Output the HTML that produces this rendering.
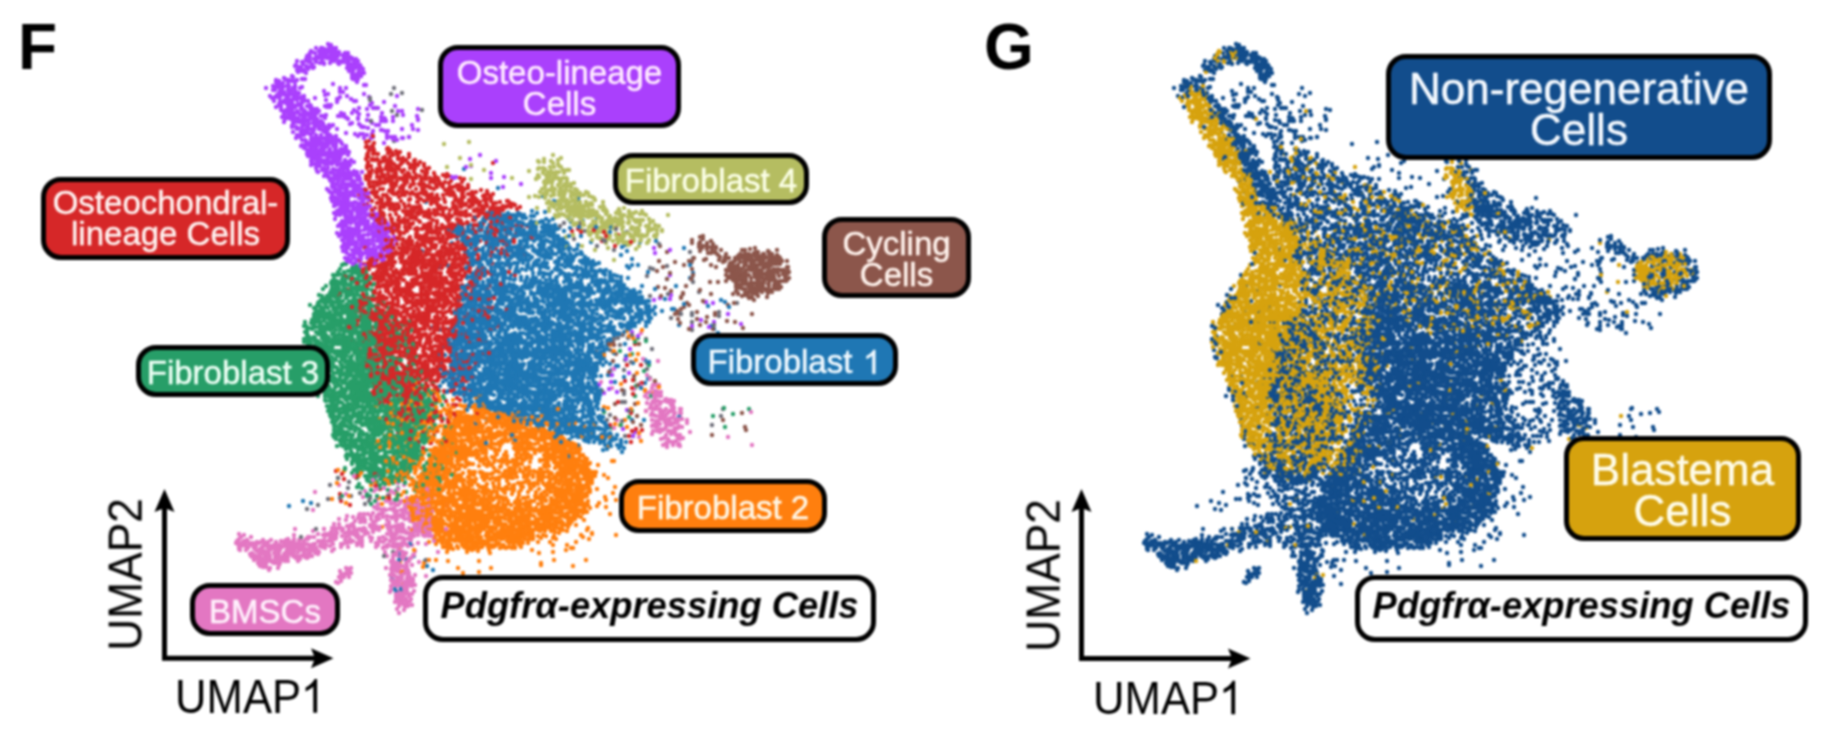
<!DOCTYPE html>
<html><head><meta charset="utf-8">
<style>
html,body{margin:0;padding:0;background:#fff;}
body{width:1822px;height:756px;position:relative;overflow:hidden;font-family:"Liberation Sans",sans-serif;}
#wrap{position:absolute;left:0;top:0;width:1822px;height:756px;filter:blur(1px);}
.lb,.pl,.um{will-change:transform;}
.sc{position:absolute;left:0;top:0;}
.ax{position:absolute;left:0;top:0;}
.lb{position:absolute;box-sizing:border-box;border:5px solid #000;border-radius:20px;display:flex;align-items:center;justify-content:center;text-align:center;color:#fff;font-size:33px;line-height:31px;white-space:nowrap;padding-top:3px;-webkit-text-stroke:0.5px currentColor;}
.big{font-size:44px;line-height:41px;}
.pd{background:#fff;color:#000;font-weight:bold;font-style:italic;font-size:36.3px;padding-top:0;padding-bottom:6px;-webkit-text-stroke:0;}
.pl{position:absolute;font-weight:bold;font-size:64px;line-height:64px;color:#000;}
.one{width:0.5562em;height:0.75em;vertical-align:baseline;fill:currentColor;display:inline-block;overflow:visible}
.lb .one path{stroke:currentColor;stroke-width:32;}
.um{position:absolute;font-size:43px;line-height:43px;color:#000;white-space:nowrap;}
</style></head><body><div id="wrap">
<svg class="sc" width="1822" height="756" viewBox="0 0 1822 756" fill="none" stroke-linecap="round" stroke-width="4.4">

<path stroke="#ff7f0e" d="M635 341h0m-25 4h0m26 15h0m-246 18h0m8 8h0m-8 1h0m10 0h0m28 2h0m217 2h0m-262 7h0m37 0h0m9 0h0m-23 2h0m7 0h0m1 2h0m69 3h0m-9 2h0m13 1h0m-81 1h0m133 0h0m-136 2h0m73 1h0m27 0h0m-25 1h0m13 1h0m12 0h0m2 0h0m6 0h0m-119 1h0m7 0h0m107 0h0m-50 1h0m3 0h0m20 0h0m25 0h0m11 0h0m-86 1h0m41 0h0m11 0h0m-14 1h0m5 0h0m24 0h0m5 0h0m2 0h0m-31 1h0m45 0h0m-98 1h0m35 0h0m0 1h0m62 0h0m1 0h0m-54 1h0m29 0h0m4 0h0m23 0h0m18 0h0m-40 1h0m97 0h0m-201 1h0m66 0h0m11 0h0m25 0h0m20 0h0m-130 1h0m64 0h0m17 0h0m4 0h0m6 0h0m72 0h0m-123 1h0m53 0h0m4 0h0m0 0h0m24 0h0m-37 1h0m28 0h0m58 0h0m-85 1h0m-81 1h0m121 0h0m4 0h0m13 0h0m6 0h0m8 0h0m46 1h0m-185 1h0m74 0h0m11 0h0m1 0h0m28 0h0m-102 1h0m84 0h0m8 0h0m-2 1h0m2 0h0m23 0h0m21 0h0m-102 1h0m10 0h0m4 0h0m5 0h0m46 0h0m40 0h0m-134 1h0m71 0h0m9 0h0m55 0h0m-106 1h0m12 0h0m53 0h0m8 0h0m7 0h0m7 0h0m21 0h0m-65 1h0m40 0h0m69 0h0m-192 1h0m79 0h0m7 0h0m12 0h0m43 0h0m-133 1h0m27 0h0m27 0h0m57 0h0m9 0h0m22 0h0m-92 1h0m89 0h0m5 0h0m3 0h0m-163 1h0m38 0h0m15 0h0m107 0h0m-104 1h0m15 0h0m7 0h0m3 0h0m43 0h0m-150 1h0m13 0h0m7 0h0m36 0h0m12 0h0m9 0h0m49 0h0m-55 1h0m4 0h0m29 0h0m1 0h0m56 0h0m36 0h0m-120 1h0m5 0h0m120 0h0m-131 1h0m123 0h0m-115 1h0m18 0h0m73 0h0m19 0h0m-119 1h0m70 0h0m26 0h0m-97 1h0m8 0h0m18 0h0m15 0h0m46 0h0m4 0h0m5 0h0m18 0h0m-40 1h0m2 0h0m15 0h0m9 0h0m-144 2h0m16 0h0m31 0h0m0 0h0m0 0h0m7 0h0m18 0h0m47 0h0m0 0h0m30 0h0m-144 1h0m4 0h0m32 0h0m10 0h0m0 0h0m36 0h0m-64 1h0m29 0h0m19 0h0m58 0h0m25 0h0m-107 1h0m21 0h0m6 0h0m48 0h0m29 0h0m21 0h0m-149 1h0m34 0h0m75 0h0m-114 1h0m18 0h0m2 0h0m89 0h0m43 0h0m4 0h0m-180 1h0m37 0h0m47 0h0m41 0h0m13 0h0m29 0h0m9 0h0m-128 1h0m7 0h0m36 0h0m22 0h0m62 0h0m-128 1h0m44 0h0m40 0h0m16 0h0m39 0h0m-150 1h0m13 0h0m3 0h0m54 0h0m3 1h0m15 0h0m13 0h0m54 0h0m-165 2h0m127 0h0m30 0h0m-158 1h0m99 0h0m48 0h0m7 0h0m26 0h0m-167 1h0m22 0h0m34 0h0m-47 1h0m130 0h0m12 0h0m-57 1h0m35 0h0m0 1h0m-127 1h0m3 0h0m8 0h0m129 0h0m16 0h0m-245 1h0m81 0h0m7 0h0m65 0h0m-16 1h0m56 0h0m28 0h0m19 0h0m-151 1h0m83 0h0m0 0h0m35 0h0m12 0h0m3 0h0m-192 1h0m34 0h0m40 0h0m2 0h0m59 0h0m6 0h0m69 0h0m-178 1h0m36 0h0m13 0h0m4 0h0m51 0h0m14 0h0m34 0h0m8 0h0m10 0h0m-174 1h0m42 0h0m-21 1h0m3 0h0m98 0h0m37 0h0m3 0h0m25 0h0m-90 1h0m8 0h0m4 0h0m30 0h0m67 0h0m-167 1h0m138 0h0m-151 1h0m31 0h0m25 0h0m12 0h0m44 0h0m-120 1h0m130 0h0m12 0h0m-112 1h0m18 0h0m3 0h0m79 0h0m-16 1h0m-145 1h0m29 0h0m22 0h0m7 0h0m8 0h0m120 0h0m12 0h0m-42 1h0m-120 1h0m152 0h0m-112 1h0m17 0h0m12 0h0m-71 1h0m15 0h0m16 0h0m14 0h0m86 0h0m-94 1h0m44 0h0m3 0h0m4 0h0m20 0h0m47 0h0m19 0h0m-183 1h0m29 0h0m30 0h0m41 0h0m43 0h0m2 0h0m7 0h0m-128 1h0m75 0h0m55 0h0m-119 1h0m116 0h0m4 0h0m21 0h0m-164 1h0m22 0h0m88 0h0m0 0h0m-97 1h0m20 0h0m-58 1h0m51 0h0m16 0h0m97 0h0m6 0h0m-82 1h0m46 0h0m25 0h0m26 0h0m-165 1h0m31 0h0m14 0h0m31 0h0m-31 1h0m7 0h0m16 0h0m29 0h0m6 0h0m12 0h0m42 0h0m-127 1h0m8 0h0m-12 1h0m128 0h0m-170 1h0m6 0h0m2 0h0m16 0h0m16 0h0m63 0h0m23 0h0m3 0h0m37 0h0m-128 1h0m37 0h0m19 0h0m16 0h0m12 0h0m28 0h0m5 0h0m-148 1h0m5 0h0m12 0h0m13 0h0m48 0h0m86 0h0m-110 1h0m6 0h0m0 0h0m11 0h0m4 0h0m43 0h0m-77 1h0m33 0h0m1 0h0m18 0h0m63 0h0m-149 1h0m41 0h0m13 0h0m13 0h0m34 0h0m-98 1h0m37 0h0m112 0h0m-85 1h0m-60 1h0m33 0h0m76 0h0m8 0h0m-24 1h0m21 0h0m32 0h0m11 0h0m-144 1h0m51 0h0m84 0h0m-157 1h0m7 0h0m31 0h0m99 0h0m-96 1h0m15 0h0m16 0h0m9 0h0m58 0h0m-126 1h0m15 0h0m60 0h0m34 0h0m1 0h0m-85 1h0m11 0h0m39 0h0m23 0h0m38 0h0m-105 1h0m8 0h0m52 0h0m57 0h0m-157 1h0m20 0h0m80 0h0m44 0h0m3 0h0m5 0h0m8 0h0m-26 1h0m-114 1h0m7 0h0m75 0h0m13 0h0m2 0h0m4 0h0m13 0h0m20 0h0m-149 1h0m83 0h0m36 0h0m-120 1h0m2 0h0m8 0h0m45 0h0m81 0h0m-93 1h0m14 0h0m7 0h0m48 0h0m1 0h0m20 0h0m2 0h0m11 0h0m-102 1h0m15 0h0m53 0h0m-95 1h0m21 0h0m7 0h0m45 0h0m34 0h0m3 0h0m17 0h0m-146 2h0m3 0h0m32 0h0m84 0h0m1 0h0m6 0h0m6 0h0m-173 1h0m35 0h0m23 0h0m73 0h0m34 0h0m-86 1h0m3 0h0m7 0h0m20 0h0m4 0h0m24 0h0m5 0h0m1 0h0m33 0h0m-74 1h0m56 0h0m-128 1h0m26 0h0m3 0h0m36 0h0m28 0h0m35 0h0m1 0h0m19 0h0m1 0h0m2 0h0m-138 1h0m21 0h0m21 0h0m37 0h0m26 0h0m0 0h0m23 0h0m-66 1h0m4 0h0m-63 1h0m11 0h0m6 0h0m0 0h0m59 0h0m8 0h0m-42 2h0m7 0h0m32 0h0m-39 1h0m2 0h0m29 0h0m-57 1h0m28 0h0m19 0h0m17 0h0m-66 1h0m-8 1h0m6 0h0m89 0h0m4 0h0m23 0h0m-117 1h0m40 1h0m32 0h0m-63 1h0m26 0h0m40 1h0m-52 1h0m16 0h0m7 0h0m4 1h0m-25 1h0m18 1h0m27 0h0m-110 2h0m133 1h0m-54 1h0m61 2h0m47 7h0m-186 2h0"/>
<path stroke="#d62728" d="M369 141h0m1 7h0m3 3h0m1 1h0m16 5h0m19 0h0m-37 2h0m1 0h0m33 1h0m-3 2h0m17 0h0m-52 2h0m33 0h0m23 0h0m-14 1h0m-39 1h0m28 0h0m12 0h0m-1 2h0m19 0h0m-30 1h0m-27 1h0m42 2h0m13 0h0m-50 1h0m31 0h0m1 2h0m16 0h0m-44 2h0m12 1h0m45 0h0m-72 1h0m68 0h0m0 1h0m-65 1h0m28 0h0m-13 2h0m55 1h0m-48 1h0m13 0h0m55 0h0m9 0h0m-40 1h0m1 1h0m29 0h0m3 1h0m-2 2h0m-70 1h0m4 0h0m31 0h0m23 0h0m-43 1h0m49 0h0m-94 2h0m51 0h0m8 0h0m6 0h0m28 0h0m2 0h0m-87 1h0m35 0h0m27 0h0m14 0h0m-67 2h0m2 0h0m21 0h0m-11 2h0m33 0h0m-20 2h0m90 0h0m-74 1h0m41 0h0m-77 1h0m72 0h0m-60 1h0m4 0h0m7 0h0m62 0h0m-6 1h0m11 0h0m-81 1h0m-6 1h0m32 0h0m2 0h0m36 1h0m37 0h0m26 1h0m0 0h0m-80 1h0m6 0h0m37 0h0m20 0h0m-23 1h0m-96 1h0m113 0h0m2 0h0m-113 1h0m26 0h0m8 0h0m10 0h0m56 0h0m-114 2h0m37 0h0m24 0h0m40 0h0m-43 1h0m-11 1h0m60 0h0m24 1h0m-108 4h0m28 0h0m48 1h0m-73 1h0m15 0h0m2 0h0m16 0h0m27 1h0m-59 1h0m46 0h0m38 0h0m38 0h0m-129 1h0m40 0h0m20 0h0m167 0h0m-199 1h0m8 0h0m3 0h0m-13 1h0m-24 2h0m7 0h0m37 0h0m-35 1h0m-14 1h0m7 0h0m43 0h0m-9 1h0m80 0h0m-83 2h0m19 0h0m8 0h0m51 0h0m-54 1h0m-64 1h0m59 0h0m53 0h0m-93 1h0m16 0h0m-13 3h0m0 1h0m45 1h0m-69 2h0m26 0h0m-19 1h0m14 0h0m1 0h0m103 0h0m-114 1h0m1 0h0m115 0h0m-100 1h0m5 0h0m64 0h0m24 0h0m-53 2h0m63 0h0m-61 1h0m-51 1h0m7 0h0m14 0h0m-33 1h0m13 0h0m74 0h0m-8 1h0m24 0h0m-47 1h0m-51 1h0m75 0h0m-59 1h0m3 0h0m2 0h0m-12 1h0m38 0h0m14 0h0m-65 1h0m-15 2h0m14 0h0m-5 1h0m2 0h0m38 0h0m23 0h0m-42 1h0m7 0h0m36 0h0m5 0h0m17 0h0m-98 1h0m9 0h0m129 0h0m-85 1h0m35 0h0m-92 1h0m17 0h0m20 0h0m21 0h0m10 0h0m-25 1h0m3 0h0m8 0h0m19 0h0m11 0h0m5 0h0m-24 1h0m31 0h0m-59 1h0m3 0h0m9 1h0m-39 1h0m16 0h0m41 0h0m18 0h0m35 0h0m-57 1h0m28 0h0m-59 1h0m10 0h0m7 0h0m13 0h0m-1 1h0m57 0h0m30 0h0m-84 1h0m-51 1h0m40 0h0m16 0h0m67 0h0m-67 1h0m-45 1h0m65 0h0m-73 1h0m21 0h0m8 0h0m16 0h0m30 0h0m-46 1h0m-42 2h0m26 0h0m55 0h0m2 0h0m-79 1h0m46 0h0m21 0h0m-58 1h0m24 0h0m26 0h0m-49 1h0m27 1h0m29 1h0m-53 1h0m77 0h0m22 0h0m-81 1h0m51 0h0m-19 2h0m8 0h0m34 0h0m-78 1h0m32 0h0m10 0h0m22 0h0m-43 1h0m15 0h0m-17 1h0m31 0h0m-78 1h0m53 0h0m-34 1h0m55 0h0m-83 1h0m64 0h0m17 0h0m33 0h0m-20 1h0m-87 1h0m46 0h0m11 0h0m19 0h0m1 0h0m9 0h0m2 0h0m-77 1h0m27 0h0m2 0h0m76 0h0m-52 1h0m-79 1h0m56 0h0m27 0h0m-61 1h0m5 0h0m3 1h0m70 0h0m-92 1h0m52 0h0m36 0h0m-60 1h0m80 0h0m-45 1h0m16 0h0m-52 1h0m-8 2h0m24 0h0m-23 1h0m19 0h0m4 0h0m47 0h0m8 0h0m-39 1h0m21 0h0m-64 1h0m39 0h0m-40 1h0m-8 1h0m30 0h0m13 0h0m-37 1h0m11 0h0m36 0h0m11 0h0m21 0h0m-93 1h0m13 0h0m3 0h0m14 0h0m-32 1h0m24 1h0m40 1h0m32 0h0m-51 1h0m8 0h0m13 1h0m62 0h0m-103 1h0m13 0h0m2 0h0m-14 1h0m4 0h0m1 0h0m17 0h0m-58 2h0m27 0h0m37 0h0m20 1h0m8 0h0m1 1h0m-26 1h0m31 0h0m-68 1h0m63 1h0m1 2h0m34 0h0m-108 1h0m3 0h0m11 0h0m67 0h0m1 0h0m20 0h0m-94 1h0m42 0h0m6 0h0m12 0h0m-35 1h0m67 0h0m-97 1h0m-1 1h0m13 0h0m49 0h0m-32 1h0m27 0h0m16 0h0m8 1h0m-76 1h0m70 0h0m-39 1h0m2 0h0m1 0h0m-52 1h0m25 0h0m8 1h0m62 0h0m-70 1h0m50 0h0m-46 1h0m10 0h0m8 0h0m-12 1h0m30 0h0m6 0h0m-64 1h0m20 0h0m42 0h0m13 0h0m6 0h0m-48 2h0m-38 1h0m30 0h0m70 0h0m-56 2h0m-32 1h0m70 0h0m-60 1h0m29 0h0m17 0h0m8 0h0m-25 1h0m-33 1h0m56 0h0m-67 2h0m42 0h0m31 0h0m0 1h0m-46 1h0m-20 2h0m52 1h0m30 0h0m169 0h0m14 0h0m-267 1h0m22 0h0m31 0h0m-38 1h0m22 1h0m17 0h0m-37 1h0m2 0h0m13 0h0m14 0h0m16 0h0m3 0h0m-56 1h0m40 0h0m6 0h0m25 0h0m-53 3h0m18 0h0m3 0h0m1 0h0m-50 1h0m69 0h0m-50 1h0m11 1h0m4 0h0m-34 1h0m58 1h0m-43 1h0m-5 1h0m12 0h0m2 0h0m33 0h0m-20 1h0m23 0h0m1 0h0m0 0h0m-18 2h0m-42 2h0m15 3h0m12 0h0m9 0h0m4 0h0m3 2h0m11 0h0m6 0h0m-9 2h0m-53 1h0m51 0h0m7 0h0m30 1h0m-58 3h0m76 0h0m-18 3h0m-14 1h0m-29 1h0m-34 2h0m30 2h0m-6 1h0m29 1h0m-56 1h0m38 0h0m-9 4h0m43 0h0m-5 1h0m-26 2h0m16 1h0m19 0h0m-29 4h0m-37 1h0m35 12h0m6 9h0m-89 31h0m38 15h0m9 6h0m-48 6h0m9 4h0"/>
<path stroke="#e377c2" d="M601 382h0m40 1h0m14 0h0m-2 2h0m-41 3h0m45 5h0m-5 1h0m6 0h0m3 2h0m-3 5h0m7 0h0m-11 1h0m17 9h0m-11 1h0m-7 3h0m9 0h0m12 0h0m-14 3h0m11 0h0m16 2h0m-11 1h0m-20 2h0m4 1h0m11 1h0m-8 5h0m11 0h0m-21 1h0m16 0h0m10 4h0m1 1h0m0 3h0m-11 2h0m7 0h0m3 3h0m-12 1h0m0 2h0m-293 44h0m-59 1h0m73 3h0m-25 2h0m14 2h0m18 2h0m15 3h0m2 1h0m3 1h0m-31 3h0m-71 1h0m69 0h0m36 0h0m4 1h0m-11 2h0m-30 1h0m-3 1h0m17 0h0m-24 1h0m16 0h0m11 0h0m-22 1h0m28 1h0m-7 1h0m12 0h0m3 0h0m-66 1h0m41 0h0m-32 1h0m5 1h0m29 0h0m-55 2h0m46 3h0m-45 1h0m-11 1h0m35 0h0m-17 2h0m20 0h0m11 0h0m18 0h0m26 0h0m-69 1h0m18 0h0m7 0h0m36 1h0m-84 1h0m62 0h0m7 0h0m-60 1h0m8 1h0m-32 1h0m4 0h0m17 0h0m5 1h0m36 0h0m27 0h0m-93 1h0m24 0h0m3 0h0m52 1h0m26 0h0m-167 1h0m50 0h0m10 0h0m14 0h0m12 0h0m32 0h0m9 0h0m-133 1h0m7 0h0m138 0h0m-124 1h0m25 0h0m92 0h0m26 0h0m-105 1h0m61 0h0m20 0h0m-135 1h0m0 0h0m1 0h0m7 0h0m137 0h0m-147 1h0m27 0h0m3 0h0m13 0h0m2 0h0m106 0h0m7 0h0m-137 2h0m37 0h0m-60 1h0m67 0h0m-19 1h0m27 0h0m-57 1h0m6 0h0m1 0h0m25 0h0m29 0h0m97 0h0m-128 1h0m29 1h0m80 0h0m10 0h0m-142 1h0m3 0h0m12 0h0m0 0h0m5 0h0m26 0h0m8 0h0m-49 1h0m35 0h0m-7 1h0m15 0h0m-32 2h0m-26 1h0m14 0h0m8 0h0m-22 1h0m28 0h0m3 1h0m106 1h0m28 0h0m-139 1h0m0 0h0m-18 1h0m89 4h0m54 2h0m-3 1h0m5 1h0m-2 1h0m10 2h0m-74 1h0m-2 1h0m5 0h0m66 0h0m-12 1h0m2 0h0m-59 2h0m53 2h0m10 0h0m-5 10h0m3 0h0m-3 2h0m2 0h0m8 0h0m0 2h0m-11 1h0m8 4h0m2 5h0m-3 1h0"/>
<path stroke="#279e68" d="M342 265h0m18 0h0m-7 2h0m0 2h0m-4 2h0m-5 1h0m16 3h0m5 0h0m-22 1h0m6 0h0m21 1h0m1 1h0m-15 3h0m-14 1h0m9 0h0m6 0h0m11 0h0m-25 1h0m-17 3h0m10 1h0m28 1h0m-30 2h0m12 0h0m26 0h0m-27 1h0m-15 2h0m3 1h0m7 0h0m1 0h0m-14 2h0m2 0h0m19 0h0m-2 1h0m-17 2h0m43 0h0m-16 1h0m-28 1h0m-9 1h0m14 0h0m36 0h0m-43 1h0m6 0h0m8 2h0m-20 1h0m14 1h0m24 0h0m-44 1h0m19 0h0m8 0h0m7 0h0m3 0h0m1 1h0m16 0h0m-33 1h0m-16 1h0m3 0h0m-7 2h0m38 0h0m14 0h0m6 0h0m-59 1h0m55 0h0m-45 1h0m16 0h0m8 0h0m28 0h0m-42 1h0m0 2h0m-19 1h0m9 0h0m0 0h0m-12 1h0m31 0h0m4 0h0m0 0h0m-8 1h0m-27 1h0m4 0h0m30 0h0m-8 1h0m19 0h0m26 0h0m1 0h0m9 0h0m4 0h0m-56 1h0m21 0h0m5 0h0m-47 2h0m7 0h0m20 0h0m0 0h0m6 0h0m12 0h0m-52 1h0m3 0h0m42 0h0m9 0h0m10 0h0m-34 1h0m40 0h0m-17 1h0m-43 1h0m13 0h0m56 0h0m-85 1h0m39 0h0m26 0h0m-67 1h0m16 0h0m43 0h0m6 0h0m39 0h0m-102 3h0m51 0h0m-34 1h0m-2 1h0m54 0h0m14 0h0m-22 1h0m12 0h0m2 0h0m-68 1h0m13 0h0m15 0h0m22 0h0m4 0h0m19 1h0m-45 1h0m4 0h0m-42 1h0m42 0h0m16 1h0m33 0h0m-63 1h0m19 0h0m8 0h0m-26 1h0m23 2h0m-44 2h0m38 0h0m3 0h0m41 0h0m-79 1h0m44 0h0m14 0h0m14 0h0m-59 1h0m16 0h0m2 0h0m274 0h0m-281 1h0m10 0h0m9 0h0m14 0h0m-12 1h0m12 0h0m2 1h0m-28 1h0m35 0h0m-24 1h0m-50 1h0m14 0h0m60 0h0m-59 1h0m20 0h0m29 0h0m-14 1h0m10 0h0m0 0h0m5 0h0m2 0h0m-38 1h0m15 0h0m34 0h0m25 0h0m-62 2h0m22 1h0m29 0h0m-48 1h0m-22 1h0m33 0h0m8 0h0m8 0h0m-19 1h0m24 0h0m-47 1h0m37 0h0m11 0h0m19 0h0m-80 1h0m26 0h0m8 0h0m40 0h0m-43 1h0m12 0h0m-48 1h0m24 0h0m15 0h0m18 0h0m9 0h0m-63 1h0m42 0h0m-12 1h0m76 0h0m-91 1h0m6 0h0m4 0h0m0 0h0m13 0h0m14 0h0m26 0h0m-52 1h0m19 0h0m16 0h0m-57 1h0m16 0h0m10 0h0m11 0h0m-35 1h0m4 0h0m43 0h0m3 0h0m-50 1h0m64 0h0m36 0h0m-103 1h0m62 0h0m-65 1h0m47 0h0m39 0h0m4 0h0m-78 1h0m7 0h0m36 0h0m-43 1h0m37 0h0m-34 1h0m0 0h0m25 0h0m6 0h0m-24 1h0m16 0h0m38 0h0m-42 1h0m78 0h0m-38 1h0m4 0h0m1 0h0m-43 1h0m16 0h0m-37 1h0m5 0h0m9 0h0m3 0h0m7 0h0m6 0h0m9 0h0m-49 1h0m0 0h0m1 0h0m88 0h0m-86 1h0m13 0h0m67 0h0m-75 1h0m73 0h0m-74 1h0m6 1h0m96 0h0m-103 1h0m24 0h0m18 0h0m57 1h0m-78 1h0m59 0h0m6 0h0m1 0h0m-36 1h0m17 0h0m10 0h0m4 0h0m-75 1h0m12 0h0m18 0h0m7 0h0m3 0h0m2 0h0m8 0h0m-31 1h0m8 0h0m13 0h0m21 0h0m20 0h0m-89 1h0m7 0h0m18 0h0m11 0h0m3 0h0m29 0h0m-64 1h0m32 0h0m1 0h0m40 0h0m2 0h0m-84 1h0m27 0h0m12 0h0m57 0h0m-59 1h0m33 0h0m7 0h0m4 0h0m0 0h0m20 0h0m10 0h0m-44 1h0m40 0h0m-99 1h0m24 0h0m9 0h0m13 0h0m8 0h0m23 0h0m-63 1h0m5 0h0m4 0h0m11 0h0m-41 1h0m20 0h0m25 0h0m19 0h0m2 0h0m14 0h0m2 0h0m4 0h0m11 0h0m11 0h0m-99 1h0m30 0h0m19 0h0m4 0h0m-18 1h0m21 0h0m-58 1h0m18 0h0m45 0h0m3 0h0m8 0h0m-57 1h0m1 0h0m13 0h0m40 0h0m-19 1h0m36 0h0m210 0h0m-289 1h0m16 0h0m16 0h0m-6 1h0m2 0h0m-15 1h0m11 0h0m25 0h0m-33 1h0m8 0h0m21 0h0m16 0h0m-19 1h0m21 0h0m1 0h0m18 0h0m1 0h0m0 0h0m-68 1h0m17 0h0m3 0h0m26 0h0m225 0h0m-229 1h0m-67 1h0m37 0h0m46 0h0m18 0h0m-49 1h0m-40 1h0m22 0h0m38 0h0m7 0h0m14 0h0m-75 1h0m53 0h0m-53 1h0m35 0h0m7 0h0m6 0h0m-35 1h0m1 0h0m43 0h0m-73 1h0m32 0h0m3 0h0m23 0h0m2 1h0m-55 1h0m68 0h0m9 0h0m-48 1h0m61 0h0m182 0h0m-271 1h0m57 0h0m3 0h0m-60 1h0m14 0h0m24 0h0m45 0h0m7 0h0m-90 1h0m57 0h0m26 0h0m-62 1h0m13 0h0m41 0h0m29 0h0m-57 2h0m24 0h0m-75 1h0m8 0h0m8 0h0m48 0h0m33 0h0m-65 1h0m54 0h0m-28 1h0m35 0h0m-71 1h0m15 0h0m-33 1h0m20 0h0m6 1h0m35 0h0m-42 1h0m20 0h0m1 0h0m36 0h0m4 0h0m4 1h0m-37 1h0m23 0h0m13 0h0m-44 1h0m20 0h0m-59 1h0m26 0h0m22 0h0m7 0h0m-40 1h0m-5 1h0m48 0h0m3 0h0m6 0h0m10 0h0m-70 1h0m0 0h0m10 0h0m25 0h0m9 0h0m18 0h0m0 1h0m-48 1h0m1 0h0m9 0h0m39 0h0m-38 1h0m37 0h0m3 0h0m2 0h0m2 0h0m-28 1h0m2 0h0m4 0h0m3 0h0m3 0h0m9 0h0m-4 1h0m-47 2h0m15 0h0m3 0h0m39 0h0m-56 1h0m10 0h0m5 0h0m38 0h0m-66 1h0m24 0h0m-14 1h0m27 0h0m29 0h0m-53 2h0m5 1h0m-13 1h0m29 0h0m32 0h0m-12 1h0m-25 1h0m15 0h0m-33 1h0m30 0h0m-4 1h0m25 1h0m-64 1h0m23 0h0m16 0h0m7 0h0m4 0h0m35 0h0m-85 1h0m34 0h0m-19 1h0m39 0h0m-37 1h0m25 0h0m23 0h0m-29 1h0m-29 1h0m6 0h0m47 0h0m-21 2h0m-30 1h0m21 0h0m17 0h0m4 0h0m-3 1h0m-10 2h0m4 0h0m2 2h0m-13 1h0m-5 8h0m-4 4h0"/>
<path stroke="#aa40fc" d="M321 48h0m3 1h0m0 1h0m1 0h0m7 0h0m-5 2h0m-2 1h0m21 0h0m-20 2h0m17 0h0m-16 1h0m4 0h0m2 0h0m-12 1h0m26 0h0m-19 1h0m7 0h0m1 1h0m8 0h0m-37 2h0m3 0h0m12 0h0m9 0h0m8 0h0m-36 1h0m17 1h0m-17 1h0m-7 1h0m52 1h0m-49 1h0m0 2h0m-2 1h0m56 5h0m5 4h0m0 0h0m-69 1h0m8 0h0m-20 5h0m18 1h0m-18 1h0m21 7h0m-13 1h0m40 0h0m-28 1h0m-17 1h0m7 0h0m0 1h0m13 0h0m4 1h0m-17 1h0m-3 1h0m20 0h0m-18 2h0m5 2h0m2 0h0m4 0h0m-5 1h0m19 0h0m-21 1h0m3 0h0m37 0h0m-28 1h0m-1 1h0m13 0h0m-33 1h0m121 1h0m-87 1h0m-5 1h0m-26 1h0m6 0h0m10 0h0m68 1h0m-47 1h0m2 0h0m-29 1h0m19 0h0m-25 1h0m70 0h0m-10 1h0m37 0h0m-92 1h0m28 1h0m-3 2h0m-1 2h0m16 0h0m79 0h0m-120 1h0m25 0h0m8 1h0m-28 2h0m12 0h0m2 0h0m8 0h0m83 0h0m-101 2h0m2 0h0m43 2h0m26 1h0m-69 1h0m92 2h0m-77 1h0m10 0h0m75 0h0m-87 1h0m20 0h0m-4 1h0m-26 1h0m6 0h0m17 0h0m4 0h0m-22 2h0m-5 1h0m36 0h0m-41 2h0m15 2h0m6 0h0m24 0h0m-16 2h0m-16 2h0m4 0h0m20 0h0m-6 1h0m-25 1h0m18 1h0m16 0h0m139 0h0m-143 2h0m-4 2h0m-7 1h0m-15 1h0m25 0h0m-17 2h0m27 0h0m-3 4h0m-10 2h0m7 0h0m4 0h0m-18 3h0m16 3h0m5 0h0m2 0h0m-21 1h0m16 0h0m7 0h0m6 1h0m-23 1h0m-4 2h0m31 3h0m-8 1h0m-21 1h0m10 3h0m23 1h0m-1 1h0m-25 3h0m6 0h0m20 3h0m-27 3h0m25 2h0m-15 2h0m5 1h0m6 1h0m-25 1h0m12 0h0m7 1h0m-8 1h0m0 0h0m-1 1h0m16 0h0m3 0h0m-11 5h0m17 0h0m-10 1h0m-4 3h0m25 1h0m-35 2h0m23 0h0m-17 2h0m8 0h0m-16 2h0m32 1h0m-6 1h0m-21 1h0m17 0h0m-7 1h0m35 0h0m-42 3h0m-6 1h0m7 0h0m7 0h0m-18 1h0m31 0h0m-18 1h0m-5 1h0m14 0h0m23 0h0m-28 1h0m2 0h0m17 0h0m6 0h0m-38 1h0m40 1h0m0 0h0m-43 1h0m37 1h0m-25 1h0m14 0h0m20 0h0m-35 1h0m-6 1h0m6 0h0m16 0h0m-21 4h0m9 0h0m8 0h0m27 0h0m262 0h0m-273 2h0m-38 1h0m18 1h0m21 0h0m-35 1h0m12 1h0m-9 1h0m4 2h0m-4 5h0m5 1h0m5 4h0m311 28h0m-17 5h0m60 22h0m-85 51h0m6 59h0"/>
<path stroke="#1f77b4" d="M532 211h0m-12 4h0m4 0h0m-37 2h0m-3 1h0m8 0h0m16 1h0m6 2h0m-53 2h0m0 0h0m62 0h0m14 0h0m-78 1h0m40 0h0m-31 1h0m4 0h0m23 0h0m0 0h0m52 0h0m1 0h0m7 0h0m-82 1h0m5 0h0m18 0h0m18 0h0m-60 1h0m51 0h0m26 0h0m24 0h0m-73 1h0m48 0h0m19 0h0m-57 2h0m1 0h0m61 0h0m-92 1h0m18 0h0m20 0h0m46 0h0m18 0h0m-74 1h0m1 0h0m25 0h0m26 0h0m-34 1h0m8 1h0m34 0h0m-60 1h0m47 0h0m-60 1h0m63 0h0m10 0h0m8 0h0m-91 1h0m86 0h0m-96 1h0m47 0h0m9 0h0m1 0h0m-25 1h0m-24 1h0m2 1h0m19 0h0m20 0h0m28 0h0m-24 1h0m81 0h0m-118 1h0m87 0h0m7 0h0m-58 1h0m116 1h0m-107 1h0m14 0h0m-39 1h0m17 0h0m5 0h0m25 1h0m10 0h0m9 0h0m11 0h0m-60 1h0m-32 1h0m4 0h0m27 0h0m36 0h0m24 0h0m-147 1h0m54 0h0m-4 2h0m19 0h0m-20 1h0m12 0h0m0 1h0m38 0h0m23 0h0m-34 1h0m39 0h0m-51 2h0m20 0h0m-19 1h0m73 0h0m60 0h0m-158 1h0m47 0h0m44 0h0m-78 1h0m49 0h0m23 0h0m-85 1h0m112 0h0m7 0h0m-46 1h0m-74 1h0m69 0h0m27 0h0m-69 1h0m6 0h0m30 0h0m91 1h0m-128 1h0m78 0h0m-93 1h0m89 0h0m-89 1h0m32 0h0m16 0h0m-53 1h0m98 0h0m9 0h0m-106 1h0m38 0h0m43 0h0m31 0h0m-108 1h0m164 0h0m-64 1h0m-106 1h0m33 1h0m-44 1h0m10 0h0m7 0h0m-13 1h0m33 0h0m17 0h0m-54 1h0m11 0h0m25 1h0m7 0h0m25 0h0m-9 1h0m75 0h0m-48 1h0m15 0h0m53 0h0m-138 1h0m9 0h0m100 0h0m-97 1h0m6 0h0m38 0h0m67 0h0m-110 1h0m-8 1h0m23 0h0m35 0h0m23 0h0m50 0h0m-116 1h0m6 0h0m4 0h0m46 0h0m-84 1h0m29 0h0m34 0h0m9 0h0m-63 1h0m14 0h0m18 0h0m10 0h0m81 0h0m1 0h0m-122 1h0m9 0h0m19 0h0m1 0h0m24 0h0m8 0h0m6 0h0m32 0h0m42 0h0m-133 1h0m44 0h0m-52 1h0m1 0h0m2 0h0m100 0h0m43 0h0m-126 1h0m6 0h0m-13 1h0m13 0h0m22 1h0m12 0h0m5 0h0m29 0h0m-116 1h0m115 0h0m-109 1h0m77 0h0m42 0h0m32 0h0m10 0h0m5 0h0m-128 1h0m49 0h0m55 0h0m-103 1h0m54 0h0m21 0h0m42 0h0m5 0h0m-160 1h0m146 0h0m9 0h0m-128 1h0m58 0h0m40 0h0m0 0h0m44 0h0m81 0h0m-251 1h0m41 0h0m24 0h0m90 0h0m4 0h0m6 0h0m14 0h0m-164 1h0m39 0h0m201 0h0m-243 1h0m44 0h0m56 0h0m41 0h0m11 0h0m8 0h0m-84 1h0m22 0h0m9 0h0m16 0h0m-130 1h0m63 0h0m47 0h0m21 0h0m20 0h0m-137 1h0m27 0h0m32 0h0m3 0h0m4 0h0m19 0h0m-105 1h0m13 0h0m15 0h0m16 0h0m9 0h0m44 0h0m-92 1h0m16 0h0m64 0h0m92 0h0m-175 1h0m44 1h0m124 0h0m-130 1h0m46 0h0m1 0h0m7 0h0m1 0h0m29 0h0m-83 1h0m28 0h0m11 0h0m-71 1h0m67 0h0m14 0h0m15 0h0m19 0h0m53 0h0m9 1h0m-171 1h0m22 0h0m48 0h0m65 0h0m0 0h0m-146 1h0m107 0h0m60 0h0m1 0h0m7 0h0m-183 1h0m26 0h0m2 0h0m4 0h0m22 0h0m3 0h0m3 0h0m21 0h0m13 0h0m3 0h0m29 0h0m25 0h0m-156 1h0m17 0h0m7 0h0m65 0h0m21 0h0m62 0h0m-156 1h0m1 0h0m31 0h0m9 0h0m31 0h0m101 0h0m-191 1h0m34 0h0m72 0h0m9 0h0m-24 1h0m-85 1h0m1 0h0m30 0h0m27 0h0m3 0h0m24 0h0m83 0h0m14 0h0m-161 1h0m2 0h0m10 0h0m1 0h0m28 0h0m3 0h0m30 0h0m25 0h0m49 0h0m-177 1h0m34 0h0m50 0h0m27 0h0m11 0h0m1 0h0m-155 1h0m63 0h0m11 0h0m27 0h0m14 0h0m5 0h0m4 0h0m4 0h0m9 0h0m67 0h0m51 0h0m-186 1h0m17 0h0m14 0h0m2 0h0m4 0h0m5 0h0m33 0h0m53 0h0m11 0h0m14 0h0m-177 1h0m18 0h0m14 0h0m49 0h0m7 0h0m11 0h0m4 0h0m19 0h0m-120 1h0m29 0h0m25 0h0m2 0h0m58 0h0m16 0h0m-119 1h0m66 0h0m166 0h0m-219 1h0m47 0h0m56 0h0m-127 1h0m17 0h0m45 0h0m13 0h0m11 0h0m18 0h0m30 0h0m-142 1h0m18 0h0m25 0h0m47 0h0m29 0h0m-126 1h0m74 0h0m23 0h0m165 0h0m-213 1h0m8 0h0m52 0h0m15 0h0m2 0h0m-133 1h0m61 0h0m9 0h0m33 0h0m12 0h0m1 0h0m-99 1h0m91 0h0m-81 1h0m23 0h0m11 0h0m18 0h0m12 0h0m24 0h0m20 0h0m-110 1h0m8 0h0m1 0h0m37 0h0m22 0h0m19 0h0m22 0h0m5 0h0m-112 1h0m137 0h0m-151 1h0m41 0h0m5 0h0m25 0h0m13 0h0m65 0h0m-125 1h0m10 0h0m7 0h0m17 0h0m37 0h0m18 0h0m32 0h0m-138 1h0m54 0h0m22 0h0m1 0h0m15 0h0m-101 1h0m47 0h0m1 0h0m6 0h0m4 0h0m4 0h0m61 0h0m-51 1h0m7 0h0m4 0h0m25 0h0m12 0h0m-74 1h0m-54 1h0m15 0h0m0 0h0m64 0h0m52 0h0m-107 1h0m42 0h0m38 0h0m-18 1h0m1 0h0m50 0h0m-134 1h0m3 0h0m75 0h0m3 0h0m17 0h0m7 0h0m-66 1h0m6 0h0m7 0h0m74 0h0m-130 1h0m27 0h0m13 0h0m53 0h0m25 0h0m-119 1h0m83 0h0m32 0h0m27 0h0m4 0h0m5 0h0m-137 1h0m9 0h0m4 0h0m38 0h0m23 0h0m6 0h0m16 0h0m29 0h0m-149 1h0m20 0h0m9 0h0m-24 1h0m72 0h0m26 0h0m12 0h0m1 0h0m-102 1h0m41 0h0m48 0h0m42 0h0m11 0h0m-116 1h0m7 0h0m4 0h0m50 0h0m22 0h0m10 0h0m26 0h0m-136 1h0m16 0h0m65 0h0m3 0h0m57 0h0m-127 1h0m37 0h0m2 0h0m25 0h0m-87 1h0m33 0h0m7 0h0m10 0h0m48 0h0m38 0h0m-99 1h0m67 0h0m7 0h0m13 0h0m-97 1h0m14 0h0m21 0h0m-48 1h0m29 0h0m18 0h0m24 0h0m33 0h0m2 0h0m3 0h0m9 0h0m-134 1h0m23 0h0m28 0h0m6 0h0m51 0h0m6 0h0m1 0h0m18 0h0m-95 1h0m4 0h0m16 0h0m19 0h0m32 0h0m34 0h0m-59 1h0m33 0h0m9 0h0m38 0h0m-157 1h0m11 0h0m5 0h0m81 0h0m29 0h0m2 0h0m10 0h0m-139 1h0m31 0h0m44 0h0m27 0h0m-103 1h0m27 0h0m6 0h0m17 0h0m1 0h0m2 0h0m7 0h0m70 0h0m-111 1h0m11 0h0m32 0h0m3 0h0m36 0h0m34 0h0m-125 1h0m111 0h0m1 0h0m3 0h0m-116 1h0m50 0h0m59 0h0m16 0h0m-119 1h0m53 0h0m40 0h0m14 0h0m-140 1h0m12 0h0m2 0h0m48 0h0m13 0h0m36 0h0m1 0h0m20 0h0m-104 1h0m28 0h0m8 0h0m90 0h0m-128 1h0m4 0h0m21 0h0m0 0h0m34 0h0m59 0h0m-65 1h0m18 0h0m-38 1h0m27 0h0m17 0h0m41 0h0m-131 1h0m35 0h0m11 0h0m14 1h0m24 0h0m22 0h0m-105 1h0m4 0h0m37 0h0m55 0h0m24 0h0m-52 1h0m11 0h0m-27 1h0m53 0h0m3 0h0m12 0h0m72 0h0m-193 1h0m42 0h0m16 0h0m69 0h0m4 0h0m-103 1h0m34 0h0m24 0h0m17 0h0m2 0h0m31 0h0m8 0h0m-141 1h0m14 0h0m23 0h0m0 0h0m31 0h0m35 0h0m-104 1h0m6 0h0m3 0h0m18 0h0m36 0h0m20 0h0m31 0h0m-114 1h0m37 0h0m21 0h0m13 0h0m48 0h0m8 0h0m-112 1h0m8 0h0m37 0h0m2 0h0m9 0h0m-34 1h0m14 0h0m41 0h0m46 0h0m-138 1h0m48 0h0m9 0h0m52 0h0m-78 1h0m49 0h0m20 0h0m-83 1h0m38 0h0m16 0h0m13 0h0m12 0h0m2 0h0m-98 1h0m74 0h0m18 0h0m33 0h0m16 0h0m-72 1h0m43 0h0m13 0h0m17 0h0m-132 1h0m20 1h0m51 0h0m0 0h0m17 0h0m-8 1h0m6 0h0m48 0h0m-90 1h0m34 0h0m8 0h0m-85 1h0m89 0h0m25 0h0m18 0h0m-116 1h0m27 0h0m25 0h0m32 0h0m6 0h0m24 0h0m-101 1h0m0 0h0m2 0h0m71 0h0m11 0h0m-56 1h0m56 0h0m-93 1h0m38 0h0m22 0h0m13 0h0m-38 1h0m21 0h0m-34 1h0m13 0h0m34 0h0m37 0h0m-109 1h0m17 1h0m1 0h0m0 0h0m21 0h0m2 0h0m5 0h0m6 0h0m1 0h0m1 0h0m11 0h0m12 0h0m-32 1h0m30 0h0m27 0h0m5 0h0m-34 2h0m22 1h0m-62 1h0m9 0h0m37 0h0m12 0h0m16 0h0m-16 1h0m21 0h0m-122 3h0m114 0h0m-55 1h0m36 0h0m5 0h0m1 0h0m-21 1h0m19 0h0m1 0h0m21 0h0m-15 1h0m-12 3h0m7 0h0m18 0h0m-48 2h0m19 0h0m1 0h0m3 0h0m15 1h0m14 0h0m-27 1h0m17 0h0m-8 1h0m22 0h0m-59 1h0m33 2h0m1 0h0m-12 2h0m18 0h0m30 0h0m0 2h0m-19 1h0m-19 1h0m8 0h0m15 0h0m9 0h0m1 2h0m5 5h0m7 1h0m2 3h0m5 0h0m-335 58h0m125 50h0m-8 3h0"/>
<path stroke="#8c564b" d="M699 244h0m8 1h0m5 3h0m-5 1h0m-7 2h0m14 1h0m44 0h0m-42 1h0m38 0h0m10 1h0m-11 1h0m4 1h0m-32 1h0m24 0h0m17 0h0m7 0h0m-47 1h0m20 0h0m14 0h0m3 0h0m-24 1h0m18 0h0m19 1h0m3 0h0m-25 1h0m28 0h0m-36 1h0m-55 1h0m40 1h0m49 0h0m-42 1h0m6 1h0m8 1h0m17 3h0m14 0h0m-44 2h0m48 0h0m2 0h0m-46 1h0m-3 2h0m6 0h0m22 0h0m-37 1h0m28 0h0m-13 1h0m20 1h0m23 0h0m-47 1h0m22 0h0m-27 2h0m6 1h0m3 0h0m18 0h0m-28 1h0m1 0h0m16 0h0m3 0h0m19 0h0m-12 2h0m-25 1h0m12 0h0m1 3h0m9 0h0m6 0h0m13 0h0m-13 1h0m-8 1h0m-20 2h0m-5 1h0m34 3h0m-92 17h0m32 3h0m-10 2h0m30 2h0m-14 8h0m-97 25h0m-7 21h0m46 6h0m-40 23h0m20 0h0"/>
<path stroke="#b5bd61" d="M469 142h0m84 13h0m-14 7h0m14 1h0m-106 4h0m91 2h0m7 0h0m11 3h0m-5 1h0m3 0h0m1 1h0m0 1h0m-18 3h0m11 0h0m18 0h0m-13 1h0m6 0h0m1 0h0m-15 2h0m16 0h0m-14 1h0m24 5h0m-19 1h0m-6 3h0m40 1h0m-41 1h0m32 0h0m-23 2h0m5 0h0m-24 1h0m27 4h0m5 0h0m7 0h0m4 1h0m-3 1h0m-26 1h0m2 1h0m18 2h0m6 0h0m28 0h0m-49 1h0m-17 1h0m36 0h0m5 0h0m26 0h0m20 0h0m-41 1h0m36 0h0m-52 2h0m30 1h0m-7 1h0m44 0h0m-64 1h0m11 0h0m25 0h0m-15 1h0m4 0h0m-17 1h0m5 0h0m2 0h0m3 1h0m21 0h0m-29 1h0m69 1h0m-77 1h0m30 0h0m33 0h0m6 0h0m-12 1h0m-13 1h0m23 0h0m-34 1h0m13 2h0m-9 1h0m-20 1h0m12 0h0m35 1h0m-55 1h0m67 1h0m14 0h0m-69 1h0m42 1h0m-29 1h0m10 1h0m14 0h0m8 1h0m-17 1h0m12 0h0m21 0h0m-88 1h0m41 1h0m10 1h0m-4 2h0m10 1h0m4 0h0m21 0h0m-1 1h0"/>
<path stroke="#6f6f7a" d="M397 115h0m12 22h0m-15 4h0m203 105h0m140 57h0m-141 49h0m127 57h0m-98 27h0m-265 57h0m28 3h0m14 78h0m-1 21h0"/>
<path stroke="#b5bd61" d="M460 158h0m98 2h0m-14 2h0m-5 6h0m24 2h0m-20 2h0m13 2h0m-2 4h0m9 0h0m-14 4h0m2 0h0m9 0h0m-2 3h0m10 1h0m-7 2h0m-21 4h0m13 0h0m0 0h0m6 0h0m13 0h0m-18 1h0m34 0h0m-17 2h0m13 0h0m-4 1h0m48 2h0m-55 2h0m-15 1h0m17 1h0m28 0h0m-42 2h0m19 0h0m12 0h0m-3 1h0m-1 1h0m-27 3h0m45 1h0m-37 1h0m12 0h0m-3 1h0m42 0h0m16 0h0m-7 1h0m-54 2h0m8 1h0m9 0h0m30 0h0m-33 1h0m43 0h0m-11 2h0m19 1h0m-58 1h0m71 0h0m-13 4h0m-32 1h0m38 0h0m-38 1h0m15 0h0m9 0h0m-32 1h0m38 0h0m-42 1h0m54 0h0m-11 1h0m-92 2h0m42 0h0m8 0h0m41 0h0m-41 2h0m34 2h0m8 0h0m6 0h0m-48 1h0m12 0h0m10 2h0m15 1h0m-12 1h0m8 1h0m0 2h0"/>
<path stroke="#ff7f0e" d="M613 352h0m-196 23h0m-27 8h0m23 4h0m239 6h0m-261 1h0m4 1h0m20 2h0m38 3h0m-76 3h0m28 1h0m70 1h0m-60 1h0m-11 2h0m88 0h0m-9 1h0m2 0h0m4 0h0m-43 1h0m100 0h0m-67 1h0m-28 1h0m6 0h0m-4 1h0m36 0h0m-94 1h0m102 0h0m-103 1h0m34 0h0m55 0h0m14 0h0m-29 1h0m40 0h0m-96 1h0m81 0h0m54 0h0m-69 1h0m32 0h0m-130 1h0m93 0h0m0 0h0m27 0h0m1 0h0m-42 1h0m4 0h0m15 0h0m-89 1h0m60 0h0m20 0h0m81 0h0m-156 1h0m70 0h0m51 0h0m-35 1h0m6 0h0m16 0h0m26 0h0m-57 1h0m58 0h0m-107 1h0m4 0h0m114 0h0m80 0h0m-201 1h0m14 0h0m20 0h0m58 0h0m27 0h0m-78 1h0m65 0h0m17 0h0m85 0h0m-229 1h0m66 0h0m14 0h0m11 0h0m28 0h0m49 0h0m-167 1h0m36 0h0m19 0h0m7 0h0m3 0h0m11 0h0m15 0h0m26 0h0m-62 1h0m24 0h0m12 0h0m44 0h0m2 0h0m-131 1h0m58 0h0m2 0h0m10 0h0m3 0h0m28 0h0m-51 1h0m36 0h0m50 0h0m-124 1h0m30 0h0m22 0h0m44 0h0m15 0h0m15 0h0m4 0h0m8 0h0m84 0h0m-177 1h0m3 0h0m59 0h0m-65 1h0m16 0h0m26 0h0m-16 2h0m35 0h0m31 0h0m33 0h0m-79 1h0m-54 1h0m5 0h0m108 0h0m-117 1h0m35 0h0m-40 1h0m-42 1h0m164 0h0m2 0h0m-114 1h0m21 0h0m9 0h0m9 0h0m11 0h0m23 0h0m30 0h0m17 0h0m-125 1h0m52 0h0m29 0h0m42 0h0m-122 1h0m26 0h0m-61 1h0m145 0h0m21 0h0m-3 1h0m32 0h0m-172 1h0m28 0h0m3 0h0m56 0h0m29 0h0m26 0h0m-115 1h0m84 0h0m-109 1h0m24 0h0m1 0h0m36 0h0m-94 1h0m14 0h0m47 0h0m12 0h0m62 0h0m26 0h0m-108 1h0m9 0h0m96 0h0m12 0h0m-115 1h0m15 0h0m71 0h0m27 0h0m-97 1h0m89 0h0m1 0h0m-98 1h0m94 0h0m21 0h0m-181 1h0m9 0h0m170 0h0m-203 1h0m180 0h0m6 0h0m2 0h0m6 0h0m-114 1h0m2 0h0m57 0h0m10 0h0m-138 1h0m8 0h0m55 0h0m73 0h0m-75 1h0m63 0h0m56 0h0m-140 2h0m0 0h0m9 0h0m51 0h0m25 0h0m40 0h0m23 0h0m-166 1h0m41 0h0m94 0h0m21 0h0m17 0h0m-190 1h0m56 0h0m23 0h0m49 0h0m67 0h0m-129 1h0m2 0h0m107 0h0m-163 1h0m49 0h0m103 0h0m12 0h0m-140 1h0m16 0h0m19 0h0m35 0h0m-66 1h0m77 0h0m50 0h0m9 0h0m0 1h0m14 0h0m3 0h0m-162 1h0m6 0h0m10 0h0m-6 1h0m34 0h0m37 0h0m24 0h0m-84 1h0m53 0h0m16 0h0m8 0h0m65 0h0m2 0h0m-190 1h0m47 0h0m46 0h0m65 0h0m2 0h0m16 0h0m14 0h0m-183 1h0m45 0h0m39 0h0m20 0h0m30 0h0m34 0h0m-172 1h0m82 0h0m41 0h0m34 0h0m-201 1h0m144 0h0m25 0h0m66 0h0m-172 1h0m46 0h0m65 0h0m5 0h0m17 0h0m-146 1h0m60 0h0m24 0h0m-8 1h0m65 0h0m22 0h0m-146 1h0m35 0h0m95 0h0m1 0h0m35 0h0m-161 1h0m7 0h0m19 0h0m4 0h0m98 0h0m-132 1h0m26 0h0m-21 1h0m19 0h0m4 0h0m64 0h0m47 0h0m14 0h0m8 0h0m-165 1h0m7 0h0m7 0h0m95 0h0m6 0h0m-119 1h0m131 0h0m23 0h0m-139 1h0m15 0h0m45 0h0m87 0h0m-124 1h0m66 0h0m44 0h0m-55 1h0m39 0h0m0 0h0m-137 1h0m142 0h0m22 0h0m4 0h0m-152 1h0m0 0h0m39 0h0m52 0h0m-100 1h0m57 0h0m11 0h0m5 0h0m-30 1h0m72 0h0m22 0h0m10 0h0m13 0h0m-150 1h0m0 0h0m127 0h0m29 0h0m-157 1h0m2 0h0m26 0h0m27 0h0m12 0h0m15 0h0m7 1h0m36 0h0m19 0h0m-151 1h0m18 0h0m38 0h0m-51 1h0m37 0h0m26 0h0m10 0h0m43 0h0m-165 1h0m6 0h0m12 0h0m49 0h0m49 0h0m-79 1h0m48 0h0m77 0h0m-118 1h0m18 0h0m14 0h0m8 0h0m7 0h0m5 0h0m5 0h0m23 0h0m38 0h0m13 0h0m-108 1h0m6 0h0m4 0h0m8 0h0m67 0h0m32 0h0m-130 1h0m135 0h0m-78 1h0m-67 1h0m34 0h0m19 0h0m27 0h0m49 0h0m-134 1h0m27 0h0m11 0h0m69 0h0m25 0h0m28 0h0m4 0h0m6 0h0m-169 1h0m17 0h0m20 0h0m0 0h0m72 0h0m0 0h0m37 0h0m0 0h0m32 0h0m-191 1h0m18 0h0m19 0h0m5 0h0m23 0h0m2 0h0m14 0h0m55 0h0m2 0h0m3 0h0m37 0h0m-10 1h0m-125 1h0m1 0h0m76 0h0m44 0h0m0 0h0m3 0h0m-162 1h0m27 0h0m45 0h0m26 0h0m16 0h0m20 0h0m-101 1h0m1 0h0m4 0h0m2 0h0m109 0h0m-123 1h0m3 0h0m21 0h0m60 0h0m34 0h0m15 0h0m14 0h0m3 0h0m-110 1h0m74 0h0m-138 1h0m2 0h0m23 0h0m92 0h0m12 0h0m5 0h0m-121 1h0m58 0h0m23 0h0m20 0h0m-101 1h0m21 0h0m38 0h0m58 0h0m9 0h0m15 0h0m-136 1h0m2 0h0m2 0h0m1 0h0m12 0h0m69 0h0m-19 1h0m45 0h0m-46 1h0m2 0h0m-63 1h0m30 0h0m5 0h0m27 0h0m21 0h0m-89 1h0m39 0h0m103 0h0m-109 2h0m35 0h0m15 0h0m2 0h0m15 0h0m19 0h0m11 0h0m3 0h0m-112 1h0m67 0h0m-84 1h0m16 0h0m3 0h0m34 0h0m-21 1h0m71 0h0m13 0h0m4 0h0m0 0h0m-98 1h0m72 0h0m13 0h0m-117 1h0m51 0h0m4 0h0m109 0h0m-171 1h0m39 0h0m104 0h0m-140 1h0m13 0h0m11 0h0m10 0h0m1 0h0m20 0h0m35 0h0m77 0h0m-158 1h0m21 0h0m13 0h0m70 0h0m18 0h0m-91 1h0m6 0h0m62 0h0m27 0h0m-56 1h0m-52 1h0m0 0h0m47 0h0m11 0h0m8 0h0m-27 1h0m95 0h0m-109 1h0m44 0h0m3 0h0m-53 1h0m10 0h0m33 0h0m74 0h0m-103 1h0m44 0h0m-89 1h0m9 0h0m11 0h0m75 0h0m2 0h0m57 0h0m-109 1h0m-7 1h0m34 0h0m-37 1h0m39 1h0m-34 1h0m8 0h0m5 0h0m-21 1h0m28 0h0m8 0h0m50 0h0m-40 1h0m-70 1h0m24 0h0m21 0h0m-30 1h0m42 0h0m6 0h0m6 0h0m59 0h0m2 0h0m-120 1h0m17 0h0m-3 3h0m-31 8h0m105 5h0m-62 7h0m-82 10h0"/>
<path stroke="#1f77b4" d="M543 196h0m35 3h0m-60 14h0m-19 2h0m12 0h0m13 0h0m-35 1h0m44 0h0m1 0h0m-86 2h0m41 0h0m6 0h0m11 0h0m40 1h0m-61 1h0m23 1h0m-24 1h0m87 0h0m-91 1h0m15 0h0m3 0h0m10 0h0m4 1h0m-23 1h0m-31 1h0m10 1h0m39 0h0m29 0h0m75 0h0m-150 1h0m7 0h0m19 0h0m-19 1h0m28 0h0m1 0h0m6 0h0m-24 1h0m2 0h0m51 0h0m-77 1h0m20 0h0m71 0h0m-77 1h0m24 0h0m26 0h0m4 0h0m18 0h0m13 0h0m-20 1h0m15 0h0m-29 1h0m-34 1h0m29 0h0m9 0h0m30 0h0m-92 1h0m1 0h0m15 0h0m27 2h0m23 0h0m9 0h0m4 0h0m-77 1h0m37 2h0m0 0h0m5 1h0m-54 1h0m25 0h0m67 0h0m-75 1h0m3 0h0m55 0h0m15 0h0m16 0h0m2 0h0m-74 1h0m80 0h0m12 0h0m-69 2h0m19 0h0m-39 1h0m51 0h0m144 0h0m-209 2h0m63 1h0m21 0h0m68 0h0m-162 1h0m9 0h0m66 0h0m9 2h0m7 0h0m-57 1h0m65 0h0m-42 1h0m25 0h0m-52 1h0m37 0h0m42 0h0m-93 1h0m30 0h0m20 0h0m14 0h0m14 0h0m-85 2h0m52 0h0m13 0h0m-61 1h0m79 0h0m-87 1h0m9 0h0m111 0h0m-56 1h0m2 0h0m60 1h0m-68 1h0m34 0h0m32 0h0m-146 1h0m21 0h0m88 0h0m-66 1h0m55 0h0m-6 1h0m8 0h0m9 0h0m-26 1h0m-40 1h0m91 0h0m3 0h0m-102 2h0m21 0h0m82 0h0m-47 1h0m24 0h0m40 0h0m-101 1h0m37 0h0m37 0h0m9 0h0m20 0h0m5 0h0m-134 1h0m89 0h0m8 0h0m-76 1h0m68 0h0m-97 1h0m65 0h0m24 0h0m21 0h0m5 0h0m45 1h0m62 0h0m-198 1h0m-4 1h0m43 0h0m1 0h0m24 0h0m41 0h0m16 0h0m-125 1h0m93 1h0m36 0h0m-143 1h0m106 0h0m20 0h0m-91 1h0m108 0h0m-92 1h0m27 0h0m4 0h0m18 0h0m-93 1h0m1 0h0m1 0h0m67 0h0m26 1h0m1 0h0m-95 1h0m57 0h0m41 0h0m11 0h0m9 0h0m23 0h0m-140 1h0m13 0h0m3 0h0m54 0h0m10 0h0m45 0h0m-101 1h0m35 0h0m18 0h0m-38 1h0m41 0h0m20 0h0m17 0h0m-87 1h0m5 0h0m30 0h0m8 0h0m0 0h0m15 0h0m16 0h0m29 0h0m-84 1h0m6 0h0m1 0h0m15 0h0m33 0h0m29 0h0m0 0h0m-74 1h0m81 0h0m10 0h0m-151 1h0m34 0h0m50 0h0m-98 1h0m112 0h0m-90 1h0m19 0h0m38 0h0m70 0h0m14 0h0m9 0h0m-140 1h0m22 0h0m41 0h0m11 0h0m28 0h0m0 0h0m16 0h0m11 0h0m-156 1h0m28 0h0m36 0h0m30 0h0m17 0h0m-121 1h0m55 0h0m-44 1h0m25 0h0m67 0h0m67 0h0m5 0h0m-83 1h0m10 0h0m15 0h0m35 0h0m-60 1h0m86 0h0m-108 1h0m76 0h0m29 0h0m-159 1h0m3 0h0m49 0h0m52 0h0m4 0h0m2 0h0m4 0h0m7 0h0m-90 1h0m17 0h0m104 0h0m-68 1h0m43 0h0m20 0h0m4 0h0m-124 1h0m32 0h0m15 0h0m-64 1h0m0 0h0m123 0h0m26 0h0m-65 1h0m3 0h0m65 0h0m-186 1h0m46 0h0m7 0h0m13 0h0m5 0h0m24 0h0m10 0h0m18 0h0m37 0h0m7 0h0m-140 1h0m3 0h0m43 0h0m31 0h0m83 0h0m0 0h0m4 0h0m3 0h0m1 0h0m-121 1h0m3 0h0m22 0h0m8 0h0m-99 1h0m40 0h0m94 0h0m23 0h0m2 0h0m-61 1h0m47 0h0m84 0h0m-234 1h0m84 0h0m12 0h0m83 0h0m-166 2h0m4 0h0m17 0h0m17 0h0m2 0h0m31 0h0m46 0h0m44 0h0m19 0h0m-165 2h0m4 0h0m26 0h0m11 0h0m76 0h0m28 0h0m-163 1h0m15 0h0m14 0h0m47 0h0m51 0h0m-140 1h0m20 0h0m14 0h0m16 0h0m28 0h0m19 0h0m97 0h0m-165 1h0m63 0h0m6 0h0m21 0h0m7 0h0m-44 1h0m1 0h0m-21 1h0m5 0h0m27 0h0m8 0h0m23 0h0m-93 1h0m50 0h0m5 0h0m40 0h0m129 0h0m-165 1h0m12 0h0m2 0h0m8 0h0m46 0h0m-94 1h0m8 0h0m6 0h0m9 0h0m-89 1h0m73 0h0m32 0h0m36 0h0m-42 1h0m34 0h0m20 0h0m-137 1h0m20 0h0m10 0h0m59 1h0m43 0h0m-151 1h0m7 0h0m2 0h0m10 1h0m56 0h0m67 0h0m-131 1h0m49 0h0m-33 1h0m3 0h0m18 0h0m10 0h0m10 0h0m-61 1h0m1 0h0m7 0h0m2 0h0m4 0h0m41 0h0m39 0h0m3 0h0m10 0h0m-129 1h0m22 0h0m49 0h0m37 0h0m22 0h0m48 0h0m-144 1h0m25 0h0m52 0h0m51 0h0m-78 1h0m31 0h0m46 0h0m-54 1h0m35 0h0m2 0h0m1 0h0m-49 1h0m3 0h0m44 0h0m28 0h0m-130 1h0m46 0h0m4 0h0m-42 1h0m140 0h0m-164 1h0m78 0h0m68 0h0m-163 1h0m112 0h0m44 0h0m-102 1h0m15 0h0m41 0h0m14 0h0m35 0h0m-139 1h0m10 0h0m29 0h0m45 0h0m30 0h0m-106 1h0m89 0h0m3 0h0m1 0h0m25 0h0m-50 1h0m3 0h0m8 0h0m8 0h0m3 0h0m20 0h0m-101 1h0m20 0h0m15 0h0m6 0h0m4 0h0m-33 1h0m98 0h0m10 0h0m-129 1h0m17 0h0m5 0h0m13 0h0m6 0h0m91 0h0m10 0h0m-154 1h0m22 0h0m5 0h0m4 0h0m55 0h0m49 0h0m-144 1h0m5 0h0m42 0h0m82 0h0m5 0h0m-74 1h0m15 0h0m46 0h0m7 0h0m-61 1h0m0 0h0m9 0h0m11 0h0m15 0h0m33 0h0m10 0h0m-134 2h0m16 0h0m13 0h0m52 0h0m48 0h0m-120 1h0m11 0h0m58 0h0m12 0h0m6 0h0m1 0h0m-48 1h0m23 0h0m-51 1h0m18 0h0m45 0h0m45 0h0m15 0h0m-154 1h0m17 0h0m43 0h0m54 0h0m1 0h0m17 0h0m49 0h0m-171 1h0m29 0h0m33 0h0m58 0h0m-113 1h0m22 0h0m10 0h0m13 0h0m61 0h0m13 0h0m-134 1h0m25 0h0m33 0h0m17 0h0m20 0h0m30 0h0m39 0h0m-143 1h0m54 0h0m-33 1h0m12 0h0m47 0h0m22 0h0m7 0h0m-118 1h0m20 0h0m-35 1h0m37 0h0m18 0h0m7 0h0m55 0h0m6 0h0m7 0h0m5 0h0m-99 1h0m4 0h0m37 0h0m52 0h0m12 0h0m-145 1h0m16 0h0m32 0h0m4 0h0m6 0h0m5 0h0m23 0h0m18 0h0m19 0h0m19 0h0m-126 1h0m16 0h0m44 0h0m34 0h0m-30 1h0m1 0h0m4 0h0m-25 1h0m51 0h0m9 0h0m-116 1h0m0 0h0m22 0h0m10 0h0m8 0h0m30 0h0m51 0h0m24 0h0m-118 1h0m51 0h0m6 0h0m0 0h0m-86 1h0m9 0h0m16 0h0m9 0h0m49 0h0m13 0h0m43 0h0m-108 1h0m15 0h0m17 0h0m4 0h0m7 0h0m36 0h0m-86 1h0m17 0h0m65 0h0m-43 1h0m16 0h0m-32 1h0m2 0h0m15 0h0m8 1h0m7 0h0m20 0h0m2 0h0m4 0h0m-78 1h0m33 0h0m35 0h0m5 0h0m29 0h0m-129 1h0m6 0h0m14 0h0m37 0h0m18 0h0m52 1h0m4 0h0m2 0h0m-92 1h0m8 0h0m83 0h0m0 0h0m-90 1h0m74 0h0m-68 1h0m3 0h0m18 0h0m8 0h0m43 0h0m3 0h0m12 0h0m-83 1h0m44 0h0m29 0h0m16 0h0m0 0h0m-118 1h0m29 0h0m8 0h0m33 0h0m31 0h0m11 0h0m-55 1h0m9 0h0m21 0h0m19 0h0m-76 1h0m0 0h0m47 0h0m33 0h0m-107 1h0m35 0h0m35 0h0m2 0h0m39 0h0m1 0h0m-113 1h0m7 0h0m18 0h0m55 0h0m2 0h0m-40 1h0m33 1h0m4 0h0m-16 1h0m7 0h0m44 0h0m-90 1h0m87 0h0m14 0h0m-88 1h0m19 0h0m41 0h0m12 0h0m12 0h0m-99 1h0m72 0h0m22 0h0m-112 1h0m10 0h0m9 0h0m29 0h0m9 0h0m-45 1h0m20 0h0m15 0h0m23 0h0m-50 1h0m10 0h0m28 0h0m28 0h0m-71 1h0m71 0h0m27 0h0m-47 1h0m29 0h0m-86 1h0m3 0h0m10 0h0m25 0h0m-18 1h0m35 0h0m23 0h0m2 0h0m-76 1h0m45 0h0m13 0h0m17 0h0m3 0h0m4 0h0m-75 1h0m13 0h0m13 0h0m12 0h0m1 0h0m6 0h0m-25 1h0m51 0h0m-61 1h0m13 0h0m12 0h0m17 0h0m12 0h0m1 0h0m28 0h0m-89 1h0m43 0h0m3 1h0m-29 1h0m25 0h0m6 0h0m21 0h0m-32 1h0m19 0h0m6 0h0m1 0h0m2 0h0m20 0h0m-4 1h0m8 1h0m-29 1h0m4 0h0m-36 1h0m8 0h0m17 0h0m46 0h0m-76 1h0m7 0h0m34 0h0m14 0h0m-25 1h0m32 0h0m-44 1h0m9 1h0m18 0h0m35 0h0m-66 1h0m23 0h0m-1 1h0m7 0h0m3 0h0m-31 2h0m40 0h0m12 0h0m16 0h0m-25 1h0m3 2h0m7 0h0m12 0h0m-35 1h0m1 1h0m17 0h0m13 2h0m-23 1h0m31 0h0m3 2h0m1 0h0m3 1h0m5 1h0m-27 2h0m0 0h0m10 0h0m22 0h0m-199 124h0m-35 12h0m3 11h0"/>
<path stroke="#d62728" d="M366 147h0m22 1h0m-20 5h0m20 0h0m10 0h0m-21 1h0m16 1h0m-25 2h0m15 1h0m20 0h0m-2 1h0m-29 1h0m43 0h0m-47 2h0m33 1h0m12 2h0m-44 1h0m21 0h0m6 0h0m-10 1h0m-19 1h0m10 1h0m49 0h0m-57 3h0m2 1h0m17 1h0m21 0h0m38 0h0m-4 1h0m-61 1h0m25 0h0m19 0h0m-56 1h0m9 0h0m16 0h0m9 0h0m-19 1h0m15 0h0m7 0h0m-18 3h0m24 0h0m26 0h0m-53 1h0m36 1h0m-53 1h0m22 0h0m3 0h0m11 0h0m-12 1h0m44 1h0m-27 1h0m39 1h0m11 0h0m-80 1h0m36 0h0m60 3h0m-112 1h0m39 0h0m45 0h0m15 0h0m10 0h0m-11 1h0m31 0h0m-40 1h0m-66 2h0m45 1h0m12 1h0m63 2h0m-125 2h0m91 0h0m5 0h0m32 0h0m-124 1h0m80 0h0m-5 1h0m1 0h0m11 0h0m-64 1h0m46 0h0m27 0h0m-88 1h0m62 0h0m5 0h0m9 0h0m-103 1h0m79 0h0m36 0h0m13 0h0m2 0h0m-82 1h0m6 0h0m34 0h0m22 0h0m19 0h0m-116 1h0m31 0h0m39 0h0m40 0h0m-16 1h0m16 0h0m-85 1h0m21 0h0m39 0h0m-45 1h0m60 0h0m10 0h0m-52 1h0m5 0h0m23 0h0m54 0h0m-130 1h0m-17 2h0m128 0h0m-118 1h0m33 1h0m-12 1h0m45 0h0m11 0h0m-52 1h0m53 0h0m6 1h0m-62 1h0m55 0h0m-62 2h0m12 0h0m20 0h0m19 0h0m-51 1h0m11 1h0m-25 1h0m7 0h0m19 0h0m-31 1h0m28 2h0m-24 1h0m47 0h0m57 0h0m19 0h0m75 0h0m-132 1h0m68 0h0m-97 3h0m14 2h0m31 0h0m-66 1h0m100 0h0m-96 1h0m0 0h0m38 0h0m-9 1h0m48 0h0m-55 1h0m15 0h0m-51 1h0m65 1h0m-19 1h0m33 0h0m-81 1h0m46 0h0m-1 1h0m10 0h0m4 1h0m-44 2h0m64 0h0m-13 1h0m-27 1h0m12 0h0m-43 1h0m18 0h0m-1 1h0m25 0h0m1 0h0m-48 1h0m55 0h0m10 0h0m-95 1h0m26 0h0m1 0h0m16 0h0m36 0h0m-16 1h0m21 0h0m16 0h0m-60 1h0m32 1h0m26 0h0m2 0h0m18 0h0m-60 1h0m35 0h0m-82 1h0m11 0h0m37 0h0m-47 1h0m23 0h0m15 0h0m9 0h0m15 0h0m-5 1h0m8 0h0m26 0h0m29 0h0m-128 1h0m20 0h0m34 0h0m37 0h0m-69 1h0m52 0h0m2 0h0m-48 1h0m19 0h0m-29 2h0m-13 1h0m80 0h0m-17 1h0m2 0h0m-51 1h0m27 0h0m5 0h0m71 0h0m-38 1h0m-54 1h0m14 0h0m18 0h0m61 0h0m-114 1h0m3 0h0m24 0h0m10 0h0m2 0h0m11 0h0m1 1h0m74 0h0m-45 1h0m-75 1h0m63 0h0m-40 1h0m23 0h0m17 0h0m39 0h0m-100 1h0m94 0h0m-76 1h0m26 0h0m-43 1h0m6 0h0m60 0h0m-56 1h0m25 0h0m1 0h0m54 0h0m-29 1h0m-56 1h0m21 0h0m26 0h0m-35 1h0m14 0h0m9 0h0m8 0h0m48 0h0m-98 1h0m10 0h0m19 0h0m5 0h0m8 0h0m14 0h0m24 0h0m-48 1h0m40 1h0m-57 1h0m6 0h0m21 0h0m23 0h0m-39 1h0m1 0h0m4 0h0m37 1h0m5 0h0m28 0h0m-70 1h0m11 0h0m41 1h0m-50 1h0m13 0h0m36 0h0m-45 1h0m-6 1h0m33 0h0m16 0h0m-20 1h0m-52 1h0m8 0h0m64 0h0m-79 1h0m75 0h0m-73 1h0m16 0h0m23 1h0m48 0h0m-90 1h0m36 0h0m9 0h0m-1 1h0m4 0h0m12 0h0m17 0h0m-71 1h0m36 0h0m34 0h0m-91 1h0m19 0h0m-8 1h0m63 0h0m4 0h0m3 0h0m-59 1h0m1 0h0m94 0h0m-54 2h0m-32 1h0m-33 1h0m9 0h0m12 0h0m11 0h0m20 0h0m35 0h0m-94 1h0m25 0h0m58 0h0m-59 1h0m34 0h0m13 0h0m62 0h0m-108 2h0m33 1h0m7 0h0m-15 1h0m8 0h0m-36 1h0m41 0h0m28 0h0m-82 1h0m12 0h0m65 0h0m-38 1h0m50 0h0m-71 1h0m5 0h0m45 0h0m13 0h0m9 0h0m-43 1h0m42 0h0m-18 1h0m11 0h0m-66 1h0m3 0h0m60 0h0m59 0h0m-74 1h0m-58 1h0m4 1h0m107 0h0m-30 1h0m-57 1h0m1 0h0m2 1h0m10 0h0m8 0h0m26 0h0m-62 1h0m26 0h0m51 0h0m-60 1h0m18 0h0m35 0h0m6 0h0m-79 1h0m44 1h0m11 0h0m-29 1h0m19 0h0m-48 1h0m49 0h0m-32 1h0m-16 1h0m1 0h0m62 0h0m-67 1h0m38 0h0m19 0h0m8 0h0m-54 1h0m23 0h0m10 2h0m-58 1h0m92 0h0m-69 1h0m256 0h0m-254 1h0m3 0h0m16 0h0m25 0h0m24 0h0m-48 1h0m3 0h0m-13 1h0m9 0h0m23 0h0m-42 1h0m29 0h0m36 0h0m-80 1h0m46 0h0m-53 1h0m10 0h0m5 0h0m3 0h0m15 0h0m-15 1h0m10 1h0m24 0h0m4 0h0m17 0h0m-48 1h0m24 1h0m-33 2h0m5 0h0m40 0h0m4 0h0m-24 1h0m28 0h0m-50 1h0m16 0h0m55 0h0m-29 1h0m26 1h0m2 0h0m-55 1h0m39 0h0m12 0h0m-46 1h0m13 0h0m1 0h0m1 0h0m20 0h0m-47 1h0m14 0h0m41 0h0m1 0h0m9 2h0m-25 1h0m-53 1h0m15 1h0m18 0h0m2 0h0m-26 1h0m28 0h0m9 0h0m24 0h0m-61 1h0m30 0h0m5 0h0m-31 1h0m40 0h0m-38 2h0m15 1h0m30 0h0m-49 1h0m4 0h0m44 0h0m-59 2h0m16 0h0m13 0h0m5 0h0m7 0h0m25 0h0m-65 1h0m29 1h0m-16 1h0m9 1h0m2 0h0m39 0h0m-64 1h0m5 0h0m48 1h0m216 0h0m-244 1h0m-7 2h0m-17 1h0m9 0h0m21 0h0m2 0h0m7 0h0m1 1h0m56 1h0m-83 1h0m28 0h0m13 0h0m26 0h0m-23 1h0m-28 1h0m42 0h0m-25 1h0m9 0h0m4 1h0m-15 3h0m-36 1h0m19 0h0m33 0h0m23 0h0m-73 3h0m234 1h0m-222 1h0m32 1h0m-36 1h0m23 1h0m231 5h0m-198 1h0m-37 3h0m19 2h0m-34 2h0m30 1h0m22 2h0m-43 3h0m205 0h0m-175 5h0m197 1h0m-187 4h0m186 7h0m-291 52h0"/>
<path stroke="#279e68" d="M346 264h0m8 3h0m4 2h0m-5 2h0m10 0h0m-7 1h0m0 1h0m2 1h0m-13 1h0m15 1h0m-12 2h0m5 0h0m5 1h0m0 0h0m-1 1h0m0 0h0m6 0h0m-20 1h0m17 0h0m-19 1h0m-7 1h0m24 2h0m-26 3h0m4 0h0m2 0h0m30 1h0m-30 1h0m5 0h0m-2 2h0m32 0h0m-27 2h0m12 1h0m5 0h0m-41 1h0m17 1h0m-16 1h0m23 0h0m18 1h0m-39 1h0m46 0h0m-28 1h0m14 0h0m6 0h0m5 0h0m-45 1h0m1 0h0m4 0h0m34 1h0m-29 1h0m8 1h0m6 0h0m5 0h0m-31 2h0m6 0h0m11 0h0m15 0h0m-25 1h0m14 0h0m47 0h0m-53 1h0m1 0h0m5 0h0m21 0h0m-47 1h0m6 0h0m-6 1h0m19 1h0m13 0h0m20 0h0m2 0h0m18 0h0m-50 1h0m-2 1h0m20 0h0m17 0h0m8 0h0m-43 1h0m3 2h0m7 1h0m-34 1h0m15 0h0m3 0h0m10 0h0m12 0h0m40 0h0m-75 1h0m-3 1h0m8 0h0m73 0h0m-76 1h0m46 0h0m-31 1h0m9 0h0m9 0h0m-17 1h0m12 0h0m-35 1h0m35 0h0m19 0h0m-36 2h0m16 0h0m2 0h0m1 0h0m15 0h0m4 0h0m-15 1h0m-11 1h0m35 0h0m-57 1h0m26 0h0m1 2h0m3 0h0m26 0h0m-44 1h0m10 0h0m-25 1h0m73 0h0m-33 1h0m-1 1h0m38 0h0m-89 1h0m36 0h0m-28 1h0m7 0h0m7 0h0m23 0h0m10 0h0m-23 1h0m4 0h0m62 0h0m-90 1h0m24 0h0m1 0h0m4 0h0m7 0h0m-44 2h0m9 0h0m15 0h0m17 0h0m10 0h0m-16 2h0m2 0h0m59 0h0m4 0h0m-98 1h0m7 0h0m2 0h0m39 0h0m-26 1h0m0 0h0m33 0h0m-21 1h0m25 0h0m26 0h0m-76 1h0m32 0h0m6 1h0m-27 2h0m7 0h0m3 0h0m26 0h0m21 0h0m-63 1h0m24 1h0m21 0h0m2 0h0m-50 1h0m6 0h0m61 0h0m245 0h0m-314 1h0m22 0h0m12 1h0m9 0h0m-29 1h0m52 0h0m-53 1h0m26 0h0m1 0h0m7 0h0m1 0h0m43 0h0m1 0h0m-35 1h0m7 0h0m-58 1h0m42 0h0m7 0h0m27 0h0m1 0h0m-26 1h0m3 0h0m-31 1h0m41 0h0m-57 1h0m23 0h0m29 0h0m-50 1h0m16 0h0m8 0h0m12 0h0m-48 1h0m34 0h0m2 0h0m-26 1h0m12 1h0m-6 1h0m-18 1h0m1 0h0m7 1h0m20 0h0m15 0h0m13 0h0m-37 1h0m31 0h0m16 0h0m23 0h0m4 0h0m9 0h0m223 0h0m-320 2h0m55 0h0m14 0h0m-50 1h0m36 0h0m-37 1h0m18 1h0m16 0h0m18 0h0m-72 1h0m38 0h0m52 1h0m-88 1h0m60 0h0m-65 1h0m4 0h0m10 0h0m5 0h0m28 0h0m9 0h0m-24 1h0m18 0h0m2 0h0m17 0h0m-62 1h0m16 0h0m33 0h0m1 0h0m11 0h0m6 0h0m2 0h0m12 0h0m10 0h0m-67 1h0m7 0h0m24 1h0m-58 1h0m37 0h0m19 0h0m13 0h0m21 0h0m8 0h0m-95 1h0m62 0h0m248 0h0m-289 1h0m12 0h0m9 0h0m1 0h0m22 0h0m33 1h0m211 0h0m-292 1h0m40 0h0m-9 1h0m18 0h0m19 0h0m8 0h0m-68 1h0m25 0h0m7 0h0m46 0h0m10 0h0m-71 1h0m38 0h0m3 0h0m10 0h0m-59 1h0m2 0h0m20 0h0m11 0h0m30 0h0m-80 1h0m54 0h0m12 0h0m-58 1h0m9 0h0m26 0h0m18 0h0m0 0h0m1 0h0m20 0h0m-60 1h0m29 0h0m27 0h0m22 0h0m208 0h0m-322 1h0m39 0h0m49 0h0m6 1h0m-85 1h0m13 0h0m3 0h0m11 0h0m33 0h0m-36 1h0m2 0h0m41 0h0m-3 1h0m1 0h0m12 0h0m2 0h0m1 0h0m-23 1h0m-57 1h0m4 0h0m14 0h0m22 0h0m50 0h0m-92 2h0m1 0h0m32 0h0m7 0h0m43 0h0m-90 1h0m33 0h0m12 0h0m33 0h0m12 0h0m-89 1h0m6 0h0m74 0h0m13 0h0m-94 1h0m13 0h0m1 0h0m6 0h0m31 0h0m8 0h0m2 0h0m22 1h0m11 0h0m326 0h0m-399 1h0m64 0h0m3 0h0m-89 1h0m17 1h0m18 0h0m6 0h0m53 0h0m16 0h0m-96 1h0m46 0h0m1 0h0m4 0h0m18 0h0m16 0h0m-23 1h0m-42 1h0m25 0h0m-31 1h0m-4 1h0m45 0h0m37 0h0m-89 1h0m54 0h0m21 0h0m-50 1h0m-12 1h0m3 0h0m39 0h0m-23 1h0m3 0h0m11 0h0m19 0h0m3 0h0m9 0h0m-64 1h0m-7 1h0m10 0h0m45 0h0m12 0h0m-78 1h0m66 0h0m11 0h0m-43 1h0m5 0h0m8 0h0m234 0h0m-285 1h0m56 1h0m5 0h0m9 0h0m10 0h0m-5 1h0m-72 1h0m12 0h0m31 0h0m16 0h0m25 0h0m-47 1h0m4 0h0m-45 1h0m76 0h0m-12 1h0m-59 1h0m35 0h0m14 0h0m18 0h0m-61 1h0m26 0h0m3 0h0m53 0h0m-90 1h0m6 0h0m4 0h0m53 0h0m23 0h0m-57 2h0m7 0h0m13 0h0m20 0h0m7 0h0m14 0h0m-61 1h0m34 0h0m4 0h0m-69 1h0m78 0h0m-74 1h0m3 0h0m12 0h0m9 0h0m41 0h0m3 0h0m2 0h0m-69 1h0m15 0h0m33 0h0m14 0h0m13 0h0m5 0h0m-80 1h0m57 0h0m-6 1h0m25 0h0m-61 1h0m56 0h0m-43 1h0m42 0h0m30 0h0m-56 1h0m29 0h0m-51 1h0m46 0h0m-11 2h0m-40 1h0m51 0h0m17 0h0m-7 1h0m5 0h0m15 1h0m-87 1h0m42 0h0m0 0h0m5 0h0m-42 1h0m43 0h0m15 0h0m7 0h0m-73 1h0m65 0h0m2 0h0m31 0h0m-45 1h0m16 0h0m0 0h0m26 0h0m-51 1h0m11 0h0m7 0h0m4 0h0m-22 1h0m17 0h0m1 0h0m2 0h0m-26 1h0m17 0h0m8 0h0m-41 1h0m6 0h0m18 0h0m-39 1h0m39 0h0m-21 1h0m65 1h0m-49 1h0m21 0h0m4 0h0m26 0h0m-31 2h0m3 0h0m-47 2h0m11 0h0m47 0h0m12 0h0m-79 1h0m10 0h0m16 1h0m-24 1h0m46 0h0m-15 1h0m-13 1h0m4 0h0m48 0h0m-31 1h0m3 0h0m-22 2h0m57 0h0m-47 1h0m45 1h0m-22 1h0m-37 1h0m65 1h0m-63 1h0m28 0h0m11 1h0m-31 1h0m31 2h0m-37 2h0m19 0h0m-2 3h0m0 0h0m27 2h0"/>
<path stroke="#aa40fc" d="M331 48h0m2 0h0m-11 1h0m5 1h0m6 2h0m-23 1h0m5 0h0m7 0h0m-2 1h0m-11 1h0m14 0h0m-15 1h0m30 0h0m-6 1h0m-13 1h0m8 0h0m4 0h0m14 0h0m-2 4h0m-48 4h0m17 0h0m2 1h0m44 0h0m-11 1h0m-39 1h0m-6 1h0m51 0h0m5 5h0m1 0h0m2 1h0m-77 2h0m3 2h0m69 0h0m-78 3h0m5 0h0m81 2h0m-84 1h0m15 0h0m7 1h0m-36 1h0m9 0h0m14 2h0m51 0h0m-59 1h0m7 3h0m3 0h0m73 0h0m-70 2h0m-19 1h0m3 0h0m91 0h0m-74 1h0m43 1h0m-12 1h0m-52 1h0m6 0h0m76 0h0m-69 1h0m97 0h0m-12 1h0m-93 1h0m2 0h0m9 0h0m-2 2h0m19 0h0m-31 1h0m16 0h0m25 2h0m101 0h0m-115 1h0m-20 1h0m36 0h0m-25 2h0m10 0h0m78 0h0m-75 1h0m37 0h0m-32 1h0m0 0h0m-8 2h0m77 0h0m-83 1h0m19 1h0m-22 1h0m14 0h0m-8 1h0m6 0h0m10 0h0m-18 1h0m-6 1h0m30 0h0m27 1h0m-43 2h0m1 1h0m54 0h0m-48 1h0m10 3h0m49 0h0m-48 1h0m3 2h0m35 0h0m-47 1h0m51 0h0m-70 1h0m39 0h0m37 1h0m-59 1h0m73 0h0m-82 2h0m36 2h0m43 1h0m-63 1h0m-11 2h0m7 0h0m29 0h0m-41 1h0m25 2h0m11 0h0m3 0h0m-37 1h0m5 1h0m17 0h0m18 0h0m-38 1h0m14 0h0m6 1h0m9 0h0m6 0h0m-12 1h0m-17 1h0m20 0h0m-24 2h0m2 0h0m27 1h0m-26 1h0m6 0h0m8 0h0m0 1h0m9 0h0m-14 1h0m-11 1h0m5 0h0m31 0h0m-5 1h0m4 0h0m-20 1h0m16 0h0m-32 1h0m8 1h0m29 1h0m1 5h0m8 0h0m-13 1h0m1 0h0m-5 1h0m-4 1h0m-8 2h0m176 0h0m-174 1h0m17 1h0m-16 2h0m21 1h0m0 1h0m5 2h0m2 1h0m-19 4h0m-6 2h0m5 1h0m-1 1h0m7 1h0m7 0h0m2 0h0m8 0h0m-7 1h0m7 0h0m-30 1h0m2 0h0m2 1h0m23 0h0m8 0h0m-5 1h0m2 0h0m-2 1h0m7 0h0m-27 1h0m-7 1h0m2 0h0m18 0h0m-20 1h0m7 0h0m19 0h0m-19 5h0m12 0h0m-15 2h0m7 0h0m17 1h0m-20 1h0m-9 1h0m40 1h0m-8 1h0m-19 1h0m4 1h0m9 1h0m13 0h0m-21 1h0m-5 1h0m0 2h0m18 0h0m-14 1h0m-5 3h0m19 0h0m2 1h0m-19 1h0m5 1h0m14 0h0m-13 2h0m6 0h0m-17 4h0m3 0h0m22 0h0m6 0h0m-16 2h0m-9 1h0m30 0h0m-11 2h0m12 0h0m16 0h0m-13 1h0m-33 1h0m1 0h0m14 1h0m22 0h0m-33 1h0m8 0h0m3 0h0m-20 1h0m-2 1h0m12 0h0m23 1h0m-32 2h0m26 0h0m-12 1h0m7 0h0m9 0h0m-16 1h0m15 1h0m6 0h0m-5 1h0m-23 1h0m16 0h0m3 0h0m5 0h0m-20 7h0m19 1h0m-10 3h0m304 10h0m0 24h0m43 4h0m-12 17h0m-9 6h0m-80 49h0m15 35h0"/>
<path stroke="#8c564b" d="M711 241h0m-11 2h0m7 4h0m9 1h0m52 3h0m-50 4h0m31 1h0m21 0h0m-9 1h0m3 0h0m-35 1h0m20 2h0m-57 1h0m43 0h0m25 0h0m-20 1h0m31 0h0m-41 1h0m37 0h0m0 0h0m-8 2h0m-25 1h0m17 0h0m3 0h0m13 0h0m-18 1h0m19 0h0m19 0h0m-55 1h0m17 0h0m-18 1h0m20 0h0m6 0h0m-31 1h0m25 0h0m9 0h0m21 0h0m-7 1h0m-12 1h0m15 0h0m6 0h0m3 0h0m-31 1h0m18 1h0m-17 1h0m18 1h0m-17 1h0m5 1h0m-27 1h0m10 0h0m-12 1h0m54 0h0m-61 1h0m38 0h0m5 0h0m-27 1h0m9 0h0m-6 2h0m-6 1h0m9 0h0m13 0h0m-25 2h0m22 0h0m16 1h0m-17 1h0m0 0h0m11 1h0m-32 1h0m12 1h0m-37 2h0m46 0h0m-8 4h0m-21 7h0m-28 20h0m-78 10h0m-8 10h0m-17 18h0m7 49h0m141 15h0m1 3h0"/>
<path stroke="#e377c2" d="M652 388h0m19 12h0m3 1h0m-6 1h0m4 3h0m1 0h0m-16 1h0m-7 2h0m24 0h0m-13 3h0m7 2h0m-2 2h0m-2 3h0m-3 1h0m3 0h0m1 3h0m12 0h0m-20 4h0m9 1h0m-2 2h0m7 4h0m1 0h0m-1 1h0m-32 3h0m89 0h0m-62 6h0m-291 43h0m32 12h0m2 1h0m-13 1h0m12 3h0m12 1h0m-22 1h0m7 0h0m25 0h0m-36 3h0m-14 1h0m11 0h0m13 0h0m14 0h0m5 1h0m0 2h0m7 0h0m-57 1h0m35 0h0m23 0h0m-3 1h0m-69 1h0m55 0h0m-27 1h0m22 0h0m3 0h0m-59 1h0m49 0h0m8 0h0m13 0h0m3 0h0m-34 1h0m0 0h0m-21 1h0m-6 3h0m-12 2h0m36 0h0m-15 1h0m13 0h0m16 0h0m12 0h0m14 0h0m-82 1h0m1 0h0m69 0h0m-25 1h0m-20 1h0m16 0h0m21 0h0m-67 1h0m34 0h0m13 1h0m15 0h0m-50 1h0m2 0h0m-25 1h0m75 0h0m17 0h0m-88 1h0m10 0h0m63 0h0m-72 1h0m-92 1h0m79 0h0m95 0h0m5 0h0m-32 1h0m-140 1h0m57 0h0m54 0h0m21 0h0m-49 1h0m45 0h0m22 0h0m8 0h0m-170 1h0m69 0h0m-37 1h0m14 1h0m36 0h0m41 0h0m-118 1h0m13 0h0m35 0h0m57 0h0m-107 1h0m73 1h0m-65 1h0m24 0h0m17 0h0m21 0h0m8 0h0m37 0h0m31 0h0m-133 1h0m40 0h0m6 0h0m21 0h0m3 0h0m73 0h0m-109 1h0m21 0h0m-56 1h0m129 0h0m-49 1h0m-78 1h0m23 1h0m32 0h0m90 0h0m-134 1h0m51 0h0m120 0h0m-164 1h0m30 0h0m-54 1h0m19 0h0m128 0h0m8 0h0m-151 1h0m32 0h0m10 1h0m5 0h0m8 0h0m-49 1h0m15 0h0m128 1h0m-141 1h0m-2 1h0m16 2h0m130 1h0m-144 1h0m4 0h0m129 0h0m1 1h0m-136 1h0m2 0h0m4 1h0m12 1h0m116 0h0m-3 1h0m6 2h0m-56 3h0m1 0h0m52 1h0m-53 1h0m2 1h0m67 0h0m3 2h0m-14 1h0m-63 2h0m0 0h0m73 0h0m-5 8h0m2 0h0m-7 5h0m-2 2h0m14 2h0m-16 3h0m7 0h0m6 0h0m-9 1h0m4 1h0m4 0h0m1 1h0m4 0h0m-15 4h0"/>
<path stroke="#6f6f7a" d="M394 88h0m8 5h0m-26 15h0m229 118h0m-20 5h0m114 61h0m20 20h0m-88 50h0m19 16h0m-43 42h0m-214 132h0"/>
<path stroke="#d62728" d="M374 150h0m4 4h0m19 0h0m1 1h0m-13 2h0m0 1h0m-8 1h0m7 2h0m4 0h0m3 0h0m17 2h0m85 0h0m-77 1h0m-5 1h0m-14 2h0m18 1h0m-29 1h0m2 1h0m16 0h0m30 3h0m-39 1h0m21 1h0m-46 1h0m22 0h0m57 0h0m-60 1h0m23 1h0m2 0h0m2 0h0m48 1h0m-57 1h0m14 0h0m-42 2h0m4 0h0m24 0h0m27 0h0m6 1h0m-19 2h0m15 0h0m-63 1h0m69 0h0m-5 1h0m-63 1h0m91 1h0m-100 1h0m12 2h0m30 0h0m5 0h0m-37 1h0m48 0h0m-26 1h0m6 0h0m44 0h0m41 0h0m-102 1h0m51 0h0m15 0h0m21 0h0m-86 1h0m103 0h0m-26 1h0m-25 2h0m-58 1h0m28 0h0m68 1h0m-46 1h0m45 0h0m-99 1h0m10 0h0m-20 1h0m15 0h0m49 0h0m62 0h0m20 0h0m-50 1h0m16 0h0m36 0h0m-22 1h0m-111 1h0m31 0h0m56 0h0m37 0h0m5 0h0m-136 1h0m24 0h0m101 0h0m-43 1h0m26 0h0m-89 1h0m35 0h0m-16 2h0m-2 1h0m19 0h0m66 0h0m-58 1h0m-62 1h0m3 0h0m5 0h0m23 0h0m53 0h0m26 0h0m-106 1h0m30 0h0m1 0h0m41 0h0m22 1h0m-41 3h0m65 1h0m-67 3h0m0 0h0m49 0h0m3 0h0m-90 1h0m49 0h0m-12 1h0m97 0h0m-82 1h0m-60 1h0m6 0h0m31 1h0m25 0h0m34 0h0m-54 1h0m-34 1h0m24 0h0m0 1h0m35 1h0m24 0h0m-3 1h0m-35 1h0m180 0h0m-130 2h0m-61 1h0m20 1h0m55 0h0m-77 1h0m-16 1h0m0 0h0m31 0h0m162 0h0m-139 1h0m-46 1h0m29 0h0m20 0h0m-42 1h0m-12 1h0m20 0h0m74 0h0m-81 1h0m32 0h0m35 1h0m-48 1h0m1 0h0m20 0h0m-58 1h0m45 0h0m2 0h0m5 0h0m1 0h0m-12 1h0m-40 1h0m5 0h0m3 0h0m24 0h0m52 1h0m-89 1h0m55 0h0m0 0h0m-66 1h0m47 0h0m15 0h0m-63 1h0m29 0h0m17 0h0m13 0h0m-8 2h0m-30 1h0m1 1h0m19 0h0m17 0h0m-72 1h0m56 0h0m28 0h0m-49 1h0m8 1h0m10 0h0m7 1h0m-22 1h0m-39 2h0m11 0h0m5 0h0m30 0h0m15 0h0m-58 2h0m0 0h0m30 0h0m69 0h0m-16 1h0m-78 1h0m18 0h0m47 0h0m-19 1h0m5 0h0m33 0h0m-82 1h0m30 0h0m6 0h0m-11 1h0m-7 1h0m11 0h0m10 0h0m7 0h0m27 0h0m-76 1h0m10 0h0m67 0h0m-85 1h0m16 0h0m3 0h0m-49 1h0m37 0h0m18 0h0m33 0h0m29 0h0m-86 1h0m50 0h0m1 0h0m19 0h0m-53 3h0m23 0h0m21 0h0m-3 1h0m4 0h0m14 0h0m-4 1h0m4 0h0m-60 1h0m5 0h0m0 1h0m-17 1h0m16 0h0m-16 1h0m5 0h0m2 0h0m34 0h0m2 1h0m8 0h0m-22 1h0m78 0h0m-90 1h0m1 0h0m59 0h0m8 0h0m-56 1h0m-35 1h0m28 0h0m2 0h0m-30 1h0m54 1h0m6 0h0m-43 1h0m18 0h0m28 0h0m20 0h0m-76 1h0m17 0h0m24 0h0m18 0h0m17 0h0m1 0h0m-54 1h0m-30 1h0m6 0h0m41 0h0m7 0h0m29 0h0m-83 1h0m33 0h0m47 0h0m-31 1h0m3 0h0m-20 1h0m16 0h0m-15 1h0m2 0h0m8 0h0m17 1h0m17 0h0m-81 1h0m17 0h0m32 0h0m39 0h0m-87 1h0m24 0h0m33 0h0m-6 1h0m-44 1h0m14 0h0m10 0h0m58 0h0m-69 1h0m66 0h0m-50 1h0m-2 1h0m23 0h0m2 0h0m-47 1h0m67 0h0m-89 1h0m76 0h0m-69 1h0m9 0h0m30 0h0m-28 1h0m13 0h0m7 0h0m19 0h0m50 0h0m-54 1h0m5 1h0m18 0h0m20 0h0m-80 1h0m16 0h0m17 0h0m71 0h0m-76 1h0m22 1h0m-33 1h0m1 0h0m-6 1h0m61 0h0m-48 1h0m32 0h0m13 0h0m-67 1h0m17 0h0m1 0h0m45 0h0m-41 2h0m3 0h0m8 0h0m1 0h0m-24 1h0m8 0h0m-11 1h0m43 1h0m-29 1h0m38 0h0m-88 1h0m14 0h0m84 0h0m29 0h0m-85 1h0m63 0h0m11 0h0m-101 1h0m12 0h0m41 0h0m30 1h0m-60 1h0m5 0h0m8 0h0m22 0h0m-40 1h0m40 0h0m36 0h0m-62 1h0m30 1h0m32 0h0m-85 1h0m67 0h0m4 0h0m-26 1h0m18 0h0m-52 1h0m22 0h0m36 0h0m-79 1h0m72 0h0m-62 1h0m21 0h0m23 0h0m30 0h0m-78 1h0m25 0h0m18 0h0m15 0h0m-37 1h0m54 0h0m3 0h0m-51 2h0m70 2h0m-78 1h0m-15 1h0m49 0h0m15 0h0m-74 1h0m34 0h0m24 0h0m14 0h0m3 0h0m-45 1h0m-9 1h0m1 0h0m37 0h0m-42 1h0m54 0h0m47 0h0m-91 1h0m8 0h0m42 0h0m-54 1h0m25 0h0m4 0h0m-36 2h0m61 0h0m-60 1h0m32 0h0m-43 1h0m54 1h0m-14 1h0m-34 1h0m41 0h0m7 0h0m14 2h0m-17 1h0m17 0h0m-53 1h0m59 1h0m26 0h0m-80 1h0m28 0h0m-29 1h0m0 1h0m43 0h0m12 0h0m-62 1h0m21 0h0m7 1h0m24 0h0m3 0h0m0 1h0m1 0h0m-33 1h0m4 0h0m10 0h0m13 0h0m26 0h0m-89 1h0m4 0h0m27 0h0m27 0h0m10 0h0m36 0h0m-84 1h0m11 0h0m0 0h0m24 0h0m14 0h0m4 0h0m-45 1h0m-15 1h0m9 0h0m8 0h0m-12 1h0m6 3h0m38 0h0m-19 2h0m13 0h0m-11 1h0m-18 2h0m-16 3h0m22 0h0m5 0h0m-6 2h0m13 0h0m-26 2h0m20 2h0m-12 5h0m11 0h0m-5 2h0m13 0h0m16 1h0m21 0h0m0 1h0m15 0h0m-77 3h0m3 2h0m-1 1h0m238 1h0m-215 1h0m1 0h0m-11 4h0m42 1h0m-45 6h0m23 5h0m-28 2h0m6 1h0m30 0h0m-28 1h0m223 2h0m-293 35h0m21 5h0m-13 3h0"/>
<path stroke="#1f77b4" d="M426 202h0m61 11h0m5 0h0m45 0h0m-23 2h0m-21 1h0m22 0h0m-19 1h0m26 0h0m1 1h0m74 0h0m-101 1h0m57 0h0m-70 1h0m28 0h0m-12 1h0m32 0h0m11 0h0m7 0h0m-49 1h0m6 0h0m25 0h0m1 0h0m3 0h0m8 0h0m-51 1h0m27 0h0m11 0h0m6 0h0m-56 1h0m22 2h0m-40 1h0m18 0h0m55 0h0m7 0h0m-93 2h0m108 0h0m-70 2h0m20 0h0m46 0h0m-89 1h0m34 0h0m31 0h0m16 0h0m-81 3h0m12 0h0m26 0h0m19 0h0m-40 1h0m36 0h0m39 0h0m25 0h0m-95 1h0m17 0h0m3 0h0m22 0h0m-38 1h0m46 1h0m-60 1h0m44 1h0m24 0h0m112 0h0m-115 1h0m9 0h0m-52 1h0m7 0h0m56 0h0m2 0h0m-96 1h0m24 0h0m30 0h0m42 0h0m-87 1h0m44 0h0m19 0h0m-46 1h0m59 0h0m-81 2h0m50 0h0m38 0h0m-47 2h0m-6 1h0m31 0h0m15 0h0m-32 2h0m-71 1h0m26 0h0m63 0h0m39 0h0m4 0h0m-112 1h0m49 0h0m27 0h0m-48 1h0m1 0h0m2 1h0m26 0h0m-40 1h0m86 0h0m-3 1h0m17 0h0m-78 1h0m30 0h0m35 0h0m10 0h0m-113 1h0m37 0h0m73 0h0m-13 1h0m-103 1h0m5 0h0m29 0h0m18 0h0m2 0h0m64 0h0m17 0h0m-14 1h0m-112 1h0m38 0h0m81 0h0m-64 2h0m37 0h0m-80 2h0m107 0h0m-32 1h0m40 0h0m-124 1h0m123 0h0m4 0h0m-51 1h0m23 1h0m29 0h0m89 0h0m-218 1h0m6 0h0m24 0h0m41 0h0m2 0h0m12 0h0m5 0h0m24 0h0m16 1h0m-133 1h0m119 0h0m1 0h0m-65 1h0m16 0h0m-37 1h0m30 0h0m56 0h0m-82 1h0m157 0h0m-153 1h0m32 0h0m-71 1h0m65 0h0m17 1h0m20 0h0m26 0h0m-134 2h0m80 0h0m48 0h0m3 0h0m-101 1h0m34 0h0m44 0h0m5 0h0m13 0h0m24 0h0m-153 1h0m5 0h0m25 0h0m6 0h0m22 0h0m23 0h0m52 0h0m9 0h0m1 0h0m6 0h0m9 0h0m52 0h0m-191 1h0m28 0h0m16 1h0m22 0h0m16 0h0m47 0h0m-108 1h0m34 0h0m41 0h0m24 0h0m0 1h0m-39 1h0m57 0h0m-143 1h0m28 0h0m45 0h0m6 0h0m59 0h0m3 0h0m-148 1h0m17 0h0m85 0h0m16 0h0m-120 1h0m3 0h0m25 0h0m32 0h0m45 0h0m39 0h0m7 0h0m12 0h0m-157 1h0m5 0h0m3 0h0m73 0h0m45 0h0m1 0h0m-84 1h0m22 0h0m23 0h0m13 0h0m33 0h0m11 0h0m5 0h0m-133 1h0m29 0h0m-54 1h0m1 0h0m1 0h0m63 0h0m1 0h0m31 0h0m50 0h0m23 0h0m-172 1h0m47 0h0m48 0h0m20 0h0m-106 1h0m11 0h0m18 0h0m1 0h0m20 0h0m39 0h0m44 0h0m17 0h0m3 0h0m-161 1h0m13 0h0m9 0h0m52 0h0m17 0h0m54 0h0m8 0h0m3 0h0m-148 1h0m22 0h0m26 0h0m5 0h0m25 0h0m30 0h0m-74 1h0m7 0h0m17 0h0m21 0h0m17 0h0m16 0h0m-121 1h0m36 0h0m16 0h0m66 0h0m4 0h0m20 0h0m-144 1h0m91 0h0m-77 1h0m51 0h0m50 0h0m23 0h0m-129 1h0m0 0h0m17 0h0m6 0h0m68 0h0m18 0h0m6 0h0m48 0h0m92 0h0m-221 1h0m7 0h0m14 0h0m19 0h0m62 0h0m17 0h0m-139 1h0m10 0h0m114 0h0m37 0h0m23 0h0m-206 1h0m124 0h0m-13 1h0m6 0h0m49 0h0m17 0h0m-190 1h0m29 0h0m45 0h0m9 0h0m36 0h0m-108 1h0m114 0h0m8 0h0m-133 1h0m27 0h0m12 0h0m64 0h0m-82 1h0m22 0h0m48 0h0m24 0h0m0 0h0m67 0h0m-133 1h0m-43 1h0m9 0h0m15 0h0m14 0h0m40 0h0m1 0h0m71 0h0m24 0h0m-117 1h0m55 0h0m0 0h0m39 0h0m-154 1h0m69 0h0m1 0h0m1 0h0m14 0h0m11 0h0m6 0h0m23 0h0m4 0h0m2 0h0m-112 1h0m25 0h0m41 0h0m56 0h0m46 0h0m-150 1h0m15 0h0m18 0h0m35 0h0m-94 1h0m25 0h0m48 0h0m65 0h0m-138 1h0m54 0h0m18 0h0m83 0h0m2 0h0m-160 1h0m35 0h0m45 0h0m42 0h0m28 0h0m0 0h0m1 0h0m-148 1h0m31 0h0m19 0h0m-32 1h0m28 0h0m-39 1h0m33 0h0m16 0h0m7 0h0m24 0h0m-65 1h0m7 0h0m42 0h0m38 0h0m8 0h0m4 0h0m33 0h0m-94 1h0m28 0h0m-100 1h0m1 0h0m121 0h0m-47 1h0m16 0h0m38 0h0m19 0h0m-143 1h0m33 0h0m33 0h0m58 0h0m25 0h0m-147 1h0m15 0h0m32 0h0m39 0h0m16 0h0m43 0h0m-86 1h0m10 0h0m38 0h0m42 0h0m-154 1h0m53 0h0m32 0h0m16 0h0m16 0h0m1 0h0m-117 1h0m1 0h0m99 0h0m29 0h0m-131 1h0m129 0h0m-135 1h0m6 0h0m44 0h0m12 0h0m3 0h0m16 0h0m44 0h0m7 0h0m3 0h0m2 0h0m-121 1h0m97 0h0m1 0h0m40 0h0m-153 1h0m26 0h0m22 0h0m6 0h0m39 0h0m16 0h0m12 0h0m30 0h0m-105 1h0m51 0h0m9 0h0m48 0h0m2 0h0m-146 1h0m2 0h0m19 0h0m18 0h0m5 0h0m43 0h0m6 0h0m-106 1h0m18 0h0m25 0h0m0 0h0m27 0h0m1 0h0m53 0h0m-126 1h0m40 0h0m62 0h0m6 0h0m-70 1h0m13 0h0m23 0h0m45 0h0m-99 1h0m28 0h0m-31 1h0m20 0h0m59 0h0m4 0h0m41 0h0m-125 1h0m28 0h0m62 0h0m39 0h0m-146 1h0m45 0h0m58 0h0m2 0h0m3 0h0m-94 1h0m31 0h0m29 0h0m11 0h0m20 0h0m23 0h0m-92 1h0m7 0h0m4 0h0m12 0h0m25 0h0m57 0h0m-89 1h0m24 0h0m15 0h0m-86 1h0m45 0h0m18 0h0m5 0h0m5 0h0m24 0h0m9 0h0m-94 1h0m3 0h0m9 0h0m84 0h0m19 0h0m-121 1h0m2 0h0m3 0h0m19 0h0m0 0h0m19 0h0m61 0h0m-85 1h0m4 0h0m2 0h0m6 0h0m1 0h0m32 0h0m-7 1h0m5 0h0m30 0h0m2 0h0m13 0h0m-114 1h0m7 0h0m33 0h0m45 0h0m40 0h0m20 0h0m-93 1h0m35 0h0m2 0h0m11 0h0m9 0h0m6 0h0m-1 1h0m-93 1h0m80 0h0m30 0h0m-130 1h0m18 0h0m14 0h0m86 0h0m12 0h0m-94 1h0m5 0h0m14 0h0m3 1h0m47 0h0m27 0h0m-124 1h0m43 0h0m14 0h0m34 0h0m24 0h0m-119 1h0m4 0h0m28 0h0m4 0h0m93 0h0m1 0h0m-58 2h0m49 0h0m12 0h0m-126 1h0m17 0h0m5 0h0m11 0h0m2 0h0m3 0h0m35 0h0m-80 1h0m78 0h0m7 1h0m-2 1h0m-76 1h0m41 0h0m36 0h0m16 0h0m29 0h0m-72 1h0m13 0h0m4 0h0m22 0h0m6 0h0m12 0h0m-101 1h0m18 0h0m15 0h0m1 0h0m17 0h0m3 0h0m6 0h0m1 0h0m20 0h0m26 0h0m4 0h0m-124 1h0m28 0h0m21 0h0m-41 1h0m71 0h0m27 0h0m10 0h0m7 0h0m10 0h0m-104 1h0m92 0h0m-125 1h0m22 0h0m73 0h0m12 0h0m10 0h0m75 0h0m-152 1h0m6 0h0m36 0h0m8 0h0m-85 1h0m20 0h0m15 0h0m25 0h0m16 0h0m36 0h0m5 0h0m-125 1h0m37 0h0m28 0h0m-19 1h0m7 0h0m8 0h0m74 0h0m-136 1h0m36 0h0m-17 1h0m10 0h0m0 0h0m36 0h0m25 0h0m26 0h0m-128 1h0m86 0h0m8 0h0m18 0h0m-100 1h0m42 0h0m11 0h0m54 0h0m32 0h0m-116 1h0m0 0h0m21 0h0m-11 1h0m1 0h0m-21 1h0m21 0h0m3 0h0m19 0h0m15 0h0m34 0h0m44 0h0m-153 1h0m11 0h0m39 0h0m73 0h0m-109 1h0m27 0h0m42 0h0m30 0h0m31 0h0m-118 1h0m17 0h0m32 0h0m10 0h0m28 0h0m-70 1h0m44 0h0m38 0h0m-64 1h0m7 0h0m24 0h0m47 0h0m-27 1h0m-78 1h0m17 0h0m29 0h0m39 0h0m-53 1h0m16 0h0m-50 1h0m75 0h0m-13 1h0m10 0h0m21 0h0m13 0h0m2 0h0m-106 1h0m50 0h0m13 0h0m-61 1h0m32 0h0m-29 1h0m13 0h0m59 0h0m32 0h0m-52 1h0m6 0h0m5 0h0m17 0h0m-60 1h0m5 0h0m47 0h0m-39 1h0m6 0h0m-30 1h0m5 0h0m9 0h0m2 1h0m13 0h0m5 0h0m7 0h0m16 0h0m3 0h0m-54 1h0m7 0h0m49 0h0m3 0h0m10 0h0m27 0h0m-51 1h0m-15 1h0m49 0h0m-28 1h0m2 0h0m9 0h0m29 0h0m-77 1h0m42 1h0m-3 1h0m3 0h0m-45 1h0m5 0h0m7 0h0m8 0h0m3 0h0m16 0h0m34 0h0m-67 1h0m11 0h0m68 0h0m5 0h0m-88 1h0m45 0h0m-30 1h0m17 0h0m21 0h0m9 0h0m-45 1h0m4 0h0m17 0h0m27 0h0m52 0h0m-105 2h0m67 0h0m-41 2h0m7 0h0m5 0h0m41 1h0m-63 1h0m8 0h0m22 0h0m34 0h0m-42 1h0m41 0h0m-67 1h0m19 0h0m14 0h0m16 0h0m6 0h0m-36 1h0m7 0h0m9 0h0m12 0h0m4 0h0m9 0h0m3 0h0m-27 1h0m-20 1h0m9 1h0m8 0h0m5 0h0m3 0h0m-115 1h0m95 0h0m22 0h0m20 1h0m8 0h0m-7 1h0m5 1h0m1 0h0m1 2h0m-41 2h0m40 3h0m-31 2h0m27 0h0m6 1h0m-186 115h0m-26 34h0"/>
<path stroke="#b5bd61" d="M554 167h0m-11 1h0m0 4h0m0 1h0m21 0h0m-16 3h0m-36 2h0m35 5h0m5 0h0m11 3h0m12 3h0m-9 1h0m-19 3h0m33 0h0m-37 1h0m31 0h0m-28 1h0m28 0h0m2 0h0m-12 1h0m25 0h0m-50 1h0m53 0h0m-30 1h0m-1 1h0m3 2h0m-15 1h0m19 1h0m-10 1h0m33 0h0m-10 2h0m3 0h0m-25 1h0m8 0h0m17 0h0m-35 1h0m22 0h0m18 2h0m1 0h0m3 0h0m10 0h0m-54 1h0m39 0h0m1 0h0m-5 1h0m23 0h0m-45 2h0m82 0h0m-20 1h0m6 0h0m-33 1h0m2 0h0m29 1h0m-18 3h0m3 0h0m24 0h0m-41 2h0m25 0h0m15 0h0m-60 2h0m5 0h0m3 1h0m10 0h0m53 1h0m-54 1h0m21 1h0m1 1h0m38 0h0m-58 1h0m0 2h0m8 0h0m32 0h0m-44 1h0m-1 2h0m52 0h0m-35 1h0m35 0h0m-11 1h0m-30 1h0m7 1h0m1 0h0m17 3h0m-20 1h0m33 3h0"/>
<path stroke="#ff7f0e" d="M637 373h0m-255 15h0m7 7h0m49 0h0m-30 1h0m0 2h0m68 0h0m-41 2h0m-6 1h0m-2 1h0m61 0h0m-74 1h0m67 1h0m-89 1h0m68 0h0m10 0h0m-94 1h0m108 0h0m-63 1h0m4 0h0m47 0h0m132 0h0m-183 1h0m187 0h0m-215 1h0m51 0h0m187 0h0m-201 1h0m-19 1h0m75 1h0m2 0h0m30 0h0m-38 1h0m-19 1h0m29 0h0m-39 1h0m39 0h0m14 0h0m-44 1h0m6 0h0m14 0h0m18 0h0m16 0h0m-116 1h0m9 0h0m62 0h0m-29 1h0m10 0h0m7 0h0m13 0h0m6 0h0m1 0h0m20 0h0m-29 1h0m2 0h0m7 0h0m38 0h0m-51 1h0m26 0h0m47 0h0m-48 1h0m-19 1h0m29 0h0m6 0h0m11 0h0m-56 1h0m11 0h0m21 0h0m21 0h0m3 0h0m5 0h0m1 0h0m-96 1h0m26 0h0m1 0h0m40 0h0m-112 1h0m149 0h0m23 0h0m-135 1h0m57 0h0m8 0h0m33 0h0m-61 2h0m55 0h0m-48 1h0m8 0h0m74 0h0m-98 1h0m22 0h0m39 0h0m-77 1h0m20 0h0m26 1h0m2 0h0m7 0h0m14 0h0m15 0h0m19 0h0m-64 1h0m3 0h0m53 0h0m8 0h0m0 0h0m-113 1h0m33 0h0m6 0h0m11 0h0m33 0h0m3 0h0m18 0h0m8 0h0m-104 1h0m36 0h0m25 0h0m5 0h0m27 0h0m24 0h0m-75 1h0m13 0h0m38 0h0m-37 1h0m6 0h0m27 0h0m14 0h0m12 0h0m1 0h0m18 0h0m-108 1h0m24 0h0m68 0h0m-150 1h0m121 0h0m21 0h0m-76 1h0m29 0h0m52 0h0m9 0h0m-123 1h0m19 0h0m12 0h0m48 0h0m-120 1h0m73 0h0m63 0h0m4 0h0m32 0h0m-151 1h0m106 0h0m15 0h0m22 0h0m-106 1h0m25 0h0m77 0h0m26 0h0m-133 1h0m7 0h0m23 0h0m57 0h0m29 0h0m-116 1h0m6 0h0m14 0h0m20 0h0m3 0h0m68 0h0m13 0h0m-166 1h0m56 1h0m96 0h0m-107 1h0m9 0h0m5 0h0m2 0h0m21 0h0m14 0h0m20 0h0m30 0h0m-115 1h0m26 0h0m43 0h0m27 0h0m10 0h0m12 0h0m12 0h0m-100 1h0m108 0h0m3 0h0m-166 1h0m60 0h0m113 0h0m1 0h0m-139 1h0m1 0h0m2 0h0m4 0h0m116 0h0m13 0h0m-116 1h0m67 0h0m-94 1h0m22 0h0m24 0h0m65 0h0m-136 1h0m24 0h0m19 0h0m35 1h0m45 0h0m36 0h0m-177 1h0m5 0h0m154 0h0m-140 1h0m78 0h0m68 0h0m18 0h0m-131 1h0m65 0h0m9 0h0m59 0h0m-130 1h0m127 0h0m40 0h0m2 0h0m-205 1h0m19 0h0m82 0h0m46 0h0m-158 1h0m29 0h0m17 0h0m44 0h0m75 0h0m27 0h0m-151 1h0m2 0h0m17 0h0m12 0h0m37 0h0m68 0h0m1 0h0m2 0h0m7 0h0m-156 1h0m10 0h0m127 0h0m-113 1h0m7 0h0m19 0h0m97 0h0m-172 1h0m180 0h0m-142 1h0m120 0h0m14 0h0m-149 1h0m4 0h0m4 0h0m105 0h0m-202 1h0m102 0h0m69 0h0m77 0h0m-185 1h0m1 0h0m5 0h0m32 1h0m30 0h0m6 0h0m105 0h0m1 0h0m15 0h0m-235 1h0m77 0h0m6 0h0m1 0h0m36 0h0m2 0h0m-61 1h0m106 0h0m-104 1h0m3 0h0m7 0h0m36 0h0m33 0h0m61 0h0m40 0h0m-26 1h0m15 0h0m-185 1h0m20 0h0m59 0h0m25 0h0m32 0h0m4 0h0m6 0h0m21 0h0m-91 1h0m13 0h0m2 0h0m14 0h0m-23 1h0m61 0h0m19 0h0m13 0h0m8 0h0m-179 1h0m60 0h0m98 0h0m9 0h0m-50 1h0m60 0h0m2 0h0m-216 1h0m75 0h0m6 0h0m17 0h0m93 0h0m-137 1h0m2 0h0m87 0h0m-105 1h0m11 0h0m32 0h0m-85 1h0m58 0h0m7 0h0m36 0h0m42 0h0m33 0h0m25 0h0m-149 1h0m3 0h0m87 0h0m67 0h0m3 0h0m-168 1h0m6 0h0m19 0h0m5 0h0m4 0h0m33 0h0m72 0h0m17 0h0m9 0h0m-111 1h0m16 0h0m13 0h0m16 0h0m42 0h0m32 0h0m-165 1h0m20 0h0m115 0h0m10 0h0m8 0h0m-142 1h0m155 0h0m0 0h0m-33 1h0m-102 1h0m7 0h0m21 0h0m5 0h0m89 0h0m-147 1h0m76 0h0m-108 1h0m67 0h0m92 0h0m6 0h0m11 0h0m12 0h0m-121 1h0m12 0h0m82 0h0m18 0h0m1 0h0m-3 1h0m-162 1h0m124 0h0m24 0h0m0 0h0m2 0h0m14 0h0m8 0h0m21 0h0m-189 1h0m73 0h0m14 0h0m3 0h0m33 0h0m-123 1h0m5 0h0m8 0h0m53 0h0m91 0h0m-156 1h0m129 0h0m-92 1h0m19 0h0m1 0h0m46 0h0m58 0h0m-178 1h0m50 0h0m123 0h0m7 0h0m-156 1h0m9 0h0m7 0h0m36 0h0m14 0h0m18 0h0m13 1h0m-68 1h0m10 0h0m8 0h0m32 0h0m8 0h0m9 0h0m33 0h0m-108 1h0m3 0h0m48 0h0m55 0h0m22 0h0m1 0h0m1 0h0m-166 1h0m34 0h0m28 0h0m18 0h0m54 0h0m15 0h0m-94 1h0m36 0h0m15 0h0m16 0h0m20 0h0m14 0h0m11 0h0m14 0h0m-163 1h0m60 0h0m17 0h0m57 0h0m9 0h0m-148 1h0m6 0h0m41 0h0m57 0h0m0 0h0m-59 1h0m6 0h0m6 0h0m20 0h0m1 0h0m37 0h0m-122 1h0m98 0h0m16 0h0m26 0h0m-88 1h0m2 0h0m-28 1h0m10 0h0m18 0h0m-55 1h0m13 0h0m53 0h0m7 0h0m-34 1h0m58 0h0m51 0h0m6 0h0m-147 1h0m38 0h0m40 0h0m2 0h0m17 0h0m-68 1h0m6 0h0m44 0h0m4 0h0m7 0h0m39 0h0m7 0h0m14 0h0m-116 1h0m27 0h0m23 0h0m35 0h0m-114 1h0m33 0h0m13 0h0m38 0h0m44 0h0m-73 1h0m14 0h0m2 0h0m18 0h0m4 0h0m9 0h0m-96 1h0m9 0h0m45 0h0m8 0h0m34 0h0m1 0h0m7 0h0m8 0h0m1 0h0m-127 1h0m24 0h0m12 0h0m103 0h0m0 0h0m-120 1h0m48 0h0m36 0h0m10 0h0m7 0h0m-86 1h0m70 0h0m34 0h0m11 0h0m9 0h0m-137 1h0m42 0h0m4 0h0m-43 1h0m33 0h0m2 0h0m13 0h0m13 0h0m-73 1h0m5 0h0m18 0h0m10 0h0m51 0h0m5 0h0m8 0h0m8 1h0m-108 1h0m74 0h0m3 0h0m17 0h0m11 0h0m1 0h0m20 0h0m-95 1h0m109 0h0m-126 1h0m12 0h0m9 0h0m39 0h0m21 0h0m3 0h0m-28 1h0m24 0h0m71 0h0m-124 1h0m59 0h0m65 0h0m-114 1h0m47 0h0m2 0h0m-83 1h0m76 0h0m26 0h0m-40 1h0m-33 1h0m24 0h0m4 1h0m7 0h0m-49 1h0m19 0h0m0 0h0m11 0h0m1 0h0m3 0h0m24 0h0m3 0h0m-82 1h0m17 0h0m10 0h0m14 1h0m35 0h0m-72 1h0m4 0h0m21 0h0m52 1h0m-54 1h0m18 0h0m-26 1h0m7 0h0m-13 1h0m13 0h0m27 0h0m0 0h0m30 0h0m-53 1h0m21 2h0m64 2h0m-105 9h0m125 5h0m-150 1h0m35 1h0m33 0h0m-94 3h0m5 14h0"/>
<path stroke="#e377c2" d="M633 337h0m17 42h0m3 6h0m6 0h0m-18 1h0m-7 3h0m21 2h0m-5 1h0m-3 1h0m10 2h0m11 5h0m3 4h0m-20 1h0m5 1h0m-2 3h0m2 0h0m7 3h0m17 1h0m-20 3h0m2 3h0m13 0h0m12 4h0m-21 1h0m-13 1h0m26 1h0m-23 1h0m26 0h0m-4 1h0m-3 1h0m1 6h0m-272 50h0m-20 3h0m49 9h0m-43 5h0m1 2h0m24 0h0m4 1h0m-45 2h0m49 1h0m-37 2h0m11 1h0m8 0h0m12 3h0m-70 2h0m51 0h0m-36 2h0m69 0h0m-26 1h0m22 0h0m-14 3h0m16 0h0m0 1h0m-78 2h0m19 0h0m16 0h0m-16 1h0m25 0h0m-6 1h0m-25 1h0m34 0h0m17 0h0m-91 1h0m9 0h0m10 0h0m6 0h0m16 0h0m25 0h0m6 1h0m4 0h0m-87 1h0m109 1h0m-69 2h0m-59 1h0m35 0h0m27 1h0m69 0h0m-184 1h0m105 0h0m-14 1h0m60 0h0m10 0h0m1 0h0m8 0h0m-117 1h0m115 0h0m-162 1h0m77 0h0m21 0h0m-64 1h0m49 0h0m2 0h0m14 0h0m7 0h0m7 0h0m-9 1h0m-95 1h0m2 0h0m160 0h0m-104 1h0m19 0h0m8 0h0m-29 1h0m14 0h0m86 0h0m0 0h0m-102 1h0m10 0h0m76 0h0m-157 1h0m33 0h0m7 0h0m115 0h0m-96 1h0m-27 1h0m42 0h0m-73 1h0m6 0h0m11 1h0m2 0h0m5 0h0m5 1h0m29 0h0m11 0h0m76 0h0m-69 1h0m84 0h0m-140 1h0m27 0h0m107 0h0m-91 1h0m94 0h0m-139 1h0m2 0h0m139 0h0m-146 1h0m35 0h0m7 0h0m-29 1h0m135 0h0m10 0h0m-152 2h0m8 1h0m-8 2h0m15 0h0m0 0h0m3 0h0m-18 1h0m153 1h0m-10 1h0m3 1h0m-6 1h0m-59 3h0m57 0h0m2 1h0m-52 2h0m61 0h0m-18 1h0m3 0h0m8 1h0m-4 2h0m10 0h0m3 1h0m-69 2h0m51 0h0m15 1h0m4 2h0m-7 1h0m8 1h0m-21 4h0m16 0h0m7 1h0m0 0h0m-10 7h0m-1 1h0"/>
<path stroke="#aa40fc" d="M328 44h0m1 4h0m-3 2h0m-15 1h0m8 0h0m9 0h0m-1 1h0m9 0h0m9 1h0m-9 1h0m-2 1h0m-18 2h0m1 0h0m9 0h0m10 1h0m16 0h0m-38 1h0m42 0h0m-9 1h0m-13 1h0m8 0h0m5 2h0m-35 1h0m38 0h0m2 2h0m8 2h0m3 1h0m-59 1h0m45 1h0m4 2h0m0 0h0m9 0h0m-10 5h0m-50 1h0m54 0h0m-65 2h0m-15 1h0m81 0h0m-79 3h0m5 2h0m12 1h0m5 0h0m-12 2h0m1 0h0m-8 2h0m14 0h0m48 0h0m-53 2h0m38 0h0m-39 1h0m6 2h0m1 1h0m55 1h0m-66 1h0m52 2h0m-48 1h0m39 2h0m3 0h0m-38 1h0m32 0h0m-44 1h0m46 0h0m-17 1h0m63 0h0m5 0h0m-67 1h0m56 0h0m-81 1h0m1 0h0m16 0h0m-12 2h0m50 1h0m11 0h0m-37 2h0m-21 1h0m47 0h0m76 0h0m-123 1h0m9 0h0m22 1h0m59 0h0m-86 1h0m15 0h0m45 0h0m60 0h0m-118 1h0m118 0h0m-113 1h0m11 0h0m-32 1h0m31 0h0m57 1h0m-63 1h0m5 0h0m8 1h0m39 1h0m-69 1h0m10 0h0m5 0h0m18 0h0m39 0h0m-27 2h0m-31 1h0m76 0h0m-79 1h0m2 1h0m8 0h0m12 0h0m-17 1h0m-4 2h0m83 0h0m-58 1h0m80 1h0m-38 1h0m-52 2h0m1 0h0m17 1h0m-17 1h0m7 0h0m-18 1h0m20 0h0m-21 2h0m3 0h0m22 0h0m1 1h0m-22 1h0m14 0h0m10 0h0m-26 3h0m13 0h0m23 0h0m-30 1h0m19 0h0m0 0h0m6 0h0m-11 1h0m-21 1h0m9 2h0m19 2h0m-23 2h0m40 3h0m-28 1h0m2 1h0m16 0h0m6 0h0m-9 1h0m6 2h0m-24 3h0m25 0h0m-11 1h0m-6 1h0m12 0h0m9 1h0m139 0h0m-151 1h0m-2 1h0m21 1h0m97 1h0m-110 1h0m108 0h0m-108 1h0m2 0h0m3 0h0m5 7h0m-1 1h0m3 1h0m-21 2h0m16 1h0m-23 1h0m35 0h0m-26 1h0m3 0h0m19 0h0m1 2h0m3 1h0m-21 1h0m-11 1h0m12 2h0m7 3h0m5 0h0m-12 1h0m1 1h0m0 1h0m7 0h0m-11 2h0m3 0h0m10 0h0m-15 1h0m2 1h0m14 0h0m-8 1h0m17 1h0m6 3h0m0 1h0m0 1h0m1 0h0m-9 1h0m1 0h0m-8 1h0m6 1h0m-11 1h0m9 0h0m-16 2h0m6 0h0m10 0h0m24 0h0m3 0h0m-20 1h0m14 0h0m-24 1h0m13 2h0m13 0h0m-11 1h0m9 0h0m-33 2h0m-4 1h0m11 0h0m24 0h0m-6 1h0m-36 1h0m21 0h0m-8 1h0m-7 1h0m35 1h0m-30 1h0m11 1h0m3 1h0m-12 1h0m14 0h0m-9 2h0m12 1h0m-10 1h0m12 0h0m1 0h0m-2 2h0m-10 2h0m-12 1h0m23 0h0m-12 1h0m0 1h0m31 0h0m-23 2h0m2 0h0m-8 1h0m-8 1h0m17 0h0m-14 1h0m21 0h0m5 1h0m-35 1h0m27 0h0m-17 6h0m386 60h0m-137 69h0m19 36h0"/>
<path stroke="#279e68" d="M344 264h0m8 4h0m4 0h0m11 0h0m-27 1h0m20 2h0m2 1h0m-26 3h0m15 1h0m7 2h0m-16 1h0m13 0h0m-10 1h0m13 0h0m7 2h0m-20 2h0m19 0h0m-32 1h0m11 0h0m23 0h0m6 0h0m-21 3h0m-5 1h0m9 0h0m-22 2h0m7 1h0m13 2h0m-26 3h0m10 0h0m-7 1h0m38 0h0m2 0h0m-15 1h0m-28 2h0m13 0h0m9 0h0m6 1h0m10 0h0m2 0h0m-28 1h0m44 0h0m-16 2h0m-42 2h0m21 0h0m5 0h0m19 0h0m-9 1h0m-38 1h0m19 0h0m6 0h0m5 0h0m3 0h0m20 1h0m-25 1h0m-21 1h0m-4 2h0m36 0h0m-44 1h0m8 1h0m-8 1h0m35 0h0m15 0h0m-10 1h0m2 0h0m7 0h0m-37 1h0m5 1h0m16 0h0m11 0h0m2 0h0m0 0h0m11 1h0m-30 1h0m-18 1h0m65 1h0m-58 2h0m13 0h0m1 0h0m15 0h0m-33 1h0m32 0h0m-55 1h0m27 0h0m29 0h0m13 0h0m11 0h0m2 0h0m6 0h0m-83 1h0m57 1h0m21 0h0m21 0h0m-64 1h0m-31 1h0m43 0h0m-37 1h0m1 0h0m27 0h0m14 0h0m-45 1h0m42 0h0m-3 1h0m-36 1h0m30 0h0m9 0h0m-52 1h0m16 0h0m66 0h0m-39 1h0m6 0h0m7 0h0m273 0h0m-329 1h0m14 0h0m53 0h0m-51 1h0m23 0h0m57 0h0m-95 1h0m55 0h0m23 0h0m-58 1h0m-19 1h0m30 0h0m6 0h0m-39 1h0m0 0h0m61 0h0m-49 1h0m-1 1h0m40 0h0m7 0h0m-61 1h0m27 0h0m11 0h0m2 0h0m4 0h0m6 0h0m2 0h0m12 0h0m-47 1h0m5 0h0m5 0h0m-10 1h0m50 1h0m-47 1h0m17 0h0m7 0h0m13 0h0m-33 1h0m31 0h0m-41 1h0m10 0h0m6 0h0m-19 2h0m8 0h0m3 0h0m15 0h0m37 0h0m-62 1h0m4 0h0m57 0h0m27 0h0m11 0h0m-87 1h0m46 0h0m17 0h0m16 0h0m-77 1h0m31 0h0m7 0h0m-54 1h0m68 0h0m-55 1h0m7 0h0m23 0h0m36 0h0m-80 1h0m32 0h0m16 0h0m19 0h0m35 0h0m-105 1h0m34 0h0m23 0h0m21 0h0m-68 1h0m69 0h0m-80 2h0m9 0h0m74 0h0m-75 1h0m55 0h0m-42 1h0m2 0h0m18 0h0m-9 1h0m31 1h0m3 0h0m-26 1h0m2 0h0m-20 1h0m45 0h0m-39 1h0m19 0h0m19 0h0m17 0h0m22 0h0m-75 1h0m66 0h0m-84 2h0m26 0h0m20 0h0m2 0h0m14 0h0m-44 1h0m6 0h0m-13 1h0m13 0h0m19 0h0m4 0h0m11 0h0m12 0h0m1 0h0m-58 1h0m58 1h0m33 0h0m-90 1h0m0 1h0m21 0h0m25 0h0m27 0h0m-51 1h0m2 0h0m13 0h0m46 1h0m-81 1h0m17 0h0m25 0h0m18 0h0m35 0h0m-70 2h0m61 0h0m-89 1h0m39 0h0m-45 1h0m20 0h0m29 0h0m8 0h0m-28 1h0m37 0h0m-4 1h0m-50 1h0m16 0h0m3 0h0m7 0h0m20 0h0m28 0h0m-71 1h0m65 0h0m-38 2h0m23 0h0m-65 1h0m1 0h0m42 0h0m1 0h0m13 0h0m38 0h0m-91 1h0m3 0h0m13 0h0m1 0h0m10 0h0m17 0h0m5 0h0m23 0h0m-68 1h0m50 0h0m14 0h0m5 0h0m-70 1h0m9 0h0m3 0h0m55 0h0m10 0h0m31 0h0m-110 2h0m27 0h0m6 0h0m0 0h0m46 0h0m-83 1h0m26 0h0m74 0h0m-75 2h0m15 0h0m5 0h0m-25 1h0m6 0h0m48 0h0m-60 1h0m98 0h0m-55 1h0m-28 1h0m68 0h0m-57 1h0m45 0h0m1 0h0m-24 1h0m28 0h0m-50 1h0m11 0h0m10 0h0m1 0h0m-60 1h0m13 0h0m32 0h0m6 0h0m9 0h0m10 0h0m3 0h0m19 1h0m180 0h0m-209 1h0m16 0h0m14 0h0m1 0h0m-73 1h0m2 0h0m4 0h0m14 0h0m47 0h0m6 0h0m-96 1h0m4 1h0m39 0h0m15 0h0m2 0h0m24 0h0m23 0h0m-106 1h0m6 0h0m2 0h0m22 0h0m15 0h0m8 0h0m6 0h0m1 0h0m27 0h0m-66 1h0m14 0h0m0 0h0m4 0h0m32 0h0m20 0h0m-16 1h0m11 0h0m-28 1h0m14 0h0m24 0h0m-91 1h0m42 0h0m6 0h0m-51 1h0m9 0h0m7 0h0m27 0h0m9 0h0m39 0h0m1 0h0m-54 1h0m26 0h0m16 0h0m3 0h0m2 0h0m-25 1h0m-48 1h0m17 0h0m1 0h0m5 0h0m29 0h0m38 0h0m-101 1h0m34 0h0m31 0h0m9 0h0m-52 1h0m369 0h0m-338 1h0m27 0h0m1 0h0m10 0h0m-53 1h0m18 0h0m-6 1h0m13 0h0m-60 1h0m38 0h0m14 0h0m12 0h0m5 0h0m-59 1h0m26 0h0m38 0h0m-68 1h0m20 0h0m46 0h0m-75 1h0m45 1h0m14 1h0m2 0h0m2 0h0m236 0h0m-224 1h0m-58 1h0m34 0h0m19 0h0m1 0h0m-58 2h0m74 0h0m-71 1h0m23 0h0m3 0h0m35 0h0m-58 1h0m32 0h0m12 0h0m56 0h0m-45 1h0m-63 2h0m3 0h0m6 0h0m63 0h0m-66 1h0m4 1h0m13 0h0m5 0h0m4 0h0m40 1h0m-71 1h0m24 0h0m43 0h0m-1 1h0m-33 1h0m16 0h0m17 0h0m-42 1h0m40 0h0m12 0h0m-56 1h0m34 0h0m5 0h0m5 0h0m-47 1h0m47 0h0m-57 1h0m17 0h0m7 0h0m26 0h0m-49 1h0m23 0h0m34 0h0m-64 1h0m36 0h0m1 0h0m0 0h0m3 0h0m32 0h0m-22 1h0m18 0h0m1 0h0m-69 1h0m17 0h0m24 0h0m28 0h0m-54 1h0m24 1h0m11 0h0m-38 1h0m4 0h0m17 0h0m0 0h0m-16 1h0m3 0h0m36 0h0m-40 2h0m8 0h0m16 0h0m8 1h0m-32 1h0m-6 1h0m27 0h0m23 0h0m-26 2h0m10 0h0m-21 1h0m14 0h0m8 0h0m-11 2h0m16 0h0m26 0h0m-24 1h0m8 0h0m-37 1h0m21 0h0m-24 1h0m40 1h0m-23 1h0m8 0h0m7 0h0m3 0h0m25 0h0m-60 1h0m28 0h0m-21 1h0m13 0h0m-4 2h0m10 1h0m-35 4h0m59 0h0m-55 1h0m36 1h0m18 2h0m-19 8h0"/>
<path stroke="#8c564b" d="M692 243h0m21 1h0m29 6h0m3 0h0m-78 2h0m89 0h0m-45 1h0m58 0h0m-20 1h0m28 1h0m-39 1h0m-18 1h0m36 0h0m-21 1h0m37 0h0m-21 1h0m0 0h0m26 0h0m-25 1h0m21 0h0m-114 1h0m111 0h0m-37 1h0m27 1h0m-76 2h0m73 0h0m14 0h0m-42 1h0m39 0h0m-29 2h0m15 0h0m22 2h0m0 0h0m8 0h0m-14 1h0m13 0h0m5 0h0m-56 2h0m52 0h0m-23 1h0m9 0h0m-37 1h0m16 0h0m-18 1h0m-3 1h0m13 0h0m3 0h0m11 0h0m4 0h0m1 0h0m14 0h0m-46 1h0m3 0h0m11 0h0m-75 1h0m79 1h0m29 0h0m-40 1h0m48 0h0m-37 1h0m-9 1h0m16 0h0m-6 1h0m-11 2h0m39 0h0m-23 1h0m23 0h0m6 0h0m-25 1h0m12 3h0m-6 1h0m-79 2h0m-2 3h0m68 0h0m3 0h0m-71 1h0m73 2h0m-70 7h0m13 5h0m-19 7h0"/>
<path stroke="#6f6f7a" d="M627 232h0m63 20h0m2 26h0m-42 18h0m30 17h0m34 12h0m-22 5h0m-82 20h0m37 13h0m0 6h0m-23 1h0m-22 21h0m8 24h0m-280 70h0m18 3h0m53 112h0"/>
<path stroke="#ff7f0e" d="M614 351h0m-10 4h0m-161 27h0m-11 9h0m54 1h0m-49 1h0m-38 4h0m40 1h0m-58 4h0m15 1h0m13 2h0m71 0h0m-88 2h0m79 0h0m8 1h0m-29 1h0m27 0h0m-74 1h0m62 0h0m17 0h0m-7 1h0m10 0h0m1 0h0m-47 1h0m14 1h0m44 0h0m4 0h0m-22 1h0m16 0h0m-3 3h0m1 0h0m3 0h0m-10 1h0m4 0h0m9 0h0m21 0h0m-95 1h0m43 0h0m-5 1h0m49 0h0m7 0h0m106 0h0m-171 1h0m0 0h0m12 0h0m2 0h0m40 0h0m-88 1h0m8 0h0m33 0h0m8 0h0m25 0h0m25 0h0m-46 1h0m7 0h0m-58 1h0m79 0h0m18 0h0m3 0h0m-10 1h0m-97 1h0m25 0h0m4 0h0m21 0h0m-47 1h0m76 0h0m8 0h0m13 0h0m-124 1h0m83 0h0m8 0h0m6 0h0m36 0h0m13 0h0m-46 1h0m29 0h0m-76 1h0m92 0h0m-98 1h0m45 0h0m45 0h0m10 0h0m8 0h0m-124 1h0m46 0h0m3 0h0m7 0h0m2 0h0m3 0h0m48 0h0m10 0h0m-79 1h0m44 0h0m14 0h0m8 0h0m65 0h0m-101 1h0m1 0h0m3 0h0m29 0h0m11 0h0m-86 1h0m45 0h0m31 0h0m-141 1h0m34 0h0m138 0h0m2 0h0m-155 1h0m46 0h0m2 0h0m16 0h0m53 0h0m9 0h0m-138 1h0m127 0h0m15 0h0m-62 1h0m11 0h0m28 0h0m28 0h0m-106 1h0m69 0h0m-114 1h0m74 0h0m7 0h0m-30 1h0m5 0h0m27 0h0m86 0h0m-150 1h0m39 0h0m15 0h0m10 0h0m20 0h0m1 0h0m46 0h0m15 0h0m4 0h0m-62 1h0m1 0h0m22 0h0m5 0h0m-58 1h0m15 0h0m83 0h0m-151 1h0m79 0h0m31 0h0m24 0h0m6 0h0m9 0h0m-110 1h0m20 0h0m12 1h0m45 0h0m1 0h0m18 0h0m-111 1h0m5 0h0m87 0h0m23 0h0m-111 1h0m4 0h0m8 0h0m4 0h0m20 0h0m79 0h0m-73 1h0m82 0h0m-47 1h0m36 0h0m24 0h0m-117 1h0m75 0h0m21 0h0m15 0h0m-3 1h0m-166 1h0m56 0h0m4 0h0m8 0h0m26 0h0m51 0h0m-102 1h0m13 0h0m106 0h0m-170 1h0m46 0h0m113 0h0m15 0h0m-122 1h0m19 0h0m20 0h0m100 0h0m-144 1h0m40 0h0m64 0h0m10 0h0m20 0h0m-182 1h0m49 0h0m24 0h0m41 0h0m15 0h0m21 0h0m-112 1h0m51 0h0m58 0h0m31 0h0m-184 1h0m63 0h0m98 0h0m21 0h0m-137 1h0m37 0h0m90 0h0m12 0h0m-172 1h0m36 0h0m84 0h0m-83 1h0m78 0h0m46 0h0m20 0h0m-156 1h0m77 0h0m15 0h0m63 0h0m-125 1h0m-49 1h0m30 0h0m74 0h0m54 0h0m-116 1h0m12 0h0m61 0h0m-145 1h0m41 0h0m33 0h0m47 1h0m-72 1h0m56 0h0m25 0h0m7 0h0m31 0h0m-89 1h0m95 0h0m-116 1h0m0 0h0m17 0h0m112 0h0m13 0h0m14 0h0m-115 1h0m113 0h0m2 0h0m-157 1h0m52 0h0m43 0h0m36 0h0m26 0h0m6 0h0m-134 1h0m21 0h0m42 0h0m-66 1h0m-36 1h0m117 0h0m22 0h0m24 0h0m-191 1h0m8 0h0m29 0h0m16 0h0m17 0h0m63 0h0m60 0h0m-199 1h0m26 0h0m12 0h0m7 0h0m74 0h0m-110 1h0m30 0h0m9 0h0m39 0h0m91 0h0m-144 1h0m0 0h0m100 0h0m50 0h0m-139 1h0m12 0h0m24 0h0m18 0h0m12 0h0m10 0h0m20 0h0m5 0h0m25 0h0m14 0h0m-139 1h0m29 0h0m15 0h0m21 0h0m51 0h0m3 0h0m15 0h0m1 0h0m-62 2h0m82 0h0m-145 1h0m6 0h0m126 0h0m13 0h0m-125 1h0m19 0h0m29 0h0m27 0h0m45 0h0m-135 1h0m115 0h0m-133 1h0m0 0h0m10 0h0m19 0h0m107 0h0m15 0h0m-164 1h0m8 0h0m43 0h0m23 0h0m0 0h0m53 0h0m10 0h0m6 0h0m19 0h0m-154 1h0m30 0h0m15 0h0m21 0h0m121 0h0m-178 1h0m19 0h0m132 0h0m-39 1h0m16 0h0m15 0h0m-128 1h0m11 0h0m6 0h0m117 0h0m3 0h0m-170 1h0m21 0h0m119 0h0m-132 1h0m24 0h0m5 0h0m10 0h0m87 0h0m16 0h0m-103 1h0m5 0h0m4 0h0m16 0h0m51 0h0m1 0h0m2 0h0m19 0h0m17 0h0m-169 1h0m8 0h0m99 0h0m-84 1h0m21 0h0m2 0h0m113 0h0m-154 1h0m141 0h0m9 0h0m17 0h0m-236 1h0m100 0h0m73 0h0m6 0h0m5 0h0m57 0h0m-160 1h0m4 0h0m8 0h0m42 0h0m7 0h0m10 0h0m29 0h0m43 0h0m14 0h0m-110 1h0m10 0h0m14 0h0m58 0h0m22 0h0m-85 1h0m58 0h0m4 0h0m-95 1h0m33 0h0m4 0h0m53 0h0m17 0h0m2 0h0m5 0h0m11 0h0m-152 1h0m72 0h0m61 0h0m2 0h0m-72 1h0m20 0h0m6 0h0m-80 1h0m33 0h0m40 0h0m70 0h0m-143 1h0m3 0h0m71 0h0m8 0h0m10 0h0m43 0h0m-152 1h0m2 0h0m47 0h0m17 0h0m3 0h0m1 0h0m-57 1h0m120 0h0m-94 1h0m2 0h0m5 0h0m0 0h0m39 0h0m29 0h0m2 0h0m10 0h0m59 0h0m-187 1h0m21 0h0m6 0h0m13 0h0m3 0h0m65 0h0m34 0h0m-31 1h0m12 0h0m-119 1h0m38 0h0m16 0h0m16 0h0m4 0h0m16 0h0m-53 1h0m17 0h0m10 0h0m57 0h0m-116 1h0m30 0h0m7 0h0m19 0h0m23 0h0m38 0h0m2 0h0m-120 1h0m1 0h0m27 0h0m91 0h0m7 0h0m-114 1h0m31 0h0m11 0h0m38 0h0m-57 1h0m46 0h0m56 0h0m-145 1h0m61 0h0m31 0h0m11 0h0m4 0h0m-73 1h0m8 0h0m34 0h0m31 0h0m4 0h0m28 0h0m-120 1h0m57 0h0m7 0h0m-75 1h0m4 0h0m-7 1h0m10 0h0m48 0h0m7 0h0m16 0h0m41 0h0m-129 1h0m6 0h0m9 0h0m45 0h0m42 0h0m4 0h0m16 0h0m-74 1h0m26 0h0m17 0h0m33 0h0m-64 1h0m64 0h0m-76 1h0m7 0h0m14 0h0m2 0h0m25 0h0m14 0h0m9 0h0m14 0h0m-102 2h0m6 0h0m62 0h0m-4 1h0m14 0h0m-91 1h0m9 0h0m19 0h0m4 0h0m27 0h0m7 0h0m8 0h0m15 0h0m-77 1h0m51 0h0m-61 1h0m8 0h0m1 0h0m11 0h0m10 0h0m22 0h0m0 0h0m5 0h0m5 0h0m8 0h0m10 0h0m3 0h0m6 0h0m3 0h0m-92 1h0m2 0h0m14 0h0m7 0h0m34 0h0m55 0h0m-94 1h0m13 0h0m-24 1h0m20 0h0m-7 1h0m16 0h0m38 0h0m4 0h0m-41 1h0m9 0h0m51 0h0m12 0h0m-108 1h0m46 0h0m11 0h0m29 0h0m-92 1h0m46 0h0m-20 1h0m41 0h0m-33 2h0m6 0h0m2 0h0m15 0h0m10 0h0m1 0h0m-38 1h0m7 0h0m6 0h0m87 2h0m-76 3h0m-66 10h0m39 10h0m111 5h0m-141 6h0"/>
<path stroke="#8c564b" d="M703 236h0m-11 4h0m15 3h0m-47 3h0m52 4h0m3 2h0m44 4h0m20 1h0m-36 1h0m-39 2h0m20 0h0m57 0h0m-92 1h0m36 0h0m36 0h0m14 0h0m-31 1h0m34 1h0m-32 1h0m8 0h0m-3 2h0m-35 1h0m47 0h0m1 1h0m-22 1h0m4 1h0m6 0h0m21 0h0m-12 1h0m15 0h0m-41 1h0m32 0h0m7 0h0m4 1h0m10 0h0m-34 1h0m11 0h0m14 2h0m-41 1h0m13 1h0m20 0h0m-5 1h0m-7 2h0m10 2h0m-33 1h0m8 0h0m4 0h0m12 0h0m8 0h0m6 1h0m-88 1h0m65 0h0m1 0h0m17 0h0m-111 1h0m92 0h0m-13 1h0m26 0h0m11 0h0m-29 1h0m-45 1h0m56 0h0m12 0h0m0 0h0m-1 1h0m-22 4h0m-40 7h0m-18 1h0m2 2h0m-8 4h0m-4 2h0m2 3h0m64 14h0m-130 14h0m0 19h0m25 24h0m104 28h0m-105 3h0m75 19h0"/>
<path stroke="#279e68" d="M356 266h0m-1 3h0m-17 3h0m2 2h0m-2 1h0m26 2h0m5 2h0m-32 2h0m14 0h0m-20 2h0m6 0h0m1 0h0m8 0h0m23 1h0m-21 1h0m10 1h0m4 4h0m-28 4h0m16 1h0m-20 1h0m31 0h0m12 0h0m-19 1h0m11 0h0m-38 1h0m11 0h0m-17 2h0m17 0h0m-13 3h0m27 0h0m6 0h0m8 1h0m2 0h0m-58 1h0m41 0h0m-34 1h0m27 0h0m15 0h0m11 1h0m-13 1h0m1 0h0m-37 1h0m34 0h0m2 0h0m4 0h0m-25 1h0m13 0h0m-4 1h0m19 0h0m-36 2h0m15 0h0m4 0h0m6 0h0m-35 1h0m17 0h0m2 0h0m11 0h0m0 0h0m4 0h0m32 0h0m-69 1h0m17 0h0m29 0h0m17 0h0m-64 1h0m13 0h0m34 0h0m-41 1h0m36 0h0m31 0h0m-39 1h0m2 0h0m17 0h0m-13 1h0m5 0h0m13 0h0m-60 1h0m26 0h0m11 0h0m-16 2h0m30 0h0m-52 1h0m54 0h0m5 0h0m35 1h0m-64 1h0m11 0h0m-29 1h0m23 0h0m9 0h0m5 0h0m19 0h0m-15 1h0m2 0h0m10 0h0m-63 1h0m49 0h0m2 0h0m-44 1h0m24 0h0m57 0h0m-78 1h0m20 0h0m4 0h0m4 1h0m-44 2h0m13 0h0m34 0h0m43 0h0m-26 1h0m-33 1h0m4 0h0m23 0h0m-57 1h0m18 0h0m18 0h0m17 0h0m-33 1h0m39 0h0m35 0h0m-32 1h0m-66 1h0m10 0h0m30 0h0m22 0h0m8 0h0m32 0h0m-78 1h0m5 0h0m30 0h0m12 0h0m-34 1h0m32 0h0m-48 1h0m9 0h0m2 0h0m27 0h0m5 1h0m19 0h0m-48 1h0m36 0h0m4 0h0m18 0h0m-70 1h0m44 0h0m26 0h0m-66 2h0m16 0h0m5 0h0m11 0h0m35 0h0m-81 1h0m0 0h0m14 0h0m84 0h0m-109 2h0m22 0h0m35 0h0m11 0h0m-41 1h0m-20 1h0m11 0h0m9 0h0m21 0h0m-44 1h0m29 0h0m3 0h0m21 0h0m-17 1h0m19 0h0m-36 1h0m8 0h0m29 0h0m43 0h0m-65 1h0m2 0h0m41 0h0m-46 1h0m27 0h0m-59 1h0m13 0h0m62 0h0m-17 1h0m14 0h0m2 0h0m-49 1h0m8 0h0m-22 1h0m32 0h0m18 0h0m-54 1h0m14 0h0m10 0h0m-11 1h0m29 0h0m-10 1h0m29 0h0m-27 1h0m28 0h0m15 0h0m9 1h0m-73 1h0m16 0h0m39 0h0m21 0h0m-58 2h0m0 0h0m13 1h0m3 0h0m6 0h0m17 0h0m4 0h0m25 0h0m-94 1h0m40 0h0m15 0h0m-28 1h0m51 0h0m-77 2h0m1 0h0m41 0h0m23 0h0m6 0h0m0 1h0m-44 1h0m4 0h0m37 0h0m7 0h0m8 0h0m2 0h0m-86 1h0m19 0h0m26 0h0m-41 1h0m37 0h0m19 0h0m-35 1h0m-2 1h0m19 0h0m34 0h0m237 0h0m-252 1h0m-37 1h0m5 0h0m46 0h0m-71 1h0m9 0h0m27 0h0m3 0h0m12 0h0m19 0h0m-29 1h0m10 0h0m-54 1h0m29 0h0m43 0h0m17 0h0m-34 1h0m17 0h0m-18 1h0m8 0h0m-63 1h0m33 0h0m25 0h0m9 0h0m3 0h0m3 0h0m-28 1h0m9 0h0m2 0h0m13 0h0m2 0h0m1 0h0m-72 1h0m33 0h0m5 0h0m6 0h0m-33 1h0m14 0h0m17 0h0m20 0h0m11 0h0m-67 1h0m39 0h0m35 0h0m5 0h0m-70 1h0m5 0h0m23 1h0m15 0h0m13 0h0m18 0h0m2 0h0m12 0h0m-93 1h0m36 0h0m3 0h0m27 0h0m6 0h0m22 0h0m-95 1h0m33 0h0m14 0h0m-41 1h0m15 0h0m36 0h0m24 0h0m8 0h0m3 0h0m-77 1h0m66 0h0m10 0h0m-87 1h0m4 1h0m8 0h0m24 0h0m4 0h0m19 0h0m-34 1h0m38 0h0m4 0h0m21 0h0m-21 1h0m-22 1h0m11 0h0m2 0h0m10 0h0m-54 1h0m30 0h0m19 0h0m-1 1h0m21 0h0m-84 2h0m25 0h0m14 0h0m40 0h0m-67 1h0m56 0h0m19 0h0m4 0h0m5 0h0m295 0h0m-378 1h0m27 0h0m0 0h0m7 0h0m11 0h0m19 0h0m7 0h0m-54 1h0m34 0h0m1 0h0m35 0h0m-94 1h0m44 0h0m3 0h0m2 0h0m3 0h0m9 0h0m5 0h0m-46 1h0m11 0h0m15 0h0m26 0h0m-33 1h0m31 1h0m324 0h0m-20 2h0m-374 1h0m12 0h0m35 0h0m-43 1h0m50 0h0m34 0h0m-81 1h0m59 0h0m21 0h0m4 0h0m-56 1h0m21 0h0m8 0h0m-53 1h0m18 0h0m-12 1h0m24 0h0m38 0h0m14 0h0m-15 1h0m-1 1h0m8 0h0m-90 1h0m64 0h0m-53 1h0m2 0h0m6 0h0m25 0h0m5 0h0m-7 1h0m70 0h0m-69 2h0m27 0h0m31 0h0m-93 1h0m66 0h0m17 0h0m1 0h0m-71 1h0m23 0h0m-33 1h0m15 0h0m20 0h0m-20 1h0m-1 1h0m42 0h0m1 0h0m1 0h0m11 0h0m-78 1h0m6 0h0m17 0h0m4 0h0m40 0h0m10 1h0m-67 1h0m38 0h0m10 0h0m5 0h0m-29 1h0m44 0h0m33 0h0m-88 1h0m44 0h0m6 0h0m-58 1h0m30 0h0m5 0h0m13 0h0m-39 1h0m39 0h0m27 0h0m-56 1h0m10 0h0m4 0h0m17 1h0m14 0h0m-53 1h0m5 0h0m4 0h0m21 0h0m16 0h0m-37 1h0m30 0h0m11 0h0m7 0h0m-76 1h0m17 0h0m11 0h0m43 0h0m-39 1h0m10 0h0m16 0h0m-41 1h0m-14 1h0m65 0h0m5 0h0m2 0h0m-37 1h0m-10 1h0m33 0h0m7 1h0m0 0h0m45 0h0m-84 1h0m31 0h0m19 1h0m-61 1h0m-15 1h0m11 0h0m19 1h0m9 0h0m32 0h0m-60 1h0m21 0h0m-5 1h0m16 0h0m-3 1h0m-20 1h0m15 0h0m8 0h0m18 0h0m-30 1h0m25 0h0m-45 1h0m33 0h0m-38 1h0m18 0h0m15 0h0m5 0h0m20 0h0m-34 1h0m19 0h0m-30 1h0m31 0h0m-25 2h0m-5 1h0m26 0h0m11 0h0m-46 1h0m40 0h0m28 0h0m-43 1h0m7 0h0m-32 1h0m19 0h0m26 1h0m4 0h0m29 0h0m-51 3h0m-4 1h0m-23 1h0m15 0h0m8 1h0m-13 1h0m1 1h0m3 1h0m13 1h0m-4 2h0m43 0h0m-66 2h0m31 3h0m10 5h0m-31 1h0m28 4h0m-20 1h0"/>
<path stroke="#1f77b4" d="M498 188h0m56 13h0m-9 11h0m-25 2h0m-11 2h0m-22 1h0m24 0h0m15 1h0m43 1h0m-69 1h0m15 0h0m-15 1h0m4 0h0m7 1h0m9 0h0m-19 1h0m0 1h0m17 0h0m-42 1h0m47 0h0m4 0h0m20 0h0m-3 2h0m-90 1h0m19 0h0m86 0h0m-106 1h0m9 0h0m45 0h0m1 0h0m36 0h0m-87 1h0m11 0h0m43 0h0m42 0h0m-17 1h0m11 0h0m4 0h0m-86 1h0m41 0h0m43 0h0m2 0h0m2 0h0m-35 1h0m8 0h0m4 0h0m94 0h0m-124 1h0m29 0h0m-29 1h0m35 0h0m18 0h0m-96 1h0m18 0h0m7 0h0m-17 1h0m38 0h0m-9 1h0m-22 1h0m12 0h0m13 0h0m63 0h0m-96 1h0m28 0h0m66 0h0m5 0h0m-53 1h0m3 0h0m30 0h0m97 1h0m-148 1h0m-27 1h0m29 0h0m9 0h0m41 1h0m0 0h0m-19 1h0m-42 2h0m27 1h0m-42 2h0m66 0h0m-17 1h0m30 0h0m12 0h0m22 0h0m-66 1h0m-11 1h0m11 0h0m50 0h0m-93 1h0m15 0h0m7 0h0m13 0h0m37 0h0m77 0h0m-148 1h0m41 0h0m28 0h0m-70 1h0m72 0h0m5 1h0m13 0h0m-42 2h0m52 1h0m-63 1h0m28 0h0m-49 2h0m8 0h0m32 0h0m30 0h0m-76 1h0m150 0h0m-193 2h0m78 0h0m23 0h0m-74 1h0m37 0h0m88 0h0m38 0h0m-107 1h0m33 0h0m36 0h0m-96 2h0m10 0h0m39 2h0m39 0h0m-90 1h0m6 0h0m76 0h0m-80 1h0m0 0h0m119 0h0m-116 1h0m5 1h0m66 0h0m-97 1h0m78 1h0m61 0h0m1 0h0m-31 1h0m-45 1h0m81 0h0m-139 1h0m53 0h0m8 0h0m-43 1h0m39 0h0m15 0h0m46 0h0m11 0h0m-31 1h0m-47 1h0m60 0h0m-111 1h0m3 0h0m3 0h0m5 0h0m7 0h0m30 0h0m14 0h0m19 0h0m15 0h0m-74 1h0m17 0h0m5 0h0m-54 1h0m0 0h0m25 0h0m12 0h0m38 0h0m13 0h0m21 0h0m7 0h0m3 0h0m36 0h0m-42 1h0m10 0h0m36 0h0m-120 1h0m13 0h0m43 0h0m18 0h0m-59 1h0m17 0h0m5 0h0m11 0h0m37 0h0m-126 1h0m37 0h0m8 0h0m20 0h0m74 0h0m-102 1h0m34 0h0m42 0h0m15 0h0m-114 1h0m6 0h0m3 0h0m25 0h0m-19 1h0m28 0h0m28 0h0m67 0h0m-134 1h0m3 0h0m6 0h0m28 0h0m23 0h0m0 0h0m-63 1h0m66 0h0m4 0h0m36 0h0m17 1h0m-99 1h0m107 0h0m53 0h0m-190 1h0m32 0h0m14 0h0m22 0h0m27 0h0m30 0h0m26 0h0m-156 1h0m127 0h0m9 0h0m21 0h0m5 0h0m11 0h0m-161 1h0m9 0h0m53 0h0m25 0h0m4 0h0m28 0h0m16 0h0m8 0h0m-127 1h0m15 0h0m36 0h0m14 0h0m3 0h0m56 0h0m8 0h0m15 0h0m-163 1h0m123 0h0m10 0h0m23 0h0m46 0h0m-188 1h0m22 0h0m3 0h0m39 0h0m35 0h0m-124 1h0m78 0h0m38 0h0m50 0h0m12 0h0m59 0h0m-243 1h0m31 0h0m38 0h0m14 0h0m99 0h0m-167 1h0m2 0h0m2 0h0m43 0h0m38 0h0m1 0h0m3 0h0m1 0h0m33 0h0m27 0h0m-100 1h0m67 0h0m-137 1h0m16 0h0m4 0h0m13 0h0m18 0h0m13 0h0m21 0h0m22 0h0m43 0h0m19 0h0m-132 1h0m32 0h0m54 0h0m2 0h0m-122 1h0m42 0h0m66 0h0m-69 1h0m37 0h0m1 0h0m16 0h0m10 1h0m4 0h0m66 0h0m-156 1h0m28 0h0m37 0h0m36 0h0m-106 1h0m0 0h0m18 0h0m20 0h0m52 0h0m20 0h0m3 0h0m13 0h0m11 0h0m29 0h0m-173 1h0m2 0h0m23 0h0m71 0h0m6 0h0m65 0h0m-111 1h0m55 0h0m21 0h0m20 0h0m20 0h0m-142 1h0m1 0h0m68 0h0m57 0h0m16 0h0m-130 1h0m58 0h0m-114 1h0m63 0h0m20 0h0m-78 1h0m23 0h0m38 0h0m5 0h0m-54 1h0m50 0h0m10 0h0m10 0h0m-60 1h0m2 0h0m3 0h0m29 0h0m29 0h0m47 0h0m-122 1h0m12 0h0m15 0h0m30 0h0m20 0h0m12 0h0m18 0h0m-123 1h0m27 0h0m19 0h0m13 0h0m28 0h0m10 0h0m9 0h0m45 0h0m4 0h0m2 0h0m-177 1h0m42 0h0m11 0h0m22 0h0m34 0h0m18 0h0m71 0h0m-167 1h0m97 0h0m5 0h0m4 0h0m-123 1h0m28 0h0m4 0h0m10 0h0m75 0h0m18 0h0m-103 1h0m3 0h0m22 0h0m84 0h0m-33 1h0m29 0h0m18 0h0m-119 1h0m62 0h0m-25 1h0m57 0h0m2 0h0m-112 1h0m9 0h0m39 0h0m22 0h0m-72 1h0m20 0h0m62 0h0m13 0h0m3 0h0m0 0h0m11 0h0m16 0h0m3 0h0m21 0h0m-154 2h0m16 0h0m10 0h0m14 0h0m53 0h0m23 0h0m8 0h0m20 0h0m-151 1h0m52 0h0m10 0h0m86 0h0m-64 1h0m9 0h0m-81 1h0m15 0h0m36 0h0m65 0h0m30 0h0m-153 1h0m59 0h0m15 0h0m36 0h0m-77 1h0m19 0h0m32 0h0m3 0h0m-87 1h0m38 0h0m49 0h0m-62 1h0m28 0h0m4 0h0m48 0h0m-115 1h0m19 0h0m35 0h0m-29 1h0m16 0h0m10 0h0m-34 1h0m4 0h0m5 0h0m87 0h0m3 0h0m2 0h0m-97 1h0m5 0h0m50 0h0m40 0h0m-7 1h0m50 0h0m-69 1h0m7 0h0m5 0h0m-72 1h0m46 0h0m14 0h0m10 0h0m-55 1h0m34 0h0m12 0h0m49 0h0m6 0h0m-18 1h0m-65 1h0m17 0h0m7 0h0m35 0h0m-112 1h0m72 0h0m-76 1h0m48 0h0m40 0h0m3 0h0m29 0h0m26 0h0m-102 1h0m4 0h0m3 0h0m14 0h0m67 0h0m-122 1h0m14 0h0m14 0h0m44 0h0m34 0h0m-112 1h0m18 0h0m46 0h0m-39 1h0m16 0h0m84 0h0m-131 1h0m80 0h0m8 0h0m-30 1h0m7 0h0m-20 1h0m9 0h0m43 0h0m30 0h0m-85 1h0m28 0h0m10 0h0m78 0h0m-151 1h0m75 0h0m-59 1h0m48 0h0m40 0h0m3 0h0m-104 1h0m1 0h0m57 0h0m74 0h0m-53 1h0m22 0h0m26 0h0m4 0h0m-152 1h0m18 0h0m11 0h0m46 0h0m-52 1h0m2 0h0m28 0h0m48 0h0m26 1h0m28 0h0m-112 1h0m22 0h0m43 0h0m7 0h0m36 0h0m-105 1h0m58 0h0m16 0h0m-112 1h0m42 0h0m1 0h0m10 0h0m24 0h0m34 0h0m3 0h0m-111 1h0m8 0h0m24 0h0m100 0h0m-110 1h0m24 0h0m23 0h0m30 0h0m25 0h0m-133 1h0m71 0h0m18 0h0m6 0h0m43 0h0m43 0h0m-173 1h0m20 0h0m23 0h0m95 0h0m-74 1h0m12 0h0m13 0h0m15 0h0m-109 1h0m12 0h0m120 0h0m-94 1h0m27 0h0m15 0h0m12 0h0m24 0h0m20 0h0m-129 1h0m25 0h0m57 0h0m-62 1h0m17 0h0m14 0h0m1 0h0m57 0h0m-33 1h0m39 0h0m-27 1h0m-83 1h0m54 0h0m26 0h0m1 0h0m8 0h0m14 0h0m2 0h0m12 0h0m3 0h0m-92 1h0m35 0h0m6 0h0m11 0h0m44 0h0m3 0h0m3 0h0m-64 1h0m2 0h0m44 0h0m-96 1h0m14 0h0m5 0h0m20 0h0m30 0h0m52 0h0m-117 1h0m28 0h0m14 0h0m22 0h0m-24 1h0m20 0h0m4 0h0m35 0h0m-56 1h0m50 0h0m21 0h0m-137 1h0m45 0h0m44 0h0m53 0h0m-137 1h0m13 0h0m30 0h0m11 0h0m18 0h0m1 0h0m12 0h0m43 0h0m-123 1h0m4 0h0m11 0h0m95 0h0m-38 1h0m-35 1h0m6 0h0m60 0h0m14 0h0m-112 1h0m78 0h0m32 0h0m-37 1h0m34 0h0m-42 1h0m38 0h0m7 0h0m-103 1h0m2 0h0m19 0h0m12 0h0m-38 1h0m18 0h0m61 0h0m-6 2h0m21 0h0m6 0h0m-55 1h0m25 0h0m-73 1h0m10 0h0m30 0h0m31 0h0m48 0h0m8 0h0m-49 1h0m24 0h0m12 0h0m-89 1h0m34 0h0m15 0h0m1 0h0m-44 1h0m28 0h0m65 0h0m-126 1h0m63 0h0m27 0h0m12 0h0m-74 1h0m39 0h0m7 0h0m12 0h0m5 0h0m5 0h0m-18 2h0m48 1h0m-71 1h0m17 1h0m26 0h0m35 0h0m-67 1h0m43 0h0m7 0h0m-96 2h0m57 0h0m3 0h0m26 0h0m26 0h0m-78 1h0m3 0h0m26 0h0m20 0h0m7 0h0m-38 1h0m5 0h0m30 0h0m3 0h0m24 0h0m-79 1h0m-46 1h0m59 0h0m18 0h0m30 0h0m12 0h0m10 0h0m-78 1h0m10 0h0m7 0h0m46 1h0m-30 2h0m15 0h0m-15 3h0m32 0h0m-22 1h0m11 0h0m3 0h0m2 0h0m1 0h0m-18 1h0m7 0h0m11 0h0m-28 1h0m8 0h0m-10 2h0m60 0h0m-16 1h0m-23 1h0m20 2h0m3 0h0m9 3h0m11 0h0m-21 1h0m3 7h0m19 2h0m-212 92h0m23 26h0"/>
<path stroke="#aa40fc" d="M316 48h0m6 0h0m2 1h0m-12 3h0m12 0h0m4 0h0m8 0h0m3 0h0m-14 1h0m-2 1h0m-1 1h0m-15 1h0m12 0h0m18 0h0m9 1h0m-39 1h0m0 0h0m-1 1h0m43 1h0m-52 1h0m34 0h0m23 0h0m4 0h0m-49 1h0m7 0h0m26 0h0m6 0h0m-24 1h0m33 0h0m-4 1h0m-41 1h0m48 0h0m-60 3h0m51 0h0m4 0h0m-52 3h0m1 0h0m55 0h0m-53 2h0m-18 9h0m7 0h0m38 2h0m-45 2h0m-10 1h0m1 0h0m4 0h0m57 1h0m-60 3h0m44 0h0m16 1h0m-41 1h0m-9 1h0m5 1h0m2 4h0m-6 1h0m0 0h0m63 1h0m-56 3h0m2 0h0m-20 2h0m16 0h0m5 0h0m73 2h0m-85 2h0m65 0h0m-64 1h0m7 0h0m8 0h0m-18 1h0m11 0h0m-4 2h0m-8 3h0m17 1h0m2 0h0m42 0h0m-56 1h0m5 0h0m11 1h0m60 0h0m4 1h0m13 0h0m2 0h0m7 0h0m-99 2h0m28 0h0m37 1h0m-44 1h0m14 0h0m50 0h0m-63 1h0m4 1h0m-23 1h0m71 0h0m-46 2h0m96 0h0m-30 1h0m-95 1h0m17 2h0m17 0h0m-16 1h0m47 1h0m-26 1h0m62 0h0m-83 2h0m8 0h0m2 0h0m4 0h0m14 1h0m-11 1h0m4 1h0m-9 1h0m-5 1h0m18 0h0m-21 1h0m10 1h0m47 1h0m-68 1h0m7 0h0m10 1h0m3 0h0m-3 1h0m17 1h0m0 1h0m11 0h0m-23 1h0m-5 2h0m5 0h0m5 0h0m8 1h0m-22 1h0m-5 1h0m28 1h0m5 1h0m151 1h0m-161 1h0m13 0h0m-24 1h0m3 0h0m20 0h0m-31 1h0m9 0h0m15 0h0m-23 1h0m20 0h0m6 0h0m2 1h0m126 0h0m-137 4h0m-8 1h0m28 0h0m-27 1h0m14 1h0m4 3h0m4 0h0m-13 1h0m9 1h0m-6 1h0m-9 1h0m28 0h0m-20 2h0m-5 1h0m17 1h0m171 0h0m-188 2h0m13 0h0m5 0h0m-19 1h0m171 0h0m-169 1h0m1 0h0m6 0h0m4 1h0m9 0h0m-8 2h0m10 0h0m2 1h0m-19 1h0m1 0h0m2 1h0m0 3h0m5 0h0m-16 1h0m13 0h0m-12 3h0m11 1h0m-8 2h0m1 1h0m24 0h0m-15 1h0m25 0h0m-28 1h0m1 2h0m10 0h0m6 1h0m14 0h0m-27 2h0m11 0h0m1 0h0m-15 1h0m7 0h0m11 0h0m-21 2h0m10 2h0m8 0h0m-9 1h0m16 0h0m-30 1h0m20 0h0m26 0h0m-34 2h0m14 0h0m20 0h0m-18 1h0m5 1h0m-12 1h0m12 1h0m9 0h0m-39 1h0m40 0h0m-19 1h0m7 1h0m17 1h0m-19 1h0m7 0h0m8 1h0m14 1h0m-40 2h0m28 0h0m-20 2h0m-15 2h0m39 0h0m0 1h0m-23 1h0m7 0h0m-21 1h0m25 0h0m-17 1h0m7 1h0m18 0h0m1 0h0m-32 2h0m43 0h0m-3 1h0m-6 1h0m-3 1h0m-7 1h0m-5 1h0m301 0h0m-284 1h0m-40 1h0m12 1h0m297 0h0m-293 2h0m21 0h0m-12 1h0m10 0h0m-33 2h0m19 0h0m7 0h0m7 0h0m-30 2h0m31 0h0m-35 1h0m313 37h0m49 29h0m-100 62h0m24 47h0"/>
<path stroke="#d62728" d="M374 143h0m-2 3h0m15 3h0m3 1h0m2 3h0m-19 1h0m-6 1h0m0 2h0m23 5h0m2 1h0m-2 3h0m-10 1h0m12 1h0m-4 1h0m4 2h0m-21 2h0m25 0h0m-14 1h0m1 1h0m13 0h0m9 0h0m-39 1h0m11 1h0m69 0h0m-56 1h0m70 0h0m-74 1h0m15 0h0m21 0h0m-36 2h0m45 0h0m-58 1h0m19 0h0m38 0h0m32 0h0m-13 1h0m-53 1h0m18 0h0m-18 1h0m15 0h0m-17 2h0m49 0h0m10 0h0m9 0h0m-62 1h0m3 0h0m19 1h0m23 1h0m17 1h0m-36 1h0m37 0h0m9 0h0m-99 1h0m22 1h0m-29 1h0m10 1h0m61 0h0m25 1h0m10 0h0m-103 1h0m60 0h0m6 0h0m56 0h0m-54 1h0m24 0h0m-81 1h0m75 0h0m14 1h0m-51 1h0m57 0h0m25 0h0m-63 1h0m-55 1h0m79 0h0m25 0h0m-94 1h0m17 0h0m56 0h0m22 0h0m25 0h0m-74 1h0m2 0h0m70 0h0m-105 1h0m48 0h0m67 0h0m-77 1h0m-46 1h0m23 0h0m20 0h0m26 2h0m-55 1h0m50 0h0m-81 1h0m39 1h0m18 0h0m20 0h0m-15 1h0m20 0h0m17 0h0m7 0h0m2 0h0m-22 1h0m-67 1h0m29 0h0m22 0h0m-39 1h0m19 0h0m44 0h0m-83 1h0m13 0h0m53 0h0m29 0h0m-79 1h0m68 0h0m-56 1h0m29 0h0m-63 2h0m-5 1h0m72 1h0m25 0h0m40 0h0m62 0h0m-129 1h0m-1 1h0m-8 2h0m137 0h0m-105 1h0m-41 1h0m-54 1h0m15 0h0m82 0h0m-43 1h0m30 0h0m-62 2h0m56 1h0m2 0h0m-42 1h0m7 0h0m28 0h0m-12 1h0m67 0h0m-97 1h0m92 1h0m-112 1h0m33 0h0m8 0h0m75 0h0m-36 1h0m-57 1h0m75 0h0m-85 1h0m19 1h0m15 0h0m32 0h0m-52 1h0m20 0h0m8 0h0m-60 1h0m3 0h0m12 1h0m14 1h0m63 0h0m20 0h0m24 0h0m-106 1h0m27 1h0m10 0h0m-34 1h0m28 0h0m-53 1h0m45 0h0m18 0h0m-55 1h0m48 0h0m0 0h0m11 0h0m64 0h0m-144 1h0m33 0h0m13 0h0m1 0h0m38 0h0m-75 1h0m55 1h0m-35 1h0m9 0h0m16 0h0m25 0h0m-87 1h0m50 0h0m27 0h0m-89 1h0m10 0h0m41 0h0m24 0h0m-33 1h0m-1 1h0m19 0h0m20 0h0m1 0h0m22 2h0m-75 1h0m-15 1h0m54 0h0m11 0h0m-23 1h0m36 0h0m-46 1h0m-41 1h0m18 0h0m5 1h0m17 0h0m-26 1h0m35 1h0m65 0h0m31 0h0m-70 1h0m11 0h0m5 0h0m10 0h0m-77 1h0m-21 1h0m63 0h0m-10 1h0m10 1h0m10 0h0m-74 1h0m79 0h0m-49 1h0m18 0h0m19 0h0m0 1h0m8 0h0m-16 1h0m-31 1h0m36 0h0m1 0h0m4 0h0m35 0h0m-92 1h0m21 0h0m8 0h0m18 0h0m-38 1h0m47 0h0m67 0h0m-91 1h0m29 0h0m4 0h0m9 0h0m-45 1h0m-8 2h0m54 0h0m6 0h0m9 0h0m5 0h0m-70 1h0m20 0h0m25 0h0m-100 1h0m38 1h0m40 0h0m22 0h0m7 0h0m-66 2h0m50 0h0m11 0h0m-27 1h0m6 0h0m-12 1h0m20 0h0m5 0h0m24 0h0m-87 1h0m4 0h0m94 0h0m-113 1h0m77 0h0m-64 1h0m2 0h0m92 0h0m-34 1h0m52 0h0m-115 1h0m48 0h0m9 0h0m9 0h0m8 0h0m-19 1h0m4 0h0m-17 1h0m52 0h0m-42 1h0m-9 1h0m-25 1h0m22 0h0m13 0h0m-54 1h0m25 0h0m6 0h0m78 0h0m-25 1h0m-97 1h0m76 0h0m52 0h0m-80 1h0m10 0h0m56 0h0m-115 2h0m31 0h0m66 0h0m-10 1h0m-75 1h0m11 0h0m70 0h0m-52 1h0m29 0h0m56 0h0m-117 1h0m57 0h0m-56 1h0m26 0h0m30 0h0m-65 1h0m23 0h0m44 0h0m11 0h0m27 0h0m-70 1h0m42 0h0m52 0h0m-78 1h0m-34 1h0m61 0h0m18 0h0m-79 1h0m3 0h0m3 0h0m3 1h0m19 1h0m16 0h0m18 0h0m9 0h0m-91 1h0m57 0h0m38 1h0m-53 1h0m-20 1h0m59 0h0m-30 2h0m14 0h0m24 0h0m45 0h0m-72 1h0m16 0h0m-1 1h0m-63 1h0m6 0h0m57 1h0m27 0h0m-76 1h0m41 0h0m30 0h0m-72 1h0m0 0h0m17 0h0m25 0h0m-41 1h0m18 1h0m5 0h0m-30 1h0m0 0h0m43 0h0m9 0h0m25 0h0m-57 1h0m10 0h0m27 0h0m2 0h0m-74 1h0m11 0h0m9 0h0m45 0h0m8 0h0m-71 1h0m30 0h0m8 0h0m-50 1h0m32 0h0m-2 1h0m5 0h0m29 0h0m52 0h0m13 0h0m-116 2h0m21 0h0m33 0h0m-36 1h0m17 0h0m11 0h0m-17 1h0m-18 1h0m14 0h0m26 0h0m-32 1h0m20 0h0m10 1h0m-46 1h0m18 0h0m8 0h0m11 0h0m-12 1h0m3 0h0m45 0h0m8 0h0m-36 1h0m18 1h0m25 0h0m-82 1h0m98 0h0m-95 1h0m26 0h0m22 0h0m5 0h0m-22 1h0m-13 1h0m-28 1h0m4 0h0m10 0h0m16 0h0m0 0h0m41 0h0m-62 1h0m14 0h0m22 1h0m-49 1h0m119 0h0m-64 1h0m41 0h0m-50 1h0m-24 1h0m16 0h0m-14 1h0m-17 1h0m3 0h0m36 0h0m-1 1h0m16 0h0m19 0h0m-49 1h0m38 0h0m-8 1h0m-8 2h0m27 0h0m3 0h0m-61 1h0m3 0h0m36 0h0m-13 1h0m5 0h0m-32 1h0m60 0h0m-44 1h0m0 0h0m28 0h0m14 0h0m1 0h0m-18 1h0m-6 1h0m52 0h0m-76 1h0m3 0h0m5 0h0m6 1h0m7 0h0m5 0h0m46 0h0m-56 1h0m5 0h0m49 0h0m-57 1h0m53 0h0m-67 2h0m15 0h0m46 0h0m-56 2h0m25 1h0m26 0h0m-55 2h0m22 0h0m46 0h0m-20 2h0m7 0h0m-78 1h0m92 1h0m-89 2h0m15 0h0m6 0h0m11 2h0m-24 1h0m20 0h0m11 4h0m-1 1h0m1 2h0m8 6h0m-35 1h0m48 0h0m-14 1h0m12 0h0m-39 2h0m-9 4h0m36 2h0m11 0h0m209 9h0m-219 3h0m23 8h0m-28 1h0m-6 5h0m11 1h0m-67 29h0"/>
<path stroke="#e377c2" d="M641 333h0m6 42h0m11 17h0m-4 3h0m5 1h0m-4 2h0m-2 3h0m8 1h0m7 0h0m-2 7h0m15 0h0m-1 4h0m-26 2h0m26 0h0m-12 4h0m14 0h0m-24 2h0m19 1h0m-3 1h0m-7 1h0m5 0h0m-2 1h0m1 0h0m-14 6h0m18 2h0m8 5h0m-15 1h0m6 3h0m-11 3h0m10 0h0m79 0h0m-379 35h0m25 3h0m-59 2h0m59 4h0m-33 2h0m65 1h0m-84 2h0m31 3h0m40 3h0m-17 3h0m-4 2h0m32 0h0m20 0h0m-47 5h0m-7 1h0m38 1h0m-49 1h0m20 0h0m-3 2h0m4 0h0m-26 1h0m51 0h0m-38 1h0m-33 1h0m54 0h0m-73 1h0m22 0h0m53 0h0m-49 1h0m45 1h0m-49 1h0m12 0h0m49 0h0m4 0h0m-37 1h0m32 1h0m-23 1h0m2 1h0m29 0h0m-80 1h0m5 0h0m-15 1h0m76 0h0m-120 1h0m47 0h0m22 0h0m-8 1h0m23 0h0m-13 1h0m-14 1h0m50 0h0m22 0h0m-56 1h0m59 0h0m-188 1h0m89 0h0m21 0h0m47 0h0m14 0h0m-52 1h0m-22 1h0m77 0h0m16 0h0m-34 2h0m6 0h0m-113 1h0m47 0h0m70 0h0m-106 1h0m1 0h0m29 1h0m51 0h0m54 0h0m-158 1h0m23 0h0m-63 1h0m16 0h0m4 0h0m32 0h0m69 0h0m-119 1h0m0 0h0m48 0h0m14 0h0m3 0h0m4 0h0m55 0h0m33 0h0m-154 1h0m27 0h0m36 0h0m9 0h0m65 0h0m10 0h0m-92 1h0m2 0h0m32 0h0m32 0h0m32 0h0m14 0h0m-126 1h0m59 0h0m7 0h0m36 0h0m-108 1h0m13 1h0m13 0h0m-14 2h0m44 0h0m-46 1h0m8 0h0m109 0h0m-117 1h0m7 0h0m-8 1h0m7 0h0m14 1h0m3 0h0m-58 1h0m2 0h0m4 0h0m36 0h0m1 0h0m93 0h0m-134 1h0m52 0h0m-19 1h0m-27 1h0m134 0h0m16 0h0m-129 1h0m-16 1h0m24 0h0m121 0h0m-136 1h0m121 0h0m0 1h0m-133 1h0m138 0h0m-129 4h0m126 0h0m-49 1h0m3 0h0m45 1h0m2 0h0m9 0h0m-14 1h0m5 0h0m-5 1h0m-46 1h0m59 0h0m4 0h0m-1 3h0m-59 1h0m51 3h0m-5 1h0m5 0h0m13 0h0m-16 3h0m9 0h0m-13 1h0m7 0h0m-9 1h0m15 0h0m2 0h0m-9 5h0m-9 1h0m8 0h0m1 0h0m2 1h0m11 1h0m-6 5h0m-1 6h0m-6 8h0"/>
<path stroke="#b5bd61" d="M538 161h0m13 0h0m7 3h0m-87 1h0m13 5h0m67 4h0m-5 1h0m-7 2h0m-3 2h0m16 1h0m-2 1h0m-6 1h0m27 2h0m-26 3h0m7 0h0m8 1h0m6 1h0m-17 1h0m2 0h0m0 0h0m9 1h0m4 1h0m9 1h0m-12 1h0m-32 3h0m66 3h0m-46 1h0m37 1h0m-18 1h0m-15 3h0m11 1h0m40 0h0m-31 5h0m2 0h0m21 0h0m-8 1h0m3 0h0m-32 1h0m34 0h0m26 0h0m-49 1h0m11 0h0m65 0h0m-79 2h0m42 0h0m-11 1h0m24 0h0m-5 1h0m-16 3h0m39 0h0m10 1h0m-59 2h0m12 0h0m28 3h0m-9 1h0m32 0h0m-49 1h0m46 0h0m-41 1h0m52 0h0m-66 1h0m31 1h0m-38 1h0m27 1h0m39 0h0m-11 1h0m-21 2h0m-31 2h0m26 3h0m6 0h0m-42 3h0m54 3h0m-41 1h0"/>
<path stroke="#6f6f7a" d="M391 94h0m31 16h0m-30 1h0m-21 10h0m234 120h0m9 9h0m79 8h0m-26 8h0m-14 3h0m-6 7h0m46 6h0m-1 31h0m-11 1h0m-63 24h0m-4 1h0m6 6h0m5 15h0m-1 31h0m1 11h0m4 9h0m92 5h0m-9 9h0m-361 71h0m18 5h0m-4 3h0m61 56h0"/>
<path stroke="#1f77b4" d="M464 169h0m36 44h0m8 0h0m-4 2h0m12 1h0m1 0h0m-42 2h0m25 1h0m16 0h0m-31 2h0m98 0h0m-83 1h0m2 0h0m17 0h0m15 2h0m-53 1h0m52 0h0m1 0h0m-78 1h0m26 1h0m19 0h0m78 0h0m-61 1h0m29 0h0m-91 1h0m2 0h0m46 0h0m15 0h0m1 0h0m11 0h0m15 0h0m-77 1h0m33 0h0m14 0h0m36 0h0m-99 1h0m43 0h0m5 0h0m9 0h0m-50 1h0m12 0h0m13 0h0m46 0h0m3 0h0m76 0h0m-153 1h0m15 0h0m57 0h0m-18 1h0m16 1h0m12 1h0m5 0h0m8 0h0m-62 1h0m16 1h0m18 1h0m7 0h0m-69 1h0m11 0h0m1 0h0m17 0h0m-26 1h0m10 0h0m38 0h0m11 0h0m3 0h0m15 0h0m12 2h0m12 0h0m-93 1h0m3 0h0m13 0h0m55 0h0m-50 1h0m74 0h0m-93 1h0m66 0h0m13 0h0m9 0h0m2 0h0m-46 2h0m-26 1h0m51 0h0m20 0h0m-85 1h0m43 0h0m29 0h0m10 0h0m-73 1h0m16 0h0m19 0h0m36 0h0m-38 1h0m-46 1h0m30 0h0m57 0h0m-17 1h0m8 0h0m9 1h0m9 0h0m-85 1h0m32 0h0m67 1h0m-113 2h0m11 0h0m8 0h0m97 0h0m-65 1h0m47 0h0m23 1h0m-113 1h0m85 0h0m-88 1h0m25 0h0m12 0h0m3 0h0m6 0h0m47 0h0m-102 1h0m120 0h0m5 0h0m-47 1h0m-66 1h0m47 0h0m42 0h0m-90 1h0m107 0h0m-76 1h0m38 0h0m27 0h0m6 0h0m-24 2h0m49 0h0m-115 1h0m97 1h0m-116 1h0m61 0h0m10 0h0m-50 1h0m12 0h0m44 0h0m20 0h0m27 0h0m-14 1h0m13 0h0m-1 1h0m16 0h0m7 0h0m-144 1h0m32 0h0m82 0h0m34 0h0m-111 1h0m17 0h0m29 0h0m54 0h0m-107 1h0m12 0h0m51 0h0m-69 1h0m70 0h0m34 0h0m4 0h0m-108 1h0m116 0h0m-49 1h0m7 0h0m35 0h0m-72 1h0m9 0h0m-48 1h0m52 0h0m-57 1h0m62 0h0m-25 1h0m-46 1h0m30 0h0m57 0h0m-105 1h0m11 1h0m32 0h0m15 0h0m21 0h0m18 0h0m59 0h0m36 0h0m-155 1h0m57 1h0m41 0h0m10 0h0m22 0h0m-70 1h0m80 0h0m-165 1h0m26 0h0m87 0h0m2 0h0m17 0h0m7 0h0m-144 1h0m16 0h0m37 0h0m18 0h0m86 0h0m-144 1h0m79 0h0m1 0h0m13 0h0m13 0h0m13 0h0m18 0h0m-131 1h0m63 0h0m1 0h0m6 0h0m-84 1h0m25 0h0m142 0h0m-178 1h0m15 0h0m38 0h0m11 0h0m25 0h0m-69 1h0m52 0h0m64 0h0m42 0h0m-165 1h0m8 0h0m26 0h0m9 0h0m7 0h0m8 0h0m88 0h0m-166 1h0m64 0h0m17 0h0m46 0h0m13 0h0m30 0h0m1 0h0m19 0h0m-36 1h0m-91 1h0m32 0h0m39 0h0m7 0h0m-116 1h0m19 0h0m76 0h0m4 0h0m-34 1h0m63 0h0m-146 1h0m44 0h0m101 0h0m-146 1h0m11 0h0m7 0h0m121 0h0m2 0h0m1 0h0m50 0h0m-180 1h0m32 0h0m46 1h0m8 0h0m61 0h0m-161 1h0m26 0h0m14 0h0m19 0h0m44 0h0m30 0h0m59 0h0m-221 1h0m53 0h0m23 0h0m37 0h0m12 0h0m17 0h0m11 0h0m24 0h0m53 0h0m-188 1h0m16 0h0m22 0h0m102 0h0m5 0h0m-156 1h0m51 0h0m49 0h0m12 0h0m54 0h0m10 0h0m-174 1h0m108 0h0m1 0h0m-14 1h0m5 0h0m9 0h0m42 1h0m15 1h0m-127 1h0m14 0h0m8 0h0m10 0h0m6 0h0m18 0h0m6 0h0m0 0h0m20 0h0m8 0h0m9 0h0m4 0h0m17 0h0m-155 1h0m2 0h0m23 0h0m39 0h0m45 0h0m20 0h0m-120 1h0m13 0h0m25 0h0m3 0h0m113 0h0m-161 1h0m107 0h0m6 0h0m55 0h0m-161 1h0m53 0h0m-72 1h0m31 0h0m11 0h0m13 0h0m2 0h0m0 0h0m12 0h0m61 0h0m46 0h0m-120 1h0m40 0h0m30 0h0m25 0h0m-87 1h0m16 0h0m5 0h0m7 0h0m50 0h0m-143 1h0m23 0h0m84 0h0m56 0h0m14 0h0m-176 1h0m3 0h0m30 0h0m99 0h0m-105 1h0m46 0h0m39 0h0m40 0h0m-139 1h0m1 0h0m-34 1h0m24 0h0m5 0h0m93 0h0m29 0h0m2 0h0m19 0h0m-22 1h0m11 0h0m7 0h0m7 0h0m-150 1h0m75 0h0m13 0h0m10 0h0m6 0h0m3 0h0m27 0h0m-139 1h0m12 0h0m58 0h0m5 0h0m4 0h0m44 0h0m7 0h0m11 0h0m-94 1h0m51 0h0m62 0h0m-128 1h0m6 0h0m31 0h0m8 0h0m27 0h0m11 0h0m4 0h0m20 0h0m-125 1h0m37 0h0m6 0h0m4 0h0m18 0h0m1 0h0m2 0h0m57 0h0m-44 1h0m42 0h0m-103 1h0m21 0h0m18 0h0m20 0h0m35 0h0m1 0h0m-134 1h0m85 0h0m6 0h0m43 0h0m-110 1h0m6 0h0m38 0h0m44 0h0m12 0h0m-112 1h0m32 0h0m34 0h0m29 0h0m10 0h0m16 0h0m-133 1h0m11 0h0m58 0h0m18 0h0m10 0h0m19 0h0m0 0h0m10 0h0m-80 1h0m11 0h0m13 0h0m5 0h0m42 0h0m-65 1h0m72 0h0m2 0h0m20 0h0m-144 1h0m10 0h0m3 0h0m36 0h0m4 0h0m9 0h0m44 0h0m-34 1h0m10 0h0m14 0h0m16 0h0m-41 1h0m19 0h0m7 0h0m36 0h0m3 0h0m-52 1h0m-26 1h0m5 0h0m7 0h0m20 0h0m32 0h0m-66 1h0m13 0h0m3 0h0m21 0h0m-22 1h0m7 0h0m4 0h0m5 0h0m36 0h0m-57 1h0m7 0h0m-75 1h0m87 0h0m16 0h0m11 0h0m3 0h0m-112 1h0m8 0h0m24 0h0m29 0h0m10 0h0m6 0h0m60 0h0m-143 1h0m60 0h0m10 0h0m3 0h0m16 0h0m-25 1h0m15 0h0m1 0h0m56 0h0m12 0h0m25 0h0m-103 1h0m27 0h0m37 0h0m-117 1h0m7 0h0m28 0h0m32 0h0m41 0h0m21 0h0m-120 1h0m27 0h0m29 0h0m41 0h0m25 0h0m1 0h0m-21 1h0m9 0h0m-123 1h0m10 0h0m103 0h0m-116 1h0m16 0h0m3 0h0m13 0h0m1 0h0m44 0h0m26 0h0m6 0h0m-133 1h0m54 0h0m12 0h0m23 0h0m1 0h0m52 0h0m14 0h0m-134 1h0m73 0h0m8 0h0m8 0h0m43 0h0m-117 1h0m38 0h0m4 0h0m21 0h0m30 0h0m7 0h0m12 0h0m-57 1h0m7 0h0m15 0h0m1 0h0m7 0h0m18 0h0m1 0h0m-120 1h0m48 0h0m6 0h0m46 0h0m-108 1h0m7 0h0m26 0h0m4 0h0m44 0h0m18 0h0m43 0h0m-88 1h0m14 0h0m9 0h0m2 0h0m-80 1h0m6 0h0m27 0h0m32 0h0m11 0h0m8 0h0m-65 1h0m105 0h0m-122 1h0m6 0h0m12 0h0m51 0h0m17 0h0m-75 1h0m4 0h0m20 0h0m29 0h0m15 0h0m-90 1h0m38 0h0m29 0h0m1 0h0m25 0h0m40 0h0m15 0h0m-128 1h0m2 0h0m107 0h0m22 0h0m14 0h0m-157 1h0m36 0h0m3 0h0m18 0h0m15 0h0m1 0h0m2 0h0m6 0h0m69 0h0m-121 1h0m30 0h0m37 1h0m-58 1h0m2 0h0m52 0h0m-61 1h0m73 0h0m-44 1h0m10 0h0m43 0h0m15 0h0m-136 1h0m9 0h0m120 0h0m7 0h0m36 0h0m-166 1h0m108 0h0m7 0h0m3 0h0m22 0h0m5 0h0m2 0h0m-1 1h0m-105 1h0m6 0h0m50 0h0m-75 1h0m2 0h0m22 0h0m0 0h0m30 0h0m6 0h0m-23 1h0m13 0h0m-57 1h0m3 0h0m4 0h0m2 0h0m11 0h0m103 0h0m8 0h0m-91 1h0m23 0h0m-21 1h0m6 0h0m40 0h0m12 0h0m1 0h0m6 0h0m6 0h0m6 0h0m14 0h0m-131 1h0m11 0h0m25 0h0m8 0h0m0 0h0m11 0h0m1 0h0m8 0h0m20 0h0m31 0h0m-134 1h0m19 0h0m44 0h0m-36 1h0m13 0h0m32 0h0m-52 1h0m16 0h0m4 0h0m17 0h0m0 0h0m38 0h0m35 0h0m-101 1h0m3 0h0m15 0h0m66 0h0m13 0h0m27 0h0m-131 1h0m15 0h0m34 1h0m4 0h0m6 0h0m10 0h0m48 0h0m9 0h0m-108 1h0m14 0h0m17 0h0m26 0h0m25 0h0m-100 1h0m42 0h0m24 0h0m13 0h0m-61 1h0m0 0h0m54 0h0m42 0h0m-46 1h0m28 0h0m1 0h0m-86 1h0m93 0h0m-103 1h0m22 0h0m23 0h0m9 0h0m41 0h0m-40 1h0m24 0h0m-66 1h0m40 0h0m74 0h0m-109 1h0m12 0h0m3 0h0m1 0h0m11 0h0m18 0h0m4 0h0m10 0h0m23 0h0m19 0h0m-23 1h0m24 0h0m-59 1h0m11 0h0m7 0h0m-53 1h0m8 0h0m-2 1h0m23 0h0m19 0h0m-41 1h0m22 0h0m48 3h0m-74 1h0m20 0h0m10 0h0m-16 1h0m11 0h0m9 0h0m50 0h0m-17 1h0m9 0h0m104 0h0m-149 1h0m0 0h0m18 1h0m12 0h0m8 0h0m13 0h0m-53 1h0m5 0h0m4 0h0m24 0h0m12 0h0m71 0h0m-86 1h0m33 0h0m-49 1h0m3 0h0m-5 1h0m49 0h0m3 0h0m-41 1h0m-14 1h0m24 0h0m-8 1h0m29 1h0m-42 1h0m20 0h0m19 0h0m18 0h0m-47 1h0m9 0h0m6 0h0m36 0h0m-42 2h0m12 2h0m6 0h0m1 1h0m11 1h0m16 0h0m6 0h0m-17 1h0m-39 1h0m29 0h0m7 0h0m1 0h0m-7 1h0m11 1h0m-81 1h0m69 0h0m17 0h0m-15 1h0m35 3h0m0 2h0m-52 10h0m-266 45h0m8 2h0m88 51h0m-3 38h0"/>
<path stroke="#ff7f0e" d="M642 330h0m-15 1h0m6 7h0m5 16h0m-8 1h0m-9 29h0m-197 4h0m-10 1h0m23 2h0m-8 3h0m-24 8h0m17 1h0m-7 2h0m33 0h0m14 1h0m3 0h0m-11 1h0m-60 1h0m164 1h0m-72 2h0m-68 1h0m29 0h0m-39 1h0m53 0h0m-30 1h0m61 0h0m-100 2h0m37 0h0m21 0h0m16 0h0m8 0h0m24 0h0m44 0h0m-83 1h0m37 0h0m12 0h0m24 0h0m-62 1h0m14 0h0m7 0h0m-30 1h0m2 0h0m1 0h0m3 1h0m38 0h0m33 0h0m-61 1h0m2 0h0m12 0h0m-66 1h0m4 0h0m50 0h0m13 0h0m-84 1h0m123 0h0m15 0h0m-144 1h0m52 0h0m49 0h0m3 0h0m2 0h0m87 0h0m20 0h0m-160 1h0m52 0h0m4 1h0m-62 1h0m16 0h0m37 0h0m18 0h0m-83 1h0m34 0h0m18 0h0m-64 1h0m38 0h0m9 0h0m6 0h0m12 0h0m42 0h0m9 0h0m-95 1h0m29 0h0m2 0h0m38 0h0m15 0h0m-78 1h0m-51 1h0m65 0h0m34 0h0m11 0h0m2 0h0m-46 1h0m30 0h0m24 0h0m15 0h0m-62 1h0m36 0h0m11 0h0m13 0h0m2 0h0m-91 1h0m25 0h0m23 0h0m50 0h0m-93 1h0m91 0h0m2 0h0m-111 1h0m84 0h0m10 0h0m76 0h0m8 0h0m-216 1h0m40 0h0m89 0h0m-108 1h0m35 0h0m72 0h0m23 0h0m-103 2h0m21 0h0m6 0h0m17 0h0m16 0h0m-24 1h0m21 0h0m22 0h0m41 0h0m-172 1h0m123 0h0m53 0h0m-124 1h0m14 0h0m75 0h0m-119 2h0m88 0h0m41 0h0m14 0h0m7 0h0m4 0h0m3 0h0m-189 1h0m9 0h0m56 0h0m70 0h0m4 0h0m8 0h0m0 0h0m25 0h0m-117 1h0m15 0h0m96 0h0m28 0h0m-104 1h0m86 0h0m20 0h0m-130 2h0m49 0h0m24 0h0m-83 1h0m6 0h0m8 0h0m3 0h0m9 0h0m1 0h0m-13 1h0m13 0h0m9 0h0m11 0h0m35 0h0m-55 1h0m34 0h0m28 0h0m28 0h0m8 0h0m0 0h0m-96 1h0m39 0h0m0 0h0m76 0h0m-8 1h0m-106 1h0m11 0h0m15 0h0m-71 1h0m100 0h0m5 0h0m-103 1h0m79 0h0m50 0h0m-138 1h0m30 0h0m51 0h0m18 0h0m-76 1h0m4 0h0m16 0h0m47 0h0m64 0h0m-122 1h0m48 0h0m9 0h0m-75 1h0m14 0h0m4 0h0m120 0h0m-10 1h0m-105 1h0m16 0h0m24 0h0m1 0h0m26 0h0m26 0h0m25 0h0m1 0h0m-139 1h0m136 0h0m-38 1h0m16 0h0m28 0h0m14 0h0m-166 1h0m34 0h0m39 0h0m61 0h0m8 0h0m-171 1h0m57 0h0m66 0h0m26 0h0m22 0h0m-132 1h0m25 0h0m54 0h0m16 0h0m38 0h0m-118 1h0m88 0h0m14 0h0m22 0h0m-1 1h0m5 0h0m-168 1h0m9 0h0m57 0h0m38 0h0m-76 1h0m109 0h0m14 0h0m26 0h0m1 0h0m-51 1h0m62 0h0m-46 1h0m24 0h0m21 0h0m-186 1h0m33 0h0m59 0h0m17 0h0m68 0h0m-139 1h0m13 0h0m97 0h0m-171 1h0m17 0h0m29 0h0m2 0h0m43 0h0m110 0h0m4 0h0m-20 1h0m7 0h0m-183 1h0m144 0h0m-105 1h0m4 0h0m88 0h0m43 0h0m-154 1h0m32 0h0m47 0h0m50 0h0m26 0h0m22 0h0m1 0h0m-173 2h0m26 0h0m19 0h0m115 0h0m7 0h0m-100 1h0m48 0h0m49 0h0m-77 1h0m109 0h0m-187 1h0m102 0h0m17 0h0m-124 1h0m78 0h0m58 0h0m-142 1h0m16 0h0m5 0h0m46 0h0m63 0h0m3 0h0m28 0h0m12 0h0m-118 1h0m16 0h0m67 0h0m9 0h0m-143 1h0m2 0h0m8 0h0m32 0h0m56 0h0m31 0h0m1 0h0m30 0h0m-95 1h0m95 0h0m-118 1h0m110 0h0m-146 1h0m57 0h0m7 0h0m70 0h0m10 0h0m-155 1h0m142 0h0m16 0h0m-35 1h0m42 0h0m-130 1h0m25 0h0m8 0h0m15 0h0m73 0h0m-240 1h0m78 0h0m4 0h0m58 0h0m9 0h0m84 0h0m-120 1h0m59 0h0m59 0h0m43 0h0m10 0h0m-212 1h0m33 0h0m19 0h0m12 0h0m16 0h0m67 0h0m13 0h0m18 0h0m-143 1h0m10 0h0m-9 1h0m40 0h0m35 0h0m3 0h0m62 0h0m-198 1h0m33 0h0m7 0h0m26 1h0m58 0h0m76 0h0m-21 1h0m-99 1h0m24 0h0m8 0h0m51 0h0m61 0h0m-189 1h0m45 0h0m6 0h0m96 0h0m-122 1h0m16 0h0m11 0h0m34 0h0m19 0h0m21 0h0m1 0h0m12 0h0m-120 1h0m36 0h0m49 0h0m1 0h0m32 0h0m24 0h0m-157 1h0m6 0h0m96 0h0m7 0h0m18 0h0m2 0h0m-137 1h0m38 0h0m28 0h0m64 0h0m2 0h0m15 0h0m2 0h0m-141 1h0m38 0h0m19 0h0m2 0h0m2 0h0m8 0h0m18 0h0m5 0h0m2 0h0m44 0h0m8 0h0m6 0h0m-151 1h0m3 0h0m3 0h0m3 0h0m13 0h0m48 0h0m24 0h0m50 0h0m12 0h0m-112 1h0m8 0h0m3 0h0m13 0h0m56 0h0m-134 1h0m54 0h0m3 0h0m3 0h0m20 0h0m17 0h0m16 0h0m20 0h0m-126 1h0m91 0h0m9 0h0m2 0h0m8 0h0m15 0h0m5 0h0m11 0h0m-139 1h0m53 0h0m19 0h0m48 0h0m-70 1h0m17 0h0m67 0h0m13 0h0m-141 1h0m23 0h0m9 0h0m2 0h0m24 0h0m1 0h0m34 0h0m-101 1h0m40 0h0m51 0h0m39 0h0m-79 1h0m49 0h0m14 0h0m29 0h0m-12 1h0m-130 1h0m26 0h0m51 0h0m8 0h0m35 0h0m-75 1h0m2 0h0m70 0h0m5 0h0m6 0h0m16 0h0m-115 1h0m22 0h0m52 0h0m22 0h0m-35 1h0m0 0h0m26 0h0m-63 1h0m23 0h0m58 1h0m-115 1h0m19 0h0m2 0h0m32 0h0m9 0h0m6 0h0m6 0h0m25 0h0m-87 1h0m6 0h0m14 0h0m18 0h0m19 0h0m37 0h0m-106 1h0m53 0h0m7 0h0m2 0h0m21 0h0m-93 1h0m10 0h0m36 0h0m13 0h0m12 0h0m2 0h0m8 0h0m-51 1h0m18 0h0m47 0h0m-68 1h0m1 0h0m43 0h0m18 0h0m98 0h0m-181 1h0m22 0h0m30 0h0m7 0h0m3 0h0m3 0h0m54 0h0m-73 1h0m-37 2h0m23 0h0m21 0h0m15 0h0m7 0h0m-67 1h0m9 0h0m6 0h0m0 0h0m58 0h0m3 0h0m-60 1h0m14 0h0m41 0h0m-3 1h0m5 0h0m1 0h0m0 0h0m-68 1h0m38 0h0m36 0h0m-75 1h0m18 0h0m17 0h0m9 1h0m4 0h0m24 0h0m-71 1h0m17 0h0m38 0h0m-59 1h0m5 1h0m-36 2h0m-10 7h0m137 6h0"/>
<path stroke="#aa40fc" d="M331 47h0m5 1h0m-15 3h0m11 0h0m-23 4h0m22 0h0m13 1h0m-35 1h0m41 0h0m-27 1h0m13 0h0m-4 1h0m20 0h0m-50 3h0m28 1h0m8 0h0m-14 1h0m15 0h0m16 2h0m-46 1h0m44 3h0m-51 1h0m57 0h0m-61 1h0m60 1h0m-6 1h0m6 1h0m-3 1h0m2 2h0m-72 1h0m20 0h0m52 1h0m9 5h0m-93 1h0m14 0h0m6 2h0m-20 2h0m23 2h0m-17 1h0m-2 2h0m0 0h0m3 0h0m16 0h0m-26 1h0m10 0h0m24 0h0m-2 1h0m-30 1h0m21 1h0m4 1h0m6 0h0m5 1h0m-25 1h0m112 4h0m-102 2h0m66 0h0m-67 3h0m106 0h0m-87 1h0m0 2h0m-20 1h0m112 0h0m-93 1h0m-28 1h0m111 0h0m-35 1h0m-73 1h0m9 2h0m87 0h0m-83 1h0m4 1h0m11 0h0m5 0h0m-14 2h0m-12 1h0m32 0h0m7 0h0m-35 1h0m2 1h0m28 1h0m-12 1h0m13 0h0m54 0h0m-79 2h0m-1 1h0m6 0h0m20 1h0m-30 1h0m24 0h0m9 0h0m-30 1h0m91 1h0m-95 1h0m6 2h0m34 0h0m61 0h0m-91 2h0m8 0h0m2 0h0m4 2h0m5 0h0m3 1h0m5 0h0m-28 2h0m30 2h0m-20 1h0m5 0h0m-3 2h0m26 0h0m-20 1h0m21 0h0m-29 1h0m8 1h0m8 1h0m6 0h0m-20 2h0m-5 2h0m10 0h0m16 0h0m1 0h0m0 0h0m-8 2h0m3 0h0m-20 2h0m2 0h0m1 0h0m22 0h0m7 0h0m-3 1h0m7 0h0m-30 1h0m146 1h0m-144 3h0m3 1h0m1 0h0m0 0h0m7 2h0m9 0h0m15 0h0m-3 1h0m-29 1h0m22 0h0m8 0h0m-20 4h0m4 0h0m21 0h0m-17 1h0m0 1h0m11 0h0m-18 3h0m9 0h0m10 0h0m7 0h0m-20 1h0m5 1h0m-7 1h0m16 0h0m-9 1h0m-20 1h0m34 0h0m-25 3h0m26 0h0m-16 1h0m-5 1h0m9 0h0m-6 2h0m-13 2h0m31 1h0m-14 1h0m-14 2h0m31 2h0m-24 2h0m16 1h0m7 1h0m-16 1h0m19 0h0m5 1h0m-35 1h0m6 1h0m18 0h0m-21 1h0m19 1h0m3 0h0m-26 1h0m30 0h0m-9 1h0m-5 1h0m21 0h0m4 0h0m-23 4h0m21 0h0m4 1h0m-21 1h0m1 0h0m5 0h0m3 1h0m6 0h0m-28 1h0m20 0h0m1 1h0m-9 1h0m21 0h0m1 0h0m3 2h0m-13 1h0m19 0h0m-46 1h0m4 0h0m38 1h0m-28 1h0m20 0h0m1 1h0m-28 1h0m15 0h0m-13 2h0m27 0h0m3 0h0m6 0h0m-2 1h0m-41 1h0m15 1h0m25 0h0m-22 1h0m-18 2h0m30 2h0m8 0h0m1 0h0m-35 1h0m32 0h0m5 0h0m7 0h0m-50 1h0m44 0h0m-39 1h0m7 2h0m4 1h0m31 0h0m-1 1h0m-29 1h0m16 0h0m-4 1h0m6 0h0m4 2h0m-3 1h0m-24 1h0m0 0h0m2 1h0m5 0h0m23 0h0m344 55h0m-96 18h0m-18 37h0m-3 13h0m-12 3h0"/>
<path stroke="#b5bd61" d="M444 144h0m117 14h0m-17 1h0m6 8h0m0 0h0m-5 3h0m22 0h0m2 0h0m-40 1h0m22 0h0m13 0h0m-5 1h0m-21 3h0m11 1h0m-78 3h0m96 0h0m-7 4h0m-15 1h0m20 0h0m0 1h0m-23 4h0m13 0h0m5 1h0m3 1h0m7 0h0m-23 2h0m14 0h0m-10 3h0m-6 2h0m31 1h0m-6 3h0m10 0h0m-27 1h0m6 0h0m32 0h0m-25 1h0m14 0h0m-20 2h0m13 0h0m6 0h0m-11 1h0m16 0h0m16 0h0m-26 1h0m1 0h0m4 0h0m3 0h0m-25 2h0m27 0h0m21 1h0m24 0h0m-13 2h0m-61 2h0m4 0h0m15 1h0m47 0h0m-65 1h0m0 0h0m65 1h0m-10 1h0m-41 1h0m64 0h0m-26 1h0m-25 1h0m24 0h0m2 0h0m9 0h0m-81 1h0m70 0h0m5 0h0m-3 1h0m46 1h0m-62 1h0m66 0h0m-45 1h0m-21 1h0m7 0h0m2 0h0m2 0h0m27 1h0m-43 2h0m51 0h0m-40 1h0m38 2h0m20 0h0m-21 1h0m11 0h0m-37 1h0m0 0h0m14 0h0m9 1h0m-34 1h0m19 2h0m23 0h0m-7 1h0m6 0h0m-12 4h0m-61 2h0m41 1h0m6 12h0"/>
<path stroke="#e377c2" d="M657 386h0m-1 5h0m0 0h0m5 1h0m-7 3h0m12 4h0m-11 1h0m10 0h0m-10 2h0m5 2h0m13 3h0m-21 1h0m1 1h0m27 0h0m-16 2h0m6 0h0m4 1h0m0 0h0m-22 1h0m29 0h0m-15 8h0m12 0h0m-12 1h0m3 1h0m6 0h0m-61 5h0m61 0h0m-15 1h0m9 2h0m6 0h0m-15 1h0m30 0h0m-15 1h0m-23 1h0m14 1h0m-2 3h0m-3 1h0m7 3h0m11 2h0m-301 32h0m13 15h0m37 8h0m-38 1h0m11 1h0m-7 2h0m-16 1h0m-3 3h0m3 1h0m40 0h0m-41 1h0m29 0h0m25 1h0m-14 1h0m6 2h0m-63 1h0m4 0h0m15 0h0m14 3h0m-29 1h0m58 0h0m-60 1h0m17 0h0m46 1h0m-4 3h0m-82 1h0m63 0h0m-50 2h0m24 0h0m44 0h0m5 0h0m5 0h0m-16 1h0m-73 1h0m37 0h0m11 0h0m14 0h0m-67 2h0m84 0h0m-16 1h0m13 0h0m9 0h0m-71 1h0m59 0h0m-23 1h0m15 0h0m22 1h0m-104 1h0m3 0h0m22 0h0m44 0h0m-68 1h0m89 0h0m18 0h0m-21 1h0m-53 1h0m-8 1h0m29 0h0m7 0h0m-123 1h0m23 0h0m108 0h0m16 0h0m-82 1h0m-85 1h0m25 0h0m136 0h0m-119 1h0m9 0h0m53 0h0m-25 1h0m76 0h0m8 0h0m-126 1h0m127 0h0m-161 1h0m8 0h0m2 0h0m68 0h0m78 0h0m-148 1h0m8 0h0m60 0h0m-68 1h0m46 0h0m16 0h0m-56 1h0m30 0h0m18 1h0m90 0h0m-129 1h0m22 0h0m14 0h0m-30 1h0m40 0h0m4 0h0m-53 1h0m-6 1h0m7 0h0m24 0h0m106 0h0m5 0h0m-143 1h0m18 0h0m29 0h0m-22 2h0m24 0h0m-53 2h0m147 0h0m-143 1h0m7 0h0m2 1h0m123 0h0m-127 1h0m8 0h0m135 0h0m-141 2h0m0 0h0m13 1h0m115 0h0m-2 1h0m15 0h0m-144 1h0m123 1h0m-38 1h0m-79 1h0m139 0h0m0 1h0m-15 4h0m-49 1h0m49 0h0m33 0h0m-24 2h0m-11 2h0m20 0h0m-6 2h0m7 0h0m-74 1h0m74 1h0m-4 1h0m-11 1h0m4 0h0m6 7h0m-11 2h0m3 0h0m7 11h0m-2 4h0"/>
<path stroke="#279e68" d="M354 269h0m4 2h0m-25 4h0m26 0h0m2 0h0m-17 3h0m-2 2h0m16 0h0m-26 1h0m5 1h0m31 0h0m-29 2h0m28 0h0m1 0h0m6 0h0m-13 3h0m5 0h0m-27 1h0m5 0h0m-21 1h0m34 0h0m-5 1h0m6 0h0m0 0h0m4 0h0m-19 1h0m-6 1h0m16 1h0m14 1h0m-13 1h0m7 1h0m-26 1h0m-8 1h0m19 0h0m7 2h0m6 0h0m-36 1h0m6 0h0m3 0h0m32 0h0m6 0h0m-34 1h0m-18 1h0m29 1h0m6 0h0m7 0h0m-29 1h0m13 1h0m12 0h0m15 0h0m2 0h0m-21 1h0m7 0h0m18 0h0m-21 2h0m-22 1h0m46 0h0m-45 1h0m35 0h0m-29 1h0m2 0h0m31 1h0m-52 1h0m1 1h0m2 0h0m4 0h0m24 0h0m-35 1h0m45 0h0m5 0h0m-42 2h0m-12 1h0m1 0h0m2 0h0m2 0h0m50 0h0m-51 1h0m42 0h0m-23 2h0m6 0h0m9 0h0m18 0h0m39 0h0m-74 1h0m10 0h0m3 0h0m28 0h0m-49 1h0m2 0h0m3 0h0m32 0h0m-34 1h0m49 0h0m-75 1h0m2 0h0m32 0h0m0 0h0m-22 1h0m9 0h0m-1 1h0m39 0h0m-35 1h0m28 0h0m14 0h0m20 0h0m-49 1h0m15 0h0m9 0h0m22 0h0m-62 1h0m27 0h0m3 0h0m7 1h0m-28 1h0m17 0h0m2 0h0m23 0h0m29 0h0m-87 1h0m45 0h0m6 0h0m-43 1h0m10 1h0m36 0h0m-58 1h0m20 0h0m13 0h0m14 0h0m-51 1h0m25 0h0m8 0h0m-10 1h0m12 0h0m18 0h0m27 0h0m-75 2h0m3 0h0m42 0h0m12 0h0m-63 1h0m22 0h0m18 0h0m286 0h0m-314 1h0m21 0h0m-10 1h0m5 0h0m24 0h0m-46 1h0m50 0h0m-41 1h0m43 0h0m9 0h0m-56 1h0m10 1h0m20 0h0m-22 1h0m16 0h0m0 0h0m47 0h0m-68 1h0m42 0h0m8 0h0m-51 1h0m13 0h0m14 0h0m27 0h0m14 1h0m-35 1h0m15 0h0m-60 1h0m4 0h0m23 0h0m33 0h0m37 0h0m-67 1h0m3 0h0m0 0h0m3 0h0m15 1h0m20 0h0m-66 1h0m16 0h0m42 0h0m-65 1h0m9 0h0m34 0h0m13 0h0m-32 1h0m33 0h0m10 0h0m23 0h0m-53 1h0m37 0h0m2 0h0m-15 1h0m-54 1h0m4 0h0m50 0h0m1 0h0m-39 1h0m31 0h0m-37 1h0m-8 1h0m13 0h0m79 0h0m3 0h0m237 0h0m-274 1h0m2 0h0m-21 1h0m32 0h0m-67 1h0m42 0h0m12 0h0m-35 2h0m41 0h0m-6 1h0m-53 1h0m1 0h0m65 0h0m-72 1h0m55 0h0m5 0h0m-55 1h0m26 0h0m28 0h0m15 0h0m-50 1h0m9 0h0m2 0h0m5 0h0m13 0h0m6 0h0m25 0h0m-54 1h0m7 0h0m5 0h0m11 0h0m-44 1h0m22 1h0m25 0h0m10 0h0m37 0h0m-95 1h0m32 0h0m55 0h0m-88 1h0m57 0h0m8 0h0m-59 1h0m3 0h0m44 0h0m1 0h0m14 0h0m-13 1h0m-32 1h0m5 0h0m0 0h0m17 0h0m2 0h0m6 0h0m19 0h0m18 0h0m-33 1h0m5 0h0m16 0h0m-63 1h0m37 0h0m-22 1h0m7 0h0m26 0h0m11 0h0m-47 1h0m13 1h0m11 0h0m36 0h0m12 0h0m-45 1h0m26 0h0m25 0h0m-82 1h0m6 0h0m27 0h0m13 0h0m-68 1h0m53 0h0m-22 1h0m25 0h0m-21 1h0m53 0h0m19 0h0m-106 1h0m6 0h0m11 0h0m20 0h0m23 0h0m12 0h0m2 0h0m16 0h0m-43 1h0m-47 1h0m53 0h0m7 0h0m250 0h0m-292 1h0m27 0h0m7 0h0m10 0h0m-32 1h0m1 0h0m-2 1h0m12 0h0m32 0h0m2 0h0m-75 1h0m6 0h0m16 0h0m22 0h0m12 0h0m46 0h0m-41 1h0m42 0h0m-96 1h0m38 0h0m9 0h0m25 0h0m20 0h0m-46 1h0m3 0h0m22 0h0m14 0h0m-48 1h0m26 0h0m11 0h0m6 0h0m-9 1h0m-21 1h0m7 1h0m-45 1h0m12 0h0m49 0h0m-30 1h0m32 0h0m-56 1h0m20 0h0m16 0h0m-52 1h0m1 0h0m51 0h0m17 1h0m-71 1h0m8 0h0m74 0h0m-84 2h0m8 0h0m7 0h0m9 0h0m54 0h0m7 0h0m-67 1h0m5 0h0m67 0h0m11 0h0m-25 1h0m15 0h0m-49 1h0m-35 1h0m36 0h0m0 0h0m-25 1h0m23 0h0m-37 1h0m21 1h0m2 0h0m17 0h0m-10 1h0m13 0h0m13 0h0m12 1h0m7 0h0m0 0h0m-62 3h0m26 0h0m17 0h0m-17 1h0m30 0h0m3 0h0m12 0h0m1 0h0m-85 2h0m35 0h0m-9 1h0m54 0h0m-78 1h0m65 1h0m-52 1h0m57 0h0m-30 1h0m10 0h0m22 0h0m-57 1h0m58 1h0m-66 1h0m80 0h0m-2 1h0m4 0h0m-67 1h0m-19 1h0m10 1h0m13 0h0m-18 1h0m71 0h0m-31 1h0m9 0h0m22 0h0m-32 2h0m2 0h0m21 0h0m12 0h0m-13 1h0m-30 1h0m17 0h0m9 0h0m11 1h0m-29 1h0m26 0h0m3 0h0m1 0h0m-42 1h0m37 0h0m-43 1h0m37 0h0m9 0h0m-36 1h0m35 0h0m6 0h0m-32 1h0m13 0h0m-34 1h0m43 0h0m6 0h0m-61 1h0m20 0h0m14 0h0m32 0h0m-37 1h0m0 0h0m36 0h0m-20 1h0m-30 1h0m4 0h0m26 0h0m8 0h0m-20 2h0m1 0h0m22 0h0m-3 1h0m-46 1h0m47 0h0m21 0h0m-22 1h0m30 1h0m-30 1h0m36 0h0m-49 1h0m-24 1h0m6 0h0m37 0h0m31 0h0m-42 1h0m-46 1h0m38 0h0m13 0h0m-36 1h0m4 0h0m7 1h0m18 0h0m-24 1h0m27 0h0m-31 1h0m3 0h0m79 1h0m-68 1h0m10 1h0m10 0h0m-66 1h0m61 3h0m-57 15h0m28 0h0m7 0h0m6 2h0"/>
<path stroke="#d62728" d="M369 150h0m22 2h0m9 0h0m9 2h0m-41 2h0m7 4h0m3 0h0m9 0h0m4 3h0m-12 1h0m8 0h0m7 0h0m-5 1h0m29 0h0m-37 5h0m-1 1h0m42 0h0m5 2h0m-57 1h0m14 1h0m-16 1h0m52 0h0m15 0h0m-39 1h0m-7 1h0m16 1h0m21 0h0m-40 2h0m18 0h0m47 0h0m-75 1h0m69 0h0m-65 2h0m39 0h0m5 0h0m-3 1h0m-19 1h0m54 0h0m2 0h0m-88 1h0m60 0h0m20 0h0m-58 1h0m32 0h0m10 1h0m-68 1h0m81 0h0m34 0h0m6 1h0m-113 1h0m25 0h0m-7 1h0m13 0h0m16 0h0m2 0h0m25 0h0m-16 1h0m38 0h0m-87 1h0m22 0h0m22 0h0m23 0h0m35 0h0m-53 2h0m-44 1h0m68 0h0m-66 1h0m20 0h0m23 0h0m54 0h0m-105 1h0m87 0h0m15 0h0m-96 1h0m83 0h0m1 0h0m3 0h0m33 0h0m-63 1h0m-55 1h0m72 0h0m-79 1h0m54 0h0m25 0h0m4 0h0m-78 1h0m10 0h0m-34 1h0m56 0h0m35 0h0m48 0h0m-123 1h0m76 0h0m27 0h0m-93 2h0m94 0h0m-112 1h0m85 0h0m17 0h0m22 0h0m-89 1h0m36 0h0m33 0h0m5 0h0m-58 1h0m-15 1h0m47 0h0m26 0h0m18 0h0m-88 1h0m45 0h0m29 0h0m-72 2h0m13 0h0m19 0h0m-69 1h0m2 0h0m68 1h0m1 1h0m-10 2h0m60 0h0m-118 1h0m23 0h0m11 1h0m24 0h0m18 2h0m19 0h0m-49 1h0m-26 1h0m31 0h0m23 0h0m38 0h0m30 0h0m-131 1h0m33 0h0m15 0h0m6 0h0m-58 1h0m77 0h0m32 0h0m9 0h0m7 0h0m83 1h0m-201 1h0m44 0h0m52 1h0m-49 1h0m7 1h0m-21 1h0m69 0h0m111 1h0m-196 1h0m38 0h0m2 0h0m1 0h0m81 0h0m-105 1h0m4 0h0m37 0h0m-39 4h0m29 0h0m12 2h0m-20 1h0m-60 1h0m19 0h0m206 0h0m-250 2h0m27 0h0m39 0h0m20 0h0m6 0h0m-72 1h0m42 0h0m23 0h0m15 0h0m-35 1h0m10 2h0m10 1h0m-60 2h0m36 0h0m6 0h0m1 0h0m-17 1h0m-6 1h0m22 0h0m-43 1h0m34 0h0m40 1h0m2 0h0m-73 1h0m33 0h0m4 0h0m12 0h0m-25 1h0m7 0h0m8 0h0m33 0h0m1 0h0m-70 1h0m24 0h0m-27 1h0m32 0h0m-7 1h0m10 0h0m32 0h0m-79 1h0m37 0h0m6 0h0m4 0h0m16 0h0m2 0h0m-41 1h0m18 2h0m4 0h0m16 0h0m-73 1h0m17 0h0m5 0h0m16 0h0m-44 1h0m47 0h0m26 0h0m27 0h0m-53 1h0m50 0h0m-46 1h0m56 0h0m-73 1h0m44 0h0m-56 1h0m3 1h0m-9 1h0m77 0h0m7 0h0m1 0h0m-38 1h0m28 0h0m-79 1h0m-23 1h0m74 0h0m-23 1h0m52 0h0m6 0h0m-47 1h0m12 0h0m4 0h0m7 0h0m8 0h0m-29 2h0m31 0h0m-50 1h0m18 0h0m21 0h0m21 0h0m-15 1h0m20 0h0m-49 1h0m43 0h0m33 0h0m-65 1h0m4 0h0m30 1h0m-54 1h0m-16 2h0m12 0h0m39 0h0m6 0h0m-51 1h0m61 0h0m-29 1h0m10 0h0m7 0h0m-104 1h0m24 0h0m16 0h0m21 0h0m7 0h0m16 0h0m16 0h0m6 0h0m5 0h0m-53 1h0m4 0h0m14 0h0m20 0h0m5 0h0m12 1h0m-68 1h0m-15 1h0m44 0h0m-8 1h0m42 0h0m32 0h0m-35 1h0m-36 1h0m15 0h0m8 0h0m-52 1h0m32 0h0m-45 1h0m22 0h0m3 0h0m2 0h0m33 0h0m22 0h0m-1 1h0m12 0h0m-44 1h0m48 0h0m-86 2h0m57 1h0m59 0h0m-67 1h0m-55 1h0m11 0h0m125 0h0m-143 1h0m16 0h0m12 0h0m6 0h0m21 0h0m13 0h0m-41 1h0m50 0h0m43 0h0m-96 1h0m54 0h0m-68 1h0m20 0h0m90 0h0m-119 1h0m24 0h0m35 0h0m-29 1h0m20 0h0m28 0h0m-68 1h0m54 0h0m-59 1h0m46 0h0m-12 1h0m18 0h0m6 0h0m-70 1h0m16 0h0m55 1h0m-6 1h0m-40 1h0m17 0h0m47 0h0m-65 1h0m20 0h0m-6 1h0m14 0h0m14 0h0m-8 1h0m20 0h0m2 0h0m59 0h0m-96 1h0m-8 1h0m13 1h0m14 0h0m5 0h0m-39 1h0m52 0h0m-71 1h0m15 0h0m62 0h0m5 0h0m-71 1h0m4 0h0m21 0h0m5 0h0m41 0h0m-61 1h0m30 0h0m32 0h0m-74 1h0m91 0h0m-96 1h0m80 0h0m-39 1h0m-47 1h0m52 0h0m24 0h0m2 0h0m-35 1h0m-29 1h0m14 0h0m27 0h0m-22 1h0m32 0h0m0 0h0m-45 2h0m6 1h0m29 0h0m6 0h0m61 0h0m-71 1h0m27 0h0m-68 1h0m71 0h0m-50 1h0m9 0h0m33 0h0m-26 1h0m-44 2h0m64 0h0m-18 1h0m24 0h0m-57 1h0m23 1h0m9 0h0m-22 1h0m16 0h0m4 0h0m78 0h0m-120 1h0m46 0h0m11 0h0m-55 1h0m5 0h0m8 1h0m26 1h0m-35 1h0m21 0h0m12 0h0m-24 1h0m45 0h0m27 0h0m-80 1h0m7 0h0m7 0h0m30 0h0m20 0h0m1 0h0m-24 1h0m51 0h0m-29 1h0m-43 1h0m25 0h0m3 0h0m52 0h0m-59 1h0m-50 1h0m50 0h0m23 1h0m4 0h0m-66 1h0m26 0h0m33 0h0m23 1h0m9 0h0m-65 1h0m4 0h0m1 0h0m-19 1h0m64 0h0m-84 1h0m43 0h0m-20 1h0m-5 1h0m5 0h0m5 0h0m1 0h0m-28 1h0m20 1h0m3 1h0m-2 1h0m23 0h0m38 0h0m-64 3h0m48 0h0m1 0h0m187 1h0m-226 1h0m-19 1h0m-2 1h0m16 0h0m3 0h0m6 0h0m-29 1h0m3 0h0m28 1h0m4 0h0m7 0h0m-23 1h0m10 0h0m9 1h0m-31 2h0m24 0h0m4 3h0m-19 1h0m7 0h0m7 1h0m2 0h0m-28 3h0m10 0h0m33 0h0m-21 3h0m1 1h0m14 0h0m-35 1h0m36 0h0m-14 1h0m16 0h0m-16 5h0m15 1h0m-14 1h0m-10 1h0m20 0h0m7 1h0m-29 1h0m21 0h0m42 0h0m23 0h0m-77 10h0m36 7h0m-61 43h0m1 12h0m13 12h0"/>
<path stroke="#8c564b" d="M700 237h0m3 2h0m-3 3h0m3 4h0m9 1h0m-10 1h0m53 0h0m-5 1h0m-29 1h0m48 2h0m-61 1h0m61 0h0m-29 1h0m3 1h0m14 1h0m13 0h0m-28 1h0m6 0h0m-54 1h0m33 0h0m53 0h0m-44 1h0m16 0h0m17 1h0m18 1h0m-18 2h0m-3 1h0m9 0h0m2 0h0m-66 1h0m19 0h0m16 0h0m8 1h0m16 0h0m-107 1h0m69 0h0m4 0h0m31 0h0m21 0h0m-59 1h0m6 1h0m1 0h0m-5 1h0m19 0h0m6 0h0m-99 1h0m70 0h0m3 0h0m5 0h0m-65 2h0m74 0h0m2 0h0m12 0h0m2 0h0m-67 2h0m43 0h0m8 0h0m18 0h0m24 0h0m-52 1h0m23 0h0m-14 1h0m2 0h0m15 0h0m-69 2h0m49 1h0m32 0h0m4 1h0m-66 1h0m8 0h0m42 0h0m0 2h0m19 0h0m-20 1h0m-18 1h0m35 0h0m-111 2h0m84 0h0m3 0h0m27 0h0m-3 1h0m-22 2h0m1 0h0m-5 1h0m-5 1h0m8 0h0m15 0h0m-30 1h0m-77 2h0m87 0h0m4 2h0m0 16h0m-37 1h0m-9 7h0m-17 7h0m34 91h0m-82 5h0"/>
<path stroke="#6f6f7a" d="M370 98h0m0 2h0m209 123h0m-19 3h0m56 3h0m-42 10h0m85 5h0m9 50h0m24 21h0m27 1h0m-48 2h0m21 4h0m-64 16h0m18 1h0m6 10h0m-30 53h0m-243 73h0m-41 3h0m32 20h0m-52 7h0m-2 24h0m68 27h0"/>
<path stroke="#279e68" d="M354 267h0m-6 4h0m11 1h0m7 0h0m-14 2h0m-18 5h0m8 2h0m18 0h0m-7 1h0m6 1h0m-8 1h0m-15 2h0m20 0h0m1 0h0m7 0h0m-26 1h0m14 0h0m5 0h0m-13 1h0m9 1h0m6 1h0m1 0h0m6 0h0m-35 1h0m4 0h0m12 0h0m1 0h0m9 1h0m-20 1h0m14 0h0m-21 1h0m17 0h0m3 0h0m-31 1h0m10 0h0m5 0h0m24 0h0m-26 1h0m9 0h0m30 2h0m-33 1h0m-1 1h0m24 0h0m-36 3h0m53 0h0m-40 1h0m33 1h0m-12 2h0m19 0h0m-40 1h0m17 1h0m3 0h0m-15 1h0m15 0h0m11 0h0m-45 1h0m18 0h0m10 0h0m-32 1h0m22 0h0m28 0h0m-52 1h0m6 1h0m17 0h0m10 0h0m-27 2h0m7 0h0m34 0h0m-44 1h0m13 0h0m24 0h0m34 0h0m-57 1h0m30 0h0m16 0h0m-32 1h0m1 0h0m37 0h0m-19 1h0m0 0h0m-37 1h0m31 0h0m-57 1h0m13 0h0m44 0h0m-7 1h0m-35 2h0m11 0h0m22 0h0m17 0h0m16 0h0m-72 1h0m19 0h0m29 0h0m13 0h0m26 0h0m-61 1h0m20 0h0m9 0h0m-60 1h0m54 0h0m-41 1h0m10 0h0m35 0h0m-47 1h0m10 0h0m10 0h0m23 1h0m-10 1h0m1 0h0m1 0h0m11 0h0m-9 1h0m5 0h0m18 0h0m-48 1h0m7 0h0m60 0h0m-76 1h0m16 0h0m33 0h0m-22 1h0m13 1h0m6 0h0m37 0h0m-14 1h0m-84 1h0m27 0h0m61 0h0m-56 1h0m14 0h0m18 0h0m1 0h0m1 1h0m1 0h0m24 0h0m247 0h0m-308 1h0m28 0h0m-14 1h0m2 0h0m-27 1h0m32 0h0m15 0h0m7 0h0m32 0h0m-91 1h0m28 0h0m1 0h0m55 0h0m-39 2h0m-16 1h0m37 0h0m-63 2h0m5 0h0m28 0h0m-29 1h0m38 0h0m4 0h0m37 0h0m-91 1h0m21 0h0m20 0h0m-48 1h0m28 1h0m8 0h0m40 0h0m24 0h0m-94 2h0m7 0h0m14 0h0m48 0h0m-44 1h0m4 0h0m5 0h0m30 0h0m0 0h0m10 0h0m-32 1h0m18 0h0m-61 1h0m19 0h0m23 0h0m38 0h0m-74 1h0m60 0h0m13 0h0m-74 1h0m3 0h0m25 0h0m47 0h0m-32 1h0m10 0h0m21 0h0m-73 1h0m26 0h0m28 1h0m14 0h0m21 0h0m4 0h0m-100 1h0m14 0h0m13 0h0m1 0h0m23 0h0m-15 1h0m1 0h0m2 0h0m9 0h0m11 0h0m-25 2h0m20 0h0m-18 1h0m13 0h0m1 1h0m22 0h0m11 0h0m-56 1h0m14 0h0m14 0h0m10 0h0m-57 1h0m57 0h0m-54 1h0m8 0h0m17 0h0m1 0h0m28 0h0m7 0h0m34 0h0m-66 3h0m9 2h0m14 0h0m-45 1h0m37 0h0m2 0h0m28 0h0m-73 1h0m27 0h0m18 0h0m35 0h0m-50 1h0m5 0h0m8 0h0m2 0h0m44 0h0m-61 1h0m13 0h0m-45 2h0m54 0h0m18 0h0m-72 1h0m17 0h0m10 0h0m-20 1h0m23 0h0m21 0h0m23 0h0m1 0h0m1 0h0m-51 1h0m8 0h0m2 0h0m28 0h0m15 0h0m16 0h0m-86 2h0m24 0h0m29 0h0m19 0h0m-73 1h0m29 0h0m21 1h0m17 1h0m-3 1h0m8 0h0m-66 1h0m5 0h0m11 0h0m9 0h0m20 0h0m-35 1h0m5 0h0m11 0h0m5 0h0m3 0h0m56 0h0m-107 1h0m7 0h0m31 0h0m-20 1h0m25 0h0m9 0h0m8 0h0m-25 1h0m21 0h0m-11 1h0m39 0h0m27 0h0m-36 1h0m2 0h0m7 0h0m13 0h0m-42 1h0m16 0h0m19 0h0m-67 1h0m14 0h0m3 0h0m19 0h0m22 0h0m30 0h0m-97 1h0m0 1h0m44 0h0m19 0h0m17 0h0m14 0h0m-44 1h0m10 1h0m-45 1h0m15 0h0m2 0h0m32 0h0m-44 1h0m39 0h0m-52 1h0m26 0h0m31 0h0m3 0h0m7 0h0m-59 1h0m16 0h0m51 0h0m1 0h0m-85 1h0m6 0h0m17 0h0m1 0h0m74 0h0m-80 1h0m31 0h0m13 0h0m22 0h0m-74 1h0m49 0h0m4 0h0m-53 1h0m49 0h0m8 0h0m19 0h0m7 0h0m-84 1h0m17 0h0m34 0h0m16 0h0m2 0h0m-69 1h0m68 0h0m2 0h0m8 0h0m-34 1h0m41 0h0m0 0h0m-60 1h0m79 1h0m-52 1h0m-25 1h0m-34 1h0m2 1h0m35 0h0m3 0h0m27 0h0m-17 2h0m25 0h0m-65 1h0m38 0h0m11 0h0m14 0h0m-54 1h0m34 0h0m8 0h0m29 0h0m-44 1h0m18 0h0m17 0h0m6 0h0m33 0h0m-102 1h0m9 0h0m48 0h0m-73 1h0m41 1h0m17 1h0m8 0h0m-18 1h0m-15 1h0m45 0h0m-79 1h0m11 0h0m33 0h0m45 0h0m3 0h0m-66 1h0m-25 1h0m56 0h0m15 0h0m11 0h0m-24 1h0m22 0h0m31 0h0m-100 1h0m13 0h0m36 0h0m-39 2h0m10 0h0m16 0h0m12 0h0m-29 2h0m38 0h0m7 0h0m-55 1h0m12 0h0m12 0h0m7 0h0m56 0h0m-91 1h0m23 0h0m-36 1h0m7 0h0m26 0h0m34 0h0m10 0h0m-65 1h0m65 0h0m-48 1h0m6 0h0m-7 2h0m-14 1h0m59 0h0m7 0h0m-31 1h0m10 0h0m21 0h0m-1 1h0m-69 1h0m47 0h0m-39 1h0m74 0h0m-83 1h0m26 0h0m13 1h0m16 0h0m-18 1h0m31 0h0m2 0h0m19 0h0m-82 1h0m26 0h0m-23 1h0m0 0h0m25 1h0m24 0h0m14 0h0m-29 1h0m-31 1h0m39 0h0m3 0h0m-36 1h0m18 0h0m-23 1h0m3 0h0m0 0h0m8 0h0m30 0h0m0 0h0m-27 1h0m27 0h0m23 0h0m-13 1h0m-53 1h0m1 0h0m31 0h0m20 0h0m-44 1h0m12 0h0m-24 1h0m21 0h0m1 0h0m13 0h0m-2 2h0m15 1h0m-21 1h0m-16 2h0m5 0h0m6 0h0m-7 1h0m70 1h0m-47 3h0m13 2h0m-46 1h0m80 5h0m-33 3h0m16 1h0m-51 11h0"/>
<path stroke="#b5bd61" d="M559 166h0m2 1h0m-13 5h0m2 4h0m-3 2h0m7 0h0m1 0h0m3 0h0m-5 2h0m14 2h0m-7 1h0m14 0h0m3 7h0m-13 1h0m13 0h0m-15 2h0m3 0h0m-2 2h0m13 0h0m-12 2h0m7 0h0m23 1h0m-22 3h0m14 1h0m-39 1h0m40 1h0m3 0h0m-35 1h0m21 0h0m16 0h0m-18 3h0m3 2h0m12 0h0m-16 1h0m45 0h0m24 0h0m-63 1h0m1 0h0m40 1h0m10 0h0m10 1h0m-76 1h0m104 0h0m-109 1h0m9 0h0m30 0h0m12 0h0m-8 2h0m13 0h0m-34 1h0m62 1h0m-50 1h0m14 0h0m16 1h0m-50 1h0m4 0h0m51 0h0m1 0h0m11 0h0m-66 2h0m22 0h0m26 0h0m-15 1h0m51 0h0m-9 1h0m-17 2h0m25 1h0m-9 2h0m-25 1h0m14 0h0m-64 2h0m46 2h0m37 0h0m-22 3h0m15 0h0"/>
<path stroke="#ff7f0e" d="M629 336h0m-212 47h0m242 4h0m-246 2h0m232 1h0m-165 4h0m-69 7h0m29 0h0m198 2h0m-247 1h0m11 0h0m82 0h0m-76 3h0m28 0h0m47 3h0m1 1h0m-43 1h0m19 0h0m4 0h0m-73 1h0m56 0h0m39 0h0m8 1h0m7 0h0m-71 1h0m82 0h0m-61 1h0m24 0h0m-12 1h0m7 0h0m9 0h0m46 0h0m-47 1h0m18 0h0m-8 1h0m4 0h0m4 0h0m-94 1h0m54 0h0m56 0h0m0 1h0m12 1h0m-136 1h0m36 0h0m6 0h0m28 0h0m13 0h0m29 0h0m75 0h0m-182 1h0m118 0h0m46 0h0m13 0h0m14 2h0m-128 1h0m10 0h0m30 0h0m13 0h0m12 0h0m-48 1h0m47 0h0m-84 1h0m17 0h0m34 0h0m46 0h0m10 1h0m-38 1h0m-71 1h0m40 0h0m42 0h0m-114 1h0m60 0h0m37 0h0m33 0h0m21 0h0m-110 1h0m79 0h0m12 0h0m12 0h0m3 0h0m-159 1h0m59 0h0m6 0h0m50 0h0m31 0h0m-38 1h0m13 0h0m71 0h0m-135 1h0m3 0h0m33 0h0m39 0h0m8 0h0m14 0h0m-128 1h0m55 0h0m5 0h0m19 0h0m64 1h0m-104 1h0m47 0h0m1 0h0m38 0h0m0 0h0m-163 1h0m75 0h0m3 0h0m49 0h0m136 0h0m-204 1h0m1 0h0m38 0h0m5 0h0m87 0h0m-49 1h0m26 0h0m16 0h0m-70 1h0m61 0h0m-112 1h0m129 0h0m7 0h0m-130 1h0m33 0h0m0 0h0m9 0h0m57 0h0m22 0h0m-121 1h0m4 0h0m8 0h0m-15 1h0m10 0h0m38 0h0m1 0h0m40 0h0m33 0h0m7 0h0m-138 1h0m3 0h0m15 0h0m3 0h0m85 0h0m40 0h0m-94 1h0m37 0h0m47 0h0m-123 1h0m12 0h0m7 0h0m97 0h0m-140 1h0m10 0h0m11 0h0m29 0h0m2 0h0m31 0h0m53 0h0m-135 1h0m12 0h0m88 0h0m11 0h0m36 0h0m5 0h0m-130 1h0m3 0h0m-6 1h0m20 0h0m53 0h0m9 0h0m29 0h0m-117 1h0m1 0h0m3 0h0m66 0h0m59 0h0m-162 1h0m40 0h0m110 0h0m-114 1h0m23 0h0m31 0h0m85 0h0m-146 1h0m31 0h0m82 0h0m17 0h0m23 0h0m1 0h0m-136 1h0m9 0h0m111 0h0m-185 1h0m24 0h0m70 0h0m86 0h0m12 0h0m4 0h0m-162 1h0m10 0h0m36 0h0m94 0h0m17 0h0m9 0h0m-189 1h0m172 0h0m8 0h0m-130 1h0m37 0h0m33 0h0m43 0h0m-108 1h0m114 0h0m5 0h0m6 0h0m-28 1h0m33 0h0m4 0h0m-172 1h0m2 0h0m22 0h0m2 0h0m106 0h0m-117 2h0m4 0h0m23 0h0m110 0h0m9 0h0m-160 1h0m17 0h0m17 0h0m1 0h0m112 0h0m18 0h0m-192 1h0m46 0h0m14 0h0m57 0h0m1 0h0m6 0h0m8 0h0m50 0h0m5 0h0m9 0h0m-183 1h0m72 0h0m72 0h0m22 0h0m4 0h0m13 0h0m9 0h0m-165 1h0m35 0h0m77 0h0m3 0h0m8 0h0m33 0h0m-156 1h0m10 0h0m33 0h0m16 0h0m16 0h0m26 0h0m9 0h0m14 0h0m9 0h0m9 0h0m8 0h0m-181 1h0m6 0h0m18 0h0m66 0h0m56 0h0m20 0h0m-103 1h0m46 0h0m36 0h0m24 0h0m-148 1h0m37 0h0m50 0h0m60 0h0m-118 1h0m-4 1h0m42 0h0m54 0h0m0 0h0m16 0h0m11 0h0m-131 1h0m13 0h0m5 0h0m46 0h0m43 0h0m27 0h0m21 0h0m-136 1h0m114 0h0m-149 1h0m9 0h0m3 0h0m20 0h0m12 0h0m116 0h0m-242 1h0m118 0h0m88 0h0m5 0h0m7 0h0m11 0h0m21 0h0m-142 1h0m2 0h0m7 0h0m111 0h0m-155 1h0m17 0h0m4 0h0m22 0h0m110 0h0m9 0h0m-132 1h0m81 0h0m0 0h0m62 0h0m-139 1h0m20 0h0m16 0h0m5 0h0m63 0h0m-115 1h0m16 0h0m113 0h0m21 0h0m5 0h0m-41 1h0m3 0h0m8 0h0m3 0h0m-96 1h0m23 0h0m67 0h0m4 0h0m2 0h0m11 0h0m5 0h0m-151 1h0m77 0h0m10 0h0m-109 1h0m19 0h0m45 0h0m2 0h0m5 0h0m22 0h0m31 0h0m16 0h0m13 0h0m-136 1h0m5 0h0m14 0h0m25 0h0m0 0h0m19 0h0m82 0h0m-25 1h0m26 0h0m8 0h0m11 0h0m-150 1h0m35 0h0m3 0h0m68 0h0m23 0h0m-216 1h0m149 0h0m-72 1h0m6 0h0m11 0h0m85 0h0m12 0h0m39 0h0m43 0h0m-118 1h0m19 0h0m2 0h0m16 0h0m-54 1h0m-38 1h0m44 0h0m73 0h0m15 0h0m-35 1h0m10 0h0m2 0h0m30 0h0m-100 1h0m39 0h0m30 0h0m3 0h0m11 0h0m11 0h0m-169 1h0m14 0h0m9 0h0m54 0h0m18 0h0m34 0h0m13 0h0m26 0h0m18 0h0m-159 1h0m98 0h0m19 0h0m20 0h0m-120 1h0m10 0h0m11 0h0m7 0h0m44 0h0m-46 2h0m34 0h0m11 0h0m17 0h0m26 0h0m-158 1h0m4 0h0m40 0h0m14 0h0m65 0h0m-106 1h0m13 0h0m48 0h0m69 0h0m24 0h0m-134 1h0m10 0h0m26 0h0m21 0h0m9 0h0m9 0h0m11 0h0m6 0h0m6 0h0m2 0h0m30 0h0m-158 1h0m25 0h0m27 0h0m2 0h0m15 0h0m52 0h0m11 0h0m-95 1h0m11 0h0m32 0h0m8 0h0m10 0h0m55 0h0m2 0h0m2 0h0m-120 1h0m47 0h0m15 0h0m2 0h0m51 0h0m9 0h0m-164 1h0m56 0h0m-55 1h0m7 0h0m47 0h0m19 0h0m19 0h0m10 0h0m46 0h0m-115 1h0m19 0h0m43 0h0m31 0h0m18 0h0m12 0h0m-158 1h0m9 0h0m43 0h0m7 0h0m15 0h0m52 0h0m-121 1h0m42 0h0m13 0h0m13 0h0m25 0h0m9 0h0m4 0h0m-114 1h0m10 0h0m13 0h0m0 0h0m44 0h0m6 0h0m10 0h0m11 0h0m31 0h0m8 0h0m-135 1h0m29 0h0m35 0h0m3 0h0m5 0h0m15 0h0m44 0h0m25 0h0m2 0h0m13 0h0m-165 1h0m13 0h0m7 0h0m4 0h0m12 0h0m32 0h0m9 0h0m13 0h0m18 0h0m1 0h0m16 0h0m-63 1h0m51 0h0m12 0h0m-117 1h0m14 0h0m1 0h0m33 0h0m20 0h0m6 0h0m-85 1h0m8 0h0m10 0h0m67 0h0m10 0h0m15 0h0m28 0h0m16 0h0m-92 1h0m27 0h0m-36 1h0m17 0h0m55 0h0m14 0h0m7 0h0m-111 1h0m9 0h0m28 0h0m69 0h0m11 0h0m-104 1h0m32 0h0m6 0h0m0 0h0m24 0h0m4 0h0m19 0h0m-66 1h0m12 0h0m12 0h0m3 0h0m8 0h0m11 0h0m-51 1h0m30 0h0m7 0h0m16 0h0m-107 1h0m86 0h0m8 0h0m-82 1h0m18 0h0m14 0h0m12 0h0m39 0h0m-69 1h0m8 0h0m31 0h0m19 0h0m3 0h0m48 0h0m-114 1h0m18 0h0m4 0h0m59 0h0m-9 1h0m1 0h0m15 0h0m10 0h0m-74 1h0m17 0h0m3 0h0m49 0h0m-59 1h0m1 0h0m17 0h0m14 0h0m2 0h0m10 0h0m-79 1h0m25 0h0m72 0h0m-16 1h0m6 0h0m-17 1h0m14 0h0m-49 1h0m3 0h0m2 0h0m12 0h0m-67 1h0m93 0h0m54 0h0m-129 1h0m0 1h0m25 0h0m27 0h0m-48 1h0m116 0h0m-96 1h0m24 0h0m-21 1h0m31 0h0m10 0h0m-41 1h0m41 0h0m-67 1h0m26 0h0m-2 1h0m-25 2h0m-18 8h0m125 0h0m-75 1h0m-77 11h0"/>
<path stroke="#aa40fc" d="M331 45h0m4 4h0m-14 2h0m11 0h0m-1 1h0m6 1h0m11 0h0m-28 1h0m19 0h0m-14 2h0m18 0h0m5 0h0m-38 1h0m36 1h0m-30 2h0m38 1h0m-48 5h0m-5 1h0m6 0h0m47 0h0m7 0h0m-48 1h0m40 4h0m11 1h0m-12 2h0m3 0h0m-63 1h0m69 0h0m-68 1h0m11 2h0m49 0h0m-77 1h0m3 1h0m12 0h0m3 0h0m-15 2h0m3 1h0m7 2h0m57 2h0m-71 2h0m7 0h0m9 1h0m-7 1h0m11 0h0m-13 2h0m9 0h0m-4 1h0m10 0h0m50 1h0m50 0h0m-118 1h0m61 0h0m-52 1h0m12 0h0m15 0h0m-21 1h0m43 0h0m-47 1h0m12 1h0m6 0h0m-16 1h0m10 1h0m-3 2h0m11 0h0m60 0h0m-75 2h0m62 5h0m-59 1h0m9 0h0m10 0h0m42 1h0m-58 1h0m7 0h0m18 0h0m-38 1h0m27 0h0m0 0h0m23 0h0m-28 1h0m2 0h0m33 0h0m-49 1h0m89 1h0m-33 4h0m-48 1h0m1 1h0m71 0h0m-47 3h0m-1 1h0m85 0h0m-108 1h0m22 0h0m58 1h0m-73 2h0m43 1h0m5 0h0m-60 3h0m24 1h0m3 0h0m37 0h0m38 0h0m-9 1h0m-57 1h0m-34 5h0m19 0h0m6 0h0m8 1h0m-20 1h0m30 1h0m-38 2h0m11 1h0m2 1h0m-7 2h0m-4 1h0m39 0h0m-40 1h0m29 0h0m-18 1h0m9 0h0m2 0h0m-12 1h0m16 0h0m136 1h0m-119 1h0m-29 2h0m10 2h0m13 0h0m-1 2h0m-28 2h0m8 0h0m4 0h0m8 2h0m-19 1h0m1 1h0m44 0h0m-31 1h0m8 0h0m-15 3h0m17 0h0m-7 1h0m118 0h0m39 1h0m-153 1h0m0 0h0m-5 3h0m9 1h0m6 1h0m-9 2h0m18 4h0m-28 1h0m18 0h0m4 1h0m3 0h0m-2 1h0m17 0h0m-37 1h0m35 0h0m-15 1h0m-12 1h0m9 0h0m14 1h0m-15 3h0m21 0h0m-28 1h0m-3 1h0m5 1h0m-7 1h0m2 0h0m11 2h0m13 1h0m4 0h0m-6 1h0m5 0h0m1 1h0m-14 2h0m-14 2h0m22 0h0m17 1h0m0 1h0m-32 1h0m1 2h0m30 1h0m2 1h0m-36 1h0m9 1h0m13 1h0m-24 1h0m6 0h0m12 0h0m3 0h0m5 1h0m22 0h0m-21 1h0m9 0h0m-34 1h0m30 0h0m-29 1h0m7 0h0m4 1h0m22 0h0m5 0h0m-34 3h0m41 0h0m0 0h0m-5 1h0m-15 1h0m-29 2h0m10 0h0m40 1h0m5 0h0m-41 1h0m20 0h0m-10 1h0m14 2h0m11 1h0m4 0h0m-31 2h0m25 2h0m-25 1h0m26 2h0m-35 1h0m14 0h0m25 0h0m-35 1h0m15 0h0m3 0h0m14 1h0m-33 1h0m-2 4h0m7 0h0m-7 7h0m8 0h0m14 0h0m331 38h0m-68 34h0m-8 13h0m-4 10h0m-9 33h0"/>
<path stroke="#d62728" d="M373 136h0m-7 6h0m1 4h0m6 1h0m23 4h0m2 7h0m-32 1h0m32 0h0m5 2h0m11 0h0m-33 1h0m-14 4h0m57 0h0m-37 2h0m27 1h0m-32 1h0m7 0h0m6 0h0m7 1h0m-26 1h0m26 0h0m6 1h0m17 0h0m-14 4h0m13 1h0m6 0h0m-50 1h0m45 0h0m10 2h0m-4 1h0m-35 1h0m47 1h0m-66 1h0m80 0h0m-55 1h0m24 0h0m33 1h0m9 0h0m-37 1h0m37 0h0m-85 1h0m75 0h0m-68 1h0m13 0h0m47 0h0m1 1h0m-79 1h0m3 0h0m23 0h0m-4 2h0m20 0h0m54 0h0m-93 1h0m52 1h0m28 0h0m28 0h0m-106 1h0m40 0h0m2 1h0m12 0h0m44 0h0m10 0h0m-103 1h0m28 0h0m24 0h0m-7 1h0m30 0h0m5 0h0m15 0h0m-105 1h0m52 0h0m8 1h0m2 0h0m25 0h0m21 0h0m6 0h0m9 1h0m1 0h0m-104 1h0m72 0h0m-65 2h0m88 0h0m20 0h0m-4 1h0m-9 2h0m-99 1h0m39 0h0m43 0h0m26 0h0m-100 1h0m16 0h0m-38 2h0m53 0h0m24 0h0m-62 1h0m47 0h0m6 0h0m-77 1h0m63 0h0m35 0h0m-46 1h0m54 0h0m16 0h0m-81 2h0m97 0h0m-130 1h0m12 0h0m-15 1h0m8 0h0m13 0h0m75 0h0m-72 1h0m57 0h0m33 1h0m-61 1h0m7 0h0m30 0h0m36 0h0m-104 1h0m53 0h0m11 0h0m-54 1h0m15 0h0m-19 2h0m31 0h0m-5 1h0m-13 1h0m34 0h0m-55 1h0m9 0h0m91 1h0m75 0h0m-173 1h0m47 0h0m158 0h0m-200 1h0m88 0h0m-76 1h0m10 0h0m-9 1h0m37 1h0m-11 1h0m-46 1h0m12 1h0m12 0h0m15 0h0m-50 1h0m6 0h0m17 0h0m14 0h0m91 0h0m-107 1h0m5 0h0m-5 1h0m22 0h0m15 0h0m70 0h0m117 0h0m-240 2h0m6 0h0m21 0h0m13 0h0m-22 1h0m53 0h0m-4 1h0m-71 1h0m32 0h0m44 0h0m-70 1h0m26 0h0m16 0h0m21 0h0m6 1h0m-56 1h0m9 0h0m92 0h0m-88 1h0m79 0h0m-102 1h0m7 0h0m18 0h0m20 1h0m60 0h0m-105 1h0m24 0h0m9 0h0m-14 1h0m2 0h0m32 0h0m29 0h0m29 0h0m-126 1h0m35 0h0m0 1h0m39 0h0m-54 2h0m31 0h0m-18 1h0m40 0h0m2 0h0m8 0h0m-58 1h0m39 0h0m-23 1h0m12 0h0m5 0h0m-71 1h0m67 0h0m33 0h0m-60 1h0m22 1h0m-53 1h0m16 0h0m39 0h0m6 0h0m-69 1h0m68 0h0m18 0h0m-2 1h0m8 0h0m9 0h0m-66 1h0m27 0h0m52 0h0m-87 1h0m18 0h0m-51 2h0m35 0h0m-17 1h0m55 0h0m48 0h0m-84 1h0m1 0h0m2 0h0m73 0h0m5 0h0m10 0h0m-68 1h0m27 0h0m6 0h0m-67 2h0m29 0h0m34 0h0m-68 1h0m13 0h0m20 0h0m1 0h0m-44 1h0m4 1h0m77 0h0m-42 1h0m30 0h0m1 0h0m-29 1h0m11 0h0m-69 1h0m13 0h0m45 0h0m6 0h0m-22 1h0m10 0h0m8 0h0m1 0h0m32 0h0m22 0h0m-81 1h0m-24 1h0m19 0h0m71 0h0m-80 1h0m59 0h0m11 2h0m12 0h0m-71 1h0m15 0h0m27 0h0m-55 1h0m21 0h0m12 0h0m18 0h0m19 0h0m4 0h0m23 0h0m-92 1h0m29 0h0m27 0h0m-61 1h0m25 0h0m12 0h0m-6 1h0m22 0h0m-23 3h0m55 0h0m34 1h0m-122 1h0m13 0h0m8 1h0m32 0h0m0 0h0m9 0h0m-74 1h0m67 0h0m29 0h0m-78 1h0m72 0h0m-87 1h0m35 0h0m9 0h0m14 0h0m2 0h0m21 0h0m-83 1h0m21 0h0m52 0h0m-42 1h0m40 0h0m32 0h0m-51 1h0m3 0h0m23 0h0m-87 1h0m92 0h0m-84 1h0m18 0h0m33 0h0m19 0h0m2 0h0m18 0h0m-14 1h0m-43 1h0m64 0h0m-43 1h0m19 0h0m46 0h0m-88 1h0m6 0h0m-25 1h0m5 1h0m47 0h0m1 0h0m-50 1h0m34 0h0m-24 1h0m-11 1h0m11 0h0m2 0h0m9 0h0m92 0h0m-69 3h0m53 0h0m-91 1h0m2 0h0m3 0h0m20 0h0m28 0h0m17 0h0m3 0h0m-38 1h0m11 0h0m6 0h0m18 0h0m12 1h0m-83 1h0m29 0h0m-18 1h0m65 0h0m-73 1h0m28 0h0m13 0h0m2 0h0m-77 1h0m51 0h0m34 0h0m-54 1h0m5 0h0m24 0h0m34 0h0m8 0h0m-68 1h0m41 0h0m6 0h0m5 0h0m10 0h0m-53 1h0m27 1h0m-28 1h0m26 0h0m-29 1h0m30 0h0m-54 1h0m10 0h0m34 0h0m-27 1h0m26 0h0m41 0h0m-69 1h0m58 0h0m11 0h0m-50 1h0m47 0h0m9 0h0m13 0h0m-73 1h0m20 0h0m21 0h0m-46 1h0m1 0h0m4 0h0m7 0h0m10 0h0m16 0h0m52 1h0m-83 1h0m-17 1h0m8 0h0m2 0h0m3 0h0m28 0h0m11 0h0m9 0h0m-31 1h0m10 0h0m-28 3h0m39 0h0m11 0h0m5 0h0m-15 1h0m1 0h0m-52 1h0m37 0h0m33 0h0m-80 1h0m78 1h0m-66 1h0m-12 1h0m24 0h0m10 0h0m31 0h0m6 0h0m-59 1h0m18 0h0m11 0h0m-40 1h0m15 0h0m4 0h0m10 0h0m-30 1h0m39 1h0m13 0h0m1 0h0m-40 1h0m38 0h0m12 0h0m35 1h0m-89 1h0m58 0h0m-61 1h0m2 0h0m51 1h0m6 0h0m12 0h0m3 0h0m12 0h0m-77 1h0m11 0h0m20 0h0m-7 1h0m56 0h0m-79 1h0m48 0h0m-67 2h0m74 0h0m-57 1h0m27 0h0m40 0h0m-59 1h0m71 0h0m-48 3h0m-22 1h0m39 0h0m-55 1h0m1 0h0m19 0h0m21 0h0m10 0h0m-28 1h0m2 0h0m3 0h0m34 0h0m-56 1h0m-12 1h0m49 0h0m-28 1h0m-10 1h0m8 0h0m35 0h0m38 0h0m-79 1h0m2 0h0m247 1h0m-231 2h0m-13 1h0m14 0h0m16 0h0m-14 2h0m8 0h0m1 0h0m19 0h0m-5 1h0m-52 1h0m60 0h0m-30 1h0m14 0h0m212 0h0m-207 1h0m39 0h0m-53 1h0m27 0h0m-64 1h0m7 0h0m29 0h0m-3 1h0m2 0h0m7 0h0m0 0h0m1 0h0m-43 2h0m41 0h0m218 0h0m-230 1h0m17 1h0m16 4h0m-50 1h0m20 0h0m-18 1h0m17 1h0m11 0h0m40 2h0m-48 4h0m2 0h0m-11 4h0m2 2h0m40 1h0m-33 1h0m22 1h0m-24 1h0m7 1h0m15 1h0m14 0h0m194 8h0m-225 2h0m-1 8h0"/>
<path stroke="#1f77b4" d="M506 215h0m25 1h0m-7 1h0m-21 1h0m-9 1h0m15 2h0m4 0h0m-8 1h0m35 0h0m-22 1h0m-7 1h0m-16 1h0m17 0h0m32 0h0m-43 1h0m10 0h0m40 0h0m-47 1h0m28 0h0m23 0h0m41 0h0m-78 1h0m2 0h0m50 0h0m-108 1h0m40 1h0m22 0h0m-33 1h0m19 0h0m-38 1h0m72 0h0m-85 1h0m-1 1h0m32 0h0m46 0h0m-3 1h0m15 0h0m-83 1h0m104 0h0m-78 1h0m12 0h0m-25 1h0m23 0h0m57 0h0m-18 1h0m23 0h0m-68 1h0m11 0h0m40 0h0m8 0h0m-85 1h0m9 0h0m70 0h0m-56 1h0m73 0h0m-45 1h0m21 0h0m-44 1h0m-29 1h0m21 0h0m9 0h0m-4 1h0m17 1h0m3 0h0m43 0h0m65 0h0m-115 1h0m42 0h0m19 0h0m-51 1h0m7 0h0m10 0h0m43 0h0m-44 1h0m41 0h0m-91 1h0m15 0h0m11 0h0m26 0h0m6 0h0m-22 1h0m17 0h0m-10 1h0m-40 1h0m27 0h0m57 0h0m12 0h0m-61 1h0m1 0h0m7 0h0m11 0h0m36 0h0m-90 1h0m19 1h0m62 0h0m-16 1h0m-22 2h0m10 0h0m-48 2h0m53 0h0m11 0h0m16 1h0m-66 1h0m5 0h0m57 0h0m22 0h0m6 0h0m-57 1h0m20 0h0m80 0h0m52 0h0m-157 1h0m-38 1h0m46 0h0m4 0h0m27 0h0m-14 2h0m-74 1h0m17 0h0m25 0h0m59 1h0m10 0h0m-103 1h0m23 0h0m4 0h0m21 0h0m70 0h0m-137 2h0m6 0h0m6 0h0m110 0h0m-99 1h0m54 0h0m30 0h0m16 1h0m-104 1h0m29 0h0m45 1h0m-71 2h0m26 0h0m50 0h0m22 0h0m-103 1h0m1 0h0m35 0h0m84 0h0m-127 1h0m21 0h0m21 0h0m5 1h0m91 1h0m-109 1h0m2 0h0m58 0h0m49 0h0m3 0h0m-136 1h0m17 0h0m46 0h0m91 0h0m-180 1h0m70 0h0m33 0h0m15 0h0m18 0h0m9 0h0m-62 1h0m27 0h0m2 0h0m45 0h0m-138 1h0m14 0h0m17 0h0m1 0h0m37 0h0m41 0h0m19 0h0m-145 1h0m37 0h0m43 0h0m14 0h0m10 0h0m65 0h0m-160 1h0m4 0h0m9 0h0m116 0h0m-62 1h0m20 0h0m26 0h0m24 0h0m29 0h0m-144 1h0m28 0h0m95 0h0m0 0h0m17 0h0m-174 1h0m62 0h0m42 0h0m11 0h0m-75 1h0m0 0h0m128 0h0m-153 1h0m28 0h0m37 0h0m5 0h0m5 0h0m7 0h0m13 0h0m10 0h0m-18 1h0m58 0h0m10 0h0m-114 1h0m45 0h0m77 0h0m-137 1h0m1 0h0m55 0h0m50 0h0m26 0h0m1 0h0m4 0h0m-165 1h0m73 0h0m11 0h0m9 0h0m-59 1h0m45 0h0m15 0h0m22 0h0m15 0h0m-138 1h0m7 0h0m16 0h0m66 0h0m13 0h0m34 0h0m33 0h0m-166 1h0m16 0h0m15 0h0m21 0h0m1 0h0m4 0h0m23 0h0m10 0h0m17 0h0m22 0h0m-113 1h0m15 0h0m35 0h0m31 0h0m31 0h0m-134 1h0m73 0h0m34 0h0m22 0h0m3 0h0m49 0h0m-108 1h0m18 0h0m7 0h0m-99 1h0m78 0h0m11 0h0m-32 1h0m-26 1h0m45 0h0m42 0h0m23 0h0m22 0h0m47 0h0m-215 1h0m51 0h0m18 0h0m12 0h0m80 0h0m-125 1h0m50 0h0m29 0h0m37 0h0m12 0h0m2 0h0m-129 1h0m12 0h0m54 0h0m18 0h0m37 0h0m1 0h0m-163 1h0m27 0h0m51 0h0m6 0h0m36 0h0m11 0h0m20 0h0m-31 1h0m1 0h0m-64 1h0m4 0h0m126 0h0m7 0h0m-80 1h0m-110 1h0m56 0h0m77 0h0m2 1h0m40 0h0m-168 1h0m14 0h0m2 0h0m16 0h0m81 0h0m18 0h0m45 0h0m-162 1h0m58 0h0m30 0h0m4 0h0m20 0h0m-123 1h0m41 0h0m16 0h0m44 1h0m69 0h0m-160 1h0m6 0h0m29 0h0m25 0h0m21 0h0m40 0h0m-133 1h0m35 0h0m87 0h0m9 0h0m-108 1h0m6 0h0m15 0h0m6 0h0m24 0h0m83 0h0m-167 1h0m18 0h0m14 0h0m29 0h0m61 0h0m-31 1h0m61 0h0m13 0h0m9 0h0m-167 1h0m15 0h0m40 0h0m6 0h0m1 0h0m35 0h0m8 0h0m16 0h0m42 0h0m-144 1h0m25 0h0m20 0h0m31 0h0m25 0h0m0 0h0m45 0h0m-82 1h0m33 0h0m7 0h0m-134 1h0m7 0h0m45 0h0m1 0h0m25 0h0m-40 1h0m9 0h0m68 0h0m23 0h0m33 0h0m-142 1h0m41 0h0m8 0h0m69 0h0m19 0h0m-151 1h0m5 0h0m47 0h0m7 0h0m38 0h0m-93 1h0m5 0h0m5 0h0m81 0h0m4 0h0m29 0h0m-42 1h0m17 0h0m-108 1h0m66 0h0m16 0h0m15 0h0m0 0h0m16 0h0m-116 1h0m42 0h0m6 0h0m20 0h0m30 0h0m-100 1h0m25 0h0m22 0h0m8 0h0m50 0h0m15 0h0m-129 1h0m114 0h0m-59 1h0m4 0h0m17 0h0m9 0h0m7 0h0m16 0h0m26 0h0m0 0h0m-63 1h0m17 0h0m65 0h0m-141 1h0m13 0h0m5 0h0m9 0h0m19 0h0m53 0h0m-78 1h0m3 0h0m69 0h0m39 0h0m9 0h0m-144 1h0m11 0h0m78 0h0m42 0h0m-117 1h0m7 0h0m24 0h0m70 0h0m-83 1h0m112 0h0m-140 1h0m6 0h0m17 0h0m23 0h0m2 0h0m17 0h0m72 0h0m-112 1h0m16 1h0m23 0h0m9 0h0m2 0h0m9 0h0m29 0h0m29 0h0m-120 1h0m14 0h0m11 0h0m84 0h0m-100 1h0m26 0h0m71 0h0m-96 1h0m30 0h0m27 0h0m27 0h0m21 0h0m-122 1h0m73 0h0m-86 1h0m16 0h0m15 0h0m19 0h0m46 0h0m3 0h0m-111 1h0m8 0h0m16 0h0m17 0h0m24 0h0m28 0h0m-57 1h0m19 0h0m5 0h0m12 0h0m-57 1h0m5 0h0m71 0h0m19 0h0m1 0h0m37 0h0m-145 1h0m9 0h0m12 1h0m36 0h0m28 0h0m44 0h0m61 0h0m-146 1h0m16 0h0m52 0h0m22 0h0m-129 1h0m11 0h0m14 0h0m73 0h0m11 0h0m31 0h0m49 0h0m-139 1h0m24 0h0m46 0h0m0 0h0m19 0h0m-129 1h0m15 0h0m-34 1h0m5 0h0m9 0h0m13 0h0m21 0h0m74 0h0m30 0h0m-147 1h0m7 0h0m57 0h0m28 0h0m32 0h0m-74 1h0m40 0h0m23 0h0m25 0h0m-85 1h0m8 0h0m59 0h0m-15 1h0m-88 1h0m0 0h0m69 0h0m55 0h0m14 0h0m-66 1h0m10 0h0m10 0h0m10 0h0m17 0h0m-130 1h0m26 0h0m21 0h0m12 0h0m5 0h0m39 0h0m30 0h0m-149 1h0m13 0h0m83 0h0m10 0h0m11 0h0m9 0h0m12 0h0m-129 1h0m68 0h0m26 0h0m41 0h0m-139 1h0m48 0h0m5 0h0m12 0h0m14 0h0m-77 1h0m55 0h0m66 0h0m-107 1h0m0 1h0m63 0h0m-62 1h0m37 0h0m3 0h0m1 0h0m9 0h0m17 0h0m15 0h0m30 0h0m-108 1h0m1 0h0m74 0h0m27 0h0m1 0h0m18 0h0m-98 1h0m8 0h0m2 0h0m3 0h0m5 0h0m23 0h0m25 0h0m-21 1h0m19 0h0m-57 1h0m15 0h0m34 0h0m-88 1h0m101 0h0m-104 1h0m34 0h0m8 0h0m6 0h0m56 0h0m-104 1h0m9 0h0m44 0h0m41 0h0m20 0h0m-123 1h0m20 0h0m74 0h0m52 0h0m-107 1h0m49 0h0m102 0h0m-144 1h0m19 0h0m-35 1h0m6 0h0m61 0h0m3 0h0m9 0h0m4 0h0m-79 1h0m40 0h0m48 0h0m-110 1h0m104 0h0m1 0h0m1 0h0m11 0h0m20 0h0m-143 1h0m23 0h0m48 0h0m50 0h0m-111 1h0m0 0h0m41 0h0m10 0h0m6 0h0m18 0h0m5 0h0m-76 1h0m80 0h0m30 0h0m-67 1h0m13 0h0m38 0h0m34 0h0m-128 1h0m31 1h0m54 0h0m-51 1h0m1 0h0m-22 1h0m40 0h0m15 0h0m5 0h0m28 0h0m-107 1h0m48 0h0m61 0h0m-85 1h0m49 0h0m49 0h0m-101 1h0m5 0h0m35 0h0m8 0h0m64 0h0m-105 1h0m6 0h0m18 0h0m67 0h0m0 0h0m-93 1h0m39 0h0m7 0h0m4 0h0m23 0h0m24 0h0m-75 1h0m7 0h0m63 0h0m-7 1h0m-86 1h0m18 0h0m10 1h0m31 0h0m23 0h0m19 0h0m-47 1h0m2 0h0m28 0h0m29 0h0m-96 1h0m8 0h0m29 0h0m44 0h0m-46 1h0m7 0h0m34 0h0m-75 1h0m25 0h0m36 0h0m-60 1h0m18 0h0m27 0h0m-30 1h0m60 1h0m7 0h0m-93 1h0m47 0h0m3 0h0m0 0h0m-5 3h0m25 0h0m-54 1h0m55 0h0m4 0h0m-11 1h0m26 0h0m15 0h0m-7 1h0m-13 1h0m-29 1h0m18 0h0m-19 2h0m28 0h0m0 1h0m18 0h0m-30 1h0m13 0h0m6 0h0m-11 1h0m9 0h0m-1 1h0m5 0h0m4 1h0m0 0h0m-11 2h0m26 0h0m-97 1h0m65 0h0m11 0h0m-12 1h0m17 0h0m-2 1h0m7 0h0m-7 1h0m-3 1h0m8 0h0m16 0h0m1 1h0m-52 2h0m28 0h0m-103 1h0m121 6h0m-208 111h0m2 29h0"/>
<path stroke="#e377c2" d="M643 359h0m15 2h0m-45 8h0m42 25h0m-10 2h0m3 2h0m-1 5h0m5 0h0m19 2h0m-11 4h0m12 0h0m-26 2h0m17 0h0m7 0h0m81 1h0m-76 1h0m-24 2h0m5 1h0m23 3h0m-62 1h0m35 0h0m4 1h0m14 1h0m-2 1h0m-16 3h0m24 2h0m-16 2h0m8 1h0m2 0h0m10 4h0m-2 3h0m-6 4h0m6 3h0m2 1h0m-326 30h0m23 13h0m50 0h0m-33 4h0m-8 8h0m29 4h0m4 3h0m-29 1h0m6 4h0m23 0h0m-51 1h0m35 0h0m-25 3h0m5 0h0m26 1h0m-13 1h0m27 0h0m6 1h0m-53 1h0m20 0h0m23 2h0m2 0h0m-68 1h0m62 0h0m-65 2h0m-18 2h0m83 0h0m-61 1h0m7 0h0m85 0h0m-49 1h0m22 0h0m6 0h0m-6 1h0m-62 1h0m41 0h0m32 0h0m-93 1h0m0 0h0m76 0h0m-95 1h0m15 0h0m32 0h0m-30 2h0m35 1h0m30 0h0m2 1h0m-6 1h0m-149 1h0m132 0h0m-142 1h0m153 0h0m-142 1h0m13 0h0m3 0h0m23 0h0m3 0h0m9 0h0m-33 1h0m58 0h0m79 0h0m-158 1h0m5 0h0m17 0h0m76 0h0m50 0h0m33 0h0m-162 1h0m15 0h0m16 0h0m14 0h0m3 0h0m75 0h0m-123 1h0m12 0h0m111 0h0m-125 1h0m29 0h0m85 0h0m11 0h0m-139 1h0m20 0h0m6 0h0m22 0h0m17 0h0m12 0h0m-32 1h0m10 0h0m1 0h0m-26 1h0m2 0h0m14 0h0m7 0h0m-22 1h0m-18 1h0m28 0h0m-37 1h0m41 2h0m120 0h0m1 0h0m-145 1h0m1 0h0m123 0h0m-111 1h0m1 0h0m25 0h0m96 0h0m-148 1h0m8 0h0m13 0h0m19 0h0m11 0h0m-44 1h0m7 0h0m29 0h0m1 0h0m-39 1h0m12 1h0m25 0h0m-40 2h0m6 0h0m132 0h0m2 0h0m-135 1h0m133 2h0m5 0h0m-55 2h0m49 0h0m12 3h0m-58 2h0m2 0h0m52 1h0m-63 3h0m57 0h0m0 1h0m10 3h0m8 4h0m-11 3h0m1 4h0m-9 2h0m3 0h0m6 0h0m-3 2h0m-6 2h0m5 0h0m5 1h0m-3 1h0m-5 1h0m12 0h0m-9 1h0m-2 4h0"/>
<path stroke="#8c564b" d="M699 247h0m9 0h0m8 0h0m61 3h0m-51 4h0m19 0h0m3 0h0m15 0h0m9 0h0m-15 1h0m-19 2h0m6 0h0m1 1h0m5 0h0m15 0h0m10 0h0m-69 1h0m58 0h0m-45 1h0m38 0h0m-82 2h0m48 0h0m28 0h0m0 0h0m12 0h0m-3 1h0m-9 1h0m11 0h0m10 0h0m-19 1h0m-19 1h0m20 0h0m11 0h0m2 1h0m-75 2h0m82 0h0m4 0h0m-38 1h0m19 0h0m-23 2h0m23 0h0m-22 1h0m19 0h0m17 0h0m-4 1h0m3 0h0m11 0h0m-57 1h0m11 0h0m33 0h0m-40 1h0m55 1h0m-18 1h0m-27 1h0m17 0h0m23 2h0m6 0h0m-49 1h0m6 2h0m35 0h0m-22 3h0m-16 1h0m11 0h0m-8 1h0m9 0h0m7 0h0m3 0h0m9 1h0m-100 1h0m97 0h0m4 1h0m-89 1h0m69 0h0m4 1h0m-14 2h0m16 0h0m-55 5h0m31 2h0m-19 10h0m20 9h0m-55 1h0m-71 21h0m30 0h0m-30 28h0m25 4h0m-12 14h0m-7 28h0m18 4h0"/>
<path stroke="#6f6f7a" d="M564 223h0m39 17h0m47 28h0m-27 67h0m9 0h0m-8 59h0m-2 27h0m-273 61h0m-9 16h0m-12 1h0m-21 10h0m-6 28h0"/>

<path stroke="#124d8c" d="M1241 48h0m3 0h0m-12 2h0m12 2h0m-13 2h0m-15 2h0m23 0h0m2 0h0m10 0h0m3 1h0m4 0h0m-43 1h0m29 0h0m0 0h0m16 0h0m-38 1h0m20 2h0m16 3h0m-41 3h0m-9 1h0m63 1h0m-14 2h0m10 0h0m-6 2h0m0 2h0m6 0h0m-74 4h0m17 0h0m-13 1h0m51 8h0m-45 4h0m45 0h0m-41 1h0m26 2h0m-55 1h0m30 2h0m37 1h0m-29 2h0m48 0h0m-28 4h0m67 1h0m-119 1h0m51 0h0m32 1h0m-42 1h0m50 0h0m30 6h0m-87 1h0m3 1h0m72 2h0m0 0h0m33 1h0m-37 1h0m-59 2h0m37 1h0m-55 1h0m25 0h0m32 1h0m52 3h0m-40 2h0m-60 1h0m58 6h0m-39 2h0m7 0h0m-10 1h0m40 0h0m-37 1h0m2 4h0m38 1h0m-27 1h0m1 0h0m-16 1h0m44 1h0m-33 1h0m55 0h0m-58 1h0m-6 1h0m66 0h0m0 2h0m155 0h0m-222 1h0m35 3h0m7 0h0m-45 1h0m11 0h0m48 0h0m28 0h0m-1 1h0m-11 1h0m-64 2h0m5 0h0m24 0h0m11 0h0m8 0h0m171 0h0m-191 2h0m32 0h0m12 0h0m-31 1h0m17 0h0m32 1h0m-43 1h0m-32 2h0m38 0h0m30 0h0m107 0h0m-190 2h0m2 0h0m67 0h0m17 0h0m66 0h0m-96 1h0m14 1h0m-60 1h0m21 0h0m82 1h0m-59 1h0m170 0h0m-3 1h0m7 0h0m-224 2h0m61 0h0m9 0h0m26 0h0m122 0h0m-185 1h0m31 0h0m23 0h0m32 0h0m-101 1h0m61 0h0m-69 1h0m61 0h0m5 0h0m5 0h0m-51 2h0m64 0h0m19 0h0m-19 1h0m13 0h0m3 0h0m50 0h0m-42 1h0m-45 1h0m29 1h0m2 0h0m0 1h0m117 0h0m-195 2h0m54 0h0m142 0h0m23 0h0m-185 1h0m51 0h0m34 0h0m5 0h0m-56 2h0m-61 1h0m23 0h0m-37 2h0m199 0h0m-137 2h0m10 1h0m152 0h0m-209 1h0m4 0h0m1 0h0m5 0h0m66 0h0m57 0h0m58 0h0m23 0h0m-11 1h0m-220 1h0m101 0h0m10 0h0m2 0h0m39 0h0m-122 1h0m30 0h0m73 0h0m10 0h0m72 0h0m-181 1h0m112 0h0m-131 1h0m24 0h0m44 0h0m131 0h0m30 0h0m-108 1h0m81 1h0m-87 1h0m42 0h0m73 0h0m24 0h0m-248 1h0m115 0h0m83 0h0m57 0h0m-149 1h0m129 0h0m13 0h0m-253 2h0m14 0h0m40 0h0m56 0h0m18 0h0m164 0h0m-244 1h0m28 0h0m26 0h0m39 0h0m51 0h0m53 0h0m-244 1h0m73 0h0m26 0h0m46 0h0m34 0h0m76 0h0m-249 1h0m101 0h0m26 0h0m13 0h0m92 0h0m7 0h0m-242 1h0m231 0h0m-226 1h0m48 0h0m42 0h0m97 0h0m63 0h0m-150 1h0m-106 1h0m105 0h0m7 0h0m145 0h0m-175 1h0m40 0h0m-42 1h0m52 0h0m65 0h0m-100 1h0m1 0h0m70 0h0m61 1h0m50 0h0m-154 1h0m28 0h0m47 0h0m29 0h0m15 0h0m26 0h0m-221 1h0m33 0h0m12 0h0m127 0h0m0 0h0m2 0h0m36 0h0m-245 1h0m22 0h0m53 0h0m36 0h0m3 0h0m12 0h0m12 0h0m65 0h0m35 0h0m19 0h0m-253 1h0m71 0h0m-6 1h0m34 0h0m55 0h0m59 0h0m-211 1h0m73 0h0m3 0h0m124 0h0m4 0h0m7 0h0m25 0h0m-117 1h0m8 0h0m4 0h0m76 0h0m18 0h0m-198 1h0m1 0h0m46 0h0m-9 1h0m22 0h0m-21 1h0m79 0h0m8 0h0m55 0h0m17 0h0m9 0h0m-185 1h0m3 0h0m16 0h0m23 0h0m13 0h0m25 0h0m128 0h0m-229 1h0m87 0h0m109 0h0m-220 1h0m61 1h0m9 0h0m1 0h0m32 0h0m40 0h0m-139 1h0m2 0h0m21 0h0m39 0h0m17 0h0m19 0h0m5 0h0m10 0h0m23 0h0m59 0h0m3 0h0m-176 1h0m63 0h0m58 0h0m15 0h0m-113 1h0m53 0h0m49 0h0m9 0h0m4 0h0m-116 1h0m52 0h0m18 0h0m109 0h0m-209 1h0m29 0h0m18 0h0m71 0h0m89 0h0m-195 1h0m85 0h0m45 0h0m-53 1h0m-91 1h0m26 0h0m6 0h0m98 0h0m135 0h0m28 0h0m-303 1h0m5 0h0m62 0h0m17 0h0m17 0h0m34 0h0m33 0h0m-171 1h0m73 0h0m54 0h0m-29 1h0m31 0h0m-109 1h0m19 0h0m6 0h0m41 0h0m222 0h0m1 0h0m-320 1h0m63 0h0m62 0h0m188 0h0m-320 1h0m4 0h0m45 0h0m67 0h0m11 0h0m8 0h0m241 0h0m-347 1h0m3 0h0m29 0h0m58 0h0m15 0h0m40 0h0m59 0h0m156 0h0m-263 1h0m8 0h0m-106 1h0m52 0h0m18 1h0m63 0h0m231 0h0m-211 1h0m17 0h0m166 0h0m-360 1h0m129 0h0m17 0h0m1 0h0m165 0h0m15 0h0m57 0h0m-311 1h0m13 0h0m9 0h0m70 0h0m132 0h0m3 0h0m62 0h0m-280 1h0m81 0h0m168 0h0m-338 1h0m133 0h0m16 0h0m2 0h0m194 0h0m48 0h0m-290 1h0m70 0h0m193 0h0m24 0h0m5 0h0m-269 1h0m219 0h0m-319 1h0m21 0h0m6 0h0m10 0h0m11 0h0m74 0h0m94 0h0m127 0h0m-315 1h0m78 0h0m24 0h0m-131 1h0m41 0h0m199 0h0m-188 1h0m-13 1h0m30 0h0m5 0h0m17 0h0m99 0h0m-124 1h0m42 0h0m74 0h0m7 0h0m58 0h0m119 0h0m-362 1h0m8 0h0m56 0h0m14 0h0m96 0h0m199 0h0m-243 1h0m193 0h0m-337 1h0m78 0h0m7 0h0m84 0h0m214 0h0m-307 1h0m106 0h0m13 0h0m10 0h0m181 0h0m-322 1h0m267 0h0m-295 1h0m5 0h0m62 0h0m24 0h0m228 0h0m4 0h0m1 0h0m-336 1h0m17 0h0m26 0h0m161 0h0m-202 1h0m89 0h0m251 0h0m-368 1h0m63 0h0m27 0h0m43 0h0m25 0h0m37 0h0m4 0h0m8 0h0m-158 1h0m28 0h0m15 0h0m50 0h0m81 0h0m105 0h0m-256 1h0m13 0h0m-67 1h0m127 0h0m37 0h0m-162 1h0m25 1h0m103 0h0m26 0h0m-90 1h0m27 0h0m18 0h0m82 0h0m166 0h0m-313 1h0m49 0h0m-112 1h0m106 0h0m40 0h0m32 0h0m30 0h0m16 0h0m42 0h0m72 0h0m-223 1h0m26 0h0m79 0h0m36 0h0m90 0h0m-245 1h0m256 0h0m-330 1h0m96 0h0m67 0h0m3 0h0m40 0h0m39 0h0m-50 1h0m141 0h0m-300 1h0m13 0h0m26 0h0m87 0h0m31 0h0m64 0h0m69 0h0m-281 1h0m144 0h0m12 0h0m111 0h0m-321 1h0m85 0h0m49 0h0m28 0h0m10 0h0m14 0h0m1 0h0m-194 1h0m58 0h0m52 0h0m1 0h0m57 0h0m11 0h0m72 0h0m-153 1h0m49 0h0m65 0h0m127 0h0m18 0h0m-267 1h0m63 0h0m0 0h0m11 0h0m42 0h0m-115 1h0m58 0h0m23 0h0m54 0h0m-205 1h0m28 0h0m4 0h0m22 0h0m42 0h0m69 0h0m4 0h0m-257 1h0m88 0h0m50 0h0m9 0h0m31 0h0m17 0h0m21 0h0m25 0h0m63 0h0m2 0h0m-225 1h0m74 0h0m59 0h0m54 0h0m94 0h0m1 0h0m-283 1h0m3 0h0m30 0h0m174 0h0m83 0h0m-266 1h0m35 0h0m51 0h0m105 0h0m0 0h0m-100 1h0m0 0h0m34 0h0m74 0h0m82 0h0m-289 1h0m77 0h0m11 0h0m104 0h0m-157 1h0m0 0h0m60 0h0m14 0h0m18 0h0m38 0h0m-122 1h0m2 0h0m4 0h0m5 0h0m22 0h0m6 0h0m17 0h0m-40 1h0m55 0h0m29 0h0m30 0h0m0 0h0m37 0h0m32 0h0m-221 1h0m1 0h0m63 0h0m52 0h0m44 0h0m19 0h0m-160 1h0m42 0h0m29 0h0m24 0h0m11 0h0m47 0h0m45 0h0m-218 1h0m79 0h0m21 0h0m21 0h0m39 0h0m-196 1h0m19 0h0m117 0h0m80 0h0m7 0h0m46 0h0m-224 1h0m35 0h0m72 0h0m45 0h0m16 0h0m45 0h0m-256 1h0m55 0h0m81 0h0m13 0h0m-32 1h0m98 0h0m8 0h0m-265 1h0m120 0h0m22 0h0m-54 1h0m18 0h0m15 0h0m5 0h0m33 0h0m7 0h0m17 0h0m37 0h0m21 0h0m-230 1h0m68 0h0m117 0h0m18 0h0m43 0h0m-187 1h0m19 0h0m8 0h0m1 0h0m9 0h0m26 0h0m0 0h0m3 0h0m8 0h0m20 0h0m45 0h0m-212 1h0m89 0h0m80 0h0m-96 1h0m2 0h0m70 0h0m45 0h0m79 0h0m43 0h0m14 0h0m8 0h0m21 0h0m-308 1h0m62 0h0m42 0h0m14 0h0m8 0h0m21 0h0m-247 1h0m72 0h0m87 0h0m54 0h0m4 0h0m34 0h0m-191 1h0m4 0h0m18 0h0m60 0h0m56 0h0m27 0h0m9 0h0m139 0h0m-302 1h0m18 0h0m42 0h0m17 0h0m24 0h0m11 0h0m8 0h0m6 0h0m-158 1h0m68 0h0m35 0h0m11 0h0m12 0h0m65 0h0m3 0h0m8 0h0m141 0h0m-148 1h0m-137 1h0m65 0h0m19 0h0m76 0h0m-165 1h0m60 0h0m25 0h0m83 0h0m-182 1h0m65 0h0m105 0h0m39 0h0m-237 1h0m78 0h0m9 0h0m68 0h0m30 0h0m-104 1h0m13 0h0m82 0h0m17 0h0m-181 1h0m35 0h0m113 0h0m-85 1h0m8 0h0m12 0h0m1 0h0m4 0h0m14 0h0m25 0h0m44 0h0m3 0h0m18 0h0m-65 1h0m4 0h0m34 0h0m84 0h0m-329 1h0m163 0h0m83 0h0m5 0h0m44 0h0m-224 1h0m41 0h0m93 0h0m7 0h0m7 0h0m60 0h0m0 0h0m26 0h0m4 0h0m20 0h0m-264 1h0m16 0h0m0 0h0m18 0h0m46 0h0m92 0h0m52 0h0m15 0h0m-130 1h0m22 0h0m3 0h0m100 0h0m-112 1h0m2 0h0m27 0h0m38 0h0m8 0h0m10 0h0m-202 1h0m86 0h0m4 0h0m22 0h0m29 0h0m3 0h0m12 0h0m19 0h0m-158 1h0m104 0h0m27 0h0m51 0h0m-203 1h0m10 0h0m100 0h0m54 0h0m15 0h0m9 0h0m37 0h0m-200 1h0m48 0h0m13 0h0m5 0h0m37 0h0m36 0h0m8 0h0m-171 1h0m15 0h0m81 0h0m17 0h0m10 0h0m4 0h0m35 0h0m45 0h0m17 0h0m-131 1h0m5 0h0m15 0h0m1 0h0m78 0h0m24 0h0m-201 1h0m19 0h0m52 0h0m65 0h0m-76 1h0m82 0h0m20 0h0m1 0h0m53 0h0m-301 1h0m142 0h0m77 0h0m25 0h0m6 0h0m6 0h0m42 0h0m-227 1h0m110 0h0m7 0h0m32 0h0m43 0h0m24 0h0m-100 1h0m40 0h0m32 0h0m-88 1h0m30 0h0m50 0h0m3 0h0m16 0h0m-56 1h0m15 0h0m61 0h0m-217 1h0m116 0h0m19 0h0m-129 1h0m102 0h0m24 0h0m15 0h0m59 0h0m-47 1h0m16 0h0m32 0h0m0 0h0m-210 1h0m94 0h0m2 0h0m90 0h0m38 0h0m-226 1h0m7 0h0m17 0h0m81 0h0m27 0h0m16 0h0m20 0h0m22 0h0m38 0h0m-148 1h0m50 0h0m36 0h0m85 0h0m11 0h0m-186 1h0m106 0h0m30 0h0m-126 1h0m4 0h0m16 0h0m5 0h0m12 0h0m4 0h0m15 0h0m53 0h0m-72 1h0m33 0h0m4 0h0m99 0h0m-163 1h0m15 0h0m6 0h0m70 0h0m-152 1h0m42 0h0m14 0h0m25 0h0m24 0h0m47 0h0m12 0h0m2 0h0m66 0h0m-214 1h0m69 0h0m24 0h0m3 0h0m40 0h0m3 0h0m14 0h0m9 0h0m-114 1h0m81 0h0m-188 1h0m40 0h0m36 0h0m64 0h0m1 0h0m32 0h0m35 0h0m5 0h0m-142 1h0m50 0h0m18 0h0m10 0h0m4 0h0m-4 1h0m11 0h0m46 0h0m12 0h0m-217 1h0m8 0h0m191 0h0m8 0h0m4 0h0m64 0h0m-184 1h0m35 0h0m10 0h0m28 0h0m10 0h0m52 0h0m14 0h0m-223 1h0m77 0h0m89 0h0m13 0h0m-186 1h0m3 0h0m71 0h0m58 0h0m19 0h0m2 0h0m18 0h0m1 0h0m-182 1h0m6 0h0m9 0h0m79 0h0m10 0h0m11 0h0m23 0h0m77 0h0m-187 1h0m4 0h0m87 0h0m2 0h0m31 0h0m53 0h0m-241 1h0m68 0h0m1 0h0m37 0h0m96 0h0m-211 1h0m39 0h0m109 0h0m60 0h0m15 0h0m-191 1h0m96 0h0m4 0h0m22 0h0m30 0h0m19 0h0m-54 1h0m17 0h0m22 0h0m43 0h0m23 0h0m-207 1h0m141 0h0m1 0h0m60 0h0m6 0h0m46 0h0m-182 1h0m10 0h0m65 0h0m22 0h0m19 0h0m-183 1h0m4 0h0m17 0h0m52 0h0m65 0h0m48 0h0m32 0h0m-26 1h0m-191 1h0m104 0h0m33 0h0m85 0h0m54 0h0m-130 1h0m35 0h0m24 0h0m-169 1h0m3 0h0m65 0h0m56 0h0m48 0h0m12 0h0m-196 1h0m21 0h0m69 0h0m5 0h0m69 0h0m76 0h0m-171 1h0m30 0h0m109 0h0m-222 1h0m5 0h0m25 0h0m11 0h0m73 0h0m22 0h0m23 0h0m18 0h0m26 0h0m32 0h0m-171 1h0m26 0h0m25 0h0m23 0h0m17 0h0m21 0h0m8 0h0m6 0h0m-204 1h0m207 0h0m78 0h0m-187 1h0m16 0h0m32 0h0m9 0h0m16 0h0m5 0h0m108 0h0m-267 1h0m9 0h0m34 0h0m71 0h0m20 0h0m4 0h0m4 0h0m10 0h0m37 0h0m7 0h0m2 0h0m-221 1h0m109 0h0m33 0h0m7 0h0m44 0h0m15 0h0m12 0h0m9 0h0m4 0h0m-270 1h0m64 0h0m166 0h0m85 0h0m-269 1h0m5 0h0m30 0h0m157 0h0m14 0h0m-182 1h0m29 0h0m47 0h0m11 0h0m43 0h0m50 0h0m-32 1h0m2 0h0m-169 1h0m103 0h0m27 0h0m19 0h0m14 0h0m36 0h0m17 0h0m68 0h0m-169 1h0m2 0h0m15 0h0m20 0h0m32 0h0m6 0h0m3 0h0m79 0h0m-283 1h0m7 0h0m20 0h0m75 0h0m6 0h0m60 0h0m80 0h0m4 0h0m32 0h0m-238 1h0m71 0h0m4 0h0m35 0h0m8 0h0m-128 1h0m20 0h0m67 0h0m15 0h0m15 0h0m22 0h0m39 0h0m-136 1h0m94 0h0m22 0h0m109 0h0m-291 1h0m5 0h0m26 0h0m107 0h0m17 0h0m-148 1h0m23 0h0m75 0h0m13 0h0m76 0h0m-160 1h0m76 0h0m36 0h0m2 0h0m4 0h0m3 0h0m22 0h0m6 0h0m85 0h0m-227 1h0m60 0h0m35 0h0m21 0h0m30 0h0m20 0h0m42 0h0m50 0h0m-264 1h0m50 0h0m16 0h0m61 0h0m0 0h0m59 0h0m-78 1h0m136 0h0m2 0h0m1 0h0m-285 1h0m13 0h0m1 0h0m55 0h0m60 0h0m83 0h0m72 0h0m-274 1h0m22 0h0m16 0h0m20 0h0m5 0h0m49 0h0m44 0h0m135 0h0m1 0h0m61 0h0m-351 1h0m26 0h0m3 0h0m34 0h0m51 0h0m39 1h0m66 0h0m41 0h0m3 0h0m20 0h0m-265 1h0m8 0h0m51 0h0m6 0h0m30 0h0m9 0h0m2 0h0m3 0h0m18 0h0m50 0h0m70 0h0m65 0h0m-297 1h0m142 0h0m10 0h0m22 0h0m-199 1h0m21 0h0m83 0h0m88 0h0m24 0h0m56 0h0m-297 1h0m114 0h0m83 0h0m91 0h0m2 0h0m-238 1h0m86 0h0m24 0h0m1 0h0m0 0h0m-153 1h0m5 0h0m65 0h0m25 0h0m35 0h0m144 0h0m-264 1h0m10 0h0m90 0h0m25 0h0m84 0h0m74 0h0m-260 1h0m1 0h0m53 0h0m51 0h0m73 0h0m74 0h0m6 0h0m-282 1h0m9 0h0m4 0h0m102 0h0m52 0h0m-178 1h0m67 0h0m6 0h0m85 0h0m13 0h0m117 0h0m-230 1h0m42 0h0m89 0h0m-111 1h0m9 0h0m33 0h0m51 0h0m12 0h0m62 0h0m55 0h0m-308 1h0m24 0h0m91 0h0m21 0h0m7 0h0m23 0h0m39 0h0m2 0h0m-204 1h0m101 0h0m12 0h0m54 0h0m21 0h0m34 0h0m-155 1h0m2 0h0m88 0h0m26 0h0m15 0h0m17 0h0m-140 1h0m23 0h0m8 0h0m22 0h0m50 0h0m35 0h0m3 0h0m82 0h0m-302 1h0m61 0h0m34 0h0m12 0h0m18 0h0m2 0h0m41 0h0m28 0h0m-187 1h0m85 0h0m54 0h0m22 0h0m37 0h0m13 0h0m46 0h0m-236 1h0m55 0h0m16 0h0m18 0h0m11 0h0m10 0h0m8 0h0m4 0h0m9 0h0m2 0h0m74 0h0m-273 1h0m108 0h0m45 0h0m3 0h0m6 0h0m6 0h0m52 0h0m46 0h0m7 0h0m1 0h0m6 0h0m-119 1h0m13 0h0m122 0h0m0 0h0m-234 1h0m51 0h0m80 0h0m1 0h0m12 0h0m8 0h0m44 0h0m133 0h0m-323 1h0m66 0h0m16 0h0m32 0h0m4 0h0m26 0h0m-140 1h0m6 0h0m35 0h0m1 0h0m88 0h0m20 0h0m109 0h0m-206 1h0m4 0h0m86 0h0m3 0h0m5 0h0m9 0h0m-204 1h0m15 0h0m1 0h0m260 0h0m-204 1h0m41 0h0m84 0h0m27 0h0m32 0h0m-179 1h0m29 0h0m31 0h0m43 0h0m21 0h0m-158 1h0m63 0h0m99 0h0m-181 1h0m52 0h0m15 0h0m113 0h0m36 0h0m-220 1h0m1 0h0m60 0h0m106 0h0m6 0h0m-183 1h0m78 0h0m5 0h0m13 0h0m44 0h0m12 0h0m140 0h0m-121 1h0m32 0h0m-167 1h0m7 0h0m40 0h0m26 0h0m50 0h0m6 0h0m17 0h0m-2 1h0m-183 1h0m1 0h0m31 0h0m6 0h0m9 0h0m41 0h0m35 0h0m-51 1h0m2 0h0m12 0h0m59 0h0m1 0h0m59 0h0m-160 1h0m33 0h0m0 0h0m10 0h0m0 0h0m75 0h0m11 0h0m17 0h0m8 0h0m0 0h0m5 0h0m-219 1h0m168 0h0m3 0h0m25 0h0m15 0h0m-207 1h0m86 0h0m20 0h0m37 0h0m0 0h0m43 0h0m-201 1h0m105 0h0m-67 1h0m20 0h0m169 0h0m-160 1h0m0 0h0m108 0h0m58 0h0m-200 1h0m62 0h0m46 0h0m19 0h0m62 0h0m7 0h0m11 0h0m-191 1h0m47 0h0m129 0h0m8 0h0m-182 1h0m45 0h0m62 0h0m67 0h0m-194 1h0m126 0h0m74 0h0m-213 1h0m37 0h0m41 0h0m4 0h0m23 0h0m115 0h0m-232 1h0m18 0h0m45 0h0m20 0h0m23 0h0m26 0h0m72 0h0m22 0h0m7 0h0m-134 1h0m66 0h0m27 0h0m21 0h0m1 0h0m3 0h0m2 0h0m6 0h0m21 0h0m-224 1h0m27 0h0m30 0h0m22 0h0m2 0h0m32 0h0m-95 1h0m108 0h0m70 0h0m-202 1h0m23 0h0m33 0h0m31 0h0m-63 1h0m35 0h0m29 0h0m64 0h0m46 0h0m4 0h0m-194 1h0m15 0h0m118 0h0m77 0h0m-224 1h0m134 0h0m10 0h0m14 0h0m28 0h0m27 0h0m9 0h0m-194 1h0m85 0h0m68 0h0m2 0h0m-187 1h0m48 0h0m17 0h0m31 0h0m62 0h0m24 0h0m11 0h0m-103 1h0m141 0h0m-192 1h0m24 0h0m13 0h0m170 0h0m-245 1h0m6 0h0m10 0h0m3 0h0m125 0h0m3 0h0m88 0h0m-187 1h0m157 0h0m-67 1h0m2 0h0m8 0h0m4 0h0m45 0h0m-212 1h0m195 0h0m12 0h0m28 0h0m11 0h0m-215 1h0m56 0h0m41 0h0m107 0h0m-165 1h0m6 0h0m6 0h0m31 0h0m4 0h0m68 0h0m21 0h0m12 0h0m-186 1h0m52 0h0m8 0h0m17 0h0m15 0h0m100 0h0m-154 1h0m41 0h0m63 0h0m4 0h0m33 0h0m11 0h0m-133 1h0m4 0h0m19 0h0m73 0h0m9 0h0m-134 1h0m27 0h0m22 0h0m97 0h0m-124 1h0m8 0h0m87 0h0m-81 1h0m17 0h0m25 0h0m12 0h0m29 0h0m48 0h0m-187 1h0m54 0h0m30 0h0m94 0h0m21 0h0m6 0h0m-191 1h0m25 0h0m16 0h0m4 0h0m61 0h0m43 0h0m31 0h0m4 0h0m-139 1h0m71 0h0m7 0h0m51 0h0m17 0h0m-224 1h0m107 0h0m17 0h0m24 0h0m-107 1h0m12 0h0m45 0h0m6 0h0m6 0h0m22 0h0m31 0h0m17 0h0m10 0h0m26 0h0m0 0h0m-158 1h0m6 0h0m11 0h0m31 0h0m13 0h0m2 0h0m72 0h0m-126 1h0m27 0h0m5 0h0m103 0h0m18 0h0m-101 1h0m94 0h0m-155 1h0m38 0h0m113 0h0m-38 1h0m-196 1h0m85 0h0m39 0h0m9 0h0m-96 1h0m163 0h0m25 0h0m-170 1h0m109 0h0m50 0h0m-109 1h0m1 0h0m10 0h0m8 0h0m44 0h0m12 0h0m11 0h0m15 0h0m-146 1h0m115 0h0m45 0h0m22 0h0m-174 1h0m19 0h0m19 0h0m62 0h0m7 0h0m61 0h0m-205 1h0m52 0h0m17 0h0m26 0h0m15 0h0m2 0h0m87 0h0m14 0h0m-156 1h0m2 0h0m15 0h0m3 0h0m5 0h0m-38 1h0m30 0h0m-21 1h0m47 0h0m2 0h0m13 0h0m31 0h0m27 0h0m1 0h0m5 0h0m24 0h0m11 0h0m-191 1h0m24 0h0m1 0h0m43 0h0m114 0h0m-199 1h0m72 0h0m55 0h0m39 0h0m-121 1h0m14 0h0m6 0h0m100 0h0m6 0h0m37 0h0m-191 1h0m33 0h0m12 0h0m6 0h0m0 0h0m28 0h0m18 0h0m33 0h0m6 0h0m47 0h0m-164 1h0m11 0h0m6 0h0m29 0h0m36 0h0m7 0h0m11 0h0m71 0h0m-211 1h0m116 0h0m19 0h0m15 0h0m44 0h0m-145 1h0m6 0h0m2 0h0m21 0h0m20 0h0m21 0h0m24 0h0m25 0h0m69 0h0m-215 1h0m79 0h0m3 0h0m30 0h0m24 0h0m-184 1h0m40 0h0m66 0h0m19 0h0m43 0h0m31 0h0m-170 1h0m7 0h0m8 0h0m19 0h0m8 0h0m1 0h0m7 0h0m1 0h0m43 0h0m31 0h0m16 0h0m4 0h0m0 0h0m47 0h0m-112 1h0m22 0h0m-116 1h0m35 0h0m26 0h0m9 0h0m39 0h0m11 0h0m15 0h0m1 0h0m42 0h0m0 0h0m2 0h0m-196 1h0m19 0h0m61 0h0m5 0h0m28 0h0m12 0h0m1 0h0m28 0h0m54 0h0m-144 1h0m17 0h0m16 0h0m38 0h0m42 0h0m-158 1h0m103 0h0m65 0h0m5 0h0m20 0h0m-137 1h0m6 0h0m2 0h0m13 0h0m0 0h0m21 0h0m6 0h0m6 0h0m9 0h0m-145 1h0m63 0h0m32 0h0m23 0h0m28 0h0m45 0h0m-132 1h0m5 0h0m26 0h0m49 0h0m27 0h0m1 0h0m-136 1h0m184 0h0m0 0h0m-200 1h0m88 0h0m51 0h0m10 0h0m65 0h0m-204 1h0m8 0h0m49 0h0m6 0h0m8 0h0m1 0h0m27 0h0m1 0h0m0 0h0m15 0h0m16 0h0m1 0h0m6 0h0m56 0h0m-216 1h0m48 0h0m164 0h0m-218 1h0m20 0h0m44 0h0m19 0h0m1 0h0m85 0h0m8 0h0m19 0h0m21 0h0m-199 1h0m63 0h0m7 0h0m26 0h0m1 0h0m6 0h0m10 0h0m2 0h0m48 0h0m34 0h0m-153 1h0m16 0h0m22 0h0m3 0h0m14 0h0m7 0h0m6 0h0m33 0h0m-131 1h0m61 0h0m21 0h0m8 0h0m30 0h0m20 0h0m-159 1h0m16 0h0m165 0h0m-112 1h0m21 0h0m31 0h0m8 0h0m27 0h0m13 0h0m7 0h0m18 0h0m-208 1h0m56 0h0m34 0h0m10 0h0m16 0h0m18 0h0m-107 1h0m109 0h0m9 0h0m13 0h0m18 0h0m0 0h0m2 0h0m10 0h0m-189 1h0m61 0h0m46 0h0m23 0h0m5 0h0m55 0h0m-236 1h0m62 0h0m29 0h0m76 0h0m53 0h0m17 0h0m6 0h0m1 0h0m57 0h0m-342 1h0m24 0h0m108 0h0m6 0h0m63 0h0m42 0h0m-246 1h0m41 0h0m170 0h0m60 0h0m-228 1h0m3 0h0m9 0h0m50 0h0m34 0h0m21 0h0m75 0h0m32 0h0m6 0h0m5 0h0m28 0h0m-63 1h0m27 0h0m9 0h0m-125 1h0m85 0h0m36 0h0m-276 1h0m7 0h0m138 0h0m63 0h0m16 0h0m-226 1h0m14 0h0m40 0h0m15 0h0m84 0h0m110 0h0m-194 1h0m12 0h0m54 0h0m11 0h0m77 0h0m6 0h0m6 0h0m15 0h0m-243 1h0m6 0h0m14 0h0m6 0h0m226 0h0m71 0h0m2 0h0m-270 1h0m1 0h0m-17 1h0m-28 1h0m73 0h0m69 0h0m-115 1h0m23 0h0m6 0h0m78 0h0m74 0h0m-61 1h0m-156 1h0m10 0h0m26 1h0m17 0h0m-43 1h0m33 0h0m94 0h0m6 0h0m-98 1h0m13 0h0m-31 1h0m9 0h0m115 0h0m10 0h0m-157 1h0m5 0h0m1 1h0m22 0h0m-9 1h0m136 0h0m-15 1h0m-135 1h0m15 0h0m3 0h0m117 0h0m-132 1h0m4 0h0m129 0h0m17 1h0m-10 1h0m-139 1h0m3 0h0m139 3h0m-8 1h0m-48 2h0m2 0h0m-10 1h0m56 3h0m13 0h0m-18 1h0m5 0h0m-6 2h0m21 2h0m21 2h0m-18 1h0m-9 1h0m6 0h0m-6 4h0m-4 2h0m-3 2h0m2 0h0m8 0h0m-10 1h0m0 0h0m3 1h0m2 2h0m2 3h0m-11 1h0m6 0h0m11 3h0"/>
<path stroke="#d6a20e" d="M1232 49h0m-3 2h0m7 0h0m-1 1h0m-17 1h0m9 3h0m-3 4h0m-9 7h0m-16 14h0m-3 13h0m-11 1h0m-5 3h0m25 2h0m2 5h0m-6 1h0m0 1h0m0 1h0m9 0h0m-1 1h0m-20 1h0m2 1h0m7 0h0m2 0h0m106 0h0m-111 1h0m11 1h0m-14 1h0m2 3h0m8 0h0m9 1h0m-5 1h0m-3 1h0m3 2h0m11 2h0m5 0h0m3 2h0m-10 1h0m7 1h0m-11 3h0m9 2h0m-2 1h0m-10 3h0m14 1h0m-9 2h0m7 1h0m4 7h0m6 0h0m-4 3h0m-1 1h0m-4 2h0m8 1h0m-13 1h0m5 1h0m231 2h0m-218 1h0m-14 2h0m232 0h0m-225 1h0m234 0h0m-237 1h0m1 0h0m-6 1h0m239 2h0m-217 2h0m-11 1h0m223 0h0m18 0h0m-237 1h0m-8 1h0m8 0h0m5 0h0m7 3h0m-14 1h0m4 1h0m2 1h0m225 0h0m-2 2h0m-8 1h0m-209 3h0m209 0h0m-213 1h0m10 0h0m14 1h0m196 1h0m-217 1h0m6 0h0m62 2h0m157 0h0m-6 5h0m-220 2h0m13 0h0m-11 1h0m12 2h0m0 0h0m121 0h0m-68 1h0m74 0h0m74 0h0m5 0h0m18 0h0m-19 2h0m-97 4h0m-113 2h0m78 0h0m-75 1h0m211 0h0m-96 2h0m-127 1h0m9 0h0m26 2h0m2 0h0m6 0h0m-30 1h0m98 0h0m64 0h0m7 0h0m-165 1h0m30 2h0m10 0h0m66 0h0m-110 1h0m-5 1h0m3 0h0m9 0h0m21 0h0m-10 1h0m14 0h0m152 0h0m-167 1h0m173 0h0m-197 1h0m6 0h0m53 0h0m51 2h0m46 0h0m-137 1h0m71 0h0m15 0h0m-73 1h0m13 0h0m5 0h0m1 0h0m63 0h0m-96 1h0m25 0h0m3 0h0m158 0h0m-196 1h0m40 0h0m-46 1h0m65 0h0m-19 1h0m-51 1h0m22 0h0m113 0h0m-104 1h0m-25 1h0m21 0h0m36 0h0m133 0h0m-172 1h0m17 0h0m191 0h0m-126 1h0m-70 1h0m70 0h0m62 0h0m1 0h0m-107 1h0m-49 1h0m73 0h0m-50 1h0m-19 1h0m34 0h0m-44 1h0m133 0h0m-59 1h0m52 0h0m2 0h0m55 0h0m41 1h0m-182 1h0m0 1h0m3 0h0m30 0h0m-62 1h0m1 0h0m107 0h0m-119 1h0m81 0h0m97 0h0m-164 1h0m6 0h0m1 0h0m4 1h0m17 0h0m-42 1h0m75 0h0m115 0h0m-177 1h0m0 1h0m13 0h0m67 0h0m309 0h0m24 0h0m-381 1h0m-37 1h0m17 0h0m386 0h0m-257 1h0m-133 1h0m379 0h0m4 0h0m22 0h0m-359 1h0m364 0h0m-417 1h0m29 0h0m176 0h0m187 0h0m-405 1h0m24 0h0m35 0h0m6 0h0m7 0h0m-43 1h0m64 0h0m-85 1h0m74 0h0m331 0h0m7 0h0m-412 1h0m20 0h0m397 0h0m-406 1h0m14 0h0m43 0h0m113 0h0m56 0h0m-200 1h0m88 0h0m-113 1h0m132 0h0m268 0h0m-411 1h0m53 0h0m131 0h0m-171 1h0m17 0h0m18 0h0m80 0h0m71 0h0m36 0h0m-207 1h0m3 0h0m190 0h0m-214 1h0m-25 1h0m6 0h0m22 0h0m47 0h0m139 0h0m183 0h0m42 0h0m-16 2h0m9 0h0m3 0h0m-390 1h0m5 0h0m352 0h0m-322 2h0m15 0h0m313 0h0m11 0h0m-404 1h0m5 0h0m8 0h0m70 0h0m174 0h0m132 0h0m25 0h0m-433 1h0m11 1h0m13 0h0m20 0h0m26 0h0m177 0h0m-200 1h0m35 0h0m-59 1h0m8 0h0m3 0h0m23 0h0m92 0h0m263 0h0m14 0h0m-364 1h0m134 0h0m206 0h0m-397 1h0m12 0h0m82 0h0m-75 1h0m25 0h0m27 0h0m23 0h0m328 0h0m-397 1h0m3 0h0m12 0h0m10 0h0m7 0h0m345 0h0m-405 1h0m16 0h0m59 0h0m341 0h0m-416 1h0m3 0h0m5 0h0m20 0h0m59 0h0m-2 1h0m65 0h0m265 0h0m-403 1h0m49 0h0m6 0h0m117 0h0m-72 1h0m-111 1h0m20 0h0m37 0h0m16 0h0m27 0h0m8 0h0m67 0h0m187 0h0m-263 1h0m-83 1h0m14 0h0m12 0h0m44 0h0m2 0h0m-96 1h0m21 0h0m8 0h0m39 0h0m23 0h0m22 0h0m-120 1h0m26 0h0m92 0h0m-113 1h0m10 0h0m110 0h0m13 0h0m34 0h0m-130 1h0m8 1h0m-11 1h0m10 0h0m73 0h0m-36 1h0m1 0h0m204 0h0m-248 1h0m4 0h0m10 0h0m30 0h0m145 0h0m-236 1h0m14 0h0m30 0h0m31 0h0m58 0h0m-104 1h0m14 0h0m60 0h0m80 0h0m-150 1h0m1 0h0m15 0h0m218 0h0m8 0h0m-276 1h0m54 0h0m2 0h0m31 0h0m18 0h0m88 0h0m-159 1h0m1 0h0m-4 1h0m3 0h0m218 0h0m-232 1h0m34 1h0m34 0h0m159 0h0m26 0h0m-274 1h0m6 0h0m2 0h0m46 0h0m1 0h0m9 0h0m3 0h0m112 0h0m-154 1h0m7 0h0m22 0h0m68 0h0m-123 1h0m52 0h0m-45 1h0m14 0h0m1 0h0m14 0h0m67 0h0m-80 1h0m10 0h0m5 0h0m25 0h0m1 0h0m240 0h0m-162 1h0m159 0h0m-263 1h0m24 0h0m36 0h0m46 0h0m-111 1h0m0 0h0m10 0h0m7 0h0m2 0h0m14 0h0m251 0h0m-318 1h0m10 0h0m30 0h0m5 0h0m10 0h0m7 0h0m28 0h0m-55 1h0m9 0h0m10 0h0m200 0h0m-191 1h0m4 0h0m48 0h0m-113 1h0m21 0h0m15 0h0m50 0h0m21 0h0m24 0h0m-112 1h0m3 0h0m55 0h0m46 0h0m4 0h0m-106 1h0m65 0h0m7 0h0m-17 1h0m21 0h0m11 0h0m4 0h0m89 0h0m-211 1h0m41 0h0m1 0h0m76 0h0m113 0h0m-205 1h0m16 0h0m2 0h0m1 0h0m23 0h0m3 0h0m38 0h0m-91 1h0m10 0h0m28 0h0m1 0h0m17 0h0m50 0h0m152 0h0m-238 1h0m215 0h0m-237 1h0m8 0h0m39 0h0m23 0h0m69 0h0m150 0h0m-260 1h0m109 0h0m-106 1h0m12 0h0m42 0h0m55 0h0m-141 1h0m29 0h0m67 0h0m164 0h0m-211 1h0m28 0h0m3 0h0m43 0h0m-87 1h0m90 0h0m1 0h0m2 0h0m-125 1h0m46 0h0m26 0h0m14 0h0m52 0h0m-150 1h0m62 0h0m22 0h0m6 0h0m13 0h0m167 0h0m-232 1h0m6 0h0m7 0h0m3 0h0m10 0h0m4 0h0m73 0h0m-146 1h0m5 0h0m9 0h0m10 0h0m10 0h0m36 0h0m14 0h0m13 0h0m-81 1h0m8 0h0m21 0h0m9 0h0m18 0h0m63 0h0m-126 1h0m28 0h0m19 0h0m34 0h0m-51 1h0m10 0h0m8 0h0m12 0h0m42 0h0m-66 1h0m2 0h0m39 0h0m14 0h0m-58 1h0m18 0h0m80 1h0m-130 1h0m40 0h0m25 0h0m21 0h0m47 0h0m-120 1h0m11 0h0m0 0h0m6 0h0m19 0h0m1 0h0m54 0h0m-106 1h0m33 0h0m153 0h0m-136 1h0m18 0h0m2 0h0m61 0h0m7 0h0m-17 1h0m1 0h0m-111 1h0m7 0h0m30 0h0m0 0h0m72 0h0m-114 1h0m6 0h0m29 0h0m74 0h0m-112 2h0m26 0h0m62 0h0m32 0h0m20 0h0m-133 1h0m10 0h0m3 0h0m113 0h0m-92 1h0m56 0h0m6 0h0m-101 2h0m36 0h0m8 0h0m12 0h0m-6 1h0m10 0h0m-58 1h0m18 0h0m31 0h0m17 0h0m4 0h0m-74 1h0m96 0h0m13 0h0m15 0h0m-129 1h0m1 0h0m3 0h0m11 0h0m10 0h0m7 0h0m41 0h0m-57 1h0m16 0h0m11 0h0m25 0h0m38 0h0m21 0h0m-25 1h0m-76 1h0m9 0h0m36 0h0m-68 1h0m55 0h0m-37 1h0m69 0h0m-63 1h0m7 0h0m5 1h0m9 0h0m19 0h0m13 0h0m9 0h0m15 0h0m24 0h0m-96 1h0m50 0h0m-76 1h0m42 0h0m70 0h0m-111 1h0m29 0h0m6 0h0m26 0h0m-41 1h0m4 0h0m4 0h0m51 0h0m24 0h0m-103 1h0m44 0h0m7 0h0m14 0h0m52 0h0m3 0h0m92 0h0m-212 1h0m27 0h0m71 0h0m13 0h0m26 0h0m8 0h0m-127 1h0m9 0h0m4 0h0m5 0h0m71 0h0m22 0h0m-130 1h0m25 0h0m14 0h0m29 0h0m3 0h0m51 0h0m-61 1h0m37 0h0m32 0h0m-82 1h0m24 0h0m14 0h0m4 0h0m132 0h0m-217 1h0m37 0h0m6 1h0m41 0h0m2 0h0m-70 1h0m3 0h0m15 0h0m-14 1h0m15 0h0m34 0h0m-40 1h0m43 0h0m5 0h0m106 0h0m-187 1h0m70 0h0m22 0h0m35 0h0m53 0h0m-108 1h0m15 0h0m51 0h0m-105 1h0m29 0h0m19 0h0m10 0h0m38 0h0m-97 1h0m24 0h0m4 0h0m24 0h0m8 0h0m-85 1h0m1 0h0m12 0h0m50 0h0m33 0h0m44 0h0m-140 1h0m50 0h0m204 0h0m-259 1h0m27 0h0m9 0h0m19 0h0m4 0h0m11 0h0m45 0h0m103 0h0m-130 2h0m11 0h0m-63 1h0m-30 1h0m15 0h0m24 0h0m17 0h0m17 0h0m0 0h0m9 0h0m-76 1h0m14 0h0m27 0h0m23 0h0m-11 1h0m10 0h0m3 0h0m7 0h0m10 0h0m134 0h0m-179 1h0m10 0h0m17 0h0m22 0h0m-67 1h0m43 0h0m-6 1h0m20 0h0m14 0h0m112 0h0m-117 1h0m-81 1h0m17 0h0m21 0h0m26 0h0m-35 1h0m26 0h0m21 0h0m-59 1h0m226 0h0m-188 1h0m64 0h0m-45 1h0m-68 1h0m-1 2h0m98 0h0m-93 1h0m36 0h0m11 0h0m32 0h0m-43 1h0m35 0h0m-63 1h0m29 0h0m16 0h0m14 0h0m29 0h0m-107 1h0m2 0h0m47 0h0m10 0h0m10 0h0m11 0h0m6 0h0m-73 1h0m6 0h0m50 0h0m-78 1h0m57 0h0m7 0h0m33 0h0m-21 1h0m25 0h0m-24 1h0m4 0h0m18 1h0m-92 1h0m32 0h0m10 0h0m26 0h0m10 0h0m1 0h0m-56 1h0m30 0h0m22 0h0m-1 1h0m10 0h0m6 0h0m130 0h0m-216 1h0m14 0h0m68 0h0m-46 1h0m19 0h0m21 0h0m-56 2h0m25 0h0m6 0h0m-48 1h0m8 0h0m15 0h0m10 0h0m19 1h0m278 1h0m-303 1h0m35 0h0m28 1h0m11 0h0m-68 1h0m-41 1h0m38 0h0m47 0h0m23 0h0m-56 1h0m28 0h0m-67 1h0m56 0h0m-61 1h0m3 0h0m55 0h0m6 0h0m19 0h0m-33 2h0m9 1h0m-46 1h0m-11 1h0m58 0h0m-45 1h0m82 0h0m20 0h0m95 1h0m-169 1h0m-10 1h0m7 0h0m9 0h0m17 1h0m6 0h0m2 0h0m-76 1h0m71 0h0m-51 1h0m17 0h0m9 0h0m-41 1h0m69 0h0m-71 1h0m12 1h0m68 0h0m4 0h0m-15 1h0m-17 1h0m3 0h0m41 0h0m-18 1h0m-30 1h0m-39 1h0m52 0h0m7 0h0m15 0h0m-59 1h0m5 0h0m38 0h0m-66 1h0m34 0h0m2 0h0m14 1h0m14 0h0m19 0h0m-41 1h0m8 0h0m-16 2h0m4 0h0m22 0h0m-9 2h0m-15 1h0m58 0h0m-81 1h0m44 2h0m-20 1h0m51 0h0m-35 1h0m25 1h0m-55 1h0m17 0h0m14 0h0m-44 1h0m19 0h0m22 2h0m160 1h0m-15 8h0m-118 31h0m21 10h0m-122 5h0m7 3h0m-67 31h0m135 28h0"/>
<path stroke="#124d8c" d="M1239 47h0m4 2h0m-3 1h0m-1 2h0m5 0h0m3 0h0m6 1h0m-9 1h0m-14 1h0m1 0h0m4 1h0m10 0h0m-6 2h0m15 0h0m-40 1h0m50 0h0m-49 2h0m2 1h0m34 0h0m-23 1h0m37 0h0m3 2h0m-48 1h0m43 0h0m-1 1h0m-41 1h0m34 0h0m-50 2h0m5 0h0m1 1h0m59 2h0m-10 2h0m9 1h0m-74 4h0m10 0h0m-6 1h0m4 1h0m62 0h0m-80 3h0m2 2h0m14 1h0m7 0h0m-20 3h0m44 0h0m19 1h0m59 1h0m-104 1h0m66 0h0m-89 3h0m27 0h0m-7 1h0m42 4h0m-26 10h0m106 4h0m-70 2h0m37 0h0m-26 1h0m13 2h0m-53 2h0m34 0h0m-35 2h0m7 1h0m1 1h0m37 0h0m19 3h0m-35 3h0m-19 1h0m1 0h0m30 2h0m37 1h0m8 1h0m-62 4h0m-14 3h0m6 0h0m-8 1h0m47 0h0m-36 1h0m8 2h0m43 0h0m4 3h0m-23 1h0m5 1h0m-47 1h0m5 0h0m17 0h0m132 0h0m-71 2h0m-75 1h0m6 0h0m-7 1h0m12 1h0m6 0h0m24 0h0m163 1h0m-188 3h0m68 1h0m53 0h0m-102 1h0m2 0h0m100 0h0m-85 1h0m-42 2h0m82 0h0m-45 1h0m-24 2h0m45 0h0m25 0h0m121 0h0m-203 1h0m32 0h0m57 0h0m13 1h0m-100 1h0m0 0h0m49 0h0m-28 1h0m14 0h0m25 0h0m-18 1h0m7 0h0m15 0h0m-65 1h0m39 0h0m27 0h0m18 0h0m61 0h0m-145 1h0m5 0h0m75 0h0m110 0h0m-115 1h0m-48 2h0m19 0h0m-47 2h0m17 0h0m7 0h0m11 0h0m16 0h0m9 0h0m166 0h0m-150 1h0m15 0h0m32 0h0m95 1h0m-95 1h0m103 0h0m-171 1h0m24 0h0m36 0h0m-80 1h0m-15 1h0m94 0h0m-70 1h0m62 0h0m126 0h0m-241 1h0m18 0h0m99 0h0m10 1h0m10 0h0m-132 1h0m77 0h0m34 0h0m10 0h0m-100 1h0m5 0h0m62 0h0m21 0h0m35 0h0m91 0h0m-189 1h0m40 0h0m63 0h0m45 0h0m54 0h0m-225 3h0m24 0h0m49 0h0m24 0h0m-99 1h0m93 0h0m-67 1h0m176 0h0m14 0h0m-78 1h0m70 0h0m5 0h0m28 0h0m-246 1h0m139 0h0m-114 1h0m82 0h0m2 0h0m20 0h0m7 0h0m68 0h0m-101 1h0m2 0h0m1 0h0m-64 1h0m10 0h0m31 0h0m70 0h0m-126 1h0m72 0h0m13 0h0m98 0h0m-85 1h0m9 0h0m82 0h0m5 0h0m4 0h0m-216 1h0m1 0h0m23 0h0m50 0h0m37 0h0m17 0h0m23 0h0m-106 1h0m18 0h0m48 0h0m-74 1h0m40 0h0m-38 1h0m6 0h0m134 0h0m35 0h0m-172 1h0m12 0h0m61 0h0m15 0h0m92 0h0m-177 1h0m148 0h0m-99 1h0m39 0h0m15 0h0m10 0h0m46 0h0m11 0h0m14 0h0m-101 1h0m37 0h0m28 0h0m38 0h0m1 0h0m1 0h0m23 0h0m-206 1h0m172 0h0m-140 1h0m26 0h0m26 0h0m-124 1h0m16 0h0m108 0h0m117 0h0m-210 1h0m53 0h0m25 0h0m30 0h0m95 0h0m-191 1h0m29 0h0m56 0h0m5 0h0m4 0h0m69 0h0m-190 1h0m108 0h0m6 0h0m29 0h0m-55 1h0m56 0h0m28 0h0m9 0h0m4 0h0m2 0h0m49 0h0m1 0h0m-146 1h0m16 0h0m82 0h0m-193 1h0m10 0h0m12 0h0m32 0h0m7 0h0m19 0h0m4 0h0m17 0h0m23 0h0m79 0h0m3 0h0m24 0h0m-193 1h0m53 0h0m2 0h0m113 0h0m66 0h0m-210 1h0m72 0h0m72 0h0m18 0h0m-188 1h0m21 0h0m115 0h0m45 0h0m-163 1h0m11 0h0m11 0h0m169 0h0m-226 1h0m75 0h0m72 0h0m-162 1h0m41 0h0m5 0h0m18 0h0m20 0h0m16 0h0m97 0h0m-119 1h0m20 0h0m1 0h0m26 0h0m73 0h0m7 0h0m-203 1h0m64 0h0m5 0h0m30 0h0m-45 1h0m69 0h0m4 0h0m69 0h0m8 0h0m-121 1h0m24 0h0m2 0h0m116 0h0m29 0h0m-166 1h0m21 0h0m108 0h0m-119 1h0m128 0h0m12 0h0m-192 1h0m39 0h0m23 0h0m40 0h0m17 0h0m-137 1h0m68 0h0m-27 1h0m3 0h0m127 0h0m42 0h0m-202 1h0m95 0h0m129 0h0m-216 1h0m74 0h0m-27 1h0m11 0h0m-31 1h0m6 0h0m16 0h0m-3 1h0m3 0h0m9 0h0m46 0h0m34 0h0m47 0h0m-150 1h0m19 0h0m38 0h0m9 0h0m11 0h0m87 0h0m-176 1h0m46 0h0m6 0h0m-69 1h0m25 0h0m48 0h0m21 0h0m114 0h0m62 0h0m-220 1h0m21 0h0m190 0h0m-232 1h0m34 0h0m-69 1h0m48 0h0m10 0h0m36 0h0m4 0h0m3 0h0m-138 1h0m37 0h0m107 0h0m209 0h0m-319 1h0m-8 1h0m19 0h0m0 0h0m11 0h0m106 0h0m5 0h0m179 0h0m-285 1h0m19 0h0m8 0h0m38 0h0m35 0h0m12 0h0m142 0h0m25 0h0m-362 1h0m6 0h0m383 0h0m-338 1h0m73 0h0m21 0h0m6 0h0m193 0h0m-336 1h0m11 0h0m9 0h0m50 0h0m59 0h0m54 0h0m-123 1h0m9 0h0m-81 1h0m97 0h0m-10 1h0m6 0h0m123 0h0m-192 1h0m21 0h0m115 0h0m28 0h0m25 0h0m85 0h0m-283 1h0m45 0h0m55 0h0m6 0h0m-105 3h0m45 0h0m127 1h0m151 0h0m-206 1h0m71 0h0m10 0h0m-33 1h0m134 0h0m86 0h0m-172 1h0m-191 1h0m90 0h0m56 0h0m200 0h0m-313 1h0m22 0h0m13 0h0m165 0h0m138 0h0m-331 1h0m108 0h0m20 0h0m21 0h0m139 0h0m-344 1h0m10 0h0m20 0h0m47 0h0m89 0h0m11 0h0m-81 1h0m70 0h0m161 0h0m-242 1h0m133 0h0m157 1h0m11 0h0m-275 1h0m26 0h0m20 0h0m10 0h0m223 0h0m-279 1h0m40 0h0m21 1h0m-158 1h0m1 0h0m30 0h0m53 0h0m116 0h0m-198 1h0m63 0h0m47 0h0m14 0h0m18 0h0m7 0h0m28 0h0m11 0h0m115 0h0m-271 1h0m149 0h0m-197 1h0m10 0h0m41 0h0m7 0h0m322 0h0m-372 1h0m55 0h0m26 0h0m11 0h0m15 0h0m11 0h0m52 0h0m5 0h0m42 0h0m150 0h0m-361 1h0m0 0h0m8 0h0m45 0h0m22 0h0m1 0h0m37 0h0m24 0h0m1 0h0m64 0h0m61 0h0m10 0h0m-348 1h0m162 0h0m68 0h0m168 0h0m-285 1h0m2 0h0m127 0h0m171 0h0m-255 1h0m10 0h0m47 0h0m74 0h0m125 0h0m5 0h0m5 0h0m-255 1h0m35 0h0m224 0h0m2 0h0m-420 1h0m124 0h0m8 0h0m120 0h0m-94 1h0m81 0h0m18 0h0m-205 1h0m26 0h0m39 0h0m47 0h0m75 0h0m3 0h0m1 0h0m16 0h0m7 0h0m2 0h0m-142 1h0m68 0h0m126 0h0m43 0h0m22 0h0m23 0h0m-437 1h0m132 0h0m6 0h0m7 0h0m19 0h0m19 0h0m169 0h0m-213 1h0m1 0h0m85 0h0m3 0h0m12 0h0m63 0h0m-147 1h0m165 0h0m-195 1h0m24 0h0m2 0h0m8 0h0m15 0h0m28 0h0m12 0h0m68 0h0m37 0h0m-166 1h0m31 0h0m80 0h0m-156 1h0m115 0h0m22 0h0m89 0h0m67 0h0m-265 1h0m14 0h0m17 0h0m67 0h0m37 0h0m44 0h0m68 0h0m-228 1h0m109 0h0m53 0h0m-166 1h0m11 0h0m20 0h0m11 0h0m4 0h0m7 0h0m4 0h0m21 0h0m17 0h0m68 0h0m7 0h0m-83 1h0m27 0h0m14 0h0m10 0h0m75 0h0m-270 1h0m1 0h0m67 0h0m-162 1h0m96 0h0m114 0h0m33 0h0m11 0h0m35 0h0m99 0h0m-243 1h0m48 0h0m29 0h0m41 0h0m23 0h0m41 0h0m8 0h0m-225 1h0m2 0h0m11 0h0m86 0h0m36 0h0m38 0h0m-177 1h0m246 0h0m-192 1h0m7 0h0m20 0h0m3 0h0m63 0h0m37 0h0m-216 1h0m107 0h0m44 0h0m38 0h0m10 0h0m-44 1h0m22 0h0m7 0h0m36 0h0m32 0h0m4 0h0m-206 1h0m11 0h0m107 0h0m12 0h0m10 0h0m-190 1h0m92 0h0m84 0h0m3 0h0m102 0h0m-169 1h0m2 0h0m4 0h0m130 0h0m7 0h0m-229 1h0m93 0h0m99 0h0m-220 1h0m37 0h0m41 0h0m11 0h0m12 0h0m22 0h0m4 0h0m24 0h0m16 0h0m32 0h0m1 0h0m23 0h0m-210 1h0m117 0h0m55 0h0m-95 1h0m17 0h0m9 0h0m25 0h0m15 0h0m45 0h0m104 0h0m-211 1h0m5 0h0m47 0h0m30 0h0m35 0h0m98 0h0m-315 1h0m11 0h0m48 0h0m23 0h0m49 0h0m-39 1h0m-15 1h0m22 0h0m36 0h0m7 0h0m-179 1h0m37 0h0m116 0h0m13 0h0m23 0h0m-42 1h0m21 0h0m5 0h0m4 0h0m13 0h0m19 0h0m-132 1h0m27 0h0m73 0h0m14 0h0m-59 1h0m27 0h0m5 0h0m16 0h0m19 0h0m-165 1h0m4 0h0m77 0h0m22 0h0m42 0h0m62 0h0m153 0h0m-348 1h0m169 0h0m31 0h0m-203 1h0m26 0h0m44 0h0m20 0h0m13 0h0m85 0h0m8 0h0m-195 1h0m191 0h0m16 0h0m2 0h0m-224 1h0m190 0h0m23 0h0m-186 1h0m13 0h0m41 0h0m2 0h0m22 0h0m46 0h0m25 0h0m-98 1h0m12 0h0m45 0h0m24 0h0m45 0h0m35 0h0m-196 1h0m61 0h0m70 0h0m11 0h0m1 0h0m29 0h0m-214 1h0m6 0h0m54 0h0m26 0h0m44 0h0m1 0h0m29 0h0m-63 1h0m24 0h0m52 0h0m13 0h0m-128 1h0m23 0h0m2 0h0m20 0h0m11 0h0m14 0h0m30 0h0m7 0h0m17 0h0m27 0h0m-180 1h0m3 0h0m102 0h0m26 0h0m30 0h0m45 0h0m-186 1h0m56 0h0m38 0h0m28 0h0m16 0h0m12 0h0m33 0h0m0 0h0m-237 1h0m112 0h0m17 0h0m14 0h0m15 0h0m11 0h0m14 0h0m4 0h0m14 0h0m3 0h0m2 0h0m-191 1h0m78 0h0m44 0h0m49 0h0m-149 1h0m50 0h0m26 0h0m9 0h0m12 0h0m10 0h0m5 0h0m102 1h0m14 0h0m-264 1h0m9 0h0m3 0h0m19 0h0m40 0h0m72 0h0m96 0h0m-218 1h0m76 0h0m-74 1h0m156 0h0m2 0h0m5 0h0m32 0h0m9 0h0m-207 1h0m73 0h0m6 0h0m0 0h0m11 0h0m29 1h0m51 0h0m65 0h0m-300 1h0m57 0h0m28 0h0m79 0h0m13 0h0m5 0h0m13 0h0m15 0h0m5 0h0m14 0h0m23 0h0m-176 1h0m92 0h0m12 0h0m14 0h0m20 0h0m-94 1h0m43 0h0m26 0h0m23 0h0m46 0h0m13 0h0m12 0h0m-229 1h0m80 0h0m30 0h0m7 0h0m23 0h0m14 0h0m3 0h0m21 0h0m37 0h0m-213 1h0m0 0h0m24 0h0m47 0h0m93 0h0m45 0h0m43 0h0m-262 1h0m91 0h0m13 0h0m18 0h0m7 0h0m25 0h0m12 0h0m1 0h0m13 0h0m7 0h0m41 0h0m-128 1h0m18 0h0m23 0h0m16 0h0m12 0h0m0 0h0m29 0h0m22 0h0m-223 1h0m107 0h0m7 0h0m1 0h0m30 0h0m1 0h0m44 0h0m33 0h0m-288 1h0m1 0h0m170 0h0m64 0h0m35 0h0m-263 1h0m83 0h0m93 0h0m25 0h0m19 0h0m20 0h0m15 0h0m-150 1h0m21 0h0m35 0h0m76 0h0m-18 1h0m24 0h0m31 0h0m24 0h0m-244 1h0m42 0h0m45 0h0m27 0h0m5 0h0m29 0h0m132 0h0m-263 1h0m108 0h0m21 0h0m24 0h0m38 0h0m2 0h0m-203 1h0m10 0h0m128 0h0m10 0h0m58 0h0m-180 1h0m57 0h0m32 0h0m49 0h0m15 0h0m40 0h0m-221 1h0m89 0h0m117 0h0m-74 1h0m79 0h0m-132 1h0m7 0h0m26 0h0m10 0h0m59 0h0m29 0h0m5 0h0m4 0h0m-134 1h0m7 0h0m18 0h0m16 0h0m61 0h0m-171 1h0m129 0h0m19 0h0m86 0h0m-198 1h0m61 0h0m58 0h0m-152 1h0m39 0h0m30 0h0m1 0h0m36 0h0m7 0h0m10 0h0m7 0h0m-147 1h0m1 0h0m2 0h0m7 0h0m11 0h0m136 0h0m11 0h0m45 0h0m-172 1h0m84 0h0m1 0h0m24 0h0m10 0h0m26 0h0m-192 1h0m36 0h0m101 0h0m9 0h0m14 0h0m50 0h0m4 0h0m-194 1h0m61 0h0m39 0h0m18 0h0m16 0h0m2 0h0m46 0h0m-157 1h0m121 0h0m3 0h0m44 0h0m-221 1h0m24 0h0m12 0h0m69 0h0m22 0h0m9 0h0m27 0h0m5 0h0m59 0h0m-218 1h0m127 0h0m7 0h0m11 0h0m43 0h0m21 0h0m-183 1h0m13 0h0m7 0h0m41 0h0m97 0h0m79 0h0m-258 1h0m58 0h0m69 0h0m8 0h0m15 0h0m23 0h0m24 0h0m-223 1h0m49 0h0m97 0h0m36 0h0m3 0h0m80 0h0m-116 1h0m3 0h0m3 0h0m52 0h0m32 0h0m-234 1h0m21 0h0m2 0h0m2 0h0m1 0h0m29 0h0m23 0h0m111 0h0m77 0h0m-208 1h0m8 0h0m5 0h0m64 0h0m27 0h0m38 0h0m33 0h0m8 0h0m63 0h0m-286 1h0m32 0h0m169 0h0m67 0h0m-143 1h0m29 0h0m55 0h0m-208 1h0m23 0h0m74 0h0m19 0h0m34 0h0m-122 1h0m12 0h0m71 0h0m31 0h0m27 0h0m26 0h0m65 0h0m-313 1h0m70 0h0m87 0h0m9 0h0m25 0h0m40 0h0m8 0h0m5 0h0m6 0h0m-194 1h0m10 0h0m67 0h0m12 0h0m6 0h0m13 0h0m37 0h0m51 0h0m29 0h0m43 0h0m-244 1h0m85 0h0m48 0h0m37 0h0m29 0h0m50 0h0m-257 1h0m38 0h0m94 0h0m8 0h0m49 0h0m15 0h0m-143 1h0m6 0h0m7 0h0m24 0h0m86 0h0m47 0h0m9 0h0m-208 1h0m55 0h0m-75 1h0m59 0h0m101 0h0m86 0h0m-264 1h0m95 0h0m17 0h0m29 0h0m7 0h0m51 0h0m-204 1h0m119 0h0m17 0h0m70 0h0m-257 1h0m246 0h0m-184 1h0m13 0h0m81 0h0m86 0h0m0 0h0m-170 1h0m37 0h0m41 0h0m-82 1h0m5 0h0m92 0h0m129 0h0m30 0h0m-280 1h0m18 0h0m9 0h0m84 0h0m4 0h0m2 0h0m32 0h0m41 0h0m-187 1h0m50 0h0m71 0h0m65 0h0m107 0h0m-215 1h0m35 0h0m21 0h0m8 0h0m3 0h0m41 0h0m108 0h0m-172 1h0m20 0h0m0 0h0m13 0h0m40 0h0m15 0h0m8 0h0m-230 1h0m41 0h0m64 0h0m3 0h0m116 0h0m-154 1h0m43 0h0m20 0h0m1 0h0m8 0h0m35 0h0m-209 1h0m46 0h0m27 0h0m1 0h0m2 0h0m151 0h0m37 0h0m56 0h0m2 0h0m10 0h0m-303 1h0m34 0h0m133 0h0m17 0h0m80 0h0m-297 1h0m145 0h0m11 0h0m72 0h0m112 0h0m-259 1h0m53 0h0m12 0h0m42 0h0m3 0h0m21 0h0m8 0h0m12 0h0m1 0h0m30 0h0m81 0h0m-252 1h0m111 0h0m36 0h0m-177 1h0m55 0h0m30 0h0m77 0h0m40 0h0m-235 1h0m124 0h0m75 0h0m95 0h0m-280 1h0m83 0h0m42 0h0m35 0h0m9 0h0m-167 1h0m1 0h0m80 0h0m37 0h0m3 0h0m37 0h0m-66 1h0m19 0h0m10 0h0m1 0h0m18 0h0m16 0h0m29 0h0m100 0h0m-327 1h0m140 0h0m19 0h0m8 0h0m1 0h0m16 0h0m43 0h0m2 0h0m6 0h0m4 0h0m21 0h0m-129 1h0m14 0h0m43 0h0m3 0h0m31 0h0m18 0h0m4 0h0m3 0h0m45 0h0m-258 1h0m11 0h0m32 0h0m163 0h0m7 0h0m96 0h0m-291 1h0m35 0h0m44 0h0m5 0h0m23 0h0m63 0h0m32 0h0m1 0h0m82 0h0m-264 1h0m70 0h0m10 0h0m49 0h0m8 0h0m40 0h0m-124 1h0m12 0h0m30 0h0m52 0h0m-172 1h0m4 0h0m158 0h0m18 0h0m45 0h0m4 0h0m61 0h0m-252 1h0m6 0h0m19 0h0m21 0h0m46 0h0m32 0h0m52 0h0m-202 1h0m127 0h0m35 0h0m5 0h0m8 0h0m-44 1h0m34 0h0m22 0h0m12 0h0m-194 1h0m56 0h0m10 0h0m50 0h0m13 0h0m14 0h0m9 0h0m19 0h0m33 0h0m-226 1h0m8 0h0m13 0h0m29 0h0m49 0h0m111 0h0m1 0h0m87 0h0m72 0h0m-335 1h0m95 0h0m10 0h0m57 0h0m59 0h0m-231 1h0m77 0h0m13 0h0m42 0h0m54 0h0m-122 1h0m55 0h0m9 0h0m31 0h0m-193 1h0m40 0h0m89 0h0m28 0h0m8 0h0m-77 1h0m9 0h0m25 0h0m5 0h0m1 0h0m93 0h0m-31 1h0m36 0h0m-186 1h0m3 0h0m75 0h0m41 0h0m58 0h0m-192 1h0m113 0h0m29 0h0m78 0h0m-276 1h0m74 0h0m46 0h0m142 0h0m18 0h0m-169 1h0m8 0h0m47 0h0m13 0h0m98 0h0m-232 1h0m45 0h0m20 0h0m23 0h0m207 0h0m-306 1h0m69 0h0m5 0h0m17 0h0m17 0h0m46 0h0m0 0h0m37 0h0m7 0h0m36 0h0m64 0h0m-281 1h0m20 0h0m84 0h0m70 0h0m-26 1h0m39 0h0m47 0h0m-248 1h0m75 0h0m115 0h0m15 0h0m85 0h0m10 0h0m-173 1h0m46 0h0m6 0h0m3 0h0m7 0h0m7 0h0m-170 1h0m15 0h0m36 0h0m77 0h0m49 0h0m-210 1h0m57 0h0m27 0h0m3 0h0m11 0h0m27 0h0m23 0h0m9 0h0m5 0h0m23 0h0m14 0h0m-122 1h0m10 0h0m62 0h0m-29 1h0m13 0h0m-90 1h0m1 0h0m2 0h0m12 0h0m140 0h0m-173 1h0m76 0h0m4 0h0m82 0h0m-159 1h0m124 0h0m17 0h0m21 0h0m20 0h0m-213 1h0m59 0h0m-73 1h0m67 0h0m46 0h0m3 0h0m60 0h0m29 0h0m17 0h0m9 0h0m-208 1h0m46 0h0m4 0h0m22 0h0m-97 1h0m57 0h0m40 0h0m120 0h0m-37 1h0m-163 1h0m88 0h0m50 0h0m23 0h0m62 0h0m-147 1h0m4 0h0m40 0h0m-65 1h0m61 0h0m132 0h0m-253 1h0m15 0h0m39 0h0m15 0h0m82 0h0m4 0h0m55 1h0m21 0h0m-205 1h0m191 0h0m-213 1h0m32 0h0m72 0h0m93 0h0m6 0h0m3 0h0m-163 1h0m7 0h0m47 0h0m-46 1h0m132 0h0m-201 1h0m23 0h0m3 0h0m39 0h0m20 0h0m6 0h0m6 0h0m69 0h0m14 0h0m45 0h0m6 0h0m-210 1h0m174 0h0m23 0h0m24 0h0m-233 1h0m6 0h0m55 0h0m149 0h0m9 0h0m-214 1h0m51 0h0m124 0h0m-110 1h0m88 0h0m3 0h0m22 0h0m28 0h0m4 0h0m27 0h0m-195 1h0m1 0h0m45 0h0m36 0h0m60 0h0m-173 1h0m29 0h0m8 0h0m43 0h0m37 0h0m51 0h0m24 0h0m16 0h0m-208 1h0m14 0h0m40 0h0m18 0h0m61 0h0m61 0h0m23 0h0m-230 1h0m10 0h0m65 0h0m4 0h0m142 0h0m-222 1h0m70 0h0m35 0h0m51 0h0m53 0h0m-193 1h0m37 0h0m30 0h0m20 0h0m25 0h0m29 0h0m95 0h0m-213 1h0m95 0h0m76 0h0m25 0h0m-156 1h0m12 0h0m80 0h0m42 0h0m1 0h0m-202 1h0m24 0h0m2 0h0m5 0h0m34 0h0m7 0h0m98 0h0m30 0h0m23 0h0m-242 1h0m78 0h0m4 0h0m6 0h0m14 0h0m12 0h0m103 0h0m0 0h0m13 0h0m-174 1h0m41 0h0m120 0h0m3 0h0m22 0h0m-202 1h0m24 0h0m42 0h0m14 0h0m-139 1h0m9 0h0m211 0h0m18 0h0m1 0h0m17 0h0m-161 1h0m19 1h0m5 0h0m31 0h0m68 0h0m6 0h0m61 0h0m-267 1h0m80 0h0m5 0h0m21 0h0m31 0h0m27 0h0m76 0h0m-49 1h0m45 0h0m-196 1h0m85 0h0m86 0h0m31 0h0m-149 1h0m62 0h0m65 0h0m-107 1h0m7 0h0m19 0h0m5 0h0m27 0h0m17 0h0m21 0h0m8 0h0m15 0h0m-154 1h0m39 0h0m0 0h0m27 0h0m-95 1h0m165 0h0m11 0h0m0 0h0m2 0h0m11 0h0m-188 1h0m3 0h0m63 0h0m4 0h0m3 0h0m71 0h0m5 0h0m18 0h0m-198 1h0m3 0h0m7 0h0m90 0h0m107 0h0m10 0h0m-152 1h0m65 0h0m31 0h0m12 0h0m4 0h0m-174 1h0m15 0h0m66 0h0m3 0h0m35 0h0m50 0h0m-207 1h0m77 0h0m7 0h0m12 0h0m23 0h0m36 0h0m-70 1h0m24 0h0m22 0h0m7 0h0m5 0h0m91 0h0m-171 1h0m6 0h0m4 0h0m32 0h0m17 0h0m77 0h0m3 0h0m29 0h0m-7 1h0m26 0h0m-188 1h0m6 0h0m12 0h0m24 0h0m54 0h0m0 0h0m0 0h0m18 0h0m10 0h0m-153 1h0m45 0h0m77 0h0m-169 1h0m87 0h0m7 0h0m59 0h0m107 0h0m-159 1h0m37 0h0m17 0h0m-95 2h0m45 0h0m63 0h0m45 0h0m5 0h0m28 0h0m1 0h0m25 0h0m-184 1h0m37 0h0m15 0h0m29 0h0m35 0h0m4 0h0m44 0h0m3 0h0m-260 1h0m73 0h0m42 0h0m22 0h0m59 0h0m6 0h0m1 0h0m3 0h0m3 0h0m32 0h0m24 0h0m-99 1h0m21 0h0m16 0h0m-65 1h0m59 0h0m11 0h0m33 0h0m1 0h0m24 0h0m8 0h0m-204 1h0m36 0h0m40 0h0m14 0h0m9 0h0m33 0h0m36 0h0m5 0h0m-196 1h0m55 0h0m4 0h0m9 0h0m38 0h0m73 0h0m3 0h0m-164 1h0m22 0h0m20 0h0m30 0h0m34 0h0m28 0h0m16 0h0m-157 1h0m16 0h0m22 0h0m134 0h0m2 0h0m19 0h0m4 0h0m-147 1h0m2 0h0m10 0h0m8 0h0m24 0h0m52 0h0m32 0h0m32 0h0m-189 1h0m12 0h0m18 0h0m9 0h0m67 0h0m59 0h0m14 0h0m-166 1h0m7 0h0m36 0h0m34 0h0m54 0h0m19 0h0m13 0h0m-88 1h0m40 0h0m37 0h0m-125 1h0m7 0h0m20 0h0m37 0h0m13 0h0m10 0h0m-146 1h0m68 0h0m0 1h0m89 0h0m33 0h0m-112 1h0m50 0h0m14 0h0m3 0h0m-65 1h0m69 0h0m42 0h0m12 0h0m-224 1h0m43 0h0m54 0h0m28 1h0m70 0h0m3 0h0m-126 1h0m6 0h0m61 0h0m5 0h0m27 0h0m1 0h0m64 0h0m-264 1h0m18 0h0m17 0h0m6 0h0m11 0h0m136 0h0m48 0h0m-127 1h0m6 0h0m2 0h0m13 0h0m77 0h0m-218 1h0m78 0h0m80 0h0m37 0h0m59 0h0m-210 1h0m97 0h0m71 0h0m3 0h0m-137 1h0m37 0h0m82 0h0m1 0h0m48 0h0m-226 1h0m61 0h0m2 0h0m14 0h0m53 0h0m42 0h0m8 0h0m3 0h0m76 0h0m-269 1h0m6 0h0m199 0h0m-203 1h0m89 0h0m86 0h0m1 0h0m1 0h0m-261 1h0m10 0h0m63 0h0m86 0h0m44 0h0m37 0h0m10 0h0m7 0h0m5 0h0m-111 1h0m7 0h0m44 0h0m1 0h0m36 0h0m-172 1h0m25 0h0m139 0h0m16 0h0m13 0h0m32 0h0m-234 1h0m25 0h0m135 0h0m9 0h0m12 0h0m-243 1h0m92 0h0m1 0h0m16 0h0m34 0h0m81 0h0m16 0h0m19 0h0m-253 1h0m14 0h0m35 0h0m284 0h0m-310 1h0m22 0h0m6 0h0m82 0h0m66 0h0m5 0h0m-209 1h0m12 0h0m156 0h0m30 0h0m30 0h0m22 0h0m-245 1h0m1 0h0m20 0h0m10 0h0m5 0h0m25 0h0m5 0h0m4 0h0m13 0h0m163 0h0m31 0h0m-264 1h0m20 0h0m20 0h0m34 0h0m68 0h0m73 0h0m42 0h0m-241 1h0m69 0h0m7 0h0m95 0h0m72 0h0m-253 1h0m37 0h0m17 0h0m142 0h0m10 0h0m47 0h0m-276 1h0m51 0h0m16 0h0m93 0h0m49 0h0m5 0h0m-152 1h0m231 0h0m34 0h0m-309 1h0m7 0h0m151 0h0m-97 1h0m1 0h0m-67 1h0m34 0h0m7 0h0m103 0h0m143 0h0m-229 1h0m87 0h0m-120 1h0m16 0h0m16 0h0m88 0h0m-100 1h0m4 0h0m11 0h0m87 0h0m-124 1h0m8 0h0m5 0h0m17 0h0m98 1h0m-140 1h0m36 0h0m1 0h0m-41 1h0m21 0h0m149 0h0m7 0h0m150 0h0m-288 1h0m93 1h0m-117 1h0m6 0h0m0 0h0m-14 1h0m133 0h0m-3 1h0m177 1h0m-168 1h0m-10 1h0m-126 2h0m128 1h0m0 0h0m10 0h0m-15 1h0m15 0h0m72 0h0m-74 1h0m4 0h0m54 0h0m-70 2h0m1 0h0m-45 2h0m-13 5h0m2 1h0m62 2h0m2 0h0m-12 7h0m17 1h0m-2 1h0m-8 3h0m6 7h0m5 1h0m-9 1h0m7 0h0"/>
<path stroke="#d6a20e" d="M1229 51h0m-4 6h0m10 1h0m-3 5h0m-26 9h0m-20 13h0m13 9h0m3 2h0m-7 1h0m0 1h0m7 1h0m3 0h0m-12 1h0m6 0h0m1 2h0m-3 1h0m-8 1h0m12 1h0m4 0h0m8 6h0m-11 5h0m-12 1h0m28 0h0m-22 1h0m5 2h0m4 8h0m9 2h0m8 0h0m-11 1h0m-2 2h0m7 0h0m-11 2h0m19 4h0m4 1h0m-9 3h0m-9 2h0m6 0h0m13 0h0m-20 1h0m9 0h0m2 1h0m9 3h0m2 0h0m-14 2h0m9 0h0m11 1h0m-20 2h0m76 2h0m16 2h0m-77 4h0m2 0h0m-10 1h0m85 0h0m144 5h0m-220 2h0m1 0h0m1 1h0m81 1h0m143 0h0m3 0h0m-16 2h0m-197 1h0m-5 1h0m59 0h0m142 1h0m11 0h0m6 0h0m0 0h0m-216 1h0m215 0h0m-223 1h0m39 1h0m65 1h0m126 1h0m-227 3h0m129 1h0m83 0h0m-211 1h0m8 0h0m219 0h0m-6 1h0m-215 1h0m86 2h0m127 0h0m11 0h0m-224 1h0m6 0h0m199 0h0m17 0h0m-224 1h0m57 0h0m62 6h0m20 1h0m81 0h0m-224 1h0m1 0h0m214 1h0m10 0h0m-224 1h0m10 0h0m206 0h0m7 0h0m-217 2h0m12 0h0m129 0h0m71 0h0m-200 1h0m206 0h0m-217 1h0m3 0h0m10 0h0m8 1h0m-24 1h0m164 0h0m-26 1h0m4 0h0m68 0h0m-191 1h0m-18 1h0m90 0h0m-78 1h0m10 0h0m200 0h0m-190 1h0m-27 1h0m26 0h0m140 1h0m-159 2h0m-5 2h0m61 0h0m-61 1h0m3 1h0m8 0h0m1 0h0m2 1h0m6 0h0m-24 1h0m2 0h0m136 0h0m33 1h0m-145 1h0m14 0h0m70 0h0m-100 2h0m26 0h0m48 1h0m167 0h0m-239 1h0m-4 1h0m183 0h0m20 0h0m-196 1h0m25 0h0m125 0h0m26 0h0m-153 1h0m77 0h0m-109 2h0m0 0h0m14 0h0m23 0h0m89 0h0m-94 1h0m2 0h0m6 0h0m164 0h0m-204 1h0m119 0h0m69 0h0m-175 1h0m162 0h0m-165 1h0m3 0h0m79 0h0m-79 1h0m47 0h0m3 0h0m-57 1h0m33 0h0m118 0h0m-141 1h0m17 0h0m7 0h0m23 0h0m132 0h0m-179 1h0m5 0h0m-20 1h0m24 0h0m19 0h0m-13 1h0m5 0h0m2 0h0m3 0h0m138 1h0m-39 1h0m-102 1h0m26 0h0m37 0h0m15 0h0m13 1h0m28 1h0m31 0h0m-149 1h0m29 0h0m57 0h0m85 0h0m-201 1h0m17 0h0m1 0h0m150 0h0m-167 1h0m124 0h0m3 0h0m-124 1h0m145 0h0m35 1h0m-189 1h0m7 0h0m82 0h0m296 0h0m10 0h0m-394 1h0m60 0h0m9 0h0m11 0h0m311 0h0m18 0h0m-407 1h0m28 0h0m38 0h0m10 0h0m319 0h0m-333 1h0m7 0h0m16 0h0m142 0h0m186 0h0m-9 1h0m-410 1h0m45 0h0m376 0h0m-388 1h0m52 0h0m2 0h0m110 0h0m-201 1h0m38 0h0m20 0h0m13 0h0m10 0h0m36 0h0m-103 1h0m20 0h0m391 0h0m-367 1h0m65 0h0m265 0h0m20 0h0m-5 1h0m-344 1h0m-65 1h0m14 0h0m4 0h0m234 0h0m150 0h0m9 0h0m-388 1h0m41 0h0m6 0h0m321 0h0m45 0h0m-428 1h0m10 0h0m52 0h0m20 0h0m297 0h0m3 0h0m5 0h0m39 0h0m-231 2h0m-191 1h0m33 0h0m16 0h0m22 0h0m9 0h0m59 0h0m-132 1h0m69 0h0m57 0h0m13 0h0m264 0h0m-419 1h0m8 0h0m24 0h0m355 0h0m4 0h0m40 0h0m-396 1h0m2 0h0m124 0h0m241 0h0m-374 1h0m4 0h0m9 0h0m13 0h0m365 0h0m-410 1h0m405 0h0m-415 1h0m86 0h0m5 0h0m-82 1h0m86 0h0m332 0h0m-401 1h0m62 0h0m1 0h0m140 0h0m139 0h0m54 0h0m-426 1h0m5 0h0m78 0h0m118 0h0m-194 1h0m19 0h0m10 0h0m23 0h0m10 0h0m10 0h0m-69 1h0m43 0h0m21 0h0m157 0h0m-243 1h0m32 0h0m138 0h0m256 0h0m-324 1h0m322 0h0m-399 1h0m216 0h0m-221 1h0m41 0h0m17 0h0m77 0h0m-138 1h0m15 0h0m30 0h0m22 0h0m55 0h0m-134 1h0m14 0h0m41 0h0m2 0h0m20 0h0m31 0h0m16 0h0m34 0h0m-116 1h0m29 0h0m19 0h0m139 0h0m-159 1h0m137 0h0m-208 1h0m9 0h0m2 0h0m22 0h0m71 0h0m27 0h0m25 0h0m-152 1h0m24 0h0m51 0h0m6 0h0m-88 1h0m34 0h0m12 0h0m-38 1h0m29 0h0m145 0h0m133 0h0m-296 1h0m22 0h0m9 0h0m141 0h0m-163 1h0m19 0h0m131 0h0m-167 1h0m87 0h0m15 0h0m7 0h0m60 0h0m-144 1h0m5 0h0m54 0h0m11 0h0m24 0h0m170 0h0m-294 1h0m236 0h0m-230 1h0m24 0h0m15 0h0m56 0h0m5 0h0m9 0h0m107 0h0m-222 1h0m125 0h0m9 0h0m-39 1h0m35 0h0m-90 1h0m69 0h0m10 0h0m99 0h0m-213 1h0m20 0h0m20 0h0m14 0h0m-50 1h0m15 0h0m1 0h0m2 0h0m29 0h0m22 0h0m39 0h0m98 0h0m62 0h0m-262 1h0m8 0h0m71 0h0m-92 1h0m17 1h0m12 0h0m0 0h0m19 0h0m31 0h0m36 0h0m5 0h0m-135 1h0m50 0h0m76 0h0m87 0h0m-205 1h0m15 0h0m10 0h0m73 0h0m-102 1h0m2 0h0m54 0h0m39 0h0m5 0h0m5 0h0m193 0h0m-299 1h0m2 0h0m15 0h0m21 0h0m4 0h0m10 0h0m1 0h0m-62 1h0m17 0h0m30 0h0m34 0h0m0 0h0m20 0h0m186 0h0m-281 1h0m36 0h0m18 0h0m3 0h0m28 0h0m19 0h0m14 0h0m18 0h0m-121 1h0m35 0h0m23 0h0m67 0h0m140 0h0m-285 1h0m49 0h0m-29 1h0m29 0h0m10 0h0m-35 1h0m115 0h0m-136 1h0m45 0h0m101 0h0m-119 1h0m3 0h0m9 0h0m-25 1h0m35 0h0m-26 1h0m38 0h0m35 0h0m187 0h0m-263 1h0m8 0h0m-16 1h0m19 0h0m110 0h0m99 0h0m33 0h0m31 0h0m-313 1h0m54 0h0m1 0h0m71 0h0m8 0h0m-131 1h0m32 0h0m23 0h0m16 0h0m52 0h0m9 0h0m-121 1h0m20 0h0m13 0h0m9 0h0m32 0h0m-25 1h0m77 0h0m-94 1h0m4 0h0m7 0h0m25 0h0m-57 1h0m10 0h0m36 0h0m70 0h0m-111 1h0m35 0h0m52 0h0m-119 1h0m16 0h0m3 0h0m12 0h0m236 0h0m-252 1h0m14 0h0m43 0h0m-12 1h0m23 0h0m73 0h0m101 0h0m-242 1h0m30 0h0m18 0h0m22 0h0m44 0h0m22 0h0m-150 1h0m6 0h0m13 0h0m1 1h0m16 0h0m4 0h0m24 0h0m32 0h0m45 0h0m-108 1h0m47 0h0m-84 1h0m21 0h0m5 0h0m1 0h0m5 0h0m113 0h0m97 0h0m-204 1h0m29 0h0m49 0h0m9 0h0m-87 1h0m17 0h0m1 0h0m19 0h0m-57 1h0m5 0h0m39 0h0m15 0h0m39 0h0m-54 1h0m-9 1h0m10 0h0m33 0h0m164 0h0m-246 1h0m70 0h0m29 0h0m-95 1h0m34 0h0m35 0h0m14 0h0m-82 1h0m36 0h0m0 0h0m-13 1h0m21 0h0m33 0h0m-76 1h0m9 0h0m6 0h0m19 0h0m29 0h0m7 0h0m-65 1h0m10 0h0m21 0h0m3 0h0m37 0h0m54 0h0m-144 1h0m6 1h0m24 0h0m3 0h0m3 0h0m0 0h0m25 0h0m80 0h0m11 0h0m-116 1h0m32 0h0m26 0h0m1 0h0m8 0h0m18 0h0m7 0h0m-10 1h0m-70 1h0m11 0h0m2 0h0m78 0h0m56 0h0m-173 1h0m35 0h0m2 1h0m2 0h0m10 0h0m1 0h0m28 0h0m-35 1h0m18 0h0m54 0h0m-136 1h0m53 0h0m-10 1h0m70 0h0m-75 1h0m61 0h0m24 0h0m-106 1h0m50 0h0m-25 1h0m6 0h0m80 0h0m-53 1h0m24 0h0m27 0h0m-28 1h0m2 0h0m-64 1h0m19 0h0m27 0h0m13 0h0m30 0h0m-84 1h0m8 0h0m4 0h0m87 0h0m-130 1h0m17 0h0m17 0h0m21 0h0m36 0h0m-19 1h0m-47 1h0m27 0h0m15 0h0m11 0h0m7 0h0m-59 1h0m55 0h0m3 0h0m44 0h0m-108 1h0m10 0h0m33 0h0m9 0h0m7 0h0m45 0h0m6 0h0m-98 1h0m85 0h0m5 0h0m-121 1h0m18 0h0m33 0h0m54 0h0m-80 1h0m102 0h0m22 0h0m-85 1h0m-33 1h0m77 0h0m8 0h0m8 0h0m-95 1h0m26 0h0m60 0h0m84 0h0m-134 1h0m66 0h0m9 0h0m-119 1h0m7 0h0m1 0h0m13 0h0m-26 1h0m95 0h0m-76 2h0m3 0h0m-10 1h0m18 0h0m6 0h0m2 0h0m49 0h0m11 0h0m-109 1h0m62 0h0m21 0h0m14 0h0m-41 1h0m10 0h0m2 0h0m-49 1h0m59 0h0m6 0h0m0 0h0m27 0h0m104 0h0m-139 1h0m29 0h0m5 0h0m-93 1h0m11 0h0m13 0h0m12 0h0m86 0h0m-94 1h0m29 0h0m14 0h0m-73 1h0m1 0h0m19 0h0m17 0h0m166 0h0m-192 1h0m8 0h0m15 0h0m21 0h0m9 0h0m-46 1h0m18 0h0m7 0h0m36 0h0m22 0h0m-92 1h0m19 0h0m36 0h0m9 0h0m7 0h0m-43 1h0m42 0h0m23 0h0m-106 1h0m62 0h0m69 0h0m-107 1h0m2 0h0m10 0h0m36 0h0m5 1h0m3 0h0m12 0h0m-23 1h0m8 0h0m2 0h0m-40 1h0m2 0h0m13 0h0m24 0h0m-84 1h0m44 0h0m7 0h0m14 0h0m6 0h0m9 0h0m4 0h0m-72 1h0m75 0h0m-45 1h0m17 0h0m2 0h0m31 0h0m-94 1h0m66 0h0m14 0h0m44 0h0m-112 1h0m46 0h0m4 0h0m12 0h0m-24 1h0m11 0h0m2 0h0m4 0h0m11 0h0m42 0h0m-80 1h0m-38 1h0m21 0h0m1 0h0m57 0h0m3 1h0m22 0h0m2 0h0m-97 1h0m50 0h0m4 0h0m150 0h0m-189 1h0m-1 1h0m1 0h0m36 0h0m-58 1h0m20 0h0m2 0h0m69 0h0m41 0h0m247 0h0m-323 1h0m44 0h0m35 0h0m-103 1h0m40 0h0m0 1h0m-17 1h0m30 0h0m-74 1h0m77 0h0m4 0h0m43 0h0m-137 1h0m19 0h0m7 0h0m17 0h0m149 0h0m-173 1h0m18 0h0m30 0h0m0 0h0m-6 1h0m10 0h0m13 0h0m8 0h0m-21 1h0m4 0h0m-73 1h0m58 1h0m21 1h0m-74 1h0m2 0h0m10 0h0m8 0h0m30 0h0m102 0h0m-67 1h0m-49 1h0m23 0h0m13 0h0m-51 1h0m20 0h0m22 1h0m0 1h0m47 1h0m-30 1h0m29 0h0m-102 1h0m68 0h0m-63 1h0m57 0h0m39 0h0m-102 1h0m-5 1h0m15 0h0m31 0h0m17 1h0m39 0h0m-17 1h0m-33 1h0m0 1h0m57 0h0m-108 1h0m7 0h0m6 0h0m47 0h0m-31 1h0m91 0h0m-88 1h0m3 1h0m75 1h0m-86 1h0m16 0h0m38 1h0m-16 1h0m2 0h0m17 0h0m17 0h0m-87 1h0m34 3h0m22 0h0m-32 1h0m2 0h0m12 1h0m31 0h0m-12 1h0m-53 1h0m58 0h0m-28 1h0m22 0h0m29 0h0m-57 1h0m0 0h0m58 0h0m-41 1h0m8 1h0m14 0h0m-56 1h0m38 0h0m9 1h0m21 0h0m10 0h0m-32 1h0m56 0h0m-106 1h0m52 0h0m-22 3h0m-2 1h0m52 0h0m-58 1h0m34 0h0m30 0h0m-72 1h0m34 0h0m78 1h0m-1 1h0m-82 4h0m48 2h0m131 11h0m-7 18h0m-25 10h0m-189 20h0m-81 10h0"/>
<path stroke="#d6a20e" d="M1231 58h0m5 0h0m-18 3h0m-20 33h0m1 0h0m-14 1h0m3 0h0m5 0h0m2 0h0m8 0h0m-2 4h0m-19 2h0m10 0h0m7 4h0m-10 2h0m20 8h0m2 2h0m2 1h0m43 1h0m-41 2h0m9 0h0m-14 2h0m13 2h0m1 1h0m-5 3h0m-10 2h0m10 8h0m-9 1h0m7 3h0m2 2h0m6 1h0m-2 1h0m11 0h0m-15 1h0m-4 2h0m13 0h0m-4 1h0m-2 1h0m6 0h0m-11 1h0m6 1h0m62 0h0m-59 1h0m-1 3h0m-3 1h0m8 3h0m-5 3h0m70 3h0m-53 2h0m93 3h0m128 1h0m-230 1h0m221 0h0m-126 1h0m128 0h0m-9 1h0m-204 2h0m217 1h0m-214 2h0m206 0h0m3 0h0m-208 4h0m1 1h0m220 1h0m-233 1h0m10 1h0m-8 1h0m18 0h0m213 0h0m-221 2h0m3 0h0m205 0h0m0 0h0m-205 1h0m111 1h0m93 0h0m-204 2h0m197 0h0m-208 1h0m144 0h0m-48 2h0m135 0h0m-219 3h0m94 0h0m-101 2h0m-2 1h0m11 0h0m1 0h0m74 3h0m17 1h0m53 0h0m-138 1h0m5 1h0m4 0h0m4 0h0m48 0h0m-53 1h0m49 0h0m90 0h0m-140 1h0m205 1h0m-186 2h0m109 0h0m14 0h0m-138 1h0m1 0h0m1 0h0m127 0h0m-136 1h0m91 0h0m-86 2h0m7 0h0m13 0h0m116 0h0m-146 2h0m8 0h0m28 0h0m-22 2h0m152 0h0m43 1h0m-218 1h0m28 0h0m-4 1h0m15 0h0m-14 1h0m15 0h0m-13 1h0m2 0h0m122 0h0m61 0h0m-208 1h0m33 0h0m4 1h0m5 0h0m141 0h0m20 0h0m-204 1h0m31 0h0m153 0h0m62 0h0m-241 1h0m3 0h0m-7 1h0m8 0h0m20 0h0m143 1h0m-169 1h0m62 0h0m93 0h0m-158 1h0m14 0h0m242 0h0m-238 1h0m22 0h0m129 1h0m127 0h0m-107 1h0m-166 1h0m-15 1h0m10 0h0m203 0h0m-209 1h0m25 1h0m1 0h0m-35 1h0m42 0h0m2 0h0m162 0h0m-193 1h0m23 0h0m183 0h0m-219 1h0m96 0h0m-98 1h0m6 1h0m17 0h0m7 0h0m26 0h0m-46 1h0m4 0h0m192 0h0m-177 1h0m6 0h0m7 0h0m131 0h0m-152 1h0m25 0h0m164 1h0m-119 1h0m41 0h0m9 0h0m-127 1h0m21 0h0m22 0h0m346 1h0m-401 1h0m6 0h0m47 1h0m338 0h0m12 0h0m-381 1h0m41 0h0m5 1h0m15 0h0m105 0h0m-162 1h0m21 0h0m24 0h0m314 0h0m-163 1h0m-152 1h0m92 0h0m256 0h0m-424 1h0m44 0h0m172 0h0m209 1h0m-383 1h0m51 0h0m319 1h0m-363 1h0m94 0h0m289 0h0m-28 1h0m14 0h0m13 0h0m-420 1h0m25 0h0m32 0h0m81 0h0m-132 1h0m3 0h0m1 0h0m23 0h0m373 0h0m15 0h0m-393 1h0m13 0h0m352 0h0m32 0h0m-405 1h0m52 0h0m160 0h0m4 0h0m176 0h0m-404 1h0m32 0h0m37 0h0m307 0h0m20 1h0m-412 1h0m19 0h0m18 0h0m7 0h0m371 0h0m-314 1h0m320 0h0m-411 1h0m14 0h0m366 0h0m7 0h0m3 0h0m-382 1h0m78 0h0m299 0h0m-314 1h0m11 0h0m327 0h0m-427 1h0m409 0h0m-409 1h0m20 0h0m2 0h0m8 1h0m19 0h0m34 0h0m348 0h0m-371 1h0m42 0h0m3 0h0m91 0h0m56 0h0m-209 1h0m55 0h0m112 0h0m189 0h0m22 1h0m-414 1h0m396 0h0m12 0h0m-399 1h0m15 0h0m147 0h0m35 0h0m31 0h0m-223 1h0m72 0h0m26 0h0m113 0h0m-173 1h0m4 0h0m9 0h0m69 0h0m44 0h0m-181 1h0m33 1h0m1 0h0m37 0h0m38 0h0m-117 1h0m1 0h0m72 0h0m22 0h0m17 0h0m106 0h0m-188 1h0m53 0h0m142 0h0m4 0h0m-223 2h0m15 0h0m30 0h0m21 0h0m-78 1h0m3 0h0m83 0h0m-84 1h0m51 0h0m-55 1h0m49 0h0m8 0h0m11 0h0m29 0h0m146 0h0m-240 1h0m4 0h0m8 0h0m42 0h0m39 0h0m2 0h0m86 0h0m57 0h0m-238 1h0m27 0h0m28 1h0m44 0h0m71 0h0m-120 1h0m5 0h0m4 0h0m-47 1h0m46 0h0m135 0h0m-165 1h0m42 0h0m66 0h0m-139 1h0m2 0h0m51 0h0m8 0h0m1 0h0m5 0h0m68 0h0m-100 1h0m18 0h0m192 0h0m-228 1h0m10 0h0m3 0h0m1 0h0m5 0h0m134 0h0m-102 1h0m-48 1h0m38 0h0m239 0h0m-279 1h0m18 0h0m7 0h0m23 0h0m328 0h0m-348 1h0m6 0h0m11 0h0m187 0h0m-234 1h0m7 0h0m0 0h0m4 0h0m10 0h0m-38 1h0m8 0h0m82 0h0m10 0h0m-106 1h0m51 0h0m2 0h0m48 0h0m18 0h0m21 0h0m-117 1h0m47 0h0m5 0h0m17 0h0m12 2h0m6 0h0m41 0h0m-157 1h0m26 0h0m13 0h0m-27 1h0m51 0h0m12 0h0m-82 1h0m41 0h0m24 0h0m63 0h0m199 0h0m-321 1h0m25 0h0m29 0h0m19 0h0m13 0h0m50 0h0m-106 1h0m16 0h0m7 0h0m221 0h0m36 0h0m-307 1h0m16 0h0m1 0h0m22 0h0m275 0h0m-266 1h0m8 0h0m172 0h0m-229 1h0m27 0h0m26 0h0m184 0h0m-207 1h0m284 0h0m-295 1h0m34 0h0m4 0h0m20 0h0m49 0h0m-92 1h0m4 0h0m98 0h0m98 0h0m-168 1h0m127 0h0m-201 1h0m44 0h0m22 0h0m7 0h0m31 0h0m5 0h0m35 0h0m-129 1h0m3 0h0m11 0h0m42 0h0m0 1h0m16 0h0m-53 1h0m20 0h0m15 0h0m10 0h0m1 0h0m-33 1h0m44 0h0m-49 1h0m16 0h0m2 0h0m80 0h0m9 0h0m-144 1h0m25 0h0m39 0h0m-8 1h0m7 0h0m54 0h0m118 0h0m-99 1h0m-130 2h0m22 0h0m8 0h0m39 0h0m2 0h0m-76 1h0m10 0h0m20 0h0m46 0h0m27 0h0m46 0h0m-101 1h0m15 0h0m29 0h0m46 0h0m-99 1h0m-19 1h0m36 0h0m31 0h0m32 0h0m5 0h0m3 0h0m-86 1h0m3 0h0m-38 1h0m33 0h0m30 0h0m1 0h0m44 0h0m21 0h0m-134 1h0m32 0h0m26 0h0m20 0h0m22 0h0m-49 1h0m6 0h0m8 0h0m-38 1h0m10 0h0m13 0h0m32 1h0m10 0h0m37 0h0m-94 1h0m39 0h0m38 0h0m-87 1h0m34 0h0m19 0h0m-66 1h0m18 0h0m24 0h0m8 0h0m35 0h0m-93 1h0m28 0h0m199 0h0m-214 1h0m21 0h0m18 0h0m13 0h0m3 0h0m37 0h0m12 0h0m-76 1h0m8 0h0m31 0h0m40 0h0m6 0h0m13 0h0m-98 1h0m10 0h0m0 0h0m17 0h0m80 0h0m-136 1h0m48 0h0m8 0h0m58 0h0m-96 1h0m35 0h0m130 0h0m-99 1h0m129 0h0m-212 1h0m70 0h0m-10 1h0m154 0h0m-226 1h0m38 0h0m38 0h0m19 0h0m-50 1h0m-29 1h0m12 0h0m6 0h0m27 0h0m6 0h0m20 0h0m-67 1h0m11 0h0m85 1h0m-115 1h0m94 0h0m3 0h0m8 0h0m-101 2h0m1 0h0m92 0h0m-37 1h0m33 0h0m-18 1h0m19 0h0m-56 1h0m27 0h0m49 0h0m-86 1h0m23 0h0m5 0h0m29 0h0m17 0h0m8 0h0m32 0h0m-95 1h0m8 0h0m-1 1h0m18 0h0m30 0h0m-96 1h0m8 0h0m51 0h0m1 0h0m8 0h0m-59 1h0m11 0h0m249 0h0m-261 1h0m26 1h0m35 0h0m14 0h0m36 0h0m-118 1h0m26 0h0m6 0h0m2 0h0m31 0h0m13 0h0m147 0h0m-228 1h0m72 0h0m58 0h0m-113 1h0m21 0h0m51 0h0m22 0h0m-107 1h0m3 0h0m59 0h0m8 0h0m1 0h0m61 0h0m-99 1h0m26 0h0m78 0h0m-84 1h0m7 0h0m68 0h0m-100 1h0m4 0h0m19 0h0m26 0h0m85 0h0m-154 1h0m73 0h0m8 0h0m-39 1h0m55 0h0m-35 1h0m20 0h0m19 0h0m27 0h0m-53 1h0m-74 1h0m39 0h0m18 0h0m20 0h0m3 0h0m-65 1h0m39 0h0m0 0h0m15 0h0m1 0h0m20 0h0m13 0h0m135 0h0m-248 1h0m24 0h0m34 0h0m-38 2h0m8 0h0m25 0h0m166 0h0m-206 1h0m32 0h0m-39 1h0m36 0h0m3 0h0m38 0h0m-82 1h0m4 0h0m23 0h0m48 0h0m5 0h0m-43 1h0m61 0h0m3 0h0m0 0h0m10 0h0m-105 1h0m48 0h0m23 0h0m-53 1h0m6 0h0m39 0h0m7 0h0m2 0h0m14 0h0m-36 1h0m88 0h0m-63 1h0m28 0h0m30 0h0m105 0h0m-237 1h0m3 0h0m26 0h0m65 0h0m-98 1h0m15 0h0m12 0h0m35 0h0m38 0h0m-90 1h0m34 0h0m-21 1h0m-16 1h0m55 0h0m11 0h0m1 0h0m0 0h0m19 1h0m-89 1h0m60 0h0m22 0h0m100 0h0m-126 1h0m8 0h0m4 1h0m10 0h0m-26 1h0m22 0h0m7 0h0m-77 1h0m14 0h0m1 0h0m45 0h0m10 0h0m-41 1h0m30 1h0m38 0h0m110 0h0m-144 1h0m3 0h0m-23 1h0m47 0h0m15 0h0m7 0h0m-116 1h0m16 0h0m41 0h0m-29 1h0m25 0h0m72 0h0m-6 1h0m-107 1h0m192 0h0m134 0h0m-266 1h0m10 0h0m18 0h0m-93 1h0m8 0h0m8 0h0m61 0h0m-48 1h0m51 0h0m44 0h0m-114 1h0m40 0h0m45 0h0m-100 1h0m7 0h0m13 0h0m24 0h0m-44 1h0m80 0h0m21 0h0m-38 1h0m57 0h0m-115 1h0m83 0h0m11 0h0m125 0h0m-200 1h0m16 0h0m37 0h0m2 0h0m-81 1h0m20 0h0m24 0h0m45 0h0m12 0h0m-65 1h0m26 0h0m2 0h0m-63 1h0m50 0h0m68 0h0m-82 1h0m291 1h0m-297 1h0m17 0h0m18 0h0m3 0h0m8 0h0m23 0h0m-93 1h0m15 0h0m1 0h0m65 0h0m-76 2h0m49 0h0m8 0h0m14 0h0m-45 1h0m29 0h0m42 0h0m3 0h0m-74 1h0m-20 1h0m61 0h0m2 0h0m27 0h0m4 0h0m-96 1h0m60 0h0m37 0h0m-86 1h0m12 0h0m71 0h0m-97 1h0m64 0h0m-26 1h0m29 0h0m-34 1h0m31 1h0m-34 1h0m46 1h0m-63 1h0m84 0h0m3 0h0m-92 1h0m6 0h0m12 0h0m60 0h0m-38 1h0m25 0h0m18 0h0m3 0h0m-83 1h0m89 0h0m-73 1h0m111 0h0m71 0h0m-124 2h0m-29 1h0m18 0h0m9 0h0m-70 1h0m52 0h0m28 0h0m-49 1h0m4 0h0m-31 3h0m15 2h0m58 1h0m-38 2h0m24 2h0m-42 5h0m43 7h0m-34 12h0m51 5h0m125 3h0m-134 7h0m74 6h0m-46 1h0m-77 7h0m26 47h0"/>
<path stroke="#124d8c" d="M1229 48h0m-6 5h0m10 0h0m0 0h0m1 2h0m8 0h0m-27 1h0m2 1h0m7 0h0m10 0h0m6 0h0m0 2h0m12 0h0m5 1h0m-27 1h0m9 0h0m0 0h0m8 0h0m3 0h0m-40 1h0m46 0h0m-18 1h0m8 0h0m9 0h0m-44 1h0m-2 3h0m3 4h0m2 2h0m52 0h0m-54 6h0m1 0h0m-29 3h0m12 4h0m-11 1h0m18 1h0m51 0h0m-73 2h0m16 0h0m-8 1h0m-2 2h0m49 1h0m63 0h0m-94 1h0m7 1h0m65 1h0m-65 2h0m22 1h0m44 0h0m-62 1h0m62 4h0m-63 1h0m3 2h0m64 0h0m-60 1h0m104 0h0m-99 2h0m73 0h0m10 0h0m-92 2h0m31 0h0m11 0h0m-8 1h0m-40 3h0m41 0h0m36 0h0m-56 1h0m-25 2h0m21 1h0m50 0h0m13 0h0m9 0h0m-70 2h0m49 0h0m4 2h0m3 0h0m-54 2h0m39 0h0m-35 1h0m8 1h0m-15 1h0m5 0h0m-2 2h0m4 4h0m58 2h0m-51 1h0m-8 2h0m116 3h0m-109 2h0m31 1h0m-20 3h0m-11 1h0m0 0h0m38 0h0m-35 1h0m6 1h0m-5 3h0m-9 1h0m60 0h0m-5 1h0m13 0h0m-84 1h0m26 0h0m32 0h0m26 0h0m-59 1h0m39 0h0m25 1h0m-68 1h0m33 0h0m13 0h0m-35 1h0m1 0h0m44 0h0m1 0h0m-65 1h0m19 0h0m-2 2h0m-8 4h0m36 0h0m10 0h0m7 0h0m15 0h0m-2 1h0m-53 1h0m65 0h0m-62 1h0m19 0h0m-31 1h0m15 1h0m28 0h0m-24 1h0m76 0h0m115 0h0m-193 1h0m20 0h0m-32 1h0m55 0h0m60 0h0m52 0h0m-174 1h0m84 0h0m12 0h0m37 0h0m-36 2h0m-39 2h0m-48 1h0m46 0h0m-17 1h0m44 0h0m-75 1h0m5 0h0m91 0h0m126 0h0m-213 1h0m88 0h0m-96 1h0m11 0h0m25 1h0m51 0h0m24 0h0m-94 1h0m-11 1h0m40 0h0m-28 1h0m34 0h0m8 0h0m165 0h0m-220 1h0m96 0h0m-89 1h0m8 0h0m80 0h0m21 0h0m-102 1h0m9 0h0m8 0h0m44 0h0m-65 1h0m15 1h0m11 1h0m97 0h0m-123 1h0m20 0h0m39 0h0m12 0h0m145 0h0m-209 1h0m198 0h0m6 0h0m-201 1h0m99 0h0m-53 1h0m41 0h0m16 0h0m74 0h0m31 0h0m-245 1h0m138 0h0m22 0h0m-128 1h0m15 0h0m22 0h0m162 0h0m-207 1h0m11 1h0m85 0h0m0 0h0m52 0h0m53 0h0m21 0h0m3 0h0m4 0h0m15 0h0m-241 1h0m4 0h0m50 0h0m104 0h0m-66 1h0m125 0h0m45 0h0m-227 1h0m18 0h0m42 0h0m-84 1h0m7 0h0m15 0h0m79 0h0m116 0h0m-171 1h0m148 0h0m2 0h0m12 0h0m-87 1h0m81 0h0m9 0h0m-234 1h0m30 0h0m1 0h0m253 0h0m-178 1h0m64 0h0m-85 1h0m89 0h0m35 0h0m16 0h0m16 0h0m33 0h0m6 0h0m-273 1h0m23 0h0m30 0h0m17 0h0m158 0h0m7 0h0m-216 1h0m180 0h0m-126 1h0m59 0h0m14 0h0m99 0h0m-186 1h0m165 0h0m68 0h0m-272 1h0m21 0h0m75 0h0m38 0h0m91 0h0m11 0h0m-71 1h0m51 0h0m36 0h0m-209 1h0m82 0h0m3 0h0m38 0h0m53 0h0m11 0h0m14 0h0m18 0h0m1 0h0m-255 1h0m20 0h0m63 0h0m27 0h0m35 0h0m120 0h0m-269 1h0m71 0h0m60 0h0m-88 1h0m71 0h0m38 0h0m41 0h0m5 0h0m43 0h0m18 0h0m-184 1h0m46 0h0m-73 1h0m53 0h0m53 0h0m20 0h0m41 0h0m-66 1h0m40 0h0m61 0h0m5 0h0m-189 1h0m2 0h0m7 0h0m122 0h0m37 0h0m38 0h0m-129 1h0m8 0h0m63 0h0m44 0h0m-142 1h0m13 0h0m36 0h0m-153 1h0m24 0h0m48 0h0m20 0h0m8 0h0m26 0h0m34 0h0m-117 1h0m54 1h0m10 0h0m7 0h0m-17 1h0m83 0h0m82 0h0m-231 1h0m115 0h0m17 0h0m10 1h0m43 0h0m91 0h0m-269 1h0m63 0h0m5 1h0m118 0h0m-221 1h0m7 0h0m6 0h0m209 0h0m-153 1h0m2 0h0m11 0h0m46 0h0m24 0h0m86 0h0m77 0h0m-170 1h0m85 0h0m5 0h0m9 0h0m-234 1h0m11 0h0m29 0h0m172 0h0m-164 1h0m104 0h0m5 0h0m96 0h0m40 0h0m-264 1h0m-26 1h0m7 0h0m287 0h0m-300 1h0m1 0h0m28 0h0m276 0h0m-277 1h0m177 0h0m-98 1h0m-80 1h0m36 0h0m41 0h0m54 0h0m-142 1h0m140 0h0m68 0h0m-106 1h0m169 0h0m-290 1h0m7 0h0m34 0h0m9 0h0m65 0h0m239 0h0m-342 1h0m26 0h0m75 0h0m-81 1h0m1 0h0m36 0h0m52 0h0m0 0h0m19 0h0m5 0h0m212 0h0m-271 1h0m12 0h0m12 0h0m39 0h0m189 0h0m-164 1h0m11 0h0m-87 1h0m33 0h0m20 0h0m11 0h0m132 0h0m-122 1h0m16 0h0m-159 1h0m27 0h0m8 0h0m44 0h0m12 0h0m53 0h0m41 0h0m159 0h0m-214 1h0m166 0h0m45 0h0m-336 1h0m36 0h0m9 0h0m-55 1h0m92 0h0m1 0h0m6 0h0m168 0h0m69 0h0m-301 1h0m9 0h0m286 0h0m-327 1h0m16 0h0m66 0h0m19 0h0m104 0h0m6 0h0m108 0h0m-177 1h0m98 0h0m87 0h0m-214 1h0m5 0h0m-119 1h0m30 0h0m5 0h0m42 0h0m126 0h0m-166 1h0m20 0h0m48 0h0m122 0h0m-257 1h0m6 0h0m30 0h0m2 0h0m57 0h0m91 0h0m3 0h0m1 0h0m195 0h0m-365 1h0m44 0h0m8 0h0m47 1h0m-28 1h0m206 0h0m62 0h0m33 0h0m-388 1h0m79 0h0m96 0h0m-125 1h0m10 0h0m35 0h0m20 0h0m35 0h0m30 0h0m34 0h0m56 0h0m-207 1h0m14 0h0m21 0h0m-72 1h0m77 0h0m40 0h0m40 0h0m38 0h0m107 0h0m15 0h0m-317 1h0m166 0h0m-196 1h0m78 0h0m29 0h0m0 0h0m-91 1h0m46 0h0m39 0h0m17 0h0m7 0h0m11 0h0m69 0h0m12 0h0m-188 1h0m18 0h0m83 0h0m257 0h0m3 0h0m-255 1h0m46 0h0m116 0h0m58 0h0m-344 1h0m67 0h0m21 0h0m280 0h0m-360 1h0m26 0h0m31 0h0m24 0h0m125 0h0m-144 1h0m35 0h0m227 0h0m9 0h0m-291 1h0m102 0h0m40 0h0m151 0h0m1 0h0m18 0h0m-333 1h0m68 0h0m-45 1h0m14 0h0m11 0h0m9 0h0m5 0h0m18 0h0m10 0h0m17 0h0m31 0h0m10 0h0m16 0h0m8 0h0m166 0h0m-451 1h0m86 0h0m86 0h0m4 0h0m64 0h0m45 0h0m19 0h0m-222 1h0m140 0h0m14 0h0m141 0h0m-251 1h0m38 0h0m70 0h0m197 0h0m13 0h0m1 0h0m-364 1h0m62 0h0m47 0h0m74 0h0m24 0h0m-87 1h0m55 0h0m15 0h0m151 0h0m23 0h0m-329 1h0m23 0h0m69 0h0m-94 1h0m29 0h0m16 0h0m0 0h0m3 0h0m31 0h0m229 0h0m-193 1h0m30 0h0m49 0h0m-190 1h0m106 0h0m17 0h0m53 0h0m64 0h0m-222 1h0m50 0h0m26 0h0m49 0h0m34 0h0m8 0h0m-142 1h0m19 0h0m59 0h0m47 0h0m17 0h0m9 0h0m30 0h0m5 0h0m-272 1h0m50 0h0m192 0h0m-234 1h0m5 0h0m88 0h0m36 0h0m7 0h0m83 0h0m4 0h0m-138 1h0m33 0h0m31 0h0m-148 1h0m116 0h0m3 0h0m8 0h0m17 0h0m10 0h0m11 0h0m10 0h0m16 0h0m24 0h0m65 0h0m-228 1h0m43 0h0m17 0h0m49 0h0m12 0h0m-270 1h0m117 0h0m37 0h0m92 0h0m33 0h0m21 0h0m-139 1h0m67 0h0m17 0h0m82 0h0m-168 1h0m5 0h0m23 0h0m25 0h0m31 0h0m12 0h0m24 0h0m140 0h0m-415 1h0m166 0h0m147 0h0m-219 1h0m66 0h0m15 0h0m133 0h0m5 0h0m11 0h0m-123 1h0m30 0h0m-194 1h0m47 0h0m51 0h0m59 0h0m69 0h0m6 0h0m28 0h0m51 0h0m-200 1h0m22 0h0m21 0h0m192 0h0m-379 1h0m211 0h0m10 0h0m15 0h0m32 0h0m6 0h0m-278 1h0m78 0h0m33 0h0m59 0h0m14 0h0m181 0h0m49 0h0m-212 1h0m92 0h0m11 0h0m-144 1h0m0 0h0m-40 1h0m30 0h0m3 0h0m54 0h0m48 0h0m46 0h0m-141 1h0m2 0h0m15 0h0m19 0h0m66 0h0m17 0h0m22 0h0m-205 1h0m65 0h0m22 0h0m0 0h0m19 0h0m107 0h0m25 0h0m-302 1h0m109 0h0m2 0h0m115 0h0m-190 1h0m51 0h0m23 0h0m40 0h0m35 0h0m35 0h0m11 0h0m6 0h0m-217 1h0m115 0h0m7 0h0m9 0h0m-100 1h0m50 0h0m36 0h0m3 0h0m27 0h0m15 0h0m18 0h0m133 0h0m-237 1h0m72 0h0m22 0h0m52 0h0m3 0h0m6 0h0m-193 1h0m47 0h0m44 0h0m45 0h0m3 0h0m0 0h0m4 0h0m9 0h0m157 0h0m-410 1h0m187 0h0m6 0h0m33 0h0m20 0h0m18 0h0m14 0h0m22 0h0m28 0h0m3 0h0m11 0h0m65 0h0m-344 1h0m34 0h0m85 0h0m15 0h0m-58 1h0m36 0h0m23 0h0m109 0h0m16 0h0m-155 1h0m7 0h0m3 0h0m1 0h0m44 0h0m1 0h0m31 0h0m2 0h0m128 0h0m24 0h0m-160 1h0m45 0h0m-142 1h0m15 0h0m29 0h0m31 0h0m2 0h0m72 0h0m2 0h0m2 0h0m18 0h0m-183 1h0m39 0h0m56 0h0m14 0h0m62 0h0m9 0h0m-156 1h0m47 0h0m64 0h0m10 0h0m11 0h0m13 0h0m-146 1h0m3 0h0m3 0h0m92 0h0m10 0h0m5 0h0m13 0h0m-209 1h0m17 0h0m23 0h0m29 0h0m10 0h0m22 0h0m25 0h0m55 0h0m13 0h0m-157 1h0m27 0h0m25 0h0m65 0h0m55 0h0m-185 1h0m35 0h0m43 0h0m24 0h0m44 0h0m30 0h0m-82 1h0m3 0h0m1 0h0m12 0h0m48 0h0m17 0h0m50 0h0m-257 1h0m25 0h0m4 0h0m67 0h0m174 0h0m-263 1h0m4 0h0m43 0h0m32 0h0m16 0h0m25 0h0m-66 1h0m17 0h0m78 0h0m22 0h0m29 0h0m63 0h0m-215 1h0m23 0h0m52 0h0m17 0h0m9 0h0m13 0h0m25 0h0m-151 1h0m29 0h0m26 0h0m3 0h0m30 0h0m38 0h0m15 0h0m23 0h0m-91 1h0m62 0h0m24 0h0m2 0h0m-111 1h0m57 0h0m63 0h0m21 0h0m-143 1h0m12 0h0m89 0h0m-99 1h0m58 0h0m-112 1h0m53 0h0m1 0h0m55 0h0m40 0h0m25 0h0m8 0h0m2 0h0m-170 1h0m90 0h0m7 0h0m10 0h0m20 0h0m3 0h0m-185 1h0m40 0h0m112 0h0m2 0h0m10 0h0m13 0h0m-182 1h0m169 0h0m5 0h0m-148 1h0m40 0h0m58 0h0m34 0h0m64 0h0m5 0h0m0 0h0m-286 1h0m219 0h0m24 0h0m18 0h0m7 0h0m-196 1h0m109 0h0m45 0h0m47 0h0m49 0h0m-188 1h0m1 0h0m13 0h0m15 0h0m13 0h0m31 0h0m68 0h0m-204 1h0m3 0h0m97 0h0m12 0h0m2 0h0m7 0h0m99 0h0m-294 1h0m76 0h0m115 0h0m7 0h0m7 0h0m44 0h0m17 0h0m14 0h0m-125 1h0m75 0h0m26 0h0m-195 1h0m14 0h0m0 0h0m1 0h0m94 0h0m114 0h0m10 0h0m-155 1h0m37 0h0m4 0h0m7 0h0m5 0h0m53 0h0m29 0h0m-156 1h0m7 0h0m10 0h0m25 0h0m24 0h0m24 0h0m50 0h0m2 0h0m-151 1h0m23 0h0m57 0h0m78 0h0m26 0h0m-223 1h0m19 0h0m23 0h0m49 0h0m43 0h0m1 0h0m68 0h0m2 0h0m2 0h0m63 0h0m-278 1h0m134 0h0m6 0h0m23 0h0m3 0h0m25 0h0m28 0h0m6 0h0m-224 1h0m86 0h0m8 0h0m5 0h0m-13 1h0m19 0h0m17 0h0m37 0h0m7 0h0m3 0h0m9 0h0m14 0h0m19 0h0m-192 1h0m70 0h0m3 0h0m47 0h0m60 0h0m25 0h0m-123 1h0m46 0h0m15 0h0m20 0h0m11 0h0m-143 1h0m227 0h0m-195 1h0m2 0h0m19 0h0m12 0h0m3 0h0m18 0h0m105 0h0m-236 1h0m4 0h0m34 0h0m2 0h0m56 0h0m84 0h0m27 0h0m10 0h0m4 0h0m-192 1h0m147 0h0m-180 1h0m108 0h0m10 0h0m72 0h0m2 0h0m21 0h0m-145 1h0m71 0h0m17 0h0m1 0h0m35 0h0m28 0h0m-139 1h0m52 0h0m54 0h0m50 0h0m39 0h0m-182 1h0m8 0h0m36 0h0m15 0h0m8 0h0m51 0h0m-192 1h0m76 0h0m1 0h0m10 0h0m32 0h0m114 0h0m-247 1h0m206 0h0m-215 1h0m31 0h0m5 0h0m7 0h0m78 0h0m26 0h0m3 0h0m5 0h0m32 0h0m-133 1h0m50 0h0m1 0h0m63 0h0m2 0h0m9 0h0m27 0h0m59 0h0m-263 1h0m1 0h0m11 0h0m51 0h0m24 0h0m24 0h0m3 0h0m11 0h0m13 0h0m3 0h0m10 0h0m15 0h0m26 0h0m16 0h0m4 0h0m-209 1h0m140 0h0m66 0h0m-106 1h0m32 0h0m1 0h0m42 0h0m16 0h0m24 0h0m8 0h0m46 0h0m-248 1h0m58 0h0m36 0h0m90 0h0m-204 1h0m1 0h0m24 0h0m56 0h0m26 0h0m-118 1h0m10 0h0m42 0h0m25 0h0m33 0h0m19 0h0m3 0h0m57 0h0m9 0h0m14 0h0m3 0h0m-209 1h0m5 0h0m2 0h0m28 0h0m47 0h0m3 0h0m51 0h0m16 0h0m24 0h0m-224 1h0m89 0h0m74 0h0m41 0h0m110 0h0m-269 1h0m62 0h0m36 0h0m10 0h0m12 0h0m-94 1h0m73 0h0m41 0h0m68 0h0m71 0h0m-147 1h0m32 0h0m94 0h0m-297 1h0m39 0h0m40 0h0m1 0h0m10 0h0m93 0h0m11 0h0m17 0h0m30 0h0m24 0h0m69 0h0m-196 1h0m44 0h0m41 0h0m2 0h0m-69 1h0m4 0h0m17 0h0m4 0h0m25 0h0m12 0h0m1 0h0m27 0h0m-207 1h0m6 0h0m1 0h0m13 0h0m11 0h0m27 0h0m55 0h0m44 0h0m28 0h0m15 0h0m88 0h0m-234 1h0m107 0h0m-166 1h0m9 0h0m17 0h0m84 0h0m31 0h0m6 0h0m27 0h0m-169 1h0m17 0h0m51 0h0m23 0h0m45 0h0m42 0h0m6 0h0m6 0h0m42 0h0m-56 1h0m13 0h0m30 0h0m-132 1h0m101 0h0m117 0h0m-282 1h0m11 0h0m8 0h0m57 0h0m72 0h0m53 0h0m84 0h0m-259 1h0m69 0h0m4 0h0m0 0h0m2 0h0m83 0h0m5 0h0m90 0h0m-278 1h0m132 0h0m76 0h0m40 0h0m9 0h0m-280 1h0m118 0h0m51 0h0m3 0h0m33 0h0m43 0h0m-223 1h0m83 0h0m8 0h0m24 0h0m10 0h0m13 0h0m11 0h0m110 0h0m-182 1h0m10 0h0m25 0h0m11 0h0m29 0h0m39 0h0m-219 1h0m44 0h0m82 0h0m6 0h0m5 0h0m82 0h0m-96 1h0m7 0h0m41 0h0m7 0h0m7 0h0m7 0h0m52 0h0m-191 1h0m68 0h0m11 0h0m8 0h0m32 0h0m36 0h0m12 0h0m139 0h0m-360 1h0m29 0h0m106 0h0m71 0h0m5 0h0m-146 1h0m56 0h0m1 0h0m33 0h0m45 0h0m69 0h0m38 0h0m-301 1h0m72 0h0m45 0h0m47 0h0m71 0h0m56 0h0m14 0h0m-240 1h0m68 0h0m14 0h0m57 0h0m107 0h0m-201 1h0m11 0h0m5 0h0m6 0h0m8 0h0m18 0h0m-137 1h0m9 0h0m91 0h0m29 0h0m0 0h0m5 0h0m26 0h0m112 0h0m4 0h0m-260 1h0m20 0h0m88 0h0m38 0h0m6 0h0m6 0h0m20 0h0m3 0h0m4 0h0m9 0h0m-104 1h0m2 0h0m27 0h0m-49 1h0m14 0h0m6 0h0m34 0h0m42 0h0m-198 1h0m87 0h0m2 0h0m7 0h0m2 0h0m1 0h0m14 0h0m9 0h0m34 0h0m18 0h0m29 0h0m84 0h0m-266 1h0m68 0h0m27 0h0m29 0h0m9 0h0m22 0h0m51 0h0m6 0h0m10 0h0m15 0h0m-227 1h0m86 0h0m21 0h0m13 0h0m14 0h0m11 0h0m24 0h0m92 0h0m-196 1h0m9 0h0m17 0h0m3 0h0m16 0h0m4 0h0m3 0h0m20 0h0m20 0h0m115 0h0m-286 1h0m89 0h0m20 0h0m31 0h0m35 0h0m-156 1h0m43 0h0m62 0h0m50 0h0m40 0h0m67 0h0m-160 1h0m42 0h0m8 0h0m59 0h0m20 0h0m12 0h0m-245 1h0m45 0h0m25 0h0m31 1h0m12 0h0m64 0h0m160 0h0m-338 1h0m81 0h0m89 0h0m17 0h0m3 0h0m2 0h0m9 0h0m-209 1h0m111 0h0m10 0h0m45 0h0m18 0h0m18 0h0m74 0h0m-198 1h0m1 0h0m12 0h0m17 0h0m29 0h0m124 0h0m-195 1h0m23 0h0m40 0h0m18 0h0m38 0h0m86 0h0m-271 1h0m72 0h0m7 0h0m7 0h0m79 0h0m12 0h0m-72 1h0m2 0h0m0 0h0m26 0h0m1 0h0m22 0h0m7 0h0m9 0h0m101 0h0m-202 1h0m23 0h0m31 0h0m54 0h0m31 0h0m-208 1h0m69 0h0m107 0h0m24 0h0m75 0h0m-253 1h0m112 0h0m41 0h0m2 0h0m13 0h0m17 0h0m1 0h0m20 0h0m-262 1h0m7 0h0m76 0h0m18 0h0m104 0h0m8 0h0m18 0h0m-164 1h0m42 0h0m19 0h0m96 0h0m19 0h0m-249 1h0m166 0h0m18 0h0m13 0h0m30 0h0m8 0h0m84 0h0m-269 2h0m18 0h0m31 0h0m3 0h0m6 0h0m17 0h0m22 0h0m-167 1h0m22 0h0m75 0h0m38 0h0m52 0h0m36 0h0m30 0h0m32 0h0m5 0h0m43 0h0m-310 1h0m87 0h0m31 0h0m9 0h0m34 0h0m-109 1h0m30 0h0m33 0h0m16 0h0m4 0h0m29 0h0m43 0h0m-159 1h0m68 0h0m-143 1h0m147 0h0m38 0h0m39 0h0m-116 1h0m10 1h0m12 0h0m16 0h0m46 0h0m23 0h0m20 0h0m-117 1h0m8 0h0m84 0h0m9 0h0m-147 1h0m43 0h0m82 0h0m9 0h0m27 0h0m33 0h0m-232 1h0m46 0h0m49 0h0m97 0h0m-193 1h0m25 0h0m1 0h0m15 0h0m107 0h0m41 0h0m16 0h0m3 0h0m-206 1h0m34 0h0m34 0h0m1 0h0m31 0h0m3 0h0m49 0h0m49 0h0m-103 1h0m91 0h0m4 0h0m-201 1h0m13 0h0m86 0h0m7 0h0m46 0h0m-75 1h0m15 0h0m98 1h0m-171 1h0m10 0h0m67 0h0m-93 1h0m178 0h0m-103 1h0m8 0h0m10 0h0m53 0h0m30 0h0m26 0h0m6 0h0m-189 1h0m43 0h0m70 0h0m69 0h0m10 0h0m-226 1h0m35 0h0m59 0h0m71 0h0m-158 1h0m31 0h0m62 0h0m94 0h0m20 0h0m5 0h0m6 0h0m-167 1h0m112 0h0m54 0h0m-205 1h0m47 0h0m17 0h0m4 0h0m-15 1h0m55 0h0m22 0h0m44 1h0m28 0h0m14 0h0m-229 1h0m63 0h0m134 0h0m5 0h0m1 0h0m2 0h0m0 0h0m-48 1h0m45 0h0m24 0h0m-209 1h0m22 0h0m28 0h0m31 0h0m54 0h0m16 0h0m54 0h0m9 0h0m-184 1h0m20 0h0m10 0h0m77 0h0m18 0h0m40 0h0m0 0h0m-47 1h0m51 0h0m6 0h0m4 0h0m-210 1h0m32 0h0m27 0h0m39 0h0m9 0h0m77 0h0m2 0h0m24 0h0m-242 1h0m32 0h0m1 0h0m116 0h0m84 0h0m-148 1h0m47 0h0m121 0h0m-241 1h0m38 0h0m52 0h0m16 0h0m68 0h0m35 0h0m-174 1h0m15 0h0m4 0h0m14 0h0m33 0h0m27 0h0m35 0h0m7 0h0m-140 1h0m157 0h0m-139 1h0m29 0h0m12 0h0m33 0h0m9 0h0m54 0h0m0 0h0m22 0h0m-194 1h0m7 0h0m110 0h0m12 0h0m74 0h0m7 0h0m10 0h0m-154 2h0m92 0h0m-109 1h0m16 0h0m19 0h0m4 0h0m79 0h0m9 0h0m37 0h0m8 0h0m4 0h0m-162 1h0m157 0h0m-216 1h0m39 0h0m9 0h0m53 0h0m-96 1h0m137 0h0m8 0h0m59 0h0m3 0h0m-225 1h0m106 0h0m42 0h0m83 0h0m-227 1h0m17 0h0m119 0h0m-121 1h0m3 0h0m34 0h0m9 0h0m41 0h0m19 0h0m76 0h0m17 0h0m2 0h0m-148 1h0m3 0h0m51 0h0m63 0h0m8 0h0m6 0h0m3 0h0m2 0h0m23 0h0m-215 1h0m22 0h0m30 0h0m5 0h0m82 0h0m42 0h0m-125 1h0m24 0h0m38 0h0m-132 1h0m66 0h0m5 0h0m25 0h0m49 0h0m31 0h0m0 0h0m51 0h0m-241 1h0m84 0h0m5 0h0m19 0h0m87 0h0m15 0h0m-104 1h0m22 0h0m81 0h0m3 0h0m3 0h0m2 0h0m-214 1h0m2 0h0m99 0h0m29 0h0m81 0h0m-122 1h0m14 0h0m13 0h0m95 0h0m0 0h0m2 0h0m22 0h0m21 0h0m-226 1h0m124 0h0m3 0h0m61 0h0m-170 1h0m67 0h0m5 0h0m13 0h0m59 0h0m-151 1h0m27 0h0m1 0h0m29 0h0m46 0h0m10 0h0m14 0h0m46 0h0m18 0h0m-278 1h0m72 0h0m29 0h0m29 0h0m155 0h0m-198 1h0m49 0h0m116 0h0m2 0h0m3 0h0m5 0h0m-219 1h0m67 0h0m67 0h0m75 0h0m-164 1h0m29 0h0m2 0h0m9 0h0m26 0h0m15 0h0m55 0h0m50 0h0m-179 1h0m50 0h0m19 0h0m20 0h0m11 0h0m13 0h0m14 0h0m25 0h0m32 0h0m-293 1h0m147 0h0m57 0h0m58 0h0m14 0h0m10 0h0m-132 1h0m0 0h0m5 0h0m14 0h0m21 0h0m4 0h0m82 0h0m-136 1h0m24 0h0m11 0h0m-161 1h0m83 0h0m14 0h0m26 0h0m61 0h0m5 0h0m20 0h0m6 0h0m39 0h0m9 0h0m-152 1h0m51 0h0m14 0h0m38 0h0m4 0h0m1 0h0m24 0h0m-145 1h0m12 0h0m5 0h0m27 0h0m27 0h0m23 0h0m38 0h0m13 0h0m10 0h0m-135 1h0m66 0h0m29 0h0m35 0h0m7 0h0m-124 1h0m29 0h0m2 0h0m44 0h0m61 0h0m9 0h0m-215 1h0m11 0h0m62 0h0m28 0h0m6 0h0m55 0h0m9 0h0m-180 1h0m45 0h0m22 0h0m1 0h0m39 0h0m8 0h0m91 0h0m-167 1h0m14 0h0m41 0h0m8 0h0m31 0h0m-65 1h0m9 0h0m12 0h0m125 0h0m-209 1h0m57 0h0m2 0h0m27 0h0m41 0h0m9 0h0m11 0h0m5 0h0m13 0h0m19 0h0m2 0h0m-189 1h0m10 0h0m56 0h0m82 0h0m29 0h0m11 0h0m2 0h0m-122 1h0m3 0h0m4 0h0m6 0h0m19 0h0m16 0h0m8 0h0m0 0h0m60 0h0m26 0h0m-216 1h0m41 0h0m23 0h0m0 0h0m24 0h0m72 0h0m12 0h0m-114 1h0m9 0h0m4 0h0m55 0h0m5 0h0m3 0h0m5 0h0m34 0h0m1 0h0m33 0h0m9 0h0m-182 1h0m34 0h0m31 0h0m61 0h0m45 0h0m-226 1h0m86 0h0m85 0h0m33 0h0m-152 1h0m79 0h0m91 0h0m-131 1h0m6 0h0m54 0h0m1 0h0m55 0h0m1 0h0m7 0h0m1 0h0m-122 1h0m-89 1h0m59 0h0m11 0h0m6 0h0m0 0h0m58 0h0m2 0h0m44 0h0m0 0h0m8 0h0m16 0h0m-227 1h0m17 0h0m10 0h0m18 0h0m85 0h0m37 0h0m1 0h0m23 0h0m-110 1h0m15 0h0m8 0h0m18 0h0m6 0h0m11 0h0m3 0h0m17 0h0m35 0h0m31 0h0m-168 1h0m53 0h0m3 0h0m29 0h0m31 0h0m3 0h0m12 0h0m6 0h0m30 0h0m5 0h0m-58 1h0m4 0h0m1 0h0m9 0h0m21 0h0m0 0h0m-113 1h0m36 0h0m55 0h0m21 0h0m71 0h0m-348 2h0m105 0h0m9 0h0m65 0h0m25 0h0m8 0h0m15 0h0m38 0h0m18 0h0m89 0h0m-280 1h0m136 0h0m14 0h0m1 0h0m33 0h0m-219 1h0m45 0h0m130 0h0m33 0h0m24 0h0m50 0h0m-225 1h0m43 0h0m2 0h0m70 0h0m-143 1h0m104 0h0m6 0h0m4 0h0m0 0h0m15 0h0m44 0h0m26 0h0m-119 1h0m33 0h0m9 0h0m6 0h0m56 0h0m-210 1h0m49 0h0m9 0h0m28 0h0m83 0h0m9 0h0m32 0h0m-250 1h0m253 0h0m-265 1h0m4 0h0m0 0h0m2 0h0m26 0h0m118 0h0m86 0h0m-126 1h0m33 0h0m52 0h0m1 0h0m24 0h0m-231 1h0m71 0h0m150 0h0m41 0h0m64 0h0m-266 1h0m19 0h0m4 0h0m1 0h0m71 0h0m6 0h0m55 0h0m7 0h0m0 0h0m-175 1h0m199 0h0m5 0h0m16 0h0m-255 1h0m46 0h0m13 0h0m193 0h0m-246 1h0m33 0h0m181 0h0m-228 1h0m34 0h0m14 0h0m20 0h0m-50 1h0m-3 1h0m6 0h0m22 0h0m114 0h0m35 0h0m-164 1h0m-10 1h0m3 0h0m138 0h0m-151 1h0m50 0h0m2 0h0m107 0h0m1 1h0m-148 2h0m14 0h0m-12 1h0m125 0h0m-139 1h0m5 0h0m295 0h0m-290 1h0m21 0h0m140 0h0m54 0h0m-206 1h0m-15 1h0m2 3h0m147 0h0m20 0h0m-41 2h0m11 2h0m-57 1h0m57 0h0m2 1h0m-9 3h0m-49 1h0m3 0h0m64 0h0m-68 1h0m4 0h0m53 1h0m3 0h0m174 0h0m-175 2h0m-58 1h0m72 0h0m-77 1h0m58 0h0m3 0h0m14 2h0m-7 1h0m10 6h0m-15 1h0m0 2h0m13 0h0m-3 2h0m-8 2h0m2 2h0m-5 1h0m10 1h0m-3 3h0m-6 8h0"/>
<path stroke="#d6a20e" d="M1232 52h0m-42 38h0m9 1h0m5 1h0m-7 3h0m6 2h0m-5 3h0m1 0h0m-5 3h0m-7 1h0m11 0h0m8 0h0m-18 2h0m12 0h0m4 0h0m-10 4h0m1 0h0m2 0h0m8 1h0m-6 4h0m-3 1h0m8 2h0m5 3h0m-17 1h0m31 0h0m-13 5h0m6 0h0m-10 1h0m26 3h0m-31 1h0m12 0h0m2 1h0m-4 2h0m8 0h0m5 0h0m-20 3h0m22 0h0m1 1h0m-13 2h0m8 1h0m9 1h0m-17 1h0m12 0h0m3 0h0m-6 1h0m6 4h0m3 0h0m-12 2h0m11 2h0m2 2h0m-6 2h0m9 0h0m75 1h0m-81 2h0m1 1h0m-9 3h0m11 0h0m7 0h0m-4 4h0m211 0h0m4 0h0m-210 5h0m37 1h0m181 0h0m-223 2h0m221 0h0m-215 1h0m90 1h0m123 0h0m-140 2h0m-74 2h0m214 1h0m5 0h0m13 1h0m-154 1h0m46 0h0m-54 3h0m149 0h0m-1 2h0m-75 2h0m78 1h0m-205 3h0m194 0h0m8 0h0m-220 2h0m101 0h0m113 0h0m17 0h0m-220 3h0m205 2h0m-81 1h0m-124 3h0m222 0h0m-219 1h0m20 0h0m2 0h0m79 0h0m-98 1h0m213 0h0m-219 1h0m14 0h0m94 0h0m-107 2h0m-5 1h0m120 0h0m-99 2h0m-9 2h0m22 0h0m115 0h0m-152 2h0m20 0h0m153 0h0m32 3h0m-172 1h0m130 0h0m-142 1h0m2 0h0m15 0h0m82 1h0m-117 1h0m27 0h0m10 0h0m1 0h0m-4 1h0m6 0h0m1 0h0m12 1h0m-37 1h0m22 0h0m5 0h0m139 0h0m-156 1h0m128 0h0m-148 1h0m8 2h0m-11 1h0m170 0h0m-168 1h0m139 1h0m-131 1h0m7 0h0m19 0h0m1 0h0m6 1h0m50 0h0m23 0h0m39 0h0m17 0h0m-128 1h0m175 0h0m-176 1h0m2 0h0m-38 1h0m35 0h0m-33 1h0m37 1h0m79 0h0m-113 1h0m16 0h0m33 0h0m-57 1h0m117 0h0m-107 1h0m32 1h0m120 0h0m4 0h0m-2 1h0m50 0h0m9 0h0m-211 2h0m34 0h0m24 0h0m-58 1h0m29 0h0m27 0h0m3 0h0m52 0h0m44 0h0m-151 1h0m21 0h0m199 0h0m177 0h0m-403 1h0m58 0h0m-60 1h0m16 0h0m2 0h0m6 0h0m0 0h0m24 0h0m70 0h0m106 0h0m-226 1h0m28 0h0m11 0h0m25 0h0m71 1h0m11 0h0m262 0h0m-405 1h0m24 0h0m364 0h0m-368 1h0m58 1h0m51 0h0m274 0h0m-406 1h0m82 0h0m106 0h0m-137 1h0m21 0h0m-51 1h0m16 0h0m22 0h0m9 0h0m1 0h0m10 0h0m9 0h0m-71 1h0m55 0h0m40 0h0m-92 2h0m17 0h0m42 0h0m8 0h0m2 0h0m298 0h0m15 0h0m-397 1h0m21 0h0m10 0h0m35 0h0m329 0h0m-223 1h0m204 0h0m36 0h0m-416 1h0m27 0h0m3 0h0m382 0h0m-411 1h0m2 0h0m380 0h0m22 0h0m-343 1h0m171 1h0m-101 1h0m-19 1h0m293 0h0m2 0h0m-357 1h0m102 0h0m-140 1h0m2 0h0m57 0h0m29 1h0m141 0h0m185 0h0m-409 1h0m163 0h0m205 0h0m-321 1h0m61 0h0m250 0h0m-272 1h0m284 0h0m-382 1h0m66 0h0m-87 1h0m5 0h0m14 0h0m31 0h0m6 0h0m344 0h0m-396 1h0m163 0h0m102 0h0m131 0h0m-367 1h0m126 0h0m-62 1h0m2 0h0m-15 1h0m-65 1h0m1 0h0m27 0h0m2 0h0m95 0h0m22 0h0m-118 1h0m2 0h0m189 0h0m-238 1h0m102 0h0m-85 1h0m2 0h0m87 0h0m-46 1h0m-65 1h0m2 0h0m40 0h0m70 0h0m7 0h0m87 0h0m59 0h0m-218 1h0m56 0h0m314 0h0m-399 1h0m2 0h0m143 0h0m41 0h0m17 0h0m-132 1h0m15 0h0m62 0h0m24 0h0m1 0h0m-170 1h0m37 0h0m-50 1h0m38 0h0m43 0h0m55 0h0m12 0h0m53 0h0m-177 1h0m39 0h0m77 0h0m66 0h0m4 0h0m-213 1h0m8 0h0m25 0h0m8 0h0m49 0h0m-90 1h0m109 0h0m120 0h0m-211 1h0m15 0h0m55 0h0m31 0h0m18 0h0m-126 1h0m-25 1h0m83 0h0m9 0h0m19 0h0m130 0h0m-213 1h0m14 0h0m46 0h0m9 0h0m2 0h0m-85 1h0m22 0h0m6 0h0m26 1h0m-28 1h0m49 0h0m136 0h0m-215 1h0m12 0h0m31 0h0m228 0h0m-277 1h0m5 0h0m5 0h0m3 0h0m50 0h0m36 0h0m30 0h0m-115 1h0m13 0h0m13 0h0m23 0h0m149 0h0m65 0h0m-262 1h0m-24 1h0m40 0h0m31 0h0m2 0h0m15 0h0m-77 1h0m5 0h0m49 0h0m4 0h0m174 0h0m-224 1h0m9 0h0m32 0h0m34 0h0m126 0h0m-183 1h0m13 0h0m8 0h0m-59 1h0m11 0h0m155 0h0m18 0h0m-178 1h0m3 0h0m41 0h0m33 0h0m12 0h0m30 0h0m-85 1h0m38 0h0m-70 1h0m41 0h0m12 0h0m181 0h0m-243 1h0m25 0h0m7 0h0m1 0h0m4 0h0m213 0h0m31 0h0m-280 1h0m1 0h0m28 0h0m15 0h0m6 0h0m196 0h0m-110 1h0m141 0h0m-262 1h0m12 0h0m17 0h0m47 0h0m5 0h0m20 0h0m88 0h0m-177 1h0m9 0h0m1 0h0m15 0h0m13 0h0m14 0h0m3 0h0m59 0h0m42 0h0m83 0h0m-222 1h0m18 0h0m21 0h0m13 0h0m165 0h0m-259 1h0m29 0h0m61 0h0m14 0h0m-110 1h0m49 0h0m12 0h0m-59 1h0m9 0h0m51 0h0m11 0h0m75 0h0m98 0h0m12 0h0m-217 1h0m21 0h0m19 0h0m-75 1h0m59 0h0m15 0h0m14 0h0m12 0h0m113 0h0m-197 1h0m4 0h0m1 0h0m7 0h0m38 0h0m25 0h0m27 0h0m-131 1h0m45 0h0m3 0h0m79 0h0m-118 1h0m36 0h0m10 0h0m55 0h0m2 0h0m-66 1h0m4 0h0m77 0h0m86 0h0m-202 1h0m43 0h0m2 0h0m6 0h0m39 0h0m119 0h0m-185 1h0m84 0h0m36 0h0m102 0h0m-206 1h0m108 0h0m-138 1h0m6 0h0m57 0h0m68 0h0m17 0h0m-161 1h0m14 0h0m14 0h0m19 0h0m112 0h0m-80 1h0m26 0h0m7 0h0m8 0h0m-96 1h0m1 0h0m11 0h0m12 0h0m67 0h0m35 0h0m-150 1h0m50 0h0m0 0h0m10 0h0m-66 1h0m25 0h0m15 0h0m-2 1h0m21 0h0m-31 1h0m2 0h0m5 0h0m17 0h0m-52 1h0m11 0h0m31 0h0m6 0h0m214 0h0m-170 1h0m-70 1h0m25 0h0m7 0h0m26 0h0m-59 1h0m1 0h0m1 0h0m45 0h0m73 0h0m-122 1h0m-13 1h0m59 0h0m91 0h0m-143 1h0m7 0h0m4 0h0m16 0h0m-11 1h0m32 0h0m2 0h0m20 0h0m19 0h0m2 0h0m-103 1h0m32 0h0m65 0h0m4 0h0m62 0h0m-127 1h0m60 0h0m9 0h0m11 0h0m-83 1h0m49 0h0m72 0h0m-147 1h0m4 0h0m2 0h0m14 0h0m15 0h0m5 0h0m63 0h0m34 0h0m-113 1h0m39 0h0m10 0h0m19 0h0m4 0h0m-71 1h0m22 0h0m45 0h0m-94 1h0m42 0h0m15 0h0m23 0h0m3 0h0m64 0h0m-141 1h0m37 0h0m33 0h0m49 0h0m-126 1h0m6 0h0m32 0h0m26 0h0m17 0h0m-50 1h0m3 0h0m15 0h0m5 0h0m17 0h0m26 0h0m-90 1h0m69 0h0m10 0h0m9 0h0m9 0h0m42 0h0m-135 1h0m8 0h0m129 0h0m-141 1h0m8 0h0m36 0h0m-34 1h0m36 0h0m6 0h0m67 0h0m4 0h0m-101 1h0m30 0h0m11 0h0m79 0h0m-140 1h0m74 0h0m31 0h0m-109 1h0m1 0h0m30 0h0m26 0h0m15 0h0m-49 1h0m15 0h0m6 0h0m12 0h0m6 0h0m1 0h0m2 0h0m2 0h0m4 0h0m35 0h0m29 0h0m4 0h0m-97 1h0m47 0h0m13 0h0m46 0h0m-74 1h0m182 0h0m-259 1h0m17 0h0m26 0h0m59 0h0m2 0h0m26 0h0m-125 1h0m2 0h0m20 0h0m4 0h0m28 0h0m80 0h0m-113 1h0m6 0h0m14 0h0m55 0h0m-63 1h0m20 0h0m20 0h0m11 0h0m-80 1h0m41 0h0m26 0h0m1 0h0m33 0h0m-101 1h0m10 0h0m128 0h0m-142 1h0m82 0h0m-67 1h0m4 0h0m66 0h0m31 0h0m-108 1h0m28 0h0m52 0h0m8 0h0m36 0h0m-127 1h0m10 0h0m0 0h0m31 0h0m6 0h0m5 0h0m24 0h0m-26 1h0m13 0h0m24 0h0m4 0h0m2 0h0m7 0h0m-50 1h0m80 0h0m54 0h0m-187 1h0m15 0h0m11 0h0m30 0h0m92 0h0m-118 1h0m33 0h0m12 0h0m26 0h0m-83 1h0m6 0h0m10 0h0m26 0h0m10 0h0m-30 1h0m25 0h0m3 0h0m3 0h0m21 0h0m5 0h0m-66 2h0m-13 1h0m22 0h0m47 0h0m9 1h0m-78 1h0m19 0h0m14 0h0m55 0h0m-89 1h0m45 0h0m6 0h0m6 0h0m12 0h0m6 0h0m45 0h0m-109 1h0m44 0h0m9 0h0m14 0h0m7 0h0m-92 1h0m136 0h0m-133 1h0m3 0h0m4 0h0m74 0h0m-81 1h0m9 0h0m43 0h0m-54 1h0m95 0h0m-95 1h0m1 0h0m11 0h0m1 0h0m14 0h0m54 0h0m50 0h0m-100 1h0m64 0h0m-74 1h0m33 0h0m20 0h0m-52 1h0m40 0h0m18 0h0m-66 1h0m40 0h0m7 0h0m10 0h0m7 0h0m-75 1h0m31 0h0m35 0h0m6 0h0m-82 1h0m20 0h0m25 0h0m4 0h0m-18 1h0m1 0h0m64 0h0m-78 1h0m7 0h0m18 0h0m24 0h0m11 0h0m10 0h0m6 0h0m-69 1h0m13 0h0m10 0h0m16 0h0m29 0h0m-69 1h0m40 0h0m14 0h0m9 0h0m0 0h0m32 0h0m-111 1h0m1 0h0m41 0h0m15 0h0m13 0h0m81 0h0m-143 1h0m2 0h0m3 0h0m15 0h0m7 0h0m23 0h0m20 0h0m11 0h0m1 1h0m28 0h0m-98 1h0m68 0h0m-84 1h0m0 0h0m48 0h0m-38 1h0m72 0h0m5 0h0m-8 1h0m-75 1h0m21 0h0m76 0h0m14 2h0m-96 2h0m67 0h0m7 0h0m-19 1h0m11 0h0m-84 1h0m86 0h0m-56 1h0m28 0h0m7 0h0m-14 1h0m0 1h0m58 0h0m-53 1h0m29 0h0m5 0h0m248 0h0m-308 2h0m38 0h0m23 0h0m-76 1h0m20 0h0m14 0h0m41 0h0m-85 1h0m55 0h0m16 0h0m12 2h0m-90 1h0m63 0h0m23 0h0m88 0h0m-160 1h0m64 1h0m12 0h0m63 0h0m-147 1h0m48 0h0m2 0h0m20 0h0m-73 1h0m62 0h0m-60 1h0m8 0h0m70 0h0m-80 1h0m9 0h0m49 0h0m17 0h0m-7 2h0m6 0h0m-61 1h0m31 0h0m146 0h0m-181 1h0m19 0h0m72 0h0m-81 1h0m44 0h0m-49 1h0m51 0h0m6 0h0m24 1h0m-2 1h0m-20 1h0m109 0h0m-157 3h0m34 0h0m8 0h0m28 0h0m-51 1h0m-32 1h0m63 0h0m-5 1h0m0 0h0m-30 1h0m20 0h0m16 0h0m18 0h0m-51 1h0m11 0h0m20 0h0m1 0h0m-12 1h0m1 0h0m7 0h0m-17 2h0m10 0h0m5 0h0m-47 1h0m42 0h0m4 0h0m-42 1h0m34 0h0m5 0h0m-41 1h0m11 0h0m23 0h0m42 0h0m148 0h0m-136 2h0m-87 3h0m67 0h0m-32 3h0m180 0h0m-152 1h0m23 1h0m-68 2h0m12 0h0m131 0h0m-109 29h0m110 16h0m-240 40h0m119 17h0"/>
<path stroke="#124d8c" d="M1236 44h0m-6 4h0m2 1h0m2 1h0m6 1h0m5 2h0m-17 1h0m19 0h0m-30 1h0m35 1h0m4 0h0m-38 1h0m37 0h0m5 2h0m2 2h0m4 0h0m-46 3h0m-16 1h0m16 0h0m2 2h0m47 0h0m-1 1h0m-52 1h0m-4 1h0m49 0h0m0 2h0m0 1h0m11 0h0m-72 3h0m-8 2h0m68 0h0m-74 5h0m86 2h0m-91 1h0m14 0h0m-4 1h0m114 9h0m-57 1h0m11 2h0m3 2h0m-44 4h0m15 1h0m5 1h0m46 1h0m2 0h0m44 2h0m-107 2h0m42 0h0m2 2h0m-47 1h0m56 0h0m-53 1h0m-3 1h0m46 1h0m0 0h0m-45 1h0m54 1h0m19 1h0m-73 2h0m5 0h0m13 3h0m37 2h0m-40 1h0m54 1h0m36 0h0m-93 2h0m-4 3h0m9 0h0m2 2h0m41 0h0m18 0h0m3 0h0m15 0h0m-85 1h0m3 0h0m37 0h0m-28 2h0m-3 1h0m61 0h0m-65 2h0m7 1h0m31 2h0m3 2h0m-40 2h0m-1 1h0m14 1h0m66 2h0m-72 2h0m31 0h0m9 3h0m93 0h0m-133 1h0m221 0h0m-222 1h0m55 0h0m-43 1h0m0 0h0m6 0h0m36 0h0m149 0h0m-192 1h0m54 0h0m-58 1h0m73 0h0m8 0h0m-81 1h0m7 0h0m39 0h0m35 1h0m-77 1h0m119 0h0m95 0h0m-194 1h0m25 0h0m18 0h0m4 1h0m-26 1h0m181 0h0m-226 2h0m33 0h0m183 0h0m-215 1h0m10 1h0m71 1h0m-74 1h0m41 0h0m112 1h0m-90 1h0m2 0h0m150 0h0m-161 1h0m-47 1h0m76 0h0m-103 1h0m100 0h0m-48 1h0m3 0h0m45 0h0m129 1h0m14 0h0m-224 1h0m93 0h0m78 0h0m-164 1h0m36 0h0m11 0h0m161 0h0m-218 1h0m9 1h0m14 0h0m89 0h0m-105 2h0m188 0h0m24 1h0m11 0h0m-153 1h0m146 0h0m-212 1h0m40 0h0m65 0h0m77 0h0m-165 1h0m48 0h0m25 0h0m-98 1h0m44 0h0m180 0h0m-222 1h0m2 0h0m89 0h0m131 0h0m2 0h0m8 0h0m-219 1h0m-2 1h0m15 0h0m186 0h0m-135 1h0m27 0h0m138 0h0m-160 1h0m-54 1h0m1 0h0m81 0h0m22 0h0m-15 1h0m-114 1h0m62 0h0m151 1h0m-185 1h0m3 0h0m6 0h0m45 0h0m76 0h0m-121 1h0m73 0h0m-27 1h0m-58 1h0m73 0h0m50 0h0m97 0h0m-105 1h0m2 0h0m3 0h0m71 0h0m-199 2h0m62 0h0m23 0h0m136 0h0m13 0h0m-33 1h0m45 0h0m-192 1h0m147 0h0m-190 1h0m34 0h0m38 0h0m28 0h0m7 0h0m28 0h0m19 0h0m54 0h0m-217 1h0m92 0h0m104 0h0m11 0h0m-197 1h0m22 0h0m82 0h0m67 0h0m91 0h0m-233 1h0m102 0h0m68 0h0m-87 1h0m71 0h0m42 0h0m19 0h0m-182 1h0m80 0h0m54 0h0m17 0h0m-103 1h0m22 0h0m37 0h0m16 0h0m52 0h0m-217 1h0m236 0h0m1 0h0m-180 1h0m39 0h0m83 0h0m24 0h0m-140 1h0m33 0h0m11 0h0m98 0h0m-179 1h0m7 0h0m24 0h0m31 0h0m11 0h0m102 0h0m2 0h0m5 0h0m-181 1h0m32 0h0m38 0h0m-124 1h0m75 0h0m82 0h0m14 0h0m55 0h0m-161 1h0m31 0h0m78 0h0m54 0h0m2 0h0m39 0h0m1 0h0m-258 1h0m91 0h0m25 0h0m39 0h0m45 0h0m25 0h0m18 0h0m-201 1h0m7 0h0m82 0h0m29 0h0m44 0h0m-171 1h0m75 0h0m84 0h0m41 0h0m32 0h0m-185 1h0m83 0h0m105 0h0m-259 1h0m89 0h0m49 0h0m10 0h0m26 0h0m13 0h0m8 0h0m-163 1h0m68 0h0m8 0h0m38 0h0m3 0h0m57 0h0m44 0h0m-99 1h0m-133 1h0m120 0h0m14 0h0m-133 1h0m21 0h0m57 0h0m26 0h0m6 0h0m10 0h0m11 0h0m5 0h0m63 0h0m20 0h0m2 0h0m4 0h0m-180 1h0m119 0h0m25 0h0m25 0h0m8 0h0m3 0h0m3 0h0m9 0h0m-206 1h0m58 0h0m26 0h0m-42 1h0m-81 1h0m0 0h0m10 0h0m17 0h0m28 0h0m33 0h0m34 0h0m9 0h0m69 0h0m-206 1h0m73 0h0m19 0h0m59 0h0m95 0h0m-174 1h0m5 0h0m33 0h0m-69 1h0m66 0h0m113 0h0m-17 1h0m94 0h0m7 0h0m-283 1h0m41 0h0m29 0h0m3 0h0m12 0h0m35 0h0m-135 1h0m23 0h0m62 0h0m213 0h0m-282 1h0m140 0h0m95 0h0m-268 2h0m1 0h0m42 0h0m22 0h0m113 0h0m-163 1h0m52 0h0m3 0h0m72 0h0m102 0h0m-154 1h0m113 0h0m19 0h0m128 0h0m35 0h0m-388 1h0m19 0h0m41 0h0m2 0h0m108 0h0m209 0h0m-251 1h0m23 0h0m127 0h0m-264 1h0m52 0h0m3 0h0m14 0h0m29 0h0m61 0h0m93 0h0m56 0h0m-311 1h0m145 0h0m4 0h0m191 0h0m-314 1h0m19 0h0m5 0h0m44 0h0m77 0h0m-98 1h0m-63 1h0m50 0h0m301 0h0m5 0h0m-357 1h0m9 0h0m127 0h0m148 0h0m34 0h0m16 0h0m-311 1h0m17 0h0m16 0h0m26 0h0m215 0h0m-271 1h0m19 0h0m20 0h0m96 0h0m154 0h0m-217 1h0m65 0h0m8 0h0m195 0h0m7 0h0m-362 1h0m166 0h0m7 0h0m-22 1h0m11 0h0m185 0h0m-262 1h0m62 0h0m22 0h0m7 0h0m-96 1h0m184 0h0m-157 1h0m224 0h0m-256 1h0m51 0h0m40 0h0m201 0h0m1 0h0m-367 1h0m45 0h0m12 0h0m70 0h0m-144 2h0m3 0h0m319 0h0m-291 1h0m51 0h0m117 0h0m-205 1h0m18 0h0m36 0h0m67 0h0m21 0h0m227 0h0m22 0h0m-378 1h0m15 0h0m58 0h0m272 0h0m17 0h0m-314 1h0m43 0h0m3 0h0m41 0h0m14 0h0m35 0h0m10 0h0m5 0h0m-277 1h0m123 0h0m16 1h0m-1 1h0m116 0h0m154 0h0m3 0h0m-343 1h0m79 0h0m47 0h0m165 0h0m-80 1h0m55 0h0m-141 1h0m20 0h0m55 0h0m174 0h0m-345 1h0m180 0h0m166 0h0m4 0h0m-346 1h0m4 0h0m97 1h0m202 0h0m-242 1h0m6 0h0m46 0h0m29 0h0m168 0h0m-292 1h0m38 0h0m84 0h0m45 0h0m-160 1h0m30 0h0m24 0h0m27 0h0m68 0h0m34 0h0m-161 1h0m41 0h0m43 0h0m15 0h0m18 0h0m158 0h0m19 0h0m-307 1h0m0 0h0m14 0h0m74 0h0m16 0h0m19 0h0m172 0h0m-277 1h0m9 0h0m17 0h0m9 0h0m26 0h0m34 0h0m10 0h0m14 0h0m5 0h0m147 0h0m2 0h0m1 0h0m16 0h0m3 0h0m-11 1h0m-282 1h0m58 0h0m39 0h0m153 0h0m-256 1h0m38 0h0m38 0h0m5 0h0m10 0h0m45 0h0m24 0h0m108 0h0m-305 1h0m30 0h0m17 0h0m146 0h0m102 0h0m-288 1h0m30 0h0m54 0h0m46 0h0m42 0h0m12 0h0m49 0h0m74 0h0m-262 1h0m68 0h0m-120 1h0m27 0h0m7 0h0m75 0h0m1 0h0m83 0h0m-197 1h0m51 0h0m122 0h0m140 0h0m-295 1h0m7 0h0m6 0h0m47 0h0m36 0h0m13 0h0m36 0h0m38 0h0m20 0h0m92 0h0m-298 1h0m17 0h0m66 0h0m-103 1h0m41 0h0m1 0h0m11 0h0m48 0h0m74 0h0m17 0h0m1 1h0m5 0h0m6 0h0m5 0h0m-99 1h0m36 0h0m21 0h0m124 0h0m-205 1h0m35 0h0m8 0h0m37 0h0m42 0h0m3 0h0m-228 1h0m65 0h0m107 0h0m20 0h0m-78 1h0m29 0h0m35 0h0m5 0h0m-155 1h0m37 0h0m7 0h0m114 0h0m46 0h0m-247 1h0m61 0h0m18 0h0m10 0h0m72 0h0m63 0h0m-152 1h0m32 0h0m2 0h0m58 0h0m-95 1h0m-135 1h0m140 0h0m64 0h0m89 0h0m-210 1h0m66 0h0m12 0h0m29 0h0m37 0h0m60 0h0m-226 1h0m66 0h0m47 0h0m32 0h0m100 0h0m-172 1h0m44 0h0m166 0h0m-217 1h0m2 0h0m190 0h0m-110 1h0m36 0h0m60 0h0m51 0h0m-219 1h0m20 0h0m92 0h0m52 0h0m-148 1h0m2 0h0m140 0h0m-236 1h0m51 0h0m80 0h0m81 0h0m25 0h0m2 0h0m6 0h0m-169 1h0m6 0h0m110 0h0m-168 1h0m59 0h0m94 0h0m-210 1h0m92 0h0m29 0h0m31 0h0m12 0h0m11 0h0m102 0h0m88 0h0m-300 1h0m38 0h0m8 0h0m2 0h0m30 0h0m20 0h0m8 0h0m-157 1h0m7 0h0m63 0h0m25 0h0m45 0h0m10 0h0m102 0h0m5 0h0m-166 1h0m3 0h0m13 0h0m108 0h0m29 0h0m-130 1h0m21 0h0m12 0h0m16 0h0m10 0h0m31 0h0m-100 1h0m55 0h0m44 0h0m-104 1h0m85 0h0m31 0h0m18 0h0m-158 1h0m20 0h0m24 0h0m24 0h0m25 0h0m17 0h0m5 0h0m3 0h0m32 0h0m-200 1h0m72 0h0m-86 1h0m3 0h0m17 0h0m71 0h0m83 0h0m22 0h0m24 0h0m85 0h0m-310 1h0m62 0h0m12 0h0m101 0h0m32 0h0m-140 1h0m32 0h0m71 0h0m7 0h0m9 0h0m14 0h0m-133 1h0m7 0h0m26 0h0m48 0h0m47 0h0m23 0h0m-216 2h0m81 0h0m32 0h0m70 0h0m55 0h0m10 0h0m-324 1h0m290 0h0m31 0h0m-201 1h0m32 0h0m6 0h0m2 0h0m3 0h0m42 0h0m15 0h0m17 0h0m8 0h0m23 0h0m15 0h0m-83 1h0m24 0h0m49 0h0m-3 1h0m10 0h0m-183 1h0m3 0h0m71 0h0m1 0h0m98 0h0m3 0h0m-78 1h0m1 0h0m4 0h0m26 0h0m7 0h0m16 0h0m26 0h0m4 0h0m20 0h0m28 0h0m-328 1h0m107 0h0m5 0h0m122 0h0m1 0h0m19 0h0m19 0h0m27 0h0m6 0h0m-225 1h0m3 0h0m88 0h0m9 0h0m9 0h0m14 0h0m-130 1h0m71 0h0m30 0h0m50 0h0m70 0h0m-144 1h0m9 0h0m23 0h0m12 0h0m118 0h0m-174 1h0m27 0h0m-79 1h0m5 0h0m69 1h0m72 0h0m-108 1h0m26 0h0m14 0h0m92 0h0m26 0h0m62 0h0m-287 1h0m8 0h0m2 0h0m17 0h0m104 0h0m7 0h0m32 0h0m44 0h0m2 0h0m29 0h0m-228 1h0m4 0h0m1 0h0m64 0h0m27 0h0m3 0h0m10 0h0m10 0h0m21 0h0m5 0h0m8 0h0m3 0h0m76 0h0m-164 1h0m12 0h0m65 0h0m63 0h0m4 0h0m-226 1h0m2 0h0m21 0h0m20 0h0m78 0h0m55 0h0m45 0h0m-153 1h0m23 0h0m9 0h0m3 0h0m6 0h0m5 0h0m1 0h0m45 0h0m-153 1h0m81 0h0m30 0h0m69 0h0m11 0h0m64 0h0m-208 1h0m8 0h0m87 0h0m15 0h0m68 0h0m-220 1h0m122 0h0m16 0h0m1 0h0m8 0h0m26 0h0m46 0h0m-218 1h0m27 0h0m59 0h0m10 0h0m1 0h0m58 0h0m11 0h0m53 0h0m-225 1h0m101 0h0m31 0h0m34 0h0m85 0h0m17 0h0m-277 1h0m116 0h0m76 0h0m1 0h0m24 0h0m7 0h0m55 0h0m-183 1h0m14 0h0m102 0h0m2 0h0m78 0h0m-288 1h0m104 0h0m7 0h0m14 0h0m72 0h0m6 0h0m13 0h0m45 0h0m-191 1h0m29 0h0m7 0h0m16 0h0m14 0h0m4 0h0m56 0h0m8 0h0m-199 1h0m119 0h0m57 0h0m15 0h0m1 0h0m-89 1h0m16 0h0m7 0h0m6 0h0m12 0h0m10 0h0m48 0h0m-202 1h0m2 0h0m192 0h0m9 0h0m38 0h0m-242 1h0m87 0h0m54 0h0m46 0h0m36 0h0m-137 1h0m9 0h0m21 0h0m87 0h0m-204 1h0m46 0h0m65 0h0m26 0h0m20 0h0m10 0h0m-123 1h0m47 0h0m2 0h0m47 0h0m9 0h0m20 0h0m16 0h0m10 0h0m-198 1h0m20 0h0m55 0h0m46 0h0m37 0h0m37 0h0m13 0h0m-179 1h0m28 0h0m45 0h0m37 0h0m40 0h0m42 0h0m1 0h0m-204 1h0m71 0h0m13 0h0m51 0h0m19 0h0m15 0h0m3 0h0m12 0h0m-201 1h0m80 0h0m63 0h0m3 0h0m32 0h0m7 0h0m4 0h0m14 0h0m2 0h0m14 0h0m-202 1h0m22 0h0m89 0h0m25 0h0m69 0h0m16 0h0m-165 1h0m7 0h0m18 0h0m5 0h0m24 0h0m23 0h0m55 0h0m20 0h0m-227 1h0m84 0h0m113 0h0m10 0h0m17 0h0m-212 1h0m77 0h0m130 0h0m-200 1h0m99 0h0m63 0h0m1 0h0m99 0h0m-275 1h0m22 0h0m71 0h0m-72 1h0m65 0h0m5 0h0m30 0h0m42 0h0m117 0h0m-279 1h0m102 0h0m-110 1h0m122 0h0m27 0h0m37 0h0m13 0h0m74 0h0m4 0h0m-182 1h0m13 0h0m18 0h0m89 0h0m-189 1h0m86 0h0m28 0h0m33 0h0m16 0h0m7 0h0m4 0h0m70 0h0m-247 1h0m78 0h0m2 0h0m24 0h0m17 0h0m1 0h0m21 0h0m4 0h0m1 0h0m8 0h0m7 0h0m-188 1h0m34 0h0m0 0h0m86 0h0m4 0h0m4 0h0m44 0h0m21 0h0m22 0h0m7 0h0m3 0h0m-124 1h0m6 0h0m2 0h0m16 0h0m79 0h0m3 0h0m14 0h0m65 0h0m-269 1h0m13 0h0m97 0h0m20 0h0m1 0h0m11 0h0m1 0h0m69 0h0m-230 1h0m89 0h0m27 0h0m24 0h0m1 0h0m2 0h0m40 0h0m9 0h0m44 0h0m-234 1h0m77 0h0m66 0h0m63 0h0m11 0h0m-175 1h0m76 0h0m44 0h0m88 0h0m-281 1h0m87 0h0m7 0h0m44 0h0m-110 1h0m33 0h0m70 0h0m8 0h0m5 0h0m23 0h0m11 0h0m21 0h0m117 0h0m3 0h0m-236 1h0m46 0h0m6 0h0m3 0h0m20 0h0m46 0h0m114 0h0m3 0h0m-339 1h0m47 0h0m43 0h0m106 0h0m2 0h0m83 0h0m36 0h0m24 0h0m-322 1h0m141 0h0m6 0h0m65 0h0m3 0h0m-194 1h0m50 0h0m5 0h0m8 0h0m93 0h0m34 0h0m107 0h0m-288 2h0m157 0h0m17 0h0m114 0h0m13 0h0m-284 1h0m23 1h0m7 0h0m80 0h0m3 0h0m19 0h0m19 0h0m32 0h0m94 0h0m-239 1h0m6 0h0m5 0h0m-22 1h0m87 0h0m27 0h0m20 0h0m22 0h0m68 0h0m25 0h0m-167 1h0m95 0h0m-181 1h0m55 0h0m6 0h0m20 0h0m19 0h0m33 0h0m14 0h0m35 0h0m-204 1h0m97 0h0m28 0h0m56 0h0m-217 1h0m31 0h0m10 0h0m131 0h0m15 0h0m11 0h0m20 0h0m107 0h0m-301 1h0m29 0h0m4 0h0m6 0h0m65 0h0m12 0h0m13 0h0m7 0h0m49 0h0m0 0h0m15 0h0m80 0h0m7 0h0m12 0h0m-301 1h0m131 0h0m23 0h0m21 0h0m0 0h0m-158 1h0m119 0h0m37 0h0m25 0h0m77 0h0m0 0h0m-261 1h0m54 0h0m18 0h0m3 0h0m28 0h0m67 0h0m28 0h0m-212 1h0m40 0h0m178 0h0m-216 1h0m53 0h0m5 0h0m63 0h0m64 0h0m-149 1h0m42 0h0m-63 1h0m33 0h0m38 0h0m7 0h0m32 0h0m10 0h0m17 0h0m8 0h0m6 0h0m-148 1h0m7 0h0m9 0h0m52 0h0m22 0h0m12 0h0m52 0h0m41 0h0m17 0h0m76 0h0m-277 1h0m20 0h0m48 0h0m50 0h0m-52 1h0m100 0h0m-112 1h0m3 0h0m53 0h0m21 0h0m5 0h0m0 0h0m23 0h0m9 0h0m-193 1h0m77 0h0m0 0h0m12 0h0m2 0h0m48 0h0m16 0h0m34 0h0m25 0h0m10 0h0m77 0h0m-260 1h0m43 0h0m2 0h0m29 0h0m35 0h0m10 0h0m8 0h0m49 0h0m39 0h0m-217 1h0m55 0h0m9 0h0m22 0h0m11 0h0m8 0h0m7 0h0m12 0h0m33 0h0m32 0h0m63 0h0m19 0h0m-322 1h0m43 0h0m46 0h0m39 0h0m13 0h0m5 0h0m16 0h0m24 0h0m1 0h0m5 0h0m103 0h0m6 0h0m-287 1h0m47 0h0m9 0h0m31 0h0m10 0h0m54 0h0m42 0h0m140 0h0m-313 1h0m83 0h0m1 0h0m23 0h0m5 0h0m27 0h0m15 0h0m8 0h0m12 0h0m11 0h0m73 0h0m-306 1h0m34 0h0m21 0h0m60 0h0m-79 1h0m152 0h0m21 0h0m39 0h0m15 0h0m-178 1h0m25 0h0m55 0h0m24 0h0m-4 1h0m7 0h0m-93 1h0m26 0h0m11 0h0m51 0h0m21 0h0m11 0h0m4 0h0m7 0h0m88 0h0m-186 1h0m33 0h0m78 0h0m96 0h0m-288 1h0m60 0h0m0 0h0m7 0h0m30 0h0m26 0h0m28 0h0m14 0h0m10 0h0m98 0h0m-274 1h0m11 0h0m31 0h0m5 0h0m5 0h0m6 0h0m47 0h0m30 0h0m17 0h0m49 0h0m69 0h0m-327 1h0m101 0h0m30 0h0m51 0h0m28 0h0m35 0h0m-230 1h0m26 0h0m85 0h0m58 0h0m13 0h0m53 0h0m-207 1h0m103 0h0m27 0h0m4 0h0m1 0h0m9 0h0m60 0h0m0 0h0m-224 1h0m57 0h0m30 0h0m24 0h0m68 0h0m118 0h0m-270 1h0m28 0h0m89 0h0m25 0h0m60 0h0m5 0h0m4 0h0m-197 1h0m94 0h0m41 0h0m20 0h0m38 0h0m-212 1h0m28 0h0m36 0h0m3 0h0m104 0h0m26 0h0m83 0h0m-281 1h0m12 0h0m56 0h0m15 0h0m89 0h0m34 0h0m-185 1h0m91 0h0m53 0h0m56 0h0m-229 1h0m76 0h0m40 0h0m22 0h0m34 0h0m127 0h0m-334 1h0m95 0h0m31 0h0m86 0h0m19 0h0m41 0h0m61 0h0m-307 1h0m42 0h0m66 0h0m2 0h0m84 0h0m46 0h0m69 0h0m-303 1h0m22 0h0m9 0h0m111 0h0m33 0h0m-159 1h0m42 0h0m97 0h0m8 0h0m-142 1h0m38 0h0m5 0h0m3 0h0m8 0h0m43 0h0m85 0h0m-54 1h0m-113 1h0m46 0h0m7 0h0m40 1h0m73 0h0m43 0h0m-228 1h0m16 0h0m76 0h0m-86 1h0m15 0h0m45 0h0m-58 1h0m1 0h0m65 0h0m28 0h0m54 0h0m-193 1h0m45 0h0m105 0h0m57 0h0m2 0h0m-179 1h0m79 0h0m11 0h0m49 0h0m5 0h0m22 0h0m15 0h0m4 0h0m-179 1h0m42 0h0m59 0h0m24 0h0m8 0h0m-155 1h0m110 0h0m65 0h0m17 0h0m10 0h0m-107 1h0m41 0h0m6 0h0m27 0h0m-174 1h0m79 0h0m12 0h0m25 0h0m90 0h0m10 0h0m-153 1h0m119 0h0m21 0h0m15 0h0m-152 1h0m56 0h0m71 0h0m-169 1h0m57 0h0m70 0h0m-141 1h0m84 0h0m110 0h0m-165 1h0m153 0h0m21 0h0m3 0h0m-144 1h0m2 0h0m0 0h0m14 0h0m75 0h0m53 0h0m2 0h0m-210 1h0m33 0h0m-50 1h0m74 0h0m18 0h0m-68 1h0m2 0h0m33 0h0m15 0h0m0 0h0m10 0h0m8 0h0m-80 1h0m13 0h0m20 0h0m30 0h0m65 0h0m8 0h0m-125 1h0m66 0h0m23 0h0m12 0h0m24 0h0m62 0h0m-190 1h0m23 0h0m28 0h0m7 0h0m28 0h0m103 0h0m24 0h0m-162 1h0m5 0h0m1 0h0m37 0h0m70 0h0m11 0h0m31 0h0m1 0h0m-181 1h0m49 0h0m18 0h0m54 0h0m65 0h0m-219 1h0m32 0h0m140 0h0m31 0h0m22 0h0m-215 1h0m61 0h0m59 0h0m55 0h0m30 0h0m-247 1h0m61 0h0m3 0h0m56 0h0m11 0h0m-102 1h0m16 0h0m39 0h0m19 0h0m142 0h0m3 0h0m-158 1h0m25 0h0m46 0h0m-45 1h0m53 0h0m82 0h0m-214 1h0m2 0h0m6 0h0m22 0h0m17 1h0m7 0h0m2 0h0m62 0h0m-48 1h0m0 0h0m9 0h0m55 0h0m23 0h0m33 0h0m8 0h0m2 0h0m-152 1h0m6 0h0m5 0h0m29 0h0m1 0h0m50 0h0m31 0h0m28 0h0m-157 1h0m33 0h0m134 0h0m-226 1h0m60 0h0m4 0h0m24 0h0m40 0h0m22 0h0m60 0h0m13 0h0m-130 1h0m19 0h0m82 0h0m5 0h0m-49 1h0m4 0h0m1 0h0m19 0h0m19 0h0m18 0h0m-138 1h0m4 0h0m15 0h0m16 0h0m85 0h0m7 0h0m21 0h0m-187 1h0m25 0h0m5 0h0m10 0h0m57 0h0m76 0h0m-143 1h0m2 0h0m8 0h0m33 0h0m80 0h0m-150 1h0m27 0h0m5 0h0m22 0h0m-108 1h0m27 0h0m219 0h0m-197 1h0m47 0h0m138 0h0m2 0h0m10 1h0m1 0h0m-166 1h0m22 0h0m23 0h0m35 0h0m38 0h0m37 0h0m3 0h0m-130 1h0m35 0h0m15 0h0m26 0h0m-104 1h0m8 0h0m60 0h0m54 0h0m-147 1h0m27 0h0m152 0h0m31 0h0m10 0h0m-275 1h0m28 0h0m85 0h0m19 0h0m1 0h0m82 0h0m8 0h0m7 0h0m-128 1h0m37 0h0m19 0h0m28 0h0m44 0h0m-147 1h0m5 0h0m61 0h0m29 0h0m6 0h0m17 0h0m-12 1h0m22 0h0m5 0h0m-138 1h0m34 0h0m10 0h0m21 0h0m19 0h0m3 0h0m62 0h0m20 0h0m-169 1h0m77 0h0m24 0h0m31 0h0m4 0h0m-180 1h0m47 0h0m72 0h0m3 0h0m31 0h0m17 0h0m26 0h0m13 0h0m-167 1h0m134 0h0m17 0h0m-184 1h0m7 0h0m51 0h0m8 0h0m53 0h0m41 0h0m-162 1h0m19 0h0m10 0h0m64 0h0m11 0h0m40 0h0m14 0h0m5 0h0m35 0h0m3 0h0m-161 1h0m20 0h0m5 0h0m27 0h0m49 0h0m20 0h0m-88 1h0m15 0h0m73 0h0m27 0h0m-147 1h0m75 0h0m8 0h0m52 0h0m-155 1h0m61 0h0m83 0h0m19 0h0m-152 1h0m30 0h0m11 0h0m8 0h0m17 0h0m42 0h0m44 0h0m-137 1h0m37 0h0m19 0h0m67 0h0m-75 1h0m4 0h0m38 0h0m25 0h0m21 0h0m-203 1h0m30 0h0m20 0h0m52 0h0m10 0h0m-78 1h0m13 0h0m29 0h0m0 0h0m50 0h0m23 0h0m-84 1h0m32 0h0m27 0h0m23 0h0m10 0h0m31 0h0m19 0h0m-144 1h0m5 0h0m25 0h0m30 0h0m10 0h0m33 0h0m-168 1h0m1 0h0m171 0h0m4 0h0m8 0h0m16 0h0m-142 1h0m1 0h0m82 0h0m12 0h0m13 0h0m4 0h0m-177 1h0m0 0h0m63 0h0m49 0h0m34 0h0m12 0h0m10 0h0m5 0h0m5 0h0m9 0h0m14 0h0m8 0h0m7 0h0m-154 1h0m52 0h0m32 0h0m43 0h0m-195 1h0m1 0h0m2 0h0m67 0h0m12 0h0m6 0h0m34 0h0m12 0h0m-67 1h0m114 0h0m-187 1h0m47 0h0m15 0h0m12 0h0m38 0h0m8 0h0m-166 1h0m200 0h0m23 0h0m17 0h0m-131 1h0m56 0h0m17 0h0m1 0h0m14 0h0m9 0h0m0 0h0m32 0h0m5 0h0m2 0h0m-198 1h0m20 0h0m84 0h0m17 0h0m91 0h0m-199 1h0m69 0h0m6 0h0m11 0h0m21 0h0m39 0h0m-95 1h0m33 0h0m0 0h0m13 0h0m37 0h0m8 0h0m2 0h0m13 0h0m-184 1h0m25 0h0m92 0h0m32 0h0m47 0h0m-230 1h0m40 0h0m143 0h0m23 0h0m17 0h0m16 0h0m-104 1h0m28 0h0m40 0h0m41 0h0m16 0h0m-184 1h0m13 0h0m28 0h0m30 0h0m8 0h0m57 0h0m-174 1h0m47 0h0m23 0h0m40 0h0m55 0h0m-203 1h0m92 0h0m19 0h0m4 0h0m26 0h0m-188 1h0m39 0h0m172 0h0m20 0h0m0 0h0m11 0h0m4 0h0m23 0h0m4 0h0m-202 1h0m12 0h0m104 0h0m4 0h0m21 0h0m14 0h0m6 0h0m0 0h0m5 0h0m23 0h0m-231 1h0m211 0h0m29 0h0m-257 1h0m190 0h0m-182 1h0m19 0h0m14 0h0m14 0h0m27 0h0m2 0h0m50 0h0m90 0h0m-232 1h0m29 0h0m32 0h0m0 0h0m76 0h0m0 0h0m24 0h0m71 0h0m-229 1h0m30 0h0m14 0h0m64 0h0m25 0h0m12 0h0m50 0h0m17 0h0m29 0h0m-256 1h0m23 0h0m20 0h0m112 0h0m51 0h0m22 0h0m36 0h0m2 0h0m-207 1h0m152 0h0m16 0h0m7 0h0m-3 1h0m-214 1h0m52 0h0m-29 1h0m32 0h0m7 0h0m160 0h0m-209 1h0m-3 1h0m38 0h0m12 0h0m174 0h0m-206 1h0m1 0h0m109 0h0m5 0h0m-148 2h0m18 0h0m-16 1h0m0 0h0m31 0h0m24 0h0m-12 1h0m-26 1h0m136 0h0m-140 1h0m2 1h0m123 0h0m57 0h0m-184 1h0m8 0h0m135 0h0m-11 1h0m2 0h0m143 0h0m-262 2h0m122 1h0m-55 2h0m5 0h0m45 0h0m62 0h0m33 0h0m-144 1h0m44 0h0m4 1h0m11 0h0m2 1h0m-6 7h0m2 4h0m4 3h0m-13 4h0m6 0h0m-10 1h0m13 0h0m10 1h0m-9 1h0m-7 5h0m-2 1h0m6 4h0m5 2h0m-2 3h0"/>
<path stroke="#124d8c" d="M1239 45h0m-2 3h0m-7 1h0m5 1h0m5 1h0m-4 1h0m18 1h0m2 0h0m-17 2h0m12 0h0m-24 3h0m17 1h0m11 1h0m-5 2h0m-18 2h0m29 0h0m-1 2h0m6 1h0m-3 1h0m-56 1h0m54 1h0m-1 4h0m6 1h0m0 0h0m3 1h0m-4 2h0m-81 2h0m80 0h0m1 0h0m-78 1h0m15 0h0m-6 1h0m-5 1h0m-1 1h0m51 0h0m-38 2h0m7 1h0m-27 1h0m14 2h0m-8 2h0m14 0h0m5 6h0m38 1h0m-34 2h0m-2 2h0m70 0h0m-61 3h0m-8 4h0m51 0h0m-46 5h0m18 0h0m-11 1h0m8 0h0m15 0h0m80 3h0m-68 5h0m-28 1h0m-2 2h0m6 2h0m1 1h0m45 4h0m-5 1h0m-31 1h0m37 0h0m36 1h0m-81 1h0m74 0h0m-83 2h0m17 0h0m61 0h0m-60 1h0m132 1h0m-95 1h0m10 0h0m-59 1h0m3 1h0m18 1h0m-11 3h0m34 1h0m21 0h0m-41 2h0m25 0h0m-30 1h0m48 0h0m5 1h0m-62 1h0m32 0h0m-30 1h0m0 1h0m30 0h0m1 0h0m92 1h0m-126 4h0m159 1h0m-153 1h0m54 0h0m-53 1h0m2 0h0m70 0h0m-68 1h0m45 0h0m169 0h0m-211 1h0m206 0h0m-214 2h0m37 0h0m87 0h0m-69 1h0m-58 1h0m227 0h0m-195 1h0m187 0h0m-214 1h0m15 0h0m14 0h0m25 0h0m-56 1h0m9 1h0m56 0h0m11 0h0m27 0h0m-98 1h0m21 0h0m60 0h0m23 0h0m-79 1h0m11 0h0m23 0h0m42 0h0m10 0h0m102 1h0m-210 1h0m12 0h0m-6 2h0m32 0h0m3 0h0m-37 1h0m27 0h0m66 0h0m122 0h0m-176 2h0m48 0h0m-48 1h0m68 0h0m-100 1h0m43 0h0m24 0h0m2 0h0m-34 1h0m16 0h0m-36 1h0m18 0h0m39 0h0m18 0h0m19 0h0m30 0h0m-133 1h0m57 0h0m43 0h0m101 0h0m-116 1h0m-104 1h0m10 0h0m131 0h0m-125 1h0m110 0h0m-51 1h0m152 0h0m7 0h0m-183 1h0m13 0h0m4 0h0m-62 1h0m10 0h0m43 0h0m47 0h0m21 0h0m98 0h0m-195 1h0m204 0h0m-118 1h0m109 0h0m21 0h0m-225 1h0m52 0h0m12 0h0m60 0h0m137 0h0m-218 1h0m29 0h0m5 0h0m33 1h0m97 0h0m-102 1h0m4 1h0m10 0h0m89 0h0m-214 1h0m-25 1h0m29 0h0m32 0h0m34 0h0m31 0h0m4 0h0m124 0h0m1 0h0m1 0h0m-113 1h0m97 0h0m-212 1h0m205 0h0m-164 1h0m13 0h0m93 0h0m57 0h0m16 0h0m0 0h0m20 0h0m-67 1h0m-82 1h0m28 0h0m34 0h0m66 0h0m-211 1h0m22 0h0m49 0h0m53 0h0m88 0h0m19 0h0m-137 1h0m8 0h0m114 0h0m1 0h0m53 0h0m-219 1h0m85 1h0m-131 1h0m19 0h0m53 0h0m8 0h0m136 0h0m13 0h0m-227 1h0m28 0h0m35 0h0m20 0h0m8 0h0m-44 1h0m40 0h0m108 0h0m-201 1h0m26 0h0m75 0h0m50 0h0m85 0h0m-134 1h0m20 0h0m-117 2h0m105 0h0m151 0h0m3 0h0m-236 1h0m57 0h0m41 0h0m109 0h0m-89 1h0m82 0h0m17 0h0m-158 1h0m7 0h0m41 0h0m11 0h0m121 0h0m-31 1h0m-216 1h0m37 0h0m93 0h0m24 0h0m37 0h0m71 0h0m-257 1h0m1 1h0m6 0h0m86 0h0m110 0h0m15 0h0m-206 1h0m7 0h0m8 0h0m122 0h0m67 0h0m-196 1h0m40 0h0m4 0h0m19 0h0m15 0h0m7 0h0m1 0h0m4 0h0m3 0h0m105 0h0m-105 1h0m5 0h0m132 0h0m-231 1h0m63 0h0m27 0h0m57 0h0m75 0h0m23 0h0m-216 1h0m14 0h0m4 0h0m42 0h0m35 0h0m1 0h0m39 0h0m14 0h0m32 0h0m11 0h0m-252 1h0m18 0h0m48 0h0m7 0h0m58 0h0m99 1h0m14 0h0m7 0h0m-211 1h0m109 0h0m55 0h0m-136 1h0m2 0h0m2 0h0m19 0h0m73 0h0m71 0h0m23 0h0m-228 1h0m7 0h0m174 0h0m36 0h0m-236 1h0m131 0h0m71 0h0m8 0h0m-135 1h0m91 0h0m11 0h0m34 0h0m11 0h0m-118 1h0m57 0h0m5 0h0m40 0h0m31 0h0m-194 1h0m61 0h0m5 0h0m7 0h0m31 0h0m69 0h0m-150 1h0m6 0h0m122 0h0m39 0h0m70 0h0m-208 1h0m68 0h0m1 0h0m-130 1h0m38 0h0m244 0h0m-277 1h0m40 0h0m30 0h0m60 0h0m-130 1h0m21 0h0m1 0h0m124 0h0m33 0h0m-173 1h0m50 0h0m1 0h0m21 0h0m202 0h0m-233 1h0m24 0h0m33 0h0m162 0h0m-330 1h0m88 0h0m42 0h0m20 1h0m23 0h0m6 0h0m161 0h0m-290 1h0m76 0h0m202 0h0m69 1h0m-422 1h0m144 0h0m225 0h0m53 0h0m-373 1h0m53 0h0m5 0h0m21 0h0m251 0h0m19 0h0m-319 1h0m73 0h0m19 0h0m26 0h0m-155 1h0m50 0h0m5 0h0m326 0h0m-326 1h0m28 0h0m72 0h0m235 0h0m-220 1h0m176 0h0m-275 1h0m3 0h0m15 0h0m21 0h0m-46 1h0m70 0h0m234 0h0m30 1h0m-307 1h0m87 0h0m184 0h0m-274 1h0m-133 1h0m103 0h0m8 0h0m41 0h0m32 0h0m41 0h0m19 0h0m5 0h0m-148 1h0m93 0h0m56 0h0m96 0h0m-133 1h0m187 0h0m-340 1h0m11 0h0m22 0h0m42 0h0m98 0h0m186 0h0m-321 1h0m42 0h0m91 0h0m-144 1h0m18 0h0m73 0h0m4 1h0m31 0h0m193 0h0m1 0h0m33 0h0m-289 1h0m293 0h0m-301 1h0m22 0h0m-101 1h0m125 0h0m6 0h0m64 0h0m-199 1h0m8 0h0m61 0h0m8 0h0m0 0h0m67 0h0m1 0h0m-38 1h0m-44 1h0m30 0h0m95 0h0m4 0h0m-176 1h0m34 0h0m8 0h0m6 0h0m5 0h0m19 0h0m13 0h0m16 0h0m0 0h0m48 0h0m9 0h0m-106 1h0m-39 1h0m102 0h0m31 0h0m-111 1h0m0 0h0m40 0h0m277 0h0m15 0h0m-299 1h0m80 0h0m49 0h0m-165 1h0m19 0h0m271 0h0m-317 1h0m125 0h0m56 0h0m-209 1h0m152 0h0m48 0h0m3 0h0m160 0h0m18 0h0m-406 1h0m57 0h0m100 0h0m23 0h0m4 0h0m65 0h0m138 0h0m-288 1h0m7 0h0m5 0h0m1 0h0m18 0h0m3 0h0m54 0h0m15 0h0m50 0h0m-149 1h0m10 0h0m28 0h0m26 1h0m48 0h0m32 0h0m4 0h0m151 0h0m5 0h0m-385 1h0m53 0h0m12 0h0m5 0h0m10 0h0m13 0h0m55 0h0m49 0h0m152 0h0m-337 1h0m51 0h0m8 0h0m37 0h0m58 0h0m21 0h0m53 0h0m137 0h0m-297 1h0m13 0h0m68 0h0m68 0h0m7 0h0m125 0h0m13 0h0m-359 1h0m70 0h0m24 0h0m5 0h0m3 0h0m37 0h0m5 0h0m6 0h0m59 0h0m154 0h0m-333 1h0m64 0h0m116 0h0m134 0h0m-346 1h0m22 0h0m112 0h0m5 0h0m-69 1h0m46 0h0m43 0h0m10 0h0m44 0h0m10 0h0m-143 1h0m18 0h0m54 0h0m13 0h0m8 0h0m41 0h0m121 0h0m6 0h0m-225 1h0m64 0h0m44 0h0m-210 1h0m57 0h0m50 0h0m153 0h0m68 0h0m-260 1h0m111 0h0m17 0h0m25 0h0m-225 1h0m60 0h0m71 0h0m22 0h0m26 0h0m27 0h0m131 0h0m-286 1h0m6 0h0m95 0h0m37 0h0m0 0h0m-287 1h0m96 0h0m53 0h0m0 0h0m14 0h0m9 0h0m124 0h0m2 0h0m-226 1h0m7 0h0m41 0h0m48 0h0m104 0h0m143 0h0m3 0h0m-234 1h0m34 0h0m40 0h0m28 0h0m-130 1h0m43 0h0m29 0h0m50 0h0m9 0h0m83 0h0m-181 1h0m48 0h0m-112 1h0m13 0h0m173 0h0m-269 1h0m114 0h0m15 0h0m17 0h0m47 0h0m76 0h0m16 0h0m-158 1h0m73 0h0m113 0h0m-279 1h0m35 0h0m27 0h0m2 0h0m34 0h0m18 0h0m9 0h0m47 0h0m86 0h0m-239 1h0m42 0h0m52 0h0m47 0h0m2 0h0m17 0h0m11 0h0m-182 1h0m71 0h0m8 0h0m8 0h0m22 0h0m-49 1h0m39 0h0m30 0h0m-133 1h0m1 0h0m59 0h0m115 0h0m178 0h0m-272 1h0m80 0h0m132 0h0m23 0h0m-290 1h0m83 0h0m46 0h0m11 0h0m23 0h0m131 0h0m-245 1h0m88 0h0m73 0h0m4 0h0m68 0h0m-270 1h0m81 0h0m18 0h0m6 0h0m24 0h0m105 0h0m-205 1h0m67 0h0m45 0h0m13 0h0m-99 1h0m14 0h0m4 0h0m93 0h0m28 0h0m-121 1h0m34 0h0m-138 1h0m10 0h0m35 0h0m44 0h0m36 0h0m15 0h0m6 0h0m59 0h0m35 0h0m-241 1h0m80 0h0m12 0h0m19 0h0m23 0h0m2 0h0m59 0h0m35 0h0m-154 1h0m9 0h0m12 0h0m3 0h0m45 0h0m70 0h0m121 0h0m-355 1h0m16 0h0m79 0h0m17 0h0m53 0h0m-140 1h0m76 0h0m2 0h0m70 0h0m51 0h0m-231 1h0m189 0h0m63 0h0m-238 1h0m133 0h0m1 0h0m5 0h0m39 0h0m23 0h0m-147 1h0m7 0h0m21 0h0m16 0h0m138 0h0m85 0h0m-265 1h0m19 0h0m74 0h0m45 0h0m3 0h0m2 0h0m50 0h0m-261 1h0m107 0h0m2 0h0m62 0h0m-156 1h0m7 0h0m96 0h0m1 0h0m90 0h0m42 0h0m-244 1h0m9 0h0m137 0h0m4 0h0m81 0h0m22 0h0m-256 1h0m46 0h0m48 0h0m26 0h0m1 0h0m14 0h0m7 0h0m30 0h0m62 0h0m-108 1h0m8 0h0m9 0h0m35 0h0m0 0h0m-141 1h0m5 0h0m72 0h0m42 0h0m16 0h0m7 0h0m-174 1h0m77 0h0m32 0h0m30 0h0m11 0h0m20 0h0m36 0h0m-221 1h0m33 0h0m38 0h0m96 0h0m51 0h0m8 0h0m27 0h0m-324 1h0m85 0h0m81 0h0m13 0h0m12 0h0m10 0h0m58 0h0m47 0h0m-180 1h0m103 0h0m13 0h0m5 0h0m12 0h0m3 0h0m-163 1h0m117 0h0m-128 1h0m96 0h0m57 0h0m6 0h0m28 0h0m23 0h0m33 0h0m-283 1h0m130 0h0m15 0h0m10 0h0m15 0h0m2 0h0m0 0h0m1 0h0m4 0h0m42 0h0m-88 1h0m28 0h0m4 0h0m53 0h0m41 0h0m-104 1h0m4 0h0m53 0h0m-121 1h0m115 0h0m-161 1h0m12 0h0m24 0h0m34 0h0m11 0h0m22 0h0m15 0h0m5 0h0m85 0h0m-186 1h0m47 0h0m44 0h0m31 0h0m39 0h0m-184 1h0m93 0h0m9 0h0m50 0h0m-122 1h0m112 0h0m7 0h0m6 0h0m26 0h0m-204 1h0m5 0h0m5 0h0m18 0h0m79 0h0m6 0h0m25 0h0m70 0h0m13 0h0m28 0h0m-223 1h0m106 0h0m19 0h0m7 0h0m63 0h0m-205 1h0m69 0h0m16 0h0m17 0h0m5 0h0m19 0h0m6 0h0m5 0h0m27 0h0m-182 1h0m18 0h0m82 0h0m11 0h0m66 0h0m-176 1h0m30 0h0m123 0h0m37 0h0m-106 1h0m39 0h0m96 0h0m37 0h0m-234 1h0m16 0h0m83 0h0m16 0h0m17 0h0m26 0h0m19 0h0m-185 1h0m108 0h0m88 0h0m19 0h0m-224 1h0m39 0h0m6 0h0m9 0h0m10 0h0m39 0h0m65 0h0m1 0h0m-168 1h0m18 0h0m77 0h0m41 0h0m57 0h0m15 0h0m6 0h0m-113 1h0m63 0h0m-167 1h0m16 0h0m5 0h0m39 0h0m50 0h0m0 0h0m63 0h0m12 0h0m-133 1h0m16 0h0m11 0h0m13 0h0m32 0h0m0 0h0m32 0h0m43 0h0m14 0h0m10 0h0m3 0h0m-147 1h0m23 0h0m47 0h0m63 0h0m-207 1h0m39 0h0m82 0h0m11 0h0m24 0h0m36 0h0m79 0h0m-247 1h0m39 0h0m19 0h0m52 0h0m42 0h0m64 0h0m-247 1h0m175 0h0m-154 1h0m14 0h0m19 0h0m33 0h0m76 0h0m26 0h0m33 0h0m-123 1h0m16 0h0m4 0h0m12 0h0m14 0h0m98 0h0m-239 1h0m8 0h0m77 0h0m27 0h0m49 0h0m6 0h0m50 0h0m-223 1h0m176 0h0m30 0h0m4 0h0m-200 1h0m9 0h0m56 0h0m77 0h0m5 0h0m39 0h0m-172 1h0m0 0h0m5 0h0m40 0h0m29 0h0m2 0h0m18 0h0m21 0h0m10 0h0m119 0h0m-247 1h0m10 0h0m81 0h0m11 0h0m31 0h0m-198 1h0m140 0h0m26 0h0m12 0h0m31 0h0m33 0h0m27 0h0m-224 1h0m117 0h0m3 0h0m1 0h0m32 0h0m28 0h0m50 0h0m-194 1h0m73 0h0m34 0h0m15 0h0m6 0h0m46 0h0m-98 1h0m11 0h0m87 0h0m-197 1h0m96 0h0m11 0h0m18 0h0m26 0h0m5 0h0m23 0h0m10 0h0m-186 1h0m95 0h0m14 0h0m6 0h0m44 0h0m12 0h0m17 0h0m-187 1h0m117 0h0m23 0h0m-150 1h0m112 0h0m31 0h0m90 0h0m-60 1h0m7 0h0m3 0h0m12 0h0m82 0h0m-289 1h0m163 0h0m20 0h0m15 0h0m31 0h0m-195 1h0m60 0h0m34 0h0m2 0h0m46 0h0m111 0h0m-237 1h0m53 0h0m56 0h0m1 0h0m50 0h0m4 0h0m56 0h0m-246 1h0m62 0h0m19 0h0m46 0h0m64 0h0m78 0h0m-184 1h0m51 0h0m-149 1h0m51 0h0m36 0h0m33 0h0m30 0h0m45 0h0m12 0h0m-203 1h0m105 0h0m5 0h0m29 0h0m44 0h0m28 0h0m-218 1h0m7 0h0m120 0h0m9 0h0m8 0h0m32 0h0m31 0h0m74 0h0m-252 1h0m6 0h0m16 0h0m38 0h0m68 0h0m28 0h0m8 0h0m2 0h0m23 0h0m-92 1h0m78 0h0m69 0h0m5 0h0m-255 1h0m70 0h0m51 0h0m29 0h0m40 0h0m8 0h0m63 0h0m-177 1h0m18 0h0m55 0h0m-140 1h0m123 0h0m-169 1h0m1 0h0m159 0h0m10 0h0m29 0h0m28 0h0m-125 1h0m74 0h0m25 0h0m-204 1h0m2 0h0m31 0h0m0 0h0m100 0h0m7 0h0m3 0h0m3 0h0m24 0h0m64 0h0m-274 1h0m42 0h0m1 0h0m1 0h0m173 0h0m10 0h0m-124 1h0m49 0h0m2 0h0m3 0h0m28 0h0m22 0h0m13 0h0m21 0h0m92 0h0m7 0h0m-185 1h0m107 0h0m-117 1h0m30 0h0m15 0h0m44 0h0m19 0h0m-209 1h0m112 0h0m36 0h0m-102 1h0m144 0h0m38 0h0m-268 1h0m33 0h0m51 0h0m71 0h0m29 0h0m13 0h0m130 0h0m1 0h0m-185 1h0m53 0h0m22 0h0m126 0h0m-302 1h0m136 0h0m18 0h0m3 0h0m14 0h0m110 0h0m-242 1h0m8 0h0m82 0h0m27 0h0m1 0h0m21 0h0m22 0h0m20 0h0m89 0h0m69 0h0m-334 1h0m96 0h0m13 0h0m12 0h0m1 0h0m20 0h0m-163 1h0m11 0h0m18 0h0m80 0h0m12 0h0m17 0h0m2 0h0m7 0h0m12 0h0m2 0h0m74 0h0m42 0h0m-220 1h0m98 0h0m4 0h0m11 0h0m13 0h0m-116 1h0m17 0h0m8 0h0m3 0h0m142 0h0m21 0h0m16 0h0m7 0h0m-184 1h0m1 0h0m5 0h0m6 0h0m8 0h0m-117 1h0m14 0h0m22 0h0m67 0h0m9 0h0m49 0h0m-118 1h0m13 0h0m25 0h0m4 0h0m34 0h0m26 0h0m26 0h0m0 0h0m2 0h0m16 0h0m54 0h0m-253 1h0m20 0h0m66 0h0m2 0h0m20 0h0m27 0h0m11 0h0m2 0h0m15 0h0m1 0h0m35 0h0m46 0h0m-236 1h0m34 0h0m30 0h0m15 0h0m12 0h0m7 0h0m8 0h0m2 0h0m9 0h0m154 0h0m-278 1h0m39 0h0m52 0h0m70 0h0m0 0h0m5 0h0m29 0h0m18 0h0m69 0h0m-296 1h0m31 0h0m24 0h0m78 0h0m27 0h0m36 0h0m-60 1h0m9 0h0m27 0h0m-164 1h0m45 0h0m4 0h0m19 0h0m57 0h0m11 0h0m-145 1h0m1 0h0m16 0h0m72 0h0m13 0h0m43 0h0m59 0h0m14 0h0m2 0h0m3 0h0m2 0h0m78 0h0m-281 1h0m29 0h0m73 0h0m8 0h0m41 0h0m26 0h0m13 0h0m12 0h0m-261 1h0m33 0h0m55 0h0m117 0h0m9 0h0m18 0h0m24 0h0m30 0h0m-69 1h0m101 0h0m27 0h0m-305 1h0m48 0h0m24 0h0m19 0h0m29 0h0m48 0h0m39 0h0m1 0h0m24 0h0m50 0h0m10 0h0m-262 1h0m48 0h0m3 0h0m16 0h0m2 0h0m9 0h0m7 0h0m48 0h0m3 0h0m26 0h0m6 0h0m104 0h0m-272 1h0m68 0h0m15 0h0m45 0h0m9 0h0m17 0h0m24 0h0m4 0h0m50 0h0m24 0h0m-235 1h0m1 0h0m42 0h0m62 0h0m47 0h0m65 0h0m-305 1h0m141 0h0m107 0h0m2 0h0m81 0h0m-202 1h0m33 0h0m7 0h0m5 0h0m30 0h0m31 0h0m22 0h0m41 0h0m-272 1h0m84 0h0m81 0h0m0 0h0m22 0h0m-85 1h0m45 0h0m12 0h0m61 0h0m69 0h0m-316 1h0m27 0h0m14 0h0m82 0h0m77 0h0m130 0h0m13 0h0m-286 1h0m166 0h0m42 0h0m8 0h0m-179 1h0m86 0h0m4 0h0m24 0h0m0 0h0m11 0h0m7 0h0m16 0h0m14 0h0m12 0h0m-188 1h0m78 0h0m184 0h0m5 0h0m-267 1h0m10 0h0m46 0h0m11 0h0m34 0h0m21 0h0m26 0h0m48 0h0m-245 1h0m115 0h0m21 0h0m38 0h0m43 0h0m-224 1h0m61 0h0m17 0h0m10 0h0m5 0h0m18 1h0m28 0h0m67 0h0m-192 1h0m27 0h0m51 0h0m9 0h0m31 0h0m27 0h0m11 0h0m42 0h0m94 0h0m-299 1h0m111 0h0m132 0h0m69 0h0m-231 1h0m3 0h0m14 0h0m63 0h0m224 0h0m-305 1h0m32 0h0m9 0h0m57 0h0m21 0h0m55 0h0m-253 1h0m176 0h0m19 0h0m45 0h0m-164 1h0m103 0h0m27 0h0m-161 1h0m115 0h0m11 0h0m6 0h0m6 0h0m56 0h0m-167 1h0m16 0h0m6 0h0m37 0h0m18 0h0m2 0h0m29 0h0m-102 1h0m32 0h0m41 0h0m49 0h0m-179 1h0m61 0h0m3 0h0m20 0h0m2 0h0m73 0h0m-150 2h0m12 0h0m39 0h0m14 0h0m34 0h0m64 0h0m5 0h0m-108 1h0m15 0h0m48 0h0m23 0h0m39 0h0m-237 1h0m92 0h0m93 0h0m38 0h0m12 0h0m-188 1h0m165 0h0m8 0h0m1 0h0m-210 1h0m106 0h0m2 0h0m20 0h0m32 0h0m32 0h0m36 0h0m-238 1h0m94 0h0m7 0h0m104 0h0m3 0h0m-193 1h0m9 0h0m6 0h0m118 0h0m29 0h0m-159 1h0m175 0h0m-90 1h0m44 0h0m36 0h0m56 0h0m-188 1h0m30 0h0m16 0h0m-5 1h0m11 0h0m110 0h0m-189 1h0m81 0h0m10 0h0m118 0h0m-215 1h0m184 0h0m27 0h0m-186 2h0m5 0h0m10 0h0m37 0h0m52 0h0m-127 1h0m80 0h0m94 0h0m-187 1h0m3 0h0m18 0h0m30 0h0m157 0h0m-178 1h0m8 0h0m56 0h0m58 0h0m-125 1h0m92 0h0m7 0h0m108 0h0m5 0h0m-241 1h0m9 0h0m77 0h0m6 0h0m49 0h0m17 0h0m53 0h0m13 0h0m-195 1h0m20 0h0m7 0h0m42 0h0m53 0h0m8 0h0m18 0h0m14 0h0m14 0h0m4 0h0m14 0h0m9 0h0m-193 1h0m64 0h0m71 0h0m7 0h0m10 0h0m17 0h0m16 0h0m-200 1h0m8 0h0m182 0h0m27 0h0m-200 1h0m1 0h0m14 0h0m20 0h0m40 0h0m56 0h0m14 0h0m16 0h0m7 0h0m-223 1h0m96 0h0m12 0h0m1 0h0m-62 1h0m2 0h0m168 0h0m-91 1h0m92 0h0m1 0h0m33 0h0m2 0h0m-142 2h0m21 0h0m79 0h0m-166 1h0m9 0h0m29 0h0m97 0h0m29 0h0m24 0h0m-213 1h0m59 0h0m22 0h0m7 0h0m52 0h0m35 0h0m25 0h0m-81 1h0m21 0h0m48 0h0m6 0h0m19 0h0m0 0h0m7 0h0m-139 1h0m54 0h0m40 0h0m43 0h0m6 0h0m-168 1h0m50 0h0m-67 1h0m25 0h0m21 0h0m5 0h0m65 0h0m74 0h0m-30 1h0m3 0h0m-190 1h0m43 0h0m55 0h0m90 0h0m-163 1h0m42 0h0m56 0h0m62 0h0m26 0h0m-267 1h0m89 0h0m22 0h0m56 0h0m68 0h0m8 0h0m3 0h0m7 0h0m22 0h0m-159 1h0m135 0h0m47 0h0m-174 1h0m46 0h0m12 0h0m15 0h0m-124 1h0m88 0h0m95 0h0m6 0h0m-189 1h0m53 0h0m48 0h0m9 0h0m37 0h0m-158 1h0m35 0h0m5 0h0m9 0h0m2 0h0m129 0h0m24 0h0m41 0h0m-225 1h0m10 0h0m69 0h0m19 0h0m23 0h0m5 0h0m1 0h0m17 0h0m31 0h0m6 0h0m-250 1h0m86 0h0m50 0h0m8 0h0m1 0h0m100 0h0m6 0h0m-130 1h0m6 0h0m25 0h0m61 0h0m-130 1h0m2 0h0m43 0h0m12 0h0m16 0h0m67 0h0m7 0h0m11 0h0m-154 1h0m73 0h0m39 0h0m41 0h0m12 0h0m-147 1h0m7 0h0m90 0h0m50 0h0m1 0h0m18 0h0m-221 1h0m37 0h0m12 0h0m12 0h0m49 0h0m33 0h0m-171 1h0m106 0h0m18 0h0m11 0h0m44 0h0m24 0h0m3 0h0m-96 1h0m68 0h0m0 0h0m33 0h0m12 0h0m1 0h0m-200 1h0m85 0h0m34 0h0m49 0h0m5 0h0m11 0h0m13 0h0m35 0h0m-193 1h0m4 0h0m54 0h0m34 0h0m-46 1h0m10 0h0m74 0h0m13 0h0m4 0h0m24 0h0m-112 1h0m100 0h0m-121 1h0m-36 1h0m8 0h0m14 0h0m3 0h0m39 0h0m15 0h0m51 0h0m15 0h0m15 0h0m2 0h0m-174 1h0m18 0h0m37 0h0m1 0h0m18 0h0m82 0h0m-146 1h0m4 0h0m28 0h0m26 0h0m80 0h0m27 0h0m-164 1h0m13 0h0m39 0h0m0 0h0m21 0h0m3 0h0m3 0h0m12 0h0m-79 1h0m43 0h0m52 0h0m4 0h0m21 0h0m21 0h0m11 0h0m-225 1h0m82 0h0m24 0h0m33 0h0m5 0h0m2 0h0m2 0h0m43 0h0m-135 1h0m56 0h0m16 0h0m12 0h0m11 0h0m37 0h0m2 0h0m-204 1h0m40 0h0m62 0h0m21 0h0m7 0h0m19 0h0m35 0h0m-136 1h0m38 0h0m1 0h0m84 0h0m-134 1h0m93 0h0m5 0h0m13 0h0m23 0h0m34 0h0m-155 1h0m40 0h0m3 0h0m34 0h0m46 0h0m7 0h0m25 0h0m5 1h0m1 0h0m7 0h0m0 0h0m-168 1h0m26 0h0m6 0h0m3 0h0m39 0h0m7 0h0m64 0h0m15 0h0m-198 1h0m19 0h0m64 0h0m16 0h0m87 0h0m-161 1h0m90 0h0m57 0h0m14 0h0m8 0h0m10 0h0m7 0h0m-213 1h0m31 0h0m58 0h0m2 0h0m11 0h0m58 0h0m-174 1h0m136 0h0m10 0h0m44 0h0m2 0h0m22 0h0m-200 1h0m15 0h0m53 0h0m78 0h0m-106 1h0m7 0h0m85 0h0m23 0h0m4 0h0m7 0h0m6 0h0m24 0h0m15 0h0m-194 1h0m51 0h0m2 0h0m57 0h0m14 0h0m28 0h0m12 0h0m0 0h0m3 0h0m-181 1h0m14 0h0m40 0h0m62 0h0m51 0h0m-182 1h0m0 0h0m8 0h0m68 0h0m14 0h0m31 0h0m-219 1h0m79 0h0m7 0h0m11 0h0m111 0h0m20 0h0m60 0h0m-41 1h0m12 0h0m83 0h0m-239 1h0m14 0h0m76 0h0m40 0h0m22 0h0m25 0h0m27 0h0m-238 1h0m2 0h0m151 0h0m11 0h0m7 0h0m14 0h0m4 0h0m24 0h0m3 0h0m-123 1h0m1 0h0m7 0h0m2 0h0m87 0h0m43 0h0m-206 1h0m61 0h0m71 0h0m43 0h0m20 0h0m26 0h0m-162 1h0m17 0h0m117 0h0m-234 1h0m68 0h0m-117 1h0m3 0h0m13 0h0m90 0h0m78 0h0m49 0h0m36 0h0m-96 1h0m81 0h0m10 0h0m-271 1h0m7 0h0m52 0h0m10 0h0m8 0h0m18 0h0m93 0h0m36 0h0m13 0h0m7 0h0m-214 1h0m23 0h0m174 0h0m30 0h0m8 0h0m-257 1h0m40 0h0m106 0h0m-113 1h0m12 0h0m183 0h0m8 0h0m9 0h0m30 0h0m-245 1h0m49 0h0m154 0h0m33 0h0m-241 1h0m18 0h0m13 0h0m11 0h0m85 1h0m16 0h0m-157 1h0m6 0h0m28 0h0m-4 1h0m11 0h0m149 0h0m106 0h0m-266 2h0m5 0h0m-23 1h0m-16 1h0m41 0h0m90 0h0m-124 1h0m-4 1h0m51 0h0m-31 1h0m-15 1h0m138 0h0m-132 1h0m9 1h0m124 0h0m-141 2h0m2 0h0m2 0h0m3 0h0m-4 2h0m134 0h0m27 1h0m-24 1h0m-51 1h0m2 0h0m52 2h0m-60 3h0m5 0h0m46 1h0m0 1h0m-54 1h0m4 0h0m70 2h0m-13 1h0m11 0h0m-19 1h0m15 0h0m-14 4h0m14 5h0m-6 3h0m-5 1h0m3 1h0m2 0h0m0 5h0m-4 9h0"/>
<path stroke="#d6a20e" d="M1219 51h0m1 1h0m15 0h0m-5 1h0m3 3h0m-9 6h0m-21 24h0m-12 1h0m1 5h0m-2 2h0m8 0h0m-12 3h0m2 0h0m8 1h0m8 0h0m-13 4h0m18 4h0m-11 1h0m8 5h0m-4 1h0m10 0h0m-10 1h0m0 3h0m-3 2h0m5 0h0m-2 2h0m0 2h0m11 2h0m-13 1h0m15 0h0m2 3h0m10 0h0m-14 1h0m1 12h0m10 0h0m-11 5h0m68 0h0m15 1h0m-81 2h0m3 0h0m5 0h0m23 1h0m-8 1h0m-4 1h0m-3 2h0m-5 3h0m65 0h0m-55 1h0m-16 1h0m5 2h0m14 0h0m-4 1h0m-8 3h0m5 2h0m2 3h0m54 0h0m171 0h0m-189 1h0m181 0h0m0 0h0m-212 1h0m51 1h0m27 0h0m-73 1h0m223 4h0m-9 2h0m-1 1h0m-216 1h0m125 3h0m-126 1h0m217 3h0m2 0h0m-89 1h0m101 0h0m-233 1h0m223 0h0m-214 1h0m0 0h0m222 0h0m16 0h0m-34 1h0m18 0h0m-2 1h0m-219 1h0m4 0h0m220 0h0m-132 1h0m40 0h0m-139 1h0m12 2h0m-13 1h0m11 1h0m102 0h0m13 0h0m-120 2h0m15 0h0m108 0h0m-115 1h0m0 1h0m11 1h0m104 0h0m-119 1h0m3 0h0m19 0h0m185 0h0m-196 1h0m7 0h0m-1 1h0m48 1h0m69 0h0m-133 1h0m68 1h0m23 0h0m-65 1h0m137 1h0m27 1h0m-181 1h0m8 1h0m13 0h0m-11 2h0m-11 1h0m9 2h0m4 0h0m154 0h0m-138 1h0m100 0h0m-112 1h0m87 0h0m-109 1h0m21 0h0m11 0h0m18 0h0m-39 1h0m144 0h0m35 0h0m-188 1h0m0 0h0m2 0h0m118 0h0m5 2h0m-94 1h0m14 0h0m108 0h0m-154 1h0m31 0h0m6 0h0m9 0h0m152 0h0m52 0h0m-121 1h0m-127 2h0m71 1h0m138 0h0m-198 1h0m27 0h0m63 0h0m36 0h0m2 0h0m-109 1h0m6 0h0m0 1h0m62 0h0m-105 1h0m22 0h0m4 0h0m12 0h0m12 0h0m33 0h0m67 0h0m-115 1h0m124 0h0m-150 1h0m55 0h0m1 0h0m18 0h0m267 1h0m-345 1h0m7 0h0m37 0h0m153 1h0m-136 1h0m85 0h0m-151 1h0m42 0h0m-19 1h0m9 1h0m11 0h0m-31 1h0m27 0h0m67 0h0m64 0h0m-138 1h0m79 0h0m23 0h0m33 0h0m14 0h0m-102 2h0m342 1h0m-413 1h0m33 0h0m29 0h0m132 0h0m-169 1h0m41 0h0m0 0h0m131 0h0m-92 1h0m318 0h0m-428 1h0m36 0h0m31 0h0m0 0h0m348 0h0m-399 1h0m11 0h0m82 0h0m310 0h0m-382 1h0m367 0h0m-367 1h0m353 0h0m-301 1h0m7 0h0m68 0h0m237 0h0m5 0h0m-305 1h0m-93 1h0m8 0h0m3 0h0m51 0h0m316 0h0m31 0h0m-345 1h0m340 0h0m2 0h0m-367 1h0m35 0h0m10 0h0m292 0h0m5 0h0m34 0h0m2 0h0m-416 1h0m6 0h0m392 0h0m-373 1h0m34 0h0m144 0h0m172 0h0m3 0h0m7 0h0m10 0h0m-380 1h0m367 0h0m-300 1h0m323 0h0m10 0h0m14 0h0m-434 1h0m421 0h0m-393 1h0m16 0h0m41 0h0m176 0h0m129 0h0m23 0h0m-406 1h0m41 0h0m42 0h0m2 0h0m303 0h0m40 0h0m-444 1h0m36 0h0m40 0h0m-80 1h0m24 0h0m63 0h0m73 0h0m237 0h0m13 0h0m22 0h0m-374 1h0m37 0h0m179 0h0m121 0h0m-331 1h0m40 0h0m-92 1h0m28 0h0m51 0h0m304 0h0m20 0h0m-409 1h0m16 0h0m406 0h0m-407 1h0m0 0h0m376 0h0m-401 1h0m28 0h0m0 0h0m-18 1h0m9 0h0m2 0h0m64 0h0m326 0h0m-412 1h0m3 0h0m36 0h0m367 0h0m16 0h0m3 0h0m-382 1h0m13 0h0m5 0h0m117 0h0m238 0h0m1 0h0m-416 1h0m263 0h0m-259 1h0m71 0h0m1 0h0m116 0h0m214 0h0m-361 1h0m3 0h0m41 0h0m3 0h0m114 0h0m-80 1h0m298 0h0m-353 1h0m-65 1h0m8 0h0m6 0h0m8 0h0m2 0h0m4 0h0m6 0h0m233 0h0m-39 1h0m-111 1h0m-125 1h0m7 0h0m52 0h0m44 0h0m10 0h0m-97 1h0m1 0h0m3 0h0m50 0h0m23 0h0m17 1h0m178 0h0m-289 1h0m3 0h0m29 0h0m22 0h0m15 0h0m28 0h0m116 0h0m-150 1h0m-22 1h0m2 1h0m83 0h0m12 0h0m69 0h0m-113 1h0m2 0h0m73 0h0m8 0h0m-179 1h0m30 0h0m3 0h0m109 0h0m128 0h0m0 0h0m-261 1h0m31 0h0m12 0h0m191 0h0m-245 1h0m1 0h0m30 0h0m2 0h0m86 0h0m144 0h0m-220 1h0m17 0h0m49 0h0m171 0h0m-264 1h0m6 0h0m24 0h0m0 0h0m94 0h0m-90 1h0m212 0h0m-235 1h0m7 0h0m11 0h0m7 0h0m225 0h0m-281 2h0m15 0h0m17 0h0m4 0h0m79 0h0m-114 1h0m12 0h0m15 0h0m9 0h0m11 0h0m11 0h0m-38 1h0m20 0h0m70 0h0m1 0h0m-91 1h0m13 0h0m52 0h0m30 0h0m4 0h0m176 0h0m-264 1h0m15 0h0m5 0h0m79 0h0m-117 1h0m49 0h0m178 0h0m14 0h0m-208 1h0m12 0h0m9 0h0m20 0h0m156 0h0m-200 1h0m20 0h0m184 0h0m-251 1h0m3 0h0m13 0h0m34 0h0m17 0h0m80 0h0m0 0h0m-131 1h0m29 0h0m14 0h0m147 0h0m55 0h0m9 0h0m6 0h0m26 0h0m-306 1h0m1 0h0m15 0h0m2 0h0m29 0h0m203 0h0m-221 1h0m34 0h0m8 0h0m9 0h0m-63 1h0m75 0h0m45 0h0m48 0h0m-178 1h0m65 0h0m25 0h0m48 0h0m-132 1h0m94 0h0m14 0h0m124 0h0m-179 1h0m76 0h0m-86 1h0m176 0h0m78 0h0m-297 1h0m20 0h0m8 0h0m5 0h0m5 0h0m14 0h0m11 0h0m11 0h0m111 0h0m109 0h0m-305 1h0m35 0h0m18 0h0m167 0h0m-223 1h0m138 0h0m134 0h0m-163 1h0m8 0h0m15 0h0m1 0h0m102 0h0m-228 1h0m3 0h0m42 0h0m-40 1h0m21 0h0m1 0h0m72 0h0m136 0h0m-234 1h0m32 0h0m11 0h0m6 0h0m-63 1h0m57 0h0m12 0h0m75 0h0m-132 1h0m45 0h0m1 1h0m6 0h0m0 0h0m10 0h0m209 0h0m8 0h0m-248 1h0m11 0h0m0 0h0m210 0h0m-264 1h0m15 0h0m21 0h0m18 0h0m41 0h0m1 0h0m57 0h0m-46 1h0m42 0h0m-114 1h0m2 0h0m76 0h0m17 0h0m39 0h0m-40 1h0m-94 1h0m18 0h0m13 0h0m-42 1h0m32 0h0m33 0h0m-34 1h0m21 0h0m26 0h0m3 0h0m46 0h0m-131 1h0m-12 1h0m3 0h0m53 0h0m-40 1h0m33 0h0m21 0h0m19 0h0m40 0h0m-97 1h0m65 0h0m-85 1h0m104 0h0m127 0h0m-208 1h0m3 0h0m15 0h0m-43 1h0m3 0h0m30 0h0m15 0h0m-48 1h0m11 0h0m6 0h0m53 0h0m45 0h0m-123 1h0m32 0h0m5 0h0m6 0h0m2 0h0m28 0h0m14 0h0m38 0h0m-123 1h0m36 0h0m15 0h0m12 0h0m-68 1h0m12 0h0m12 0h0m27 0h0m35 0h0m-39 2h0m17 0h0m9 0h0m1 0h0m38 0h0m26 0h0m-131 1h0m24 0h0m-28 1h0m5 0h0m29 0h0m11 0h0m18 0h0m16 0h0m14 0h0m-76 1h0m45 0h0m58 0h0m21 0h0m-123 1h0m48 0h0m2 0h0m15 0h0m11 0h0m-49 1h0m8 0h0m82 0h0m-56 1h0m2 0h0m-67 1h0m39 0h0m-13 1h0m20 0h0m37 0h0m-104 1h0m9 0h0m23 0h0m20 0h0m5 0h0m26 0h0m35 0h0m11 0h0m12 0h0m-29 1h0m4 0h0m28 0h0m25 0h0m-148 1h0m53 0h0m19 0h0m48 0h0m19 0h0m-82 1h0m-41 1h0m61 0h0m-39 1h0m17 0h0m4 0h0m39 0h0m-97 1h0m9 0h0m7 1h0m69 0h0m30 0h0m19 0h0m-142 1h0m1 0h0m26 0h0m38 0h0m33 0h0m13 0h0m-71 1h0m69 0h0m6 0h0m4 0h0m-103 1h0m28 0h0m24 0h0m-61 1h0m40 0h0m5 0h0m18 0h0m7 0h0m0 0h0m6 0h0m0 0h0m46 0h0m-126 1h0m53 0h0m12 0h0m22 0h0m-18 2h0m3 0h0m27 0h0m-107 1h0m4 0h0m15 0h0m38 0h0m4 0h0m3 0h0m12 0h0m-34 1h0m21 0h0m16 0h0m17 0h0m19 0h0m-67 1h0m29 0h0m56 0h0m-58 1h0m25 0h0m-39 1h0m15 0h0m3 0h0m3 0h0m-3 2h0m30 0h0m-93 1h0m1 0h0m11 0h0m3 0h0m10 0h0m15 0h0m16 0h0m-65 1h0m3 0h0m20 0h0m63 0h0m2 0h0m-39 1h0m-16 1h0m15 0h0m45 0h0m178 0h0m-265 1h0m1 0h0m24 0h0m58 0h0m14 0h0m-90 1h0m70 0h0m7 0h0m31 0h0m-88 1h0m23 0h0m11 0h0m62 0h0m2 0h0m-132 1h0m6 0h0m49 0h0m-51 1h0m2 0h0m-2 2h0m7 0h0m41 0h0m10 0h0m21 0h0m10 0h0m-70 1h0m7 0h0m49 0h0m16 0h0m-69 1h0m3 0h0m9 0h0m-25 1h0m75 0h0m22 0h0m25 0h0m-104 1h0m17 0h0m13 0h0m16 0h0m15 0h0m-36 1h0m14 0h0m6 0h0m28 0h0m-87 1h0m13 0h0m23 0h0m0 0h0m3 0h0m-47 1h0m46 0h0m-44 1h0m21 0h0m60 0h0m15 0h0m-17 1h0m-79 1h0m53 0h0m3 0h0m33 0h0m-82 1h0m77 0h0m-28 1h0m8 0h0m-35 1h0m16 0h0m36 0h0m-89 1h0m31 1h0m16 0h0m3 1h0m15 0h0m15 0h0m45 0h0m-37 1h0m0 0h0m-86 1h0m37 0h0m37 0h0m2 0h0m-16 1h0m39 0h0m12 0h0m-110 1h0m27 0h0m3 0h0m25 0h0m43 0h0m1 0h0m-57 1h0m-27 1h0m80 0h0m4 0h0m13 0h0m-69 1h0m28 0h0m-67 1h0m15 0h0m41 0h0m42 0h0m-5 1h0m-20 1h0m-8 1h0m-65 1h0m28 0h0m-27 1h0m6 0h0m41 0h0m12 0h0m23 0h0m0 1h0m-27 1h0m20 0h0m4 0h0m-33 1h0m41 0h0m136 0h0m-225 1h0m7 0h0m39 0h0m-19 1h0m45 0h0m32 0h0m-91 1h0m15 0h0m30 0h0m-49 1h0m17 0h0m44 0h0m5 0h0m-63 1h0m26 0h0m48 0h0m-78 1h0m2 0h0m35 0h0m8 0h0m3 0h0m192 1h0m-178 1h0m-19 1h0m20 0h0m40 0h0m-67 3h0m-25 1h0m31 0h0m14 0h0m10 1h0m3 0h0m13 0h0m22 0h0m-5 1h0m-29 2h0m167 0h0m-177 1h0m69 0h0m-123 1h0m10 0h0m34 0h0m10 0h0m-32 1h0m43 0h0m24 0h0m-74 1h0m9 0h0m45 1h0m30 0h0m-61 1h0m13 0h0m13 0h0m5 0h0m6 0h0m10 0h0m13 0h0m7 0h0m-37 1h0m-69 1h0m30 1h0m36 0h0m5 1h0m27 0h0m-60 1h0m26 0h0m4 0h0m2 0h0m-7 1h0m6 0h0m-29 1h0m1 0h0m35 0h0m-63 1h0m21 1h0m64 0h0m-64 1h0m46 1h0m-64 2h0m38 0h0m-17 1h0m11 0h0m29 0h0m-13 1h0m-45 1h0m13 1h0m20 1h0m51 0h0m-17 4h0m137 5h0m-114 3h0m17 0h0m-7 16h0m-21 2h0m11 1h0m71 14h0m-127 11h0m-22 2h0m79 7h0m-137 10h0"/>
<path stroke="#d6a20e" d="M1217 55h0m-2 3h0m-10 38h0m-18 1h0m8 3h0m-7 1h0m7 1h0m13 2h0m-12 2h0m4 1h0m3 0h0m-4 5h0m-1 2h0m10 0h0m7 0h0m4 0h0m-13 4h0m-13 1h0m22 1h0m2 0h0m-4 1h0m-6 1h0m-6 1h0m11 1h0m-12 2h0m0 1h0m5 2h0m5 3h0m2 3h0m-7 1h0m3 0h0m21 3h0m4 0h0m68 0h0m-73 3h0m0 2h0m-15 3h0m-1 1h0m19 4h0m65 1h0m-81 1h0m8 1h0m-4 2h0m1 1h0m8 1h0m-9 2h0m73 0h0m24 2h0m-80 1h0m82 1h0m-90 1h0m127 1h0m-131 1h0m72 1h0m11 0h0m139 0h0m-215 1h0m-6 1h0m226 2h0m-201 2h0m-8 3h0m5 1h0m0 0h0m62 0h0m24 0h0m-95 1h0m13 0h0m43 1h0m165 1h0m-209 1h0m42 0h0m174 2h0m-213 4h0m201 2h0m-212 1h0m78 0h0m147 0h0m-220 1h0m6 0h0m47 0h0m-60 1h0m13 1h0m41 0h0m51 0h0m46 1h0m-151 1h0m85 0h0m47 0h0m-120 1h0m91 0h0m-97 1h0m149 0h0m-146 2h0m150 0h0m-154 1h0m1 0h0m4 1h0m51 1h0m5 1h0m117 0h0m40 0h0m-206 1h0m121 1h0m84 0h0m-200 1h0m-14 1h0m4 0h0m-7 2h0m11 0h0m-2 1h0m15 1h0m229 0h0m-152 1h0m-102 1h0m4 0h0m26 0h0m120 0h0m-128 2h0m15 0h0m-27 1h0m3 0h0m6 0h0m5 3h0m-9 1h0m12 0h0m157 0h0m-176 1h0m7 0h0m33 0h0m53 0h0m-70 1h0m64 0h0m103 0h0m-177 1h0m9 0h0m161 0h0m-161 1h0m135 0h0m-134 1h0m87 0h0m14 0h0m87 0h0m-212 1h0m22 0h0m92 2h0m45 0h0m-148 1h0m6 0h0m75 0h0m112 0h0m-174 1h0m27 0h0m-44 1h0m16 1h0m5 0h0m-9 1h0m-29 1h0m124 0h0m-105 1h0m-12 1h0m7 0h0m32 0h0m-41 1h0m140 0h0m-115 1h0m10 1h0m10 0h0m153 0h0m-186 1h0m11 1h0m14 0h0m92 0h0m-112 1h0m1 0h0m7 0h0m28 0h0m145 0h0m18 0h0m-217 2h0m25 0h0m14 0h0m-4 1h0m9 0h0m-40 1h0m18 0h0m16 0h0m12 0h0m1 0h0m5 0h0m-30 1h0m83 0h0m112 0h0m-150 1h0m155 0h0m-226 1h0m15 0h0m83 0h0m24 1h0m-100 1h0m3 2h0m57 0h0m-44 1h0m376 0h0m-377 1h0m364 0h0m12 0h0m8 0h0m-392 1h0m393 0h0m10 0h0m-335 1h0m-26 1h0m-57 1h0m404 0h0m-270 1h0m249 0h0m4 0h0m19 0h0m-299 1h0m4 0h0m1 0h0m45 0h0m255 0h0m-358 1h0m41 0h0m143 0h0m151 0h0m31 0h0m-231 1h0m165 0h0m-338 1h0m3 0h0m48 0h0m341 0h0m-412 1h0m1 0h0m15 0h0m56 0h0m311 0h0m31 0h0m-400 1h0m73 0h0m-76 1h0m18 0h0m50 0h0m100 0h0m199 0h0m9 1h0m12 0h0m24 0h0m-416 1h0m23 0h0m212 0h0m-239 1h0m148 0h0m232 0h0m-306 1h0m6 0h0m36 0h0m260 0h0m-374 1h0m30 0h0m27 0h0m181 0h0m173 0h0m-431 1h0m7 0h0m348 0h0m43 0h0m13 0h0m21 0h0m-421 1h0m11 0h0m19 0h0m12 0h0m368 0h0m-329 1h0m22 0h0m-108 1h0m427 0h0m-413 1h0m16 0h0m6 0h0m11 0h0m23 0h0m96 0h0m-127 1h0m363 0h0m-403 1h0m69 0h0m33 0h0m290 0h0m-300 1h0m182 0h0m-271 1h0m32 0h0m21 0h0m16 0h0m33 0h0m3 0h0m1 0h0m148 0h0m7 0h0m146 0h0m16 0h0m-401 1h0m1 0h0m248 0h0m126 0h0m2 0h0m-402 1h0m23 0h0m32 0h0m365 0h0m-307 1h0m25 0h0m295 0h0m-419 1h0m4 0h0m5 0h0m166 0h0m-200 1h0m99 0h0m32 0h0m151 0h0m-131 1h0m283 0h0m-432 1h0m25 0h0m3 0h0m145 0h0m-164 1h0m4 0h0m79 0h0m-86 1h0m34 0h0m157 0h0m10 0h0m15 0h0m84 0h0m-141 1h0m76 0h0m-235 1h0m72 0h0m16 0h0m42 0h0m96 0h0m67 0h0m-232 1h0m34 0h0m2 0h0m-107 1h0m43 0h0m8 0h0m71 0h0m5 0h0m154 0h0m16 0h0m131 0h0m-412 1h0m23 1h0m5 0h0m6 0h0m7 0h0m8 0h0m168 0h0m-199 1h0m21 0h0m20 0h0m2 0h0m51 0h0m-137 1h0m16 0h0m16 0h0m6 0h0m146 0h0m13 0h0m8 0h0m100 0h0m-303 1h0m6 0h0m35 0h0m6 0h0m57 0h0m2 0h0m82 0h0m110 0h0m-298 1h0m55 0h0m33 0h0m6 0h0m33 0h0m79 0h0m75 0h0m-279 1h0m63 0h0m-35 1h0m17 0h0m12 0h0m73 0h0m32 0h0m-156 1h0m33 0h0m19 0h0m9 0h0m3 0h0m37 0h0m24 0h0m23 0h0m-135 1h0m0 0h0m15 0h0m79 0h0m110 0h0m-195 1h0m6 0h0m11 0h0m94 0h0m18 0h0m-48 1h0m2 0h0m-113 1h0m35 0h0m5 0h0m13 1h0m6 0h0m46 0h0m73 0h0m-166 1h0m97 0h0m124 0h0m4 0h0m55 0h0m-235 1h0m11 0h0m105 0h0m122 0h0m-246 1h0m2 0h0m8 0h0m151 0h0m7 0h0m5 0h0m-227 1h0m55 0h0m1 0h0m5 0h0m2 0h0m-66 1h0m11 1h0m8 0h0m29 0h0m-3 1h0m15 0h0m12 0h0m0 0h0m-37 1h0m10 0h0m16 0h0m40 0h0m154 0h0m16 0h0m-267 1h0m5 0h0m5 0h0m43 0h0m69 0h0m-129 1h0m48 0h0m4 0h0m31 0h0m43 0h0m-122 1h0m66 0h0m1 0h0m6 0h0m36 0h0m25 0h0m21 0h0m-159 1h0m318 1h0m-301 1h0m53 0h0m-30 1h0m16 0h0m23 0h0m132 0h0m-203 1h0m3 0h0m10 0h0m1 0h0m4 0h0m9 0h0m6 0h0m30 0h0m16 0h0m37 0h0m2 0h0m19 0h0m108 0h0m43 0h0m13 0h0m-263 1h0m2 0h0m2 0h0m2 0h0m6 0h0m8 0h0m55 0h0m5 0h0m-75 1h0m26 0h0m20 0h0m55 0h0m56 0h0m23 0h0m-221 1h0m6 0h0m28 0h0m50 0h0m19 0h0m-10 1h0m20 0h0m6 0h0m-78 1h0m4 0h0m11 1h0m-28 1h0m4 0h0m8 0h0m26 0h0m72 0h0m63 0h0m-204 1h0m13 0h0m62 0h0m-36 1h0m-34 1h0m20 0h0m29 0h0m-48 1h0m44 0h0m72 0h0m-67 1h0m1 0h0m3 0h0m16 0h0m41 0h0m-100 1h0m4 0h0m6 0h0m18 0h0m1 0h0m4 0h0m2 0h0m26 0h0m2 0h0m37 0h0m-120 1h0m25 0h0m33 0h0m2 0h0m23 0h0m5 0h0m-93 1h0m62 0h0m23 0h0m218 0h0m-260 1h0m32 0h0m55 0h0m-23 1h0m9 0h0m28 0h0m-122 1h0m0 0h0m60 0h0m51 0h0m3 0h0m134 0h0m-264 1h0m17 0h0m32 0h0m91 0h0m13 0h0m-145 1h0m77 0h0m11 0h0m-107 1h0m15 0h0m25 0h0m46 0h0m41 0h0m-110 1h0m29 0h0m-7 1h0m22 0h0m6 1h0m-43 1h0m15 0h0m64 0h0m15 0h0m125 0h0m-133 1h0m-80 1h0m97 1h0m-114 1h0m11 0h0m113 0h0m-58 1h0m25 0h0m4 0h0m3 0h0m8 0h0m36 0h0m-145 1h0m16 0h0m1 0h0m9 0h0m59 0h0m-69 1h0m0 0h0m63 0h0m70 0h0m-99 1h0m91 0h0m-122 1h0m2 0h0m9 0h0m6 0h0m27 0h0m23 0h0m47 0h0m-125 1h0m25 0h0m21 0h0m44 0h0m55 0h0m-147 2h0m41 0h0m-14 1h0m3 0h0m59 0h0m-96 1h0m16 0h0m27 0h0m-7 1h0m1 0h0m37 0h0m8 0h0m-67 1h0m27 0h0m17 0h0m-52 1h0m36 0h0m6 0h0m82 0h0m-35 1h0m31 0h0m16 0h0m10 0h0m-140 1h0m13 0h0m10 0h0m35 1h0m1 0h0m-48 1h0m109 0h0m-111 1h0m4 0h0m59 0h0m20 0h0m4 0h0m-20 1h0m35 0h0m-87 1h0m34 0h0m-58 1h0m19 0h0m14 0h0m17 0h0m13 1h0m11 0h0m38 0h0m4 0h0m-53 1h0m22 0h0m13 0h0m-101 1h0m22 0h0m54 0h0m-77 1h0m10 0h0m33 0h0m-33 1h0m3 0h0m20 0h0m-2 1h0m7 0h0m14 0h0m20 0h0m14 0h0m8 0h0m-22 1h0m21 0h0m16 0h0m-35 1h0m-75 1h0m29 0h0m23 0h0m21 0h0m10 0h0m8 0h0m0 0h0m-61 1h0m45 0h0m-44 1h0m53 0h0m54 0h0m-134 1h0m138 0h0m-121 1h0m47 0h0m19 0h0m4 0h0m5 0h0m-66 1h0m6 0h0m70 0h0m6 0h0m-88 1h0m113 0h0m-127 2h0m24 0h0m81 0h0m-86 1h0m20 0h0m23 0h0m16 0h0m14 0h0m-64 1h0m12 0h0m32 0h0m-48 1h0m21 0h0m33 0h0m-59 1h0m27 0h0m-22 1h0m55 0h0m9 0h0m19 0h0m-85 1h0m48 0h0m-7 1h0m41 0h0m-77 1h0m27 0h0m25 0h0m11 0h0m-90 1h0m71 0h0m-65 1h0m67 0h0m-14 1h0m11 0h0m-54 1h0m5 0h0m16 0h0m7 0h0m39 0h0m27 0h0m-50 1h0m27 0h0m34 0h0m-32 1h0m-20 1h0m-5 1h0m-49 1h0m3 0h0m53 0h0m30 0h0m-94 1h0m6 0h0m38 0h0m0 0h0m3 0h0m-17 2h0m19 0h0m92 0h0m-140 1h0m55 0h0m9 0h0m57 0h0m-115 1h0m16 0h0m54 0h0m-77 1h0m53 0h0m-53 1h0m0 0h0m83 0h0m-77 1h0m7 0h0m48 0h0m50 0h0m-45 1h0m-56 1h0m9 0h0m27 0h0m78 0h0m-127 1h0m30 0h0m47 0h0m-57 1h0m20 0h0m-42 1h0m17 0h0m14 0h0m28 0h0m37 0h0m-20 1h0m7 0h0m-43 1h0m23 0h0m-50 1h0m29 1h0m32 0h0m8 0h0m-38 1h0m36 0h0m5 0h0m18 0h0m151 0h0m-187 1h0m24 0h0m-84 2h0m60 0h0m10 1h0m-4 1h0m-73 1h0m85 1h0m31 0h0m-37 1h0m37 0h0m-60 1h0m15 0h0m-46 1h0m15 0h0m40 0h0m-55 1h0m0 1h0m14 1h0m-23 1h0m30 0h0m17 0h0m21 0h0m63 0h0m-64 1h0m13 0h0m1 0h0m-75 1h0m6 0h0m4 0h0m46 0h0m-16 1h0m-52 1h0m40 0h0m23 0h0m12 0h0m-68 1h0m59 1h0m214 0h0m-208 1h0m-54 1h0m48 0h0m2 0h0m-61 1h0m44 0h0m10 0h0m5 1h0m1 0h0m4 0h0m21 0h0m10 0h0m-47 1h0m4 0h0m1 0h0m1 0h0m6 0h0m36 0h0m3 0h0m-28 1h0m-52 1h0m4 0h0m3 1h0m41 0h0m19 0h0m-66 1h0m46 0h0m-39 1h0m36 0h0m-61 1h0m36 0h0m-33 1h0m30 1h0m44 1h0m-27 1h0m24 0h0m-36 1h0m-33 1h0m30 0h0m41 0h0m7 0h0m-20 2h0m-39 1h0m7 0h0m8 1h0m37 0h0m-37 1h0m41 0h0m-36 3h0m5 0h0m-23 2h0m154 2h0m30 8h0m-85 6h0m58 7h0m-154 6h0m156 0h0m-67 3h0m18 0h0m46 2h0m-187 23h0m39 13h0m28 30h0"/>
<path stroke="#124d8c" d="M1224 48h0m15 0h0m-6 2h0m-6 1h0m14 1h0m-13 2h0m18 2h0m-17 1h0m14 1h0m10 0h0m-48 3h0m57 0h0m-51 1h0m36 2h0m-44 2h0m11 0h0m42 0h0m-49 1h0m52 1h0m-49 3h0m57 0h0m-4 4h0m0 1h0m-62 1h0m60 2h0m3 0h0m2 0h0m0 0h0m-79 4h0m87 2h0m-86 1h0m9 0h0m-11 1h0m-12 1h0m128 0h0m-119 2h0m13 0h0m52 0h0m-44 5h0m-16 1h0m67 0h0m-32 2h0m55 0h0m-67 2h0m-1 1h0m82 1h0m-53 3h0m42 3h0m-62 1h0m-8 1h0m4 3h0m10 0h0m65 0h0m-70 2h0m3 0h0m88 0h0m-82 1h0m20 0h0m52 1h0m-76 2h0m0 2h0m16 4h0m79 0h0m-116 2h0m106 2h0m-17 2h0m3 0h0m-61 3h0m28 0h0m5 0h0m3 0h0m24 1h0m-60 7h0m39 0h0m-24 2h0m-9 1h0m8 4h0m6 2h0m53 1h0m-62 1h0m-6 1h0m46 0h0m-37 1h0m52 0h0m-76 2h0m20 0h0m224 1h0m-223 2h0m34 0h0m34 0h0m-18 1h0m108 0h0m55 0h0m-131 1h0m-77 1h0m2 1h0m-8 1h0m74 0h0m-21 1h0m6 0h0m-53 1h0m207 0h0m-135 1h0m-67 2h0m136 0h0m83 0h0m-3 3h0m-176 1h0m168 0h0m-172 1h0m171 0h0m-211 1h0m35 1h0m10 1h0m1 0h0m17 0h0m31 0h0m16 0h0m-107 1h0m19 0h0m14 0h0m6 0h0m78 0h0m-67 2h0m54 0h0m109 1h0m-208 1h0m88 0h0m9 0h0m-94 1h0m41 1h0m6 1h0m27 1h0m1 0h0m28 0h0m-97 2h0m214 0h0m-218 1h0m9 0h0m24 0h0m91 0h0m-130 2h0m21 0h0m2 0h0m1 0h0m2 0h0m27 0h0m182 0h0m-225 1h0m3 0h0m9 0h0m30 0h0m2 0h0m19 1h0m8 0h0m38 0h0m-68 1h0m161 0h0m-208 1h0m10 0h0m90 0h0m-111 1h0m43 0h0m142 0h0m-170 1h0m10 0h0m21 1h0m20 0h0m166 0h0m-207 1h0m13 0h0m27 0h0m186 0h0m-232 1h0m144 0h0m1 0h0m-82 1h0m5 0h0m1 0h0m48 0h0m106 0h0m-238 1h0m4 0h0m38 0h0m72 0h0m16 0h0m102 1h0m7 0h0m-199 1h0m21 0h0m78 0h0m102 0h0m3 0h0m-105 1h0m86 0h0m6 0h0m-197 1h0m31 0h0m70 0h0m-123 1h0m214 0h0m1 0h0m-91 1h0m135 0h0m-139 1h0m20 0h0m89 0h0m0 0h0m-226 1h0m102 1h0m113 0h0m18 0h0m1 0h0m10 0h0m13 0h0m-193 1h0m53 0h0m12 0h0m8 0h0m120 0h0m10 0h0m-211 1h0m18 0h0m1 0h0m5 0h0m0 0h0m42 0h0m35 0h0m99 0h0m21 0h0m4 0h0m-278 1h0m104 0h0m9 0h0m32 0h0m9 0h0m-109 1h0m78 0h0m4 0h0m41 0h0m44 0h0m5 0h0m27 0h0m-239 1h0m57 0h0m161 0h0m-178 1h0m2 0h0m93 0h0m92 0h0m23 0h0m-241 1h0m24 0h0m82 0h0m10 0h0m50 0h0m-97 1h0m51 0h0m70 0h0m73 0h0m-206 1h0m61 0h0m10 0h0m6 0h0m17 0h0m18 0h0m104 0h0m-251 1h0m130 0h0m39 0h0m12 0h0m33 0h0m7 0h0m-210 1h0m110 0h0m14 0h0m-142 1h0m15 0h0m2 0h0m16 0h0m52 0h0m38 0h0m-109 1h0m65 0h0m21 0h0m0 0h0m49 0h0m11 0h0m41 0h0m-166 1h0m28 0h0m53 0h0m7 0h0m9 0h0m82 0h0m-200 1h0m27 0h0m13 0h0m13 0h0m45 0h0m24 0h0m11 0h0m-158 1h0m98 0h0m5 0h0m31 0h0m0 0h0m-65 1h0m9 0h0m33 0h0m51 0h0m11 0h0m-78 1h0m23 0h0m103 0h0m46 0h0m11 0h0m-269 1h0m60 0h0m47 0h0m10 0h0m43 0h0m-81 1h0m15 0h0m4 0h0m32 0h0m8 0h0m20 0h0m84 0h0m-203 1h0m8 0h0m9 0h0m174 0h0m4 0h0m10 0h0m-108 1h0m128 0h0m-142 1h0m9 0h0m30 0h0m-111 1h0m8 0h0m6 0h0m21 0h0m62 0h0m70 0h0m93 0h0m-309 1h0m57 0h0m14 0h0m38 0h0m-76 1h0m38 0h0m39 0h0m2 0h0m-4 1h0m34 0h0m167 0h0m-212 1h0m201 0h0m-270 1h0m200 0h0m18 0h0m-248 1h0m37 0h0m29 0h0m169 0h0m21 0h0m-128 1h0m21 0h0m83 0h0m23 0h0m-171 1h0m15 0h0m-79 1h0m56 0h0m0 0h0m52 0h0m-76 1h0m81 0h0m72 0h0m-40 1h0m65 0h0m77 0h0m8 0h0m5 0h0m-320 1h0m64 0h0m65 0h0m29 0h0m9 0h0m196 0h0m-301 1h0m24 0h0m42 0h0m230 0h0m-176 1h0m96 0h0m51 0h0m24 0h0m-262 1h0m-87 1h0m42 0h0m37 1h0m30 0h0m264 0h0m-349 1h0m55 0h0m63 0h0m15 0h0m28 0h0m1 0h0m-192 1h0m65 0h0m12 0h0m5 0h0m281 0h0m-367 1h0m132 0h0m231 0h0m-356 1h0m30 0h0m21 0h0m51 0h0m72 0h0m153 0h0m-239 1h0m30 0h0m215 0h0m3 0h0m-327 1h0m70 0h0m160 0h0m104 0h0m-275 1h0m65 0h0m3 0h0m250 0h0m2 0h0m-336 1h0m214 0h0m-115 1h0m-42 1h0m97 0h0m-191 1h0m61 0h0m4 0h0m69 0h0m43 0h0m-112 1h0m9 0h0m24 0h0m56 0h0m-111 2h0m4 0h0m36 0h0m81 0h0m91 0h0m-241 1h0m31 0h0m17 0h0m78 0h0m25 0h0m-166 1h0m109 0h0m-53 1h0m97 0h0m196 0h0m-276 1h0m303 0h0m-197 1h0m197 0h0m-333 1h0m8 0h0m117 0h0m9 0h0m86 0h0m-260 1h0m65 0h0m18 0h0m0 0h0m6 0h0m40 0h0m215 0h0m18 0h0m-199 1h0m171 0h0m12 0h0m-336 1h0m36 0h0m109 0h0m26 0h0m56 0h0m-90 1h0m-139 1h0m27 0h0m61 0h0m184 0h0m-198 1h0m119 0h0m56 0h0m24 0h0m-288 1h0m164 0h0m-76 1h0m45 0h0m17 0h0m206 0h0m-365 1h0m22 0h0m10 0h0m66 0h0m89 0h0m-139 1h0m11 0h0m48 0h0m33 0h0m-65 1h0m267 0h0m24 0h0m-249 1h0m41 0h0m67 0h0m-123 1h0m-85 1h0m106 0h0m30 0h0m30 0h0m30 0h0m51 0h0m123 0h0m-313 1h0m61 0h0m22 0h0m198 0h0m-349 1h0m23 0h0m25 0h0m58 0h0m7 0h0m26 0h0m14 0h0m7 0h0m25 0h0m-180 1h0m89 0h0m44 0h0m25 0h0m205 0h0m-323 1h0m2 0h0m116 0h0m40 0h0m5 0h0m150 0h0m-226 2h0m7 0h0m77 0h0m-130 1h0m3 0h0m25 0h0m62 0h0m1 0h0m46 0h0m-21 1h0m-118 1h0m9 0h0m51 0h0m3 0h0m18 0h0m85 0h0m-150 1h0m132 0h0m-309 1h0m4 0h0m101 0h0m43 0h0m133 0h0m25 0h0m2 0h0m-194 1h0m42 0h0m35 0h0m98 0h0m28 0h0m-192 1h0m63 0h0m9 0h0m1 0h0m35 0h0m3 0h0m70 0h0m-159 1h0m154 0h0m4 0h0m5 0h0m-157 1h0m9 0h0m39 0h0m49 0h0m52 0h0m-199 1h0m84 0h0m42 0h0m26 0h0m45 0h0m-204 1h0m162 0h0m8 0h0m26 0h0m-150 1h0m31 0h0m87 0h0m4 0h0m7 0h0m32 0h0m-210 1h0m63 0h0m101 0h0m-259 1h0m151 0h0m9 0h0m15 0h0m1 0h0m140 0h0m47 0h0m-157 1h0m26 0h0m-146 1h0m11 0h0m71 0h0m41 0h0m67 0h0m-281 1h0m150 0h0m62 0h0m66 0h0m47 0h0m-132 1h0m20 0h0m16 0h0m19 0h0m14 0h0m31 0h0m16 0h0m24 0h0m-195 1h0m31 0h0m3 0h0m20 0h0m20 0h0m114 0h0m7 0h0m-242 1h0m71 0h0m4 0h0m6 0h0m68 0h0m7 0h0m12 0h0m18 0h0m13 0h0m23 0h0m86 0h0m-230 1h0m81 0h0m31 0h0m-47 1h0m4 0h0m20 0h0m0 0h0m-160 1h0m166 0h0m61 0h0m0 0h0m-214 1h0m61 0h0m5 0h0m4 0h0m47 0h0m2 0h0m18 0h0m-146 1h0m66 0h0m167 0h0m-264 1h0m40 0h0m53 0h0m14 0h0m37 0h0m1 0h0m15 0h0m11 0h0m84 0h0m36 0h0m-275 1h0m229 0h0m17 0h0m-217 1h0m-89 1h0m177 0h0m29 0h0m90 0h0m-259 1h0m93 0h0m6 0h0m11 0h0m8 0h0m16 0h0m13 0h0m33 0h0m21 0h0m8 0h0m-206 1h0m9 0h0m13 0h0m150 0h0m12 0h0m43 0h0m-214 1h0m60 0h0m17 0h0m14 0h0m17 0h0m72 0h0m103 0h0m-198 1h0m12 0h0m26 0h0m173 0h0m-292 1h0m87 0h0m55 0h0m4 0h0m68 0h0m17 0h0m-324 1h0m78 0h0m115 0h0m25 0h0m0 0h0m9 0h0m36 0h0m15 0h0m-184 1h0m181 0h0m2 0h0m-145 1h0m24 0h0m-10 1h0m14 0h0m38 0h0m31 0h0m10 0h0m44 0h0m-208 1h0m84 0h0m25 0h0m15 0h0m39 0h0m26 0h0m27 0h0m4 0h0m-71 1h0m187 0h0m-298 1h0m47 0h0m9 0h0m39 0h0m11 0h0m39 0h0m-193 1h0m30 0h0m5 0h0m129 0h0m11 0h0m1 0h0m26 0h0m6 0h0m16 0h0m18 0h0m9 0h0m-186 1h0m41 0h0m3 0h0m38 0h0m-113 1h0m52 0h0m4 0h0m114 0h0m57 0h0m-203 1h0m12 0h0m11 0h0m30 0h0m32 0h0m5 0h0m32 0h0m6 0h0m29 0h0m4 0h0m-205 1h0m49 0h0m3 0h0m20 0h0m79 0h0m10 0h0m23 0h0m-196 1h0m12 0h0m71 0h0m54 0h0m5 0h0m4 0h0m77 0h0m-201 1h0m62 0h0m8 0h0m102 0h0m43 0h0m-236 1h0m73 0h0m21 0h0m41 0h0m27 0h0m33 0h0m-101 1h0m3 0h0m42 0h0m-206 1h0m0 0h0m71 0h0m18 0h0m10 0h0m6 0h0m3 0h0m69 0h0m21 0h0m37 0h0m17 0h0m33 0h0m42 0h0m-242 1h0m4 0h0m28 0h0m30 0h0m51 0h0m101 0h0m-140 1h0m33 0h0m28 0h0m3 0h0m21 0h0m21 0h0m-27 1h0m2 0h0m4 0h0m1 0h0m13 0h0m23 0h0m-93 1h0m14 0h0m28 0h0m10 0h0m-106 1h0m115 0h0m3 0h0m1 0h0m17 0h0m-78 1h0m37 0h0m9 0h0m-48 1h0m18 0h0m18 0h0m-221 1h0m226 0h0m62 0h0m-229 1h0m42 0h0m101 0h0m53 0h0m36 0h0m10 0h0m-244 1h0m4 0h0m33 0h0m53 0h0m7 0h0m20 0h0m4 0h0m20 0h0m19 0h0m34 0h0m6 0h0m46 0h0m-235 1h0m83 0h0m49 0h0m13 0h0m54 0h0m-205 1h0m5 0h0m105 0h0m41 0h0m16 0h0m30 0h0m7 0h0m-204 1h0m35 0h0m113 0h0m1 0h0m17 0h0m-166 1h0m88 0h0m5 0h0m27 0h0m45 0h0m4 0h0m26 0h0m34 0h0m-221 1h0m72 0h0m59 0h0m62 0h0m-199 1h0m163 0h0m-123 1h0m18 0h0m64 0h0m33 0h0m-136 1h0m17 0h0m58 0h0m39 0h0m81 0h0m15 0h0m-100 1h0m43 0h0m18 0h0m13 0h0m17 0h0m-135 1h0m148 0h0m-152 1h0m19 0h0m38 0h0m6 0h0m58 0h0m9 0h0m1 0h0m14 0h0m24 0h0m-244 1h0m81 0h0m68 0h0m17 0h0m6 0h0m24 0h0m11 0h0m-202 1h0m23 0h0m64 0h0m45 0h0m9 0h0m58 0h0m7 0h0m-219 1h0m88 0h0m26 0h0m44 0h0m62 0h0m-204 1h0m18 0h0m96 0h0m2 0h0m1 0h0m24 0h0m55 0h0m26 0h0m-251 1h0m111 0h0m3 0h0m18 0h0m87 0h0m16 0h0m-5 1h0m-216 1h0m78 0h0m30 0h0m4 0h0m22 0h0m30 0h0m16 0h0m14 0h0m19 0h0m-210 1h0m49 0h0m37 0h0m60 0h0m20 0h0m34 0h0m50 0h0m-138 1h0m80 0h0m-180 1h0m69 0h0m35 0h0m11 0h0m21 0h0m6 0h0m21 0h0m18 0h0m40 0h0m-138 1h0m9 0h0m25 0h0m126 0h0m-209 1h0m93 0h0m14 0h0m6 0h0m-164 1h0m8 0h0m49 0h0m43 0h0m68 0h0m3 0h0m105 0h0m-182 1h0m27 0h0m17 0h0m136 0h0m-277 1h0m17 0h0m0 0h0m1 0h0m-20 1h0m22 0h0m103 0h0m43 0h0m24 0h0m3 0h0m-66 1h0m74 0h0m29 0h0m-267 1h0m36 0h0m134 0h0m17 0h0m7 0h0m-143 1h0m194 0h0m-110 1h0m37 0h0m18 0h0m14 0h0m8 0h0m-169 1h0m23 0h0m55 0h0m37 0h0m39 0h0m32 0h0m94 0h0m-149 1h0m13 0h0m47 0h0m-144 1h0m88 0h0m27 0h0m42 0h0m14 0h0m17 0h0m20 0h0m-155 1h0m20 0h0m7 0h0m12 0h0m2 0h0m-29 1h0m56 0h0m6 0h0m26 0h0m13 0h0m-209 1h0m2 0h0m25 0h0m40 0h0m54 0h0m7 0h0m2 0h0m10 0h0m17 0h0m118 0h0m0 0h0m-250 1h0m39 0h0m44 0h0m65 0h0m7 0h0m17 0h0m-216 1h0m40 0h0m18 0h0m54 0h0m6 0h0m11 0h0m11 0h0m0 0h0m21 0h0m15 0h0m23 0h0m43 0h0m-175 1h0m2 0h0m42 0h0m37 0h0m32 0h0m5 0h0m-177 1h0m21 0h0m78 0h0m87 0h0m23 0h0m2 0h0m-256 1h0m38 0h0m19 0h0m102 0h0m177 0h0m-282 1h0m22 0h0m117 0h0m4 0h0m-119 1h0m134 0h0m111 0h0m-282 1h0m114 0h0m26 0h0m37 0h0m123 0h0m-264 1h0m3 0h0m82 0h0m48 0h0m36 0h0m1 0h0m7 0h0m4 0h0m0 0h0m3 0h0m2 0h0m7 0h0m-198 1h0m49 0h0m62 0h0m57 0h0m3 0h0m27 0h0m-199 1h0m5 0h0m88 0h0m5 0h0m32 0h0m25 0h0m117 0h0m-254 1h0m96 0h0m15 0h0m23 0h0m43 0h0m61 0h0m-168 1h0m61 0h0m4 0h0m1 0h0m8 0h0m8 0h0m-174 1h0m61 0h0m27 0h0m3 0h0m54 0h0m4 0h0m50 0h0m80 0h0m-262 1h0m94 0h0m6 0h0m38 0h0m44 0h0m-219 1h0m64 0h0m135 0h0m33 0h0m-180 1h0m66 0h0m10 0h0m12 0h0m11 0h0m8 0h0m13 0h0m9 0h0m171 0h0m-325 1h0m7 0h0m85 0h0m58 0h0m8 0h0m9 0h0m27 0h0m-128 1h0m17 0h0m61 0h0m-157 1h0m14 0h0m79 0h0m16 0h0m86 0h0m7 0h0m-85 1h0m101 0h0m147 0h0m-254 1h0m11 0h0m16 0h0m37 0h0m-194 1h0m45 0h0m136 0h0m25 0h0m0 0h0m20 0h0m140 0h0m-234 1h0m5 0h0m8 0h0m10 0h0m7 0h0m42 0h0m109 0h0m-229 1h0m9 0h0m20 0h0m44 0h0m136 0h0m-282 1h0m5 0h0m41 0h0m13 0h0m26 0h0m7 0h0m9 0h0m29 0h0m40 0h0m27 0h0m8 0h0m-213 1h0m100 0h0m7 0h0m1 0h0m0 0h0m52 0h0m37 0h0m6 0h0m-203 1h0m78 0h0m16 0h0m4 0h0m47 0h0m51 0h0m7 0h0m102 0h0m4 0h0m3 0h0m-215 1h0m63 0h0m13 0h0m10 0h0m25 0h0m66 0h0m8 0h0m35 0h0m36 0h0m-355 1h0m109 0h0m12 0h0m80 0h0m8 0h0m45 0h0m34 0h0m9 1h0m1 0h0m-174 1h0m5 0h0m49 0h0m7 0h0m39 0h0m64 0h0m-292 1h0m106 0h0m49 0h0m3 0h0m7 0h0m8 0h0m33 0h0m45 0h0m52 0h0m-299 1h0m102 0h0m37 0h0m55 0h0m1 0h0m-183 1h0m95 0h0m41 0h0m52 0h0m13 0h0m26 0h0m-151 1h0m40 0h0m1 0h0m5 0h0m13 0h0m10 0h0m50 0h0m150 0h0m-306 1h0m51 0h0m4 0h0m4 0h0m42 0h0m92 0h0m-214 1h0m37 0h0m18 0h0m9 0h0m1 0h0m7 0h0m5 0h0m15 0h0m43 0h0m0 0h0m41 0h0m14 0h0m2 0h0m33 0h0m41 0h0m-210 1h0m61 0h0m148 0h0m-261 1h0m3 0h0m19 0h0m39 0h0m123 0h0m0 0h0m19 0h0m48 0h0m4 0h0m12 0h0m-255 1h0m60 0h0m2 0h0m37 0h0m1 0h0m17 0h0m39 0h0m7 0h0m3 0h0m80 0h0m-285 1h0m94 0h0m3 0h0m25 0h0m16 0h0m20 0h0m3 0h0m11 0h0m24 0h0m11 0h0m6 0h0m22 0h0m61 0h0m4 0h0m-287 1h0m37 0h0m37 0h0m0 0h0m5 0h0m67 0h0m12 0h0m3 0h0m-190 1h0m66 0h0m76 0h0m20 0h0m22 0h0m2 0h0m60 0h0m75 0h0m32 0h0m-252 1h0m23 0h0m30 0h0m8 0h0m0 0h0m22 0h0m13 0h0m69 0h0m55 0h0m-286 1h0m15 0h0m23 0h0m15 0h0m36 0h0m1 0h0m46 0h0m54 0h0m16 0h0m2 0h0m8 0h0m29 0h0m-238 1h0m105 0h0m79 0h0m28 0h0m-217 1h0m18 0h0m29 0h0m27 0h0m52 0h0m-31 1h0m50 0h0m80 0h0m-245 1h0m12 0h0m5 0h0m7 0h0m102 0h0m3 0h0m-120 1h0m68 0h0m28 0h0m40 0h0m89 0h0m62 0h0m-282 1h0m83 0h0m13 0h0m27 0h0m2 0h0m23 0h0m14 0h0m3 0h0m2 0h0m43 0h0m-153 1h0m44 0h0m32 0h0m25 0h0m-181 1h0m107 0h0m102 0h0m91 0h0m-311 1h0m58 0h0m77 0h0m50 0h0m26 0h0m1 0h0m-183 1h0m16 0h0m17 0h0m33 0h0m-68 1h0m109 0h0m127 0h0m-159 1h0m9 0h0m1 0h0m11 0h0m49 0h0m46 0h0m-165 1h0m27 0h0m6 0h0m12 0h0m7 0h0m13 0h0m60 0h0m24 0h0m-78 1h0m58 0h0m26 0h0m5 0h0m-205 1h0m90 0h0m6 0h0m1 0h0m2 0h0m98 0h0m-123 1h0m3 0h0m20 0h0m20 0h0m-37 1h0m5 0h0m25 0h0m51 0h0m26 0h0m-120 1h0m22 0h0m24 0h0m83 0h0m-210 1h0m50 0h0m56 0h0m114 0h0m-188 1h0m1 0h0m101 0h0m6 0h0m77 0h0m-172 1h0m43 0h0m18 0h0m19 0h0m54 0h0m29 0h0m9 0h0m-172 1h0m19 0h0m17 0h0m31 0h0m-78 1h0m7 0h0m58 0h0m56 0h0m9 0h0m6 0h0m-166 1h0m33 0h0m52 0h0m125 0h0m48 0h0m-224 1h0m76 0h0m23 0h0m13 0h0m52 0h0m2 0h0m4 0h0m17 0h0m-220 1h0m206 0h0m4 0h0m-156 1h0m59 0h0m3 0h0m34 0h0m12 0h0m27 0h0m29 0h0m-188 1h0m104 0h0m1 0h0m22 0h0m4 0h0m54 0h0m-176 1h0m120 0h0m51 0h0m3 0h0m16 0h0m-156 1h0m16 0h0m-89 1h0m77 0h0m75 0h0m53 0h0m-217 1h0m58 0h0m32 0h0m24 0h0m116 0h0m-237 1h0m51 0h0m43 0h0m8 0h0m4 0h0m5 0h0m-113 1h0m8 0h0m29 0h0m15 0h0m19 0h0m27 0h0m12 0h0m23 0h0m30 1h0m72 0h0m13 0h0m6 0h0m-209 1h0m24 0h0m111 0h0m33 0h0m2 0h0m-113 1h0m71 0h0m6 0h0m13 0h0m42 0h0m-167 1h0m3 0h0m53 0h0m28 0h0m23 0h0m53 0h0m3 0h0m-212 1h0m25 0h0m170 0h0m40 0h0m5 0h0m-225 1h0m49 0h0m5 0h0m64 0h0m18 0h0m39 0h0m4 0h0m27 0h0m14 0h0m-232 1h0m35 0h0m35 0h0m66 0h0m6 0h0m-87 1h0m21 0h0m52 0h0m65 0h0m22 0h0m13 0h0m-212 1h0m14 0h0m7 0h0m18 0h0m14 0h0m22 0h0m11 0h0m2 0h0m79 0h0m2 0h0m-154 1h0m1 0h0m42 0h0m7 0h0m121 0h0m-188 1h0m26 0h0m22 0h0m8 0h0m48 0h0m-138 1h0m61 0h0m189 0h0m-202 1h0m38 0h0m1 0h0m23 0h0m40 0h0m-107 1h0m39 0h0m8 0h0m9 0h0m9 0h0m-70 1h0m111 0h0m95 0h0m-99 1h0m48 1h0m17 0h0m4 0h0m3 0h0m22 0h0m-178 1h0m29 0h0m33 0h0m41 0h0m55 0h0m2 0h0m39 0h0m-180 1h0m21 0h0m50 0h0m89 0h0m-117 1h0m107 0h0m-144 1h0m26 0h0m21 0h0m81 0h0m18 0h0m7 0h0m-154 1h0m36 1h0m5 0h0m-36 1h0m64 0h0m28 0h0m46 0h0m6 0h0m-229 1h0m74 0h0m142 0h0m-195 1h0m70 0h0m58 0h0m-108 1h0m33 0h0m30 0h0m43 0h0m15 0h0m47 0h0m-141 1h0m6 0h0m43 0h0m22 0h0m60 0h0m21 0h0m-152 1h0m136 0h0m-160 1h0m43 0h0m23 0h0m126 0h0m4 0h0m-149 1h0m16 0h0m1 0h0m123 0h0m-262 1h0m106 0h0m25 0h0m34 0h0m111 0h0m-172 1h0m57 0h0m4 0h0m22 0h0m5 0h0m-107 1h0m19 0h0m42 0h0m21 0h0m8 0h0m19 0h0m15 0h0m58 0h0m4 0h0m-134 1h0m8 0h0m30 0h0m111 0h0m-191 1h0m3 0h0m51 0h0m83 0h0m24 0h0m-103 1h0m36 0h0m15 0h0m51 0h0m8 0h0m-194 1h0m38 0h0m8 0h0m1 0h0m143 0h0m-147 1h0m8 0h0m7 0h0m22 0h0m47 0h0m18 0h0m11 0h0m-139 1h0m24 0h0m23 0h0m23 0h0m23 0h0m44 0h0m14 0h0m6 0h0m-137 1h0m10 0h0m5 0h0m29 0h0m13 0h0m55 0h0m-133 1h0m12 0h0m3 0h0m67 0h0m2 0h0m10 0h0m31 0h0m52 0h0m-209 1h0m17 0h0m50 0h0m7 0h0m6 0h0m61 0h0m5 0h0m30 0h0m-117 1h0m123 0h0m22 0h0m-190 1h0m20 0h0m14 0h0m35 0h0m22 0h0m3 0h0m37 0h0m2 0h0m23 0h0m28 0h0m14 0h0m-198 1h0m15 0h0m9 0h0m19 0h0m10 0h0m79 0h0m8 0h0m11 0h0m31 0h0m-202 1h0m133 0h0m34 0h0m30 0h0m-141 1h0m1 0h0m10 0h0m30 0h0m33 0h0m11 0h0m49 0h0m7 0h0m20 0h0m-162 1h0m37 0h0m16 0h0m32 0h0m46 0h0m40 0h0m-149 1h0m45 0h0m17 0h0m64 0h0m11 0h0m-102 1h0m12 0h0m55 0h0m8 0h0m23 0h0m-147 1h0m63 0h0m11 0h0m3 0h0m17 0h0m22 0h0m-100 1h0m5 0h0m55 0h0m55 0h0m18 0h0m-196 1h0m13 0h0m55 0h0m10 0h0m35 0h0m61 0h0m19 0h0m-147 1h0m3 0h0m3 0h0m4 0h0m9 0h0m19 0h0m13 0h0m72 0h0m12 0h0m-166 1h0m3 0h0m25 0h0m39 0h0m4 0h0m15 0h0m11 0h0m2 0h0m2 0h0m20 0h0m0 0h0m3 0h0m23 0h0m5 0h0m16 0h0m-225 1h0m57 0h0m113 0h0m12 0h0m12 0h0m4 0h0m-176 1h0m102 0h0m13 0h0m41 0h0m19 0h0m11 0h0m5 0h0m-166 1h0m46 0h0m2 0h0m80 0h0m54 0h0m2 0h0m24 0h0m-231 1h0m48 0h0m21 0h0m106 0h0m22 0h0m-180 1h0m29 0h0m20 0h0m1 0h0m57 0h0m75 0h0m-220 1h0m73 0h0m37 0h0m30 0h0m27 0h0m2 0h0m16 0h0m-133 1h0m41 0h0m19 0h0m12 0h0m9 0h0m26 0h0m32 0h0m-202 1h0m3 0h0m66 0h0m74 0h0m46 0h0m5 0h0m-105 1h0m31 0h0m26 0h0m19 0h0m27 0h0m-185 1h0m119 0h0m16 0h0m42 0h0m22 0h0m-194 1h0m36 0h0m85 0h0m96 0h0m-314 1h0m67 0h0m-43 1h0m37 0h0m45 0h0m94 0h0m78 0h0m2 0h0m-238 1h0m40 0h0m7 0h0m4 0h0m39 0h0m94 0h0m46 0h0m8 0h0m-281 1h0m6 0h0m24 0h0m31 0h0m149 0h0m22 0h0m4 0h0m64 0h0m-302 1h0m6 0h0m43 0h0m39 0h0m23 0h0m10 0h0m46 0h0m39 0h0m4 0h0m21 0h0m61 0h0m-225 1h0m19 0h0m36 0h0m20 0h0m32 0h0m68 0h0m7 0h0m14 0h0m-204 1h0m62 0h0m21 0h0m29 0h0m5 0h0m80 0h0m4 0h0m57 0h0m-289 1h0m4 0h0m3 0h0m51 0h0m86 0h0m-154 1h0m8 0h0m122 0h0m67 0h0m27 0h0m26 0h0m-208 1h0m87 0h0m91 0h0m-140 1h0m-94 1h0m38 0h0m194 0h0m17 0h0m-220 1h0m19 0h0m1 0h0m16 0h0m-30 1h0m19 0h0m91 0h0m-69 1h0m84 0h0m-140 1h0m7 0h0m2 0h0m10 0h0m0 0h0m12 0h0m27 0h0m79 0h0m5 0h0m-143 1h0m47 0h0m108 0h0m-157 1h0m1 0h0m12 0h0m26 0h0m13 0h0m-27 1h0m122 0h0m0 0h0m-140 1h0m-9 1h0m7 0h0m140 0h0m7 0h0m17 1h0m-7 2h0m-13 1h0m18 0h0m-162 1h0m132 1h0m147 0h0m-149 1h0m-122 2h0m8 0h0m116 0h0m14 2h0m25 0h0m-41 1h0m10 1h0m-56 1h0m59 0h0m-3 1h0m1 0h0m-62 2h0m60 0h0m25 0h0m-16 1h0m-12 1h0m12 1h0m-69 1h0m54 1h0m5 0h0m5 1h0m2 0h0m2 0h0m-12 2h0m9 0h0m6 0h0m-21 2h0m6 0h0m4 0h0m7 0h0m-4 2h0m-8 4h0m2 0h0m1 0h0m-3 3h0m7 4h0m3 0h0m0 0h0m5 0h0m-1 2h0m-11 2h0m9 3h0m-4 4h0"/>
</svg>
<svg class="ax" width="1822" height="756" viewBox="0 0 1822 756">
 <g fill="none" stroke="#000" stroke-width="5">
  <path d="M164.5 500V658.2H322"/>
  <path d="M1081.5 500V658.6H1239"/>
 </g>
 <g fill="#000">
  <path d="M164.5 489L174.5 512L164.5 508L154.5 512Z"/>
  <path d="M333.5 658.2L311 668.2L315 658.2L311 648.2Z"/>
  <path d="M1081.5 489L1091.5 512L1081.5 508L1071.5 512Z"/>
  <path d="M1250.5 658.6L1228 668.6L1232 658.6L1228 648.6Z"/>
 </g>
</svg>
<div class="pl" style="left:18px;top:15px">F</div>
<div class="pl" style="left:984px;top:15px">G</div>
<div class="um" style="left:175px;top:673px;transform:scale(1.015,1.1);transform-origin:left top">UMAP<svg class="one" style="margin-left:0" viewBox="0 -1536 1139 1536"><path transform="scale(1,-1)" d="M763 0L583 0L583 1147Q518 1085 412 1023Q306 961 222 930L222 1104Q373 1175 486 1276Q599 1377 646 1472L763 1472Z"/></svg></div>
<div class="um" style="left:1093px;top:675px;transform:scale(1.015,1.08);transform-origin:left top">UMAP<svg class="one" style="margin-left:0" viewBox="0 -1536 1139 1536"><path transform="scale(1,-1)" d="M763 0L583 0L583 1147Q518 1085 412 1023Q306 961 222 930L222 1104Q373 1175 486 1276Q599 1377 646 1472L763 1472Z"/></svg></div>
<div class="um" style="left:51px;top:553px;transform:rotate(-90deg) scale(1.03,1.12);transform-origin:center">UMAP2</div>
<div class="um" style="left:969px;top:554px;transform:rotate(-90deg) scale(1.03,1.12);transform-origin:center">UMAP2</div>

<div class="lb" style="left:438px;top:45px;width:243px;height:83px;background:#aa40fc;color:#ffeaff">Osteo-lineage<br>Cells</div>
<div class="lb" style="left:41px;top:177px;width:249px;height:83px;padding-top:0;padding-bottom:1px;background:#d62728;color:#fff2f0">Osteochondral-<br>lineage Cells</div>
<div class="lb" style="left:613px;top:153px;width:196px;height:52px;background:#b5bd61;color:#fbffe6">Fibroblast 4</div>
<div class="lb" style="left:822px;top:217px;width:149px;height:81px;background:#8c564b;color:#fff2ec">Cycling<br>Cells</div>
<div class="lb" style="left:136px;top:345px;width:194px;height:52px;background:#279e68;color:#ecfff4">Fibroblast 3</div>
<div class="lb" style="left:691px;top:333px;width:207px;height:53px;background:#1f77b4;color:#f0f9ff">Fibroblast&nbsp;<svg class="one" style="margin-left:0.05em" viewBox="0 -1536 1139 1536"><path transform="scale(1,-1)" d="M763 0L583 0L583 1147Q518 1085 412 1023Q306 961 222 930L222 1104Q373 1175 486 1276Q599 1377 646 1472L763 1472Z"/></svg></div>
<div class="lb" style="left:619px;top:479px;width:208px;height:54px;background:#ff7f0e;color:#fff7e6">Fibroblast 2</div>
<div class="lb" style="left:190px;top:583px;width:150px;height:53px;background:#e377c2;color:#fff0fc">BMSCs</div>
<div class="lb pd" style="left:423px;top:575px;width:453px;height:67px">Pdgfr&#945;-expressing Cells</div>

<div class="lb big" style="left:1386px;top:54px;width:386px;height:106px;background:#124d8c;color:#f4f9ff">Non-regenerative<br>Cells</div>
<div class="lb big" style="left:1564px;top:436px;width:237px;height:105px;background:#d6a20e;color:#fffce8">Blastema<br>Cells</div>
<div class="lb pd" style="left:1355px;top:575px;width:453px;height:67px">Pdgfr&#945;-expressing Cells</div>
</div></body></html>
